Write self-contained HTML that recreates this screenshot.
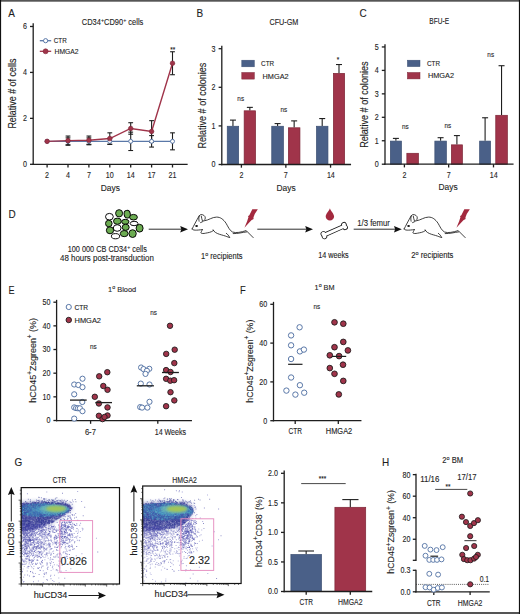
<!DOCTYPE html><html><head><meta charset="utf-8"><style>html,body{margin:0;padding:0;background:#fff;width:520px;height:614px;overflow:hidden}svg{display:block;font-family:"Liberation Sans", sans-serif} text{stroke:#1e1e1e;stroke-width:0.12px;paint-order:stroke}</style></head><body>
<svg width="520" height="614" viewBox="0 0 520 614">
<defs><filter id="b1" x="-50%" y="-50%" width="200%" height="200%"><feGaussianBlur stdDeviation="1.2"/></filter><filter id="b2" x="-50%" y="-50%" width="200%" height="200%"><feGaussianBlur stdDeviation="2.2"/></filter></defs>
<rect width="520" height="614" fill="#fff"/>
<text transform="translate(8.2 16.8) scale(0.86 1)" font-size="11.6" text-anchor="start" fill="#1e1e1e">A</text>
<text x="81.8" y="25.42" font-size="8.2" fill="#1e1e1e" textLength="61.5" lengthAdjust="spacingAndGlyphs">CD34<tspan dy="-2.95" font-size="5.9">+</tspan><tspan dy="2.95">CD90<tspan dy="-2.95" font-size="5.9">+</tspan><tspan dy="2.95"> cells</tspan></tspan></text>
<line x1="33.2" y1="23.8" x2="33.2" y2="164.3" stroke="#1e1e1e" stroke-width="1.3" stroke-linecap="square"/>
<line x1="30" y1="164.3" x2="33.2" y2="164.3" stroke="#1e1e1e" stroke-width="1.3"/>
<text transform="translate(27 167.16) scale(0.86 1)" font-size="8.3" text-anchor="end" fill="#1e1e1e">0</text>
<line x1="30" y1="118.36" x2="33.2" y2="118.36" stroke="#1e1e1e" stroke-width="1.3"/>
<text transform="translate(27 121.22) scale(0.86 1)" font-size="8.3" text-anchor="end" fill="#1e1e1e">2</text>
<line x1="30" y1="72.42" x2="33.2" y2="72.42" stroke="#1e1e1e" stroke-width="1.3"/>
<text transform="translate(27 75.28) scale(0.86 1)" font-size="8.3" text-anchor="end" fill="#1e1e1e">4</text>
<line x1="30" y1="26.48" x2="33.2" y2="26.48" stroke="#1e1e1e" stroke-width="1.3"/>
<text transform="translate(27 29.34) scale(0.86 1)" font-size="8.3" text-anchor="end" fill="#1e1e1e">6</text>
<line x1="33.2" y1="164.3" x2="187" y2="164.3" stroke="#1e1e1e" stroke-width="1.3" stroke-linecap="square"/>
<line x1="47.1" y1="164.3" x2="47.1" y2="167.5" stroke="#1e1e1e" stroke-width="1.3"/>
<line x1="68" y1="164.3" x2="68" y2="167.5" stroke="#1e1e1e" stroke-width="1.3"/>
<line x1="88.9" y1="164.3" x2="88.9" y2="167.5" stroke="#1e1e1e" stroke-width="1.3"/>
<line x1="109.8" y1="164.3" x2="109.8" y2="167.5" stroke="#1e1e1e" stroke-width="1.3"/>
<line x1="130.7" y1="164.3" x2="130.7" y2="167.5" stroke="#1e1e1e" stroke-width="1.3"/>
<line x1="151.6" y1="164.3" x2="151.6" y2="167.5" stroke="#1e1e1e" stroke-width="1.3"/>
<line x1="172.5" y1="164.3" x2="172.5" y2="167.5" stroke="#1e1e1e" stroke-width="1.3"/>
<text transform="translate(47.1 178.06) scale(0.86 1)" font-size="8.3" text-anchor="middle" fill="#1e1e1e">2</text>
<text transform="translate(68 178.06) scale(0.86 1)" font-size="8.3" text-anchor="middle" fill="#1e1e1e">4</text>
<text transform="translate(88.9 178.06) scale(0.86 1)" font-size="8.3" text-anchor="middle" fill="#1e1e1e">7</text>
<text transform="translate(109.8 178.06) scale(0.86 1)" font-size="8.3" text-anchor="middle" fill="#1e1e1e">10</text>
<text transform="translate(130.7 178.06) scale(0.86 1)" font-size="8.3" text-anchor="middle" fill="#1e1e1e">14</text>
<text transform="translate(151.6 178.06) scale(0.86 1)" font-size="8.3" text-anchor="middle" fill="#1e1e1e">17</text>
<text transform="translate(172.5 178.06) scale(0.86 1)" font-size="8.3" text-anchor="middle" fill="#1e1e1e">21</text>
<text x="110.3" y="191.01" font-size="9.6" text-anchor="middle" textLength="19.2" lengthAdjust="spacingAndGlyphs" fill="#1e1e1e">Days</text>
<text transform="translate(16.18 93.6) rotate(-90)" x="0" y="0" font-size="10.1" text-anchor="middle" textLength="70" lengthAdjust="spacingAndGlyphs" fill="#1e1e1e">Relative # of cells</text>
<line x1="68" y1="144.78" x2="68" y2="137.88" stroke="#1e1e1e" stroke-width="1.1"/>
<line x1="65.6" y1="137.88" x2="70.4" y2="137.88" stroke="#1e1e1e" stroke-width="1.1"/>
<line x1="65.6" y1="144.78" x2="70.4" y2="144.78" stroke="#1e1e1e" stroke-width="1.1"/>
<line x1="68" y1="145.23" x2="68" y2="136.05" stroke="#1e1e1e" stroke-width="1.1"/>
<line x1="65.6" y1="136.05" x2="70.4" y2="136.05" stroke="#1e1e1e" stroke-width="1.1"/>
<line x1="65.6" y1="145.23" x2="70.4" y2="145.23" stroke="#1e1e1e" stroke-width="1.1"/>
<line x1="88.9" y1="144.78" x2="88.9" y2="137.88" stroke="#1e1e1e" stroke-width="1.1"/>
<line x1="86.5" y1="137.88" x2="91.3" y2="137.88" stroke="#1e1e1e" stroke-width="1.1"/>
<line x1="86.5" y1="144.78" x2="91.3" y2="144.78" stroke="#1e1e1e" stroke-width="1.1"/>
<line x1="88.9" y1="144.32" x2="88.9" y2="136.05" stroke="#1e1e1e" stroke-width="1.1"/>
<line x1="86.5" y1="136.05" x2="91.3" y2="136.05" stroke="#1e1e1e" stroke-width="1.1"/>
<line x1="86.5" y1="144.32" x2="91.3" y2="144.32" stroke="#1e1e1e" stroke-width="1.1"/>
<line x1="109.8" y1="144.32" x2="109.8" y2="138.34" stroke="#1e1e1e" stroke-width="1.1"/>
<line x1="107.4" y1="138.34" x2="112.2" y2="138.34" stroke="#1e1e1e" stroke-width="1.1"/>
<line x1="107.4" y1="144.32" x2="112.2" y2="144.32" stroke="#1e1e1e" stroke-width="1.1"/>
<line x1="109.8" y1="144.32" x2="109.8" y2="132.83" stroke="#1e1e1e" stroke-width="1.1"/>
<line x1="107.4" y1="132.83" x2="112.2" y2="132.83" stroke="#1e1e1e" stroke-width="1.1"/>
<line x1="107.4" y1="144.32" x2="112.2" y2="144.32" stroke="#1e1e1e" stroke-width="1.1"/>
<line x1="130.7" y1="150.52" x2="130.7" y2="132.14" stroke="#1e1e1e" stroke-width="1.1"/>
<line x1="128.3" y1="132.14" x2="133.1" y2="132.14" stroke="#1e1e1e" stroke-width="1.1"/>
<line x1="128.3" y1="150.52" x2="133.1" y2="150.52" stroke="#1e1e1e" stroke-width="1.1"/>
<line x1="130.7" y1="134.21" x2="130.7" y2="122.72" stroke="#1e1e1e" stroke-width="1.1"/>
<line x1="128.3" y1="122.72" x2="133.1" y2="122.72" stroke="#1e1e1e" stroke-width="1.1"/>
<line x1="128.3" y1="134.21" x2="133.1" y2="134.21" stroke="#1e1e1e" stroke-width="1.1"/>
<line x1="151.6" y1="147.07" x2="151.6" y2="135.59" stroke="#1e1e1e" stroke-width="1.1"/>
<line x1="149.2" y1="135.59" x2="154" y2="135.59" stroke="#1e1e1e" stroke-width="1.1"/>
<line x1="149.2" y1="147.07" x2="154" y2="147.07" stroke="#1e1e1e" stroke-width="1.1"/>
<line x1="151.6" y1="142.25" x2="151.6" y2="120.66" stroke="#1e1e1e" stroke-width="1.1"/>
<line x1="149.2" y1="120.66" x2="154" y2="120.66" stroke="#1e1e1e" stroke-width="1.1"/>
<line x1="149.2" y1="142.25" x2="154" y2="142.25" stroke="#1e1e1e" stroke-width="1.1"/>
<line x1="172.5" y1="149.83" x2="172.5" y2="132.83" stroke="#1e1e1e" stroke-width="1.1"/>
<line x1="170.1" y1="132.83" x2="174.9" y2="132.83" stroke="#1e1e1e" stroke-width="1.1"/>
<line x1="170.1" y1="149.83" x2="174.9" y2="149.83" stroke="#1e1e1e" stroke-width="1.1"/>
<line x1="172.5" y1="74.72" x2="172.5" y2="51.75" stroke="#1e1e1e" stroke-width="1.1"/>
<line x1="170.1" y1="51.75" x2="174.9" y2="51.75" stroke="#1e1e1e" stroke-width="1.1"/>
<line x1="170.1" y1="74.72" x2="174.9" y2="74.72" stroke="#1e1e1e" stroke-width="1.1"/>
<polyline points="47.1,141.33 68,141.33 88.9,141.33 109.8,141.33 130.7,141.33 151.6,141.33 172.5,141.33" fill="none" stroke="#5a78a8" stroke-width="1.4"/>
<circle cx="47.1" cy="141.33" r="2" fill="#fff" stroke="#5a78a8" stroke-width="1"/>
<circle cx="68" cy="141.33" r="2" fill="#fff" stroke="#5a78a8" stroke-width="1"/>
<circle cx="88.9" cy="141.33" r="2" fill="#fff" stroke="#5a78a8" stroke-width="1"/>
<circle cx="109.8" cy="141.33" r="2" fill="#fff" stroke="#5a78a8" stroke-width="1"/>
<circle cx="130.7" cy="141.33" r="2" fill="#fff" stroke="#5a78a8" stroke-width="1"/>
<circle cx="151.6" cy="141.33" r="2" fill="#fff" stroke="#5a78a8" stroke-width="1"/>
<circle cx="172.5" cy="141.33" r="2" fill="#fff" stroke="#5a78a8" stroke-width="1"/>
<polyline points="47.1,141.33 68,140.64 88.9,140.18 109.8,138.57 130.7,128.47 151.6,131.45 172.5,63.23" fill="none" stroke="#a0344a" stroke-width="1.4"/>
<circle cx="47.1" cy="141.33" r="2.3" fill="#a0344a" stroke="#7d2536" stroke-width="0.6"/>
<circle cx="68" cy="140.64" r="2.3" fill="#a0344a" stroke="#7d2536" stroke-width="0.6"/>
<circle cx="88.9" cy="140.18" r="2.3" fill="#a0344a" stroke="#7d2536" stroke-width="0.6"/>
<circle cx="109.8" cy="138.57" r="2.3" fill="#a0344a" stroke="#7d2536" stroke-width="0.6"/>
<circle cx="130.7" cy="128.47" r="2.3" fill="#a0344a" stroke="#7d2536" stroke-width="0.6"/>
<circle cx="151.6" cy="131.45" r="2.3" fill="#a0344a" stroke="#7d2536" stroke-width="0.6"/>
<circle cx="172.5" cy="63.23" r="2.3" fill="#a0344a" stroke="#7d2536" stroke-width="0.6"/>
<text transform="translate(172.7 51.64) scale(0.86 1)" font-size="7.4" text-anchor="middle" fill="#1e1e1e">**</text>
<line x1="39.8" y1="40.7" x2="51.2" y2="40.7" stroke="#5a78a8" stroke-width="1.3"/>
<circle cx="45.6" cy="40.7" r="2.1" fill="#fff" stroke="#5a78a8" stroke-width="1"/>
<text x="53.8" y="43.49" font-size="7.5" text-anchor="start" textLength="13" lengthAdjust="spacingAndGlyphs" fill="#1e1e1e">CTR</text>
<line x1="39.8" y1="51.3" x2="51.2" y2="51.3" stroke="#a0344a" stroke-width="1.3"/>
<circle cx="45.6" cy="51.3" r="2.5" fill="#a0344a" stroke="#7d2536" stroke-width="0.6"/>
<text x="54.6" y="53.99" font-size="7.5" text-anchor="start" textLength="24" lengthAdjust="spacingAndGlyphs" fill="#1e1e1e">HMGA2</text>
<text transform="translate(196.6 17.2) scale(0.86 1)" font-size="11.6" text-anchor="start" fill="#1e1e1e">B</text>
<text x="283.9" y="25.16" font-size="8.3" text-anchor="middle" textLength="29" lengthAdjust="spacingAndGlyphs" fill="#1e1e1e">CFU-GM</text>
<line x1="221.8" y1="46.5" x2="221.8" y2="164.5" stroke="#1e1e1e" stroke-width="1.3" stroke-linecap="square"/>
<line x1="218.6" y1="164.5" x2="221.8" y2="164.5" stroke="#1e1e1e" stroke-width="1.3"/>
<text transform="translate(215.6 167.36) scale(0.86 1)" font-size="8.3" text-anchor="end" fill="#1e1e1e">0</text>
<line x1="218.6" y1="125.9" x2="221.8" y2="125.9" stroke="#1e1e1e" stroke-width="1.3"/>
<text transform="translate(215.6 128.76) scale(0.86 1)" font-size="8.3" text-anchor="end" fill="#1e1e1e">1</text>
<line x1="218.6" y1="87.3" x2="221.8" y2="87.3" stroke="#1e1e1e" stroke-width="1.3"/>
<text transform="translate(215.6 90.16) scale(0.86 1)" font-size="8.3" text-anchor="end" fill="#1e1e1e">2</text>
<line x1="218.6" y1="48.7" x2="221.8" y2="48.7" stroke="#1e1e1e" stroke-width="1.3"/>
<text transform="translate(215.6 51.56) scale(0.86 1)" font-size="8.3" text-anchor="end" fill="#1e1e1e">3</text>
<line x1="232.95" y1="125.9" x2="232.95" y2="120.11" stroke="#1e1e1e" stroke-width="1.1"/>
<line x1="229.95" y1="120.11" x2="235.95" y2="120.11" stroke="#1e1e1e" stroke-width="1.1"/>
<rect x="227.25" y="126.25" width="11.4" height="38.25" fill="#4a6088" stroke="#3b4f73" stroke-width="0.7"/>
<line x1="249.85" y1="110.46" x2="249.85" y2="107.37" stroke="#1e1e1e" stroke-width="1.1"/>
<line x1="246.85" y1="107.37" x2="252.85" y2="107.37" stroke="#1e1e1e" stroke-width="1.1"/>
<rect x="244.15" y="110.81" width="11.4" height="53.69" fill="#a0344a" stroke="#7d2536" stroke-width="0.7"/>
<line x1="277.6" y1="125.9" x2="277.6" y2="123.58" stroke="#1e1e1e" stroke-width="1.1"/>
<line x1="274.6" y1="123.58" x2="280.6" y2="123.58" stroke="#1e1e1e" stroke-width="1.1"/>
<rect x="271.75" y="126.25" width="11.7" height="38.25" fill="#4a6088" stroke="#3b4f73" stroke-width="0.7"/>
<line x1="294.15" y1="127.44" x2="294.15" y2="120.88" stroke="#1e1e1e" stroke-width="1.1"/>
<line x1="291.15" y1="120.88" x2="297.15" y2="120.88" stroke="#1e1e1e" stroke-width="1.1"/>
<rect x="288.35" y="127.79" width="11.6" height="36.71" fill="#a0344a" stroke="#7d2536" stroke-width="0.7"/>
<line x1="322.2" y1="125.9" x2="322.2" y2="118.57" stroke="#1e1e1e" stroke-width="1.1"/>
<line x1="319.2" y1="118.57" x2="325.2" y2="118.57" stroke="#1e1e1e" stroke-width="1.1"/>
<rect x="316.45" y="126.25" width="11.5" height="38.25" fill="#4a6088" stroke="#3b4f73" stroke-width="0.7"/>
<line x1="339" y1="73.02" x2="339" y2="64.53" stroke="#1e1e1e" stroke-width="1.1"/>
<line x1="336" y1="64.53" x2="342" y2="64.53" stroke="#1e1e1e" stroke-width="1.1"/>
<rect x="333.35" y="73.37" width="11.3" height="91.13" fill="#a0344a" stroke="#7d2536" stroke-width="0.7"/>
<line x1="221.8" y1="164.5" x2="350.4" y2="164.5" stroke="#1e1e1e" stroke-width="1.3" stroke-linecap="square"/>
<line x1="241.4" y1="164.5" x2="241.4" y2="167.7" stroke="#1e1e1e" stroke-width="1.3"/>
<line x1="285.85" y1="164.5" x2="285.85" y2="167.7" stroke="#1e1e1e" stroke-width="1.3"/>
<line x1="330.55" y1="164.5" x2="330.55" y2="167.7" stroke="#1e1e1e" stroke-width="1.3"/>
<text transform="translate(241.4 178.06) scale(0.86 1)" font-size="8.3" text-anchor="middle" fill="#1e1e1e">2</text>
<text transform="translate(285.85 178.06) scale(0.86 1)" font-size="8.3" text-anchor="middle" fill="#1e1e1e">7</text>
<text transform="translate(330.85 178.06) scale(0.86 1)" font-size="8.3" text-anchor="middle" fill="#1e1e1e">14</text>
<text x="286" y="191.01" font-size="9.6" text-anchor="middle" textLength="19.2" lengthAdjust="spacingAndGlyphs" fill="#1e1e1e">Days</text>
<text transform="translate(240.7 101.22) scale(0.86 1)" font-size="7.4" text-anchor="middle" fill="#1e1e1e">ns</text>
<text transform="translate(283.8 112.32) scale(0.86 1)" font-size="7.4" text-anchor="middle" fill="#1e1e1e">ns</text>
<text transform="translate(338.1 62.44) scale(0.86 1)" font-size="7.4" text-anchor="middle" fill="#1e1e1e">*</text>
<rect x="241.8" y="60.2" width="12.5" height="6.6" fill="#4a6088" stroke="#3b4f73" stroke-width="0.5"/>
<rect x="241.8" y="72.5" width="12.5" height="6.6" fill="#a0344a" stroke="#7d2536" stroke-width="0.5"/>
<text x="261.1" y="66.29" font-size="7.5" text-anchor="start" textLength="13" lengthAdjust="spacingAndGlyphs" fill="#1e1e1e">CTR</text>
<text x="262.6" y="78.59" font-size="7.5" text-anchor="start" textLength="26" lengthAdjust="spacingAndGlyphs" fill="#1e1e1e">HMGA2</text>
<text transform="translate(206.38 105.6) rotate(-90)" x="0" y="0" font-size="10.1" text-anchor="middle" textLength="85.8" lengthAdjust="spacingAndGlyphs" fill="#1e1e1e">Relative # of colonies</text>
<text transform="translate(359.5 16.8) scale(0.86 1)" font-size="11.6" text-anchor="start" fill="#1e1e1e">C</text>
<text x="439.2" y="24.46" font-size="8.3" text-anchor="middle" textLength="19.7" lengthAdjust="spacingAndGlyphs" fill="#1e1e1e">BFU-E</text>
<line x1="385" y1="45" x2="385" y2="164.2" stroke="#1e1e1e" stroke-width="1.3" stroke-linecap="square"/>
<line x1="381.8" y1="164.2" x2="385" y2="164.2" stroke="#1e1e1e" stroke-width="1.3"/>
<text transform="translate(378.8 167.06) scale(0.86 1)" font-size="8.3" text-anchor="end" fill="#1e1e1e">0</text>
<line x1="381.8" y1="140.75" x2="385" y2="140.75" stroke="#1e1e1e" stroke-width="1.3"/>
<text transform="translate(378.8 143.61) scale(0.86 1)" font-size="8.3" text-anchor="end" fill="#1e1e1e">1</text>
<line x1="381.8" y1="117.3" x2="385" y2="117.3" stroke="#1e1e1e" stroke-width="1.3"/>
<text transform="translate(378.8 120.16) scale(0.86 1)" font-size="8.3" text-anchor="end" fill="#1e1e1e">2</text>
<line x1="381.8" y1="93.85" x2="385" y2="93.85" stroke="#1e1e1e" stroke-width="1.3"/>
<text transform="translate(378.8 96.71) scale(0.86 1)" font-size="8.3" text-anchor="end" fill="#1e1e1e">3</text>
<line x1="381.8" y1="70.4" x2="385" y2="70.4" stroke="#1e1e1e" stroke-width="1.3"/>
<text transform="translate(378.8 73.26) scale(0.86 1)" font-size="8.3" text-anchor="end" fill="#1e1e1e">4</text>
<line x1="381.8" y1="46.95" x2="385" y2="46.95" stroke="#1e1e1e" stroke-width="1.3"/>
<text transform="translate(378.8 49.81) scale(0.86 1)" font-size="8.3" text-anchor="end" fill="#1e1e1e">5</text>
<line x1="395.9" y1="140.75" x2="395.9" y2="138.4" stroke="#1e1e1e" stroke-width="1.1"/>
<line x1="392.9" y1="138.4" x2="398.9" y2="138.4" stroke="#1e1e1e" stroke-width="1.1"/>
<rect x="390.35" y="141.1" width="11.1" height="23.1" fill="#4a6088" stroke="#3b4f73" stroke-width="0.7"/>
<rect x="406.85" y="153.29" width="11.6" height="10.91" fill="#a0344a" stroke="#7d2536" stroke-width="0.7"/>
<line x1="440.6" y1="140.75" x2="440.6" y2="137.7" stroke="#1e1e1e" stroke-width="1.1"/>
<line x1="437.6" y1="137.7" x2="443.6" y2="137.7" stroke="#1e1e1e" stroke-width="1.1"/>
<rect x="434.85" y="141.1" width="11.5" height="23.1" fill="#4a6088" stroke="#3b4f73" stroke-width="0.7"/>
<line x1="456.9" y1="144.5" x2="456.9" y2="135.59" stroke="#1e1e1e" stroke-width="1.1"/>
<line x1="453.9" y1="135.59" x2="459.9" y2="135.59" stroke="#1e1e1e" stroke-width="1.1"/>
<rect x="451.35" y="144.85" width="11.1" height="19.35" fill="#a0344a" stroke="#7d2536" stroke-width="0.7"/>
<line x1="485.1" y1="140.75" x2="485.1" y2="117.77" stroke="#1e1e1e" stroke-width="1.1"/>
<line x1="482.1" y1="117.77" x2="488.1" y2="117.77" stroke="#1e1e1e" stroke-width="1.1"/>
<rect x="479.65" y="141.1" width="10.9" height="23.1" fill="#4a6088" stroke="#3b4f73" stroke-width="0.7"/>
<line x1="501.55" y1="114.95" x2="501.55" y2="65.71" stroke="#1e1e1e" stroke-width="1.1"/>
<line x1="498.55" y1="65.71" x2="504.55" y2="65.71" stroke="#1e1e1e" stroke-width="1.1"/>
<rect x="495.75" y="115.3" width="11.6" height="48.9" fill="#a0344a" stroke="#7d2536" stroke-width="0.7"/>
<line x1="385" y1="164.2" x2="512.9" y2="164.2" stroke="#1e1e1e" stroke-width="1.3" stroke-linecap="square"/>
<line x1="404.4" y1="164.2" x2="404.4" y2="167.4" stroke="#1e1e1e" stroke-width="1.3"/>
<line x1="448.65" y1="164.2" x2="448.65" y2="167.4" stroke="#1e1e1e" stroke-width="1.3"/>
<line x1="493.5" y1="164.2" x2="493.5" y2="167.4" stroke="#1e1e1e" stroke-width="1.3"/>
<text transform="translate(404.4 178.06) scale(0.86 1)" font-size="8.3" text-anchor="middle" fill="#1e1e1e">2</text>
<text transform="translate(448.65 178.06) scale(0.86 1)" font-size="8.3" text-anchor="middle" fill="#1e1e1e">7</text>
<text transform="translate(493.8 178.06) scale(0.86 1)" font-size="8.3" text-anchor="middle" fill="#1e1e1e">14</text>
<text x="448" y="190.11" font-size="9.6" text-anchor="middle" textLength="19.2" lengthAdjust="spacingAndGlyphs" fill="#1e1e1e">Days</text>
<text transform="translate(405.3 128.82) scale(0.86 1)" font-size="7.4" text-anchor="middle" fill="#1e1e1e">ns</text>
<text transform="translate(447.9 127.62) scale(0.86 1)" font-size="7.4" text-anchor="middle" fill="#1e1e1e">ns</text>
<text transform="translate(490.7 57.22) scale(0.86 1)" font-size="7.4" text-anchor="middle" fill="#1e1e1e">ns</text>
<rect x="407.4" y="60.2" width="12.6" height="6.4" fill="#4a6088" stroke="#3b4f73" stroke-width="0.5"/>
<rect x="407.4" y="72.5" width="12.6" height="6.4" fill="#a0344a" stroke="#7d2536" stroke-width="0.5"/>
<text x="427" y="66.19" font-size="7.5" text-anchor="start" textLength="13" lengthAdjust="spacingAndGlyphs" fill="#1e1e1e">CTR</text>
<text x="428" y="78.49" font-size="7.5" text-anchor="start" textLength="26" lengthAdjust="spacingAndGlyphs" fill="#1e1e1e">HMGA2</text>
<text transform="translate(368.38 104.6) rotate(-90)" x="0" y="0" font-size="10.1" text-anchor="middle" textLength="86.5" lengthAdjust="spacingAndGlyphs" fill="#1e1e1e">Relative # of colonies</text>
<text transform="translate(8.6 218.2) scale(0.86 1)" font-size="11.6" text-anchor="start" fill="#1e1e1e">D</text>
<ellipse cx="109.4" cy="216.7" rx="3.9" ry="3.3" fill="#fff" stroke="#000" stroke-width="0.95"/>
<ellipse cx="119.1" cy="213.3" rx="3.5" ry="3.65" fill="#6cac52" stroke="#000" stroke-width="0.95"/>
<ellipse cx="127.2" cy="214.2" rx="3.1" ry="3.9" fill="#6cac52" stroke="#000" stroke-width="0.95" transform="rotate(-10 127.2 214.2)"/>
<ellipse cx="133.5" cy="217.2" rx="3.9" ry="2.8" fill="#6cac52" stroke="#000" stroke-width="0.95"/>
<ellipse cx="108.8" cy="223.5" rx="3.3" ry="3.3" fill="#6cac52" stroke="#000" stroke-width="0.95"/>
<ellipse cx="117.4" cy="221.2" rx="3.9" ry="3.1" fill="#6cac52" stroke="#000" stroke-width="0.95"/>
<ellipse cx="125.3" cy="221.8" rx="3.65" ry="2.5" fill="#6cac52" stroke="#000" stroke-width="0.95"/>
<ellipse cx="134.1" cy="223.5" rx="3.9" ry="2.2" fill="#fff" stroke="#000" stroke-width="0.95"/>
<ellipse cx="139.6" cy="228.2" rx="3.5" ry="3.9" fill="#6cac52" stroke="#000" stroke-width="0.95"/>
<ellipse cx="117.2" cy="228" rx="3.9" ry="3.3" fill="#fff" stroke="#000" stroke-width="0.95"/>
<ellipse cx="125.7" cy="227.3" rx="3.5" ry="3.1" fill="#6cac52" stroke="#000" stroke-width="0.95"/>
<ellipse cx="110" cy="230.3" rx="3.65" ry="3.5" fill="#6cac52" stroke="#000" stroke-width="0.95"/>
<ellipse cx="124.2" cy="233.6" rx="3.9" ry="3.1" fill="#6cac52" stroke="#000" stroke-width="0.95"/>
<ellipse cx="132.6" cy="233.6" rx="3.65" ry="3.9" fill="#6cac52" stroke="#000" stroke-width="0.95"/>
<ellipse cx="115.5" cy="236.2" rx="4.1" ry="2.6" fill="#fff" stroke="#000" stroke-width="0.95"/>
<line x1="148.7" y1="229.2" x2="181.5" y2="229.2" stroke="#222" stroke-width="0.95"/>
<path d="M188,229.2 L180.2,226 L181.3,229.2 L180.2,232.4 Z" fill="#111"/>
<line x1="257.3" y1="229.2" x2="306.5" y2="229.2" stroke="#222" stroke-width="0.95"/>
<path d="M313,229.2 L305.2,226 L306.3,229.2 L305.2,232.4 Z" fill="#111"/>
<line x1="353.7" y1="229.2" x2="395.3" y2="229.2" stroke="#222" stroke-width="0.95"/>
<path d="M401.8,229.2 L394,226 L395.1,229.2 L394,232.4 Z" fill="#111"/>
<g transform="translate(0 0)">
<path d="M192.1,229 C193.6,226 196.5,220.5 199.3,215.6 M199.1,221.2 C198.4,218 199,214.9 200.9,214.6 C203,214.3 205.3,215.9 205.3,217.9 C205.3,220 203.2,221.8 200.6,222.6 M201.3,216.2 C201.6,218 201.9,219.5 202.5,221 M204.6,220.8 C209,220 212,217.2 216.5,217.1 C220.5,217 223.5,219.5 226,223.2 C228,226.5 229.5,230.5 232.5,232 C236,233.3 241,232.2 246.2,230.6 L253.2,237.6 M233.2,233.6 C238,233.8 242,232.4 246.6,231.9 M192.1,229 C193,230.6 196,230.4 202.3,229.6 M202.3,229.6 C201.8,231 201.1,232.2 200.8,232.8 C201.8,233.8 203.5,233.6 205.5,233.2 C208,232.6 211,232.6 213.6,230.4 M213.1,229.9 C214,232 216.5,233.3 219.5,234.3 C222.5,235.2 225,235.8 226.8,236.6 L229.8,237.6 C228.7,235.6 228,234.6 226.3,233.3" fill="none" stroke="#111" stroke-width="0.8" stroke-linecap="round" stroke-linejoin="round"/>
<ellipse cx="196.6" cy="226.1" rx="1.35" ry="1.0" fill="#111"/>
<polygon points="252.33,209.19 257.84,209.19 254.76,214.03 253.44,217.56 253.6,219.0 251.37,220.2 244.41,227.69 247.05,221.52 248.5,216.9 247.9,216.3 249.34,215.22" fill="#a3293e"/>
</g>
<g transform="translate(212 0)">
<path d="M192.1,229 C193.6,226 196.5,220.5 199.3,215.6 M199.1,221.2 C198.4,218 199,214.9 200.9,214.6 C203,214.3 205.3,215.9 205.3,217.9 C205.3,220 203.2,221.8 200.6,222.6 M201.3,216.2 C201.6,218 201.9,219.5 202.5,221 M204.6,220.8 C209,220 212,217.2 216.5,217.1 C220.5,217 223.5,219.5 226,223.2 C228,226.5 229.5,230.5 232.5,232 C236,233.3 241,232.2 246.2,230.6 L253.2,237.6 M233.2,233.6 C238,233.8 242,232.4 246.6,231.9 M192.1,229 C193,230.6 196,230.4 202.3,229.6 M202.3,229.6 C201.8,231 201.1,232.2 200.8,232.8 C201.8,233.8 203.5,233.6 205.5,233.2 C208,232.6 211,232.6 213.6,230.4 M213.1,229.9 C214,232 216.5,233.3 219.5,234.3 C222.5,235.2 225,235.8 226.8,236.6 L229.8,237.6 C228.7,235.6 228,234.6 226.3,233.3" fill="none" stroke="#111" stroke-width="0.8" stroke-linecap="round" stroke-linejoin="round"/>
<ellipse cx="196.6" cy="226.1" rx="1.35" ry="1.0" fill="#111"/>
<polygon points="252.33,209.19 257.84,209.19 254.76,214.03 253.44,217.56 253.6,219.0 251.37,220.2 244.41,227.69 247.05,221.52 248.5,216.9 247.9,216.3 249.34,215.22" fill="#a3293e"/>
</g>
<path d="M329.9,208.2 C330.5,211 334.1,213.6 334.1,216.4 A4.2,4.2 0 0 1 325.7,216.4 C325.7,213.6 329.3,211 329.9,208.2 Z" fill="#a3293e"/>
<g transform="translate(334.2 230.6) rotate(-24)">
<g fill="#111" stroke="#111" stroke-width="1.5"><g><rect x="-10.5" y="-1.5" width="21" height="3"/><circle cx="-11.3" cy="-1.4" r="2.0"/><circle cx="-11.3" cy="1.4" r="2.0"/><circle cx="11.3" cy="-1.4" r="2.0"/><circle cx="11.3" cy="1.4" r="2.0"/></g></g>
<g fill="#fff" stroke="none"><g><rect x="-10.5" y="-1.5" width="21" height="3"/><circle cx="-11.3" cy="-1.4" r="2.0"/><circle cx="-11.3" cy="1.4" r="2.0"/><circle cx="11.3" cy="-1.4" r="2.0"/><circle cx="11.3" cy="1.4" r="2.0"/></g></g>
</g>
<text x="67.7" y="252.06" font-size="8.3" fill="#1e1e1e" textLength="79.2" lengthAdjust="spacingAndGlyphs">100 000 CB CD34<tspan dy="-2.99" font-size="5.98">+</tspan><tspan dy="2.99"> cells</tspan></text>
<text x="106.9" y="261.06" font-size="8.3" text-anchor="middle" textLength="93.8" lengthAdjust="spacingAndGlyphs" fill="#1e1e1e">48 hours post-transduction</text>
<text x="221.8" y="258.96" font-size="8.3" text-anchor="middle" textLength="41.5" lengthAdjust="spacingAndGlyphs" fill="#1e1e1e">1<tspan dy="-2.99" font-size="5.98">o</tspan><tspan dy="2.99"> recipients</tspan></text>
<text x="333.4" y="258.36" font-size="8.3" text-anchor="middle" textLength="30.5" lengthAdjust="spacingAndGlyphs" fill="#1e1e1e">14 weeks</text>
<text x="373.6" y="225.96" font-size="8.3" text-anchor="middle" textLength="32.7" lengthAdjust="spacingAndGlyphs" fill="#1e1e1e">1/3 femur</text>
<text x="432.4" y="258.46" font-size="8.3" text-anchor="middle" textLength="42.1" lengthAdjust="spacingAndGlyphs" fill="#1e1e1e">2<tspan dy="-2.99" font-size="5.98">o</tspan><tspan dy="2.99"> recipients</tspan></text>
<text transform="translate(8.5 294.2) scale(0.78 1)" font-size="11.6" text-anchor="start" fill="#1e1e1e">E</text>
<text x="122.1" y="291.62" font-size="7.6" text-anchor="middle" textLength="28" lengthAdjust="spacingAndGlyphs" fill="#1e1e1e">1<tspan dy="-2.74" font-size="5.47">o</tspan><tspan dy="2.74"> Blood</tspan></text>
<line x1="56.6" y1="300.5" x2="56.6" y2="420.6" stroke="#1e1e1e" stroke-width="1.3" stroke-linecap="square"/>
<line x1="53.4" y1="420.5" x2="56.6" y2="420.5" stroke="#1e1e1e" stroke-width="1.3"/>
<text transform="translate(50.4 423.36) scale(0.86 1)" font-size="8.3" text-anchor="end" fill="#1e1e1e">0</text>
<line x1="53.4" y1="396.84" x2="56.6" y2="396.84" stroke="#1e1e1e" stroke-width="1.3"/>
<text transform="translate(50.4 399.7) scale(0.86 1)" font-size="8.3" text-anchor="end" fill="#1e1e1e">10</text>
<line x1="53.4" y1="373.18" x2="56.6" y2="373.18" stroke="#1e1e1e" stroke-width="1.3"/>
<text transform="translate(50.4 376.04) scale(0.86 1)" font-size="8.3" text-anchor="end" fill="#1e1e1e">20</text>
<line x1="53.4" y1="349.52" x2="56.6" y2="349.52" stroke="#1e1e1e" stroke-width="1.3"/>
<text transform="translate(50.4 352.38) scale(0.86 1)" font-size="8.3" text-anchor="end" fill="#1e1e1e">30</text>
<line x1="53.4" y1="325.86" x2="56.6" y2="325.86" stroke="#1e1e1e" stroke-width="1.3"/>
<text transform="translate(50.4 328.72) scale(0.86 1)" font-size="8.3" text-anchor="end" fill="#1e1e1e">40</text>
<line x1="53.4" y1="302.2" x2="56.6" y2="302.2" stroke="#1e1e1e" stroke-width="1.3"/>
<text transform="translate(50.4 305.06) scale(0.86 1)" font-size="8.3" text-anchor="end" fill="#1e1e1e">50</text>
<line x1="56.6" y1="420.6" x2="191.3" y2="420.6" stroke="#1e1e1e" stroke-width="1.3" stroke-linecap="square"/>
<line x1="90.6" y1="420.6" x2="90.6" y2="423.8" stroke="#1e1e1e" stroke-width="1.3"/>
<line x1="157.8" y1="420.6" x2="157.8" y2="423.8" stroke="#1e1e1e" stroke-width="1.3"/>
<text x="90.4" y="434.56" font-size="8.3" text-anchor="middle" textLength="11" lengthAdjust="spacingAndGlyphs" fill="#1e1e1e">6-7</text>
<text x="170.4" y="434.56" font-size="8.3" text-anchor="middle" textLength="31.4" lengthAdjust="spacingAndGlyphs" fill="#1e1e1e">14 Weeks</text>
<text transform="translate(35.6 360.3) rotate(-90)" font-size="9.3" text-anchor="middle" fill="#1e1e1e" textLength="84.7" lengthAdjust="spacingAndGlyphs">hCD45<tspan dy="-3.35" font-size="6.7">+</tspan><tspan dy="3.35">Zsgreen<tspan dy="-3.35" font-size="6.7">+</tspan><tspan dy="3.35"> (%)</tspan></tspan></text>
<circle cx="82.5" cy="378.7" r="2.6" fill="#fff" stroke="#5a78a8" stroke-width="1"/>
<circle cx="74.2" cy="384.5" r="2.6" fill="#fff" stroke="#5a78a8" stroke-width="1"/>
<circle cx="78.3" cy="385" r="2.6" fill="#fff" stroke="#5a78a8" stroke-width="1"/>
<circle cx="82.5" cy="387.2" r="2.6" fill="#fff" stroke="#5a78a8" stroke-width="1"/>
<circle cx="74.2" cy="394.3" r="2.6" fill="#fff" stroke="#5a78a8" stroke-width="1"/>
<circle cx="82.3" cy="402" r="2.6" fill="#fff" stroke="#5a78a8" stroke-width="1"/>
<circle cx="74.2" cy="407.4" r="2.6" fill="#fff" stroke="#5a78a8" stroke-width="1"/>
<circle cx="76.1" cy="408.1" r="2.6" fill="#fff" stroke="#5a78a8" stroke-width="1"/>
<circle cx="78" cy="408.3" r="2.6" fill="#fff" stroke="#5a78a8" stroke-width="1"/>
<circle cx="79.9" cy="408.3" r="2.6" fill="#fff" stroke="#5a78a8" stroke-width="1"/>
<circle cx="82.5" cy="411.2" r="2.6" fill="#fff" stroke="#5a78a8" stroke-width="1"/>
<circle cx="74.2" cy="418.6" r="2.6" fill="#fff" stroke="#5a78a8" stroke-width="1"/>
<circle cx="141.1" cy="367.5" r="2.6" fill="#fff" stroke="#5a78a8" stroke-width="1"/>
<circle cx="143.5" cy="369.1" r="2.6" fill="#fff" stroke="#5a78a8" stroke-width="1"/>
<circle cx="149.3" cy="368.8" r="2.6" fill="#fff" stroke="#5a78a8" stroke-width="1"/>
<circle cx="146.9" cy="370.8" r="2.6" fill="#fff" stroke="#5a78a8" stroke-width="1"/>
<circle cx="145.5" cy="373.9" r="2.6" fill="#fff" stroke="#5a78a8" stroke-width="1"/>
<circle cx="140.8" cy="383.6" r="2.6" fill="#fff" stroke="#5a78a8" stroke-width="1"/>
<circle cx="149.5" cy="384.5" r="2.6" fill="#fff" stroke="#5a78a8" stroke-width="1"/>
<circle cx="149.5" cy="401.8" r="2.6" fill="#fff" stroke="#5a78a8" stroke-width="1"/>
<circle cx="140.2" cy="407.1" r="2.6" fill="#fff" stroke="#5a78a8" stroke-width="1"/>
<circle cx="142.1" cy="407.6" r="2.6" fill="#fff" stroke="#5a78a8" stroke-width="1"/>
<circle cx="147.4" cy="407.6" r="2.6" fill="#fff" stroke="#5a78a8" stroke-width="1"/>
<circle cx="107.3" cy="372.2" r="2.75" fill="#a0344a" stroke="#1a1a1a" stroke-width="0.85"/>
<circle cx="99.2" cy="376.3" r="2.75" fill="#a0344a" stroke="#1a1a1a" stroke-width="0.85"/>
<circle cx="103.3" cy="386" r="2.75" fill="#a0344a" stroke="#1a1a1a" stroke-width="0.85"/>
<circle cx="107.5" cy="389.8" r="2.75" fill="#a0344a" stroke="#1a1a1a" stroke-width="0.85"/>
<circle cx="94.8" cy="396.8" r="2.75" fill="#a0344a" stroke="#1a1a1a" stroke-width="0.85"/>
<circle cx="98.9" cy="403.5" r="2.75" fill="#a0344a" stroke="#1a1a1a" stroke-width="0.85"/>
<circle cx="107.5" cy="407.4" r="2.75" fill="#a0344a" stroke="#1a1a1a" stroke-width="0.85"/>
<circle cx="98.9" cy="415.8" r="2.75" fill="#a0344a" stroke="#1a1a1a" stroke-width="0.85"/>
<circle cx="107.5" cy="415.5" r="2.75" fill="#a0344a" stroke="#1a1a1a" stroke-width="0.85"/>
<circle cx="102.5" cy="419.1" r="2.75" fill="#a0344a" stroke="#1a1a1a" stroke-width="0.85"/>
<circle cx="104.5" cy="417" r="2.75" fill="#a0344a" stroke="#1a1a1a" stroke-width="0.85"/>
<circle cx="170" cy="325.8" r="2.75" fill="#a0344a" stroke="#1a1a1a" stroke-width="0.85"/>
<circle cx="174.7" cy="349.7" r="2.75" fill="#a0344a" stroke="#1a1a1a" stroke-width="0.85"/>
<circle cx="166.2" cy="353.9" r="2.75" fill="#a0344a" stroke="#1a1a1a" stroke-width="0.85"/>
<circle cx="174.3" cy="363.1" r="2.75" fill="#a0344a" stroke="#1a1a1a" stroke-width="0.85"/>
<circle cx="166.1" cy="370.1" r="2.75" fill="#a0344a" stroke="#1a1a1a" stroke-width="0.85"/>
<circle cx="170.5" cy="372" r="2.75" fill="#a0344a" stroke="#1a1a1a" stroke-width="0.85"/>
<circle cx="166.1" cy="378.8" r="2.75" fill="#a0344a" stroke="#1a1a1a" stroke-width="0.85"/>
<circle cx="170.3" cy="380.7" r="2.75" fill="#a0344a" stroke="#1a1a1a" stroke-width="0.85"/>
<circle cx="174.1" cy="380.2" r="2.75" fill="#a0344a" stroke="#1a1a1a" stroke-width="0.85"/>
<circle cx="170.5" cy="392.2" r="2.75" fill="#a0344a" stroke="#1a1a1a" stroke-width="0.85"/>
<circle cx="174.3" cy="400.4" r="2.75" fill="#a0344a" stroke="#1a1a1a" stroke-width="0.85"/>
<circle cx="166.1" cy="406.2" r="2.75" fill="#a0344a" stroke="#1a1a1a" stroke-width="0.85"/>
<line x1="70" y1="400.1" x2="86.7" y2="400.1" stroke="#1e1e1e" stroke-width="1.3"/>
<line x1="95.3" y1="402.6" x2="112" y2="402.6" stroke="#1e1e1e" stroke-width="1.3"/>
<line x1="136.8" y1="385.8" x2="153.9" y2="385.8" stroke="#1e1e1e" stroke-width="1.3"/>
<line x1="162" y1="372.5" x2="178.9" y2="372.5" stroke="#1e1e1e" stroke-width="1.3"/>
<text transform="translate(93.4 349.32) scale(0.86 1)" font-size="7.4" text-anchor="middle" fill="#1e1e1e">ns</text>
<text transform="translate(153.5 315.12) scale(0.86 1)" font-size="7.4" text-anchor="middle" fill="#1e1e1e">ns</text>
<circle cx="68.75" cy="307" r="2.6" fill="#fff" stroke="#5a78a8" stroke-width="1"/>
<text x="74.5" y="309.79" font-size="7.5" text-anchor="start" textLength="13.6" lengthAdjust="spacingAndGlyphs" fill="#1e1e1e">CTR</text>
<circle cx="68.75" cy="320" r="2.75" fill="#a0344a" stroke="#1a1a1a" stroke-width="0.85"/>
<text x="74.5" y="322.79" font-size="7.5" text-anchor="start" textLength="26.5" lengthAdjust="spacingAndGlyphs" fill="#1e1e1e">HMGA2</text>
<text transform="translate(240 293.6) scale(0.8 1)" font-size="11.6" text-anchor="start" fill="#1e1e1e">F</text>
<text x="324.6" y="290.02" font-size="7.6" text-anchor="middle" textLength="20" lengthAdjust="spacingAndGlyphs" fill="#1e1e1e">1<tspan dy="-2.74" font-size="5.47">o</tspan><tspan dy="2.74"> BM</tspan></text>
<line x1="273.5" y1="302.5" x2="273.5" y2="420.7" stroke="#1e1e1e" stroke-width="1.3" stroke-linecap="square"/>
<line x1="270.3" y1="420.7" x2="273.5" y2="420.7" stroke="#1e1e1e" stroke-width="1.3"/>
<text transform="translate(267.3 423.56) scale(0.86 1)" font-size="8.3" text-anchor="end" fill="#1e1e1e">0</text>
<line x1="270.3" y1="381.9" x2="273.5" y2="381.9" stroke="#1e1e1e" stroke-width="1.3"/>
<text transform="translate(267.3 384.76) scale(0.86 1)" font-size="8.3" text-anchor="end" fill="#1e1e1e">20</text>
<line x1="270.3" y1="343.1" x2="273.5" y2="343.1" stroke="#1e1e1e" stroke-width="1.3"/>
<text transform="translate(267.3 345.96) scale(0.86 1)" font-size="8.3" text-anchor="end" fill="#1e1e1e">40</text>
<line x1="270.3" y1="304.3" x2="273.5" y2="304.3" stroke="#1e1e1e" stroke-width="1.3"/>
<text transform="translate(267.3 307.16) scale(0.86 1)" font-size="8.3" text-anchor="end" fill="#1e1e1e">60</text>
<line x1="273.5" y1="420.7" x2="360.8" y2="420.7" stroke="#1e1e1e" stroke-width="1.3" stroke-linecap="square"/>
<line x1="295.2" y1="420.7" x2="295.2" y2="423.9" stroke="#1e1e1e" stroke-width="1.3"/>
<line x1="338.3" y1="420.7" x2="338.3" y2="423.9" stroke="#1e1e1e" stroke-width="1.3"/>
<text x="295.2" y="434.26" font-size="8.3" text-anchor="middle" textLength="13.5" lengthAdjust="spacingAndGlyphs" fill="#1e1e1e">CTR</text>
<text x="339" y="434.26" font-size="8.3" text-anchor="middle" textLength="26.5" lengthAdjust="spacingAndGlyphs" fill="#1e1e1e">HMGA2</text>
<text transform="translate(252.8 361.2) rotate(-90)" font-size="9.3" text-anchor="middle" fill="#1e1e1e" textLength="83.1" lengthAdjust="spacingAndGlyphs">hCD45<tspan dy="-3.35" font-size="6.7">+</tspan><tspan dy="3.35">Zsgreen<tspan dy="-3.35" font-size="6.7">+</tspan><tspan dy="3.35"> (%)</tspan></tspan></text>
<circle cx="299.6" cy="327.3" r="2.7" fill="#fff" stroke="#5a78a8" stroke-width="1"/>
<circle cx="291.1" cy="335.4" r="2.7" fill="#fff" stroke="#5a78a8" stroke-width="1"/>
<circle cx="291.1" cy="345.3" r="2.7" fill="#fff" stroke="#5a78a8" stroke-width="1"/>
<circle cx="299.9" cy="351.4" r="2.7" fill="#fff" stroke="#5a78a8" stroke-width="1"/>
<circle cx="303.9" cy="349.6" r="2.7" fill="#fff" stroke="#5a78a8" stroke-width="1"/>
<circle cx="291.1" cy="359" r="2.7" fill="#fff" stroke="#5a78a8" stroke-width="1"/>
<circle cx="291.1" cy="377.5" r="2.7" fill="#fff" stroke="#5a78a8" stroke-width="1"/>
<circle cx="299.9" cy="385.2" r="2.7" fill="#fff" stroke="#5a78a8" stroke-width="1"/>
<circle cx="286.4" cy="390.6" r="2.7" fill="#fff" stroke="#5a78a8" stroke-width="1"/>
<circle cx="295.4" cy="394.6" r="2.7" fill="#fff" stroke="#5a78a8" stroke-width="1"/>
<circle cx="304.2" cy="392.7" r="2.7" fill="#fff" stroke="#5a78a8" stroke-width="1"/>
<circle cx="334.5" cy="322.3" r="2.85" fill="#a0344a" stroke="#1a1a1a" stroke-width="0.85"/>
<circle cx="343.3" cy="323.7" r="2.85" fill="#a0344a" stroke="#1a1a1a" stroke-width="0.85"/>
<circle cx="343.3" cy="341.9" r="2.85" fill="#a0344a" stroke="#1a1a1a" stroke-width="0.85"/>
<circle cx="334.5" cy="347.2" r="2.85" fill="#a0344a" stroke="#1a1a1a" stroke-width="0.85"/>
<circle cx="347.9" cy="350.4" r="2.85" fill="#a0344a" stroke="#1a1a1a" stroke-width="0.85"/>
<circle cx="329.8" cy="355.3" r="2.85" fill="#a0344a" stroke="#1a1a1a" stroke-width="0.85"/>
<circle cx="339.1" cy="356.1" r="2.85" fill="#a0344a" stroke="#1a1a1a" stroke-width="0.85"/>
<circle cx="343" cy="364.7" r="2.85" fill="#a0344a" stroke="#1a1a1a" stroke-width="0.85"/>
<circle cx="329.8" cy="368.1" r="2.85" fill="#a0344a" stroke="#1a1a1a" stroke-width="0.85"/>
<circle cx="334.5" cy="373.8" r="2.85" fill="#a0344a" stroke="#1a1a1a" stroke-width="0.85"/>
<circle cx="343.3" cy="380.9" r="2.85" fill="#a0344a" stroke="#1a1a1a" stroke-width="0.85"/>
<circle cx="338.8" cy="394.4" r="2.85" fill="#a0344a" stroke="#1a1a1a" stroke-width="0.85"/>
<line x1="288.1" y1="364.3" x2="302.5" y2="364.3" stroke="#1e1e1e" stroke-width="1.2"/>
<line x1="331.9" y1="356.4" x2="346.2" y2="356.4" stroke="#1e1e1e" stroke-width="1.2"/>
<text transform="translate(316.8 309.32) scale(0.86 1)" font-size="7.4" text-anchor="middle" fill="#1e1e1e">ns</text>
<text transform="translate(14.6 466.1) scale(0.86 1)" font-size="11.6" text-anchor="start" fill="#1e1e1e">G</text>
<text x="59.5" y="482.66" font-size="8.3" text-anchor="middle" textLength="13.5" lengthAdjust="spacingAndGlyphs" fill="#1e1e1e">CTR</text>
<text x="184.6" y="482.66" font-size="8.3" text-anchor="middle" textLength="24.5" lengthAdjust="spacingAndGlyphs" fill="#1e1e1e">HMGA2</text>
<clipPath id="fc1"><rect x="21.2" y="487.6" width="98.3" height="96.4"/></clipPath>
<g clip-path="url(#fc1)">
<path d="M14,503 L40,501.8 L62,502.2 L69,504.5 L72,507.5 L69,511 L62,516 L52,522 L40,527 L28,530 L14,531 Z" fill="#2d3590" fill-opacity="0.55" filter="url(#b2)"/>
<path d="M57.29 542.62h1v1h-1zM69.89 507.5h1v1h-1zM71.49 545.97h1v1h-1zM58.66 582.15h1v1h-1zM46.27 491.42h1v1h-1zM77.15 491.03h1v1h-1zM82.02 529.41h1v1h-1zM59.73 544.01h1v1h-1z" fill="#6464bc" fill-opacity="0.55"/>
<path d="M57.24 570.37h1v1h-1zM26.93 493.35h1v1h-1zM77.21 519.64h1v1h-1zM54.74 543.23h1v1h-1zM81.13 501.09h1v1h-1zM31.09 529.55h1v1h-1zM45.72 573.18h1v1h-1zM72.06 499.43h1v1h-1zM36.26 504.49h1v1h-1z" fill="#4a4ab0" fill-opacity="0.55"/>
<path d="M36.4 538.12h1v1h-1zM45.67 498.52h1v1h-1zM52.15 580.06h1v1h-1zM36.69 537.83h1v1h-1zM27.79 509.62h1v1h-1z" fill="#7070c4" fill-opacity="0.55"/>
<path d="M97.25 551.47h1v1h-1zM72.71 548.57h1v1h-1zM56.36 569.19h1v1h-1zM62.01 492.8h1v1h-1zM84.17 506.7h1v1h-1zM22.04 571.25h1v1h-1zM36.61 583.61h1v1h-1zM38.63 514.28h1v1h-1zM70.53 501.96h1v1h-1z" fill="#30309a" fill-opacity="0.55"/>
<path d="M68.77 563.14h1v1h-1zM73.67 532.99h1v1h-1zM81.77 527.64h1v1h-1zM40.96 546.52h1v1h-1z" fill="#5a5ab8" fill-opacity="0.55"/>
<path d="M40.22 517.65h1v1h-1zM53.73 541.82h1v1h-1zM22.04 509.71h1v1h-1zM82.72 515.36h1v1h-1zM47.66 517.85h1v1h-1z" fill="#3a3aa0" fill-opacity="0.55"/>
<path d="M51.76 500.26h1v1h-1zM40.67 500.54h1v1h-1zM44.01 501.71h1v1h-1zM45.05 503.67h1v1h-1zM63.88 499.77h1v1h-1zM54.66 498.65h1v1h-1zM55.24 500.91h1v1h-1zM65.61 500.79h1v1h-1zM60.6 504.44h1v1h-1zM37.24 504.23h1v1h-1zM43.16 504.32h1v1h-1zM32.53 501.14h1v1h-1zM51.83 502.05h1v1h-1zM46.36 503.52h1v1h-1zM27.83 498.73h1v1h-1zM29.94 499.21h1v1h-1zM54.1 500.75h1v1h-1zM52.89 500.87h1v1h-1zM29.94 500.74h1v1h-1zM29.75 501.45h1v1h-1zM59.38 500.34h1v1h-1zM51.24 502.61h1v1h-1zM40.67 502.84h1v1h-1zM46.9 502.38h1v1h-1zM49.17 499.67h1v1h-1z" fill="#2c2f90" fill-opacity="0.5"/>
<path d="M57.19 503.63h1v1h-1zM57.61 502.97h1v1h-1zM65.42 501.18h1v1h-1zM58.24 499.72h1v1h-1zM33.05 503.39h1v1h-1zM35.09 502.03h1v1h-1zM58.26 503.44h1v1h-1zM56.63 500.29h1v1h-1zM43.15 498.12h1v1h-1zM38.68 500.84h1v1h-1zM36.87 503.13h1v1h-1zM45.11 501.71h1v1h-1zM48.64 499.57h1v1h-1zM25.12 501.01h1v1h-1zM47.27 504.18h1v1h-1zM54.07 504.89h1v1h-1zM35.92 501.32h1v1h-1zM43.08 503.02h1v1h-1zM33.88 501.52h1v1h-1zM64.81 501.87h1v1h-1zM36.86 500.01h1v1h-1zM38.5 499.81h1v1h-1zM62.78 502.03h1v1h-1zM40.93 501h1v1h-1zM68.24 503.73h1v1h-1z" fill="#3a3a9e" fill-opacity="0.5"/>
<path d="M57.68 505.66h1v1h-1zM25.13 503.36h1v1h-1zM47.97 500.82h1v1h-1zM53.48 502.04h1v1h-1zM50.3 504.27h1v1h-1zM51.3 498.9h1v1h-1zM60.62 504.92h1v1h-1zM39.08 501.51h1v1h-1zM43.98 500.47h1v1h-1zM50.56 500.71h1v1h-1zM46.69 502.73h1v1h-1zM54.44 501.62h1v1h-1zM71.79 503.68h1v1h-1zM56.35 497.36h1v1h-1zM45.11 502.11h1v1h-1zM59.76 500.23h1v1h-1zM61.67 502.4h1v1h-1zM66.93 499.96h1v1h-1zM34.22 504.77h1v1h-1zM42.32 501.37h1v1h-1zM44.24 498.76h1v1h-1zM51.47 502.07h1v1h-1zM66.59 503.45h1v1h-1zM42.34 501.04h1v1h-1zM52.78 501.88h1v1h-1zM33.87 501.95h1v1h-1zM52.24 500.56h1v1h-1zM45.74 502.18h1v1h-1zM61.46 499.6h1v1h-1zM57.91 502.21h1v1h-1z" fill="#26358e" fill-opacity="0.5"/>
<path d="M38.01 500.36h1v1h-1zM45.99 502.58h1v1h-1zM42.31 501h1v1h-1zM38.67 497.1h1v1h-1zM44.14 501.09h1v1h-1zM46.71 499.93h1v1h-1zM61.43 502.53h1v1h-1zM59.7 502.54h1v1h-1zM56.6 500.15h1v1h-1zM41.86 500h1v1h-1zM44.2 501.03h1v1h-1zM65.28 503.01h1v1h-1zM46.1 502.22h1v1h-1zM25.15 501.58h1v1h-1zM43.48 501.71h1v1h-1zM48.52 502.49h1v1h-1zM53.91 501.41h1v1h-1zM52.13 500.26h1v1h-1zM48.47 499.27h1v1h-1zM57.04 502.94h1v1h-1zM32.24 506.04h1v1h-1zM44.11 498.23h1v1h-1zM53.89 505.26h1v1h-1zM46.58 504.36h1v1h-1zM45.13 501.53h1v1h-1zM61.17 500.8h1v1h-1zM42.99 501.97h1v1h-1zM45.75 501.24h1v1h-1zM38.21 496.77h1v1h-1zM33.05 503.07h1v1h-1zM74.77 499h1v1h-1zM52.49 499.55h1v1h-1zM75.4 501.25h1v1h-1zM50.88 503.19h1v1h-1zM43.77 501.01h1v1h-1z" fill="#232a84" fill-opacity="0.5"/>
<path d="M59.14 502.87h1v1h-1zM49.36 504.3h1v1h-1zM60.08 500.56h1v1h-1zM55.15 497.65h1v1h-1zM72.68 501.34h1v1h-1zM47.93 501.77h1v1h-1zM40.91 497.22h1v1h-1zM37.24 502.97h1v1h-1zM45.11 503.92h1v1h-1zM55.57 504.37h1v1h-1zM36.01 499.59h1v1h-1zM52.12 502.8h1v1h-1zM62.74 501.18h1v1h-1zM41.14 503.08h1v1h-1zM50.96 502.71h1v1h-1zM58.28 503h1v1h-1zM62.51 500.21h1v1h-1zM56.56 500.6h1v1h-1zM60.83 502.83h1v1h-1zM43.22 499.05h1v1h-1zM69.56 501.15h1v1h-1zM52.84 499.81h1v1h-1z" fill="#33369a" fill-opacity="0.5"/>
<path d="M26.53 513.66h1v1h-1zM58.04 503.12h1v1h-1zM38.91 515.75h1v1h-1zM22.37 529.83h1v1h-1zM35.11 523.52h1v1h-1zM57.69 507.34h1v1h-1zM43.12 520.87h1v1h-1zM66.95 506.5h1v1h-1zM57.34 513.19h1v1h-1zM32.87 517.82h1v1h-1zM26.83 503.49h1v1h-1zM38.45 514.08h1v1h-1zM60.42 510.93h1v1h-1zM24.7 508.15h1v1h-1zM37.17 508.15h1v1h-1zM59.69 503.49h1v1h-1zM28.3 514.11h1v1h-1zM38.11 524.34h1v1h-1zM29.46 517.41h1v1h-1zM47.17 507.01h1v1h-1zM45.52 517.15h1v1h-1zM22.17 504.56h1v1h-1zM48.38 504.43h1v1h-1zM43.67 520.7h1v1h-1zM32.43 524.83h1v1h-1zM43.78 518.57h1v1h-1zM25.44 529.39h1v1h-1zM30.74 527.99h1v1h-1zM57.98 512.4h1v1h-1zM40.35 513.58h1v1h-1zM37.53 511.62h1v1h-1zM28.17 526.46h1v1h-1zM41.59 504.88h1v1h-1zM45.61 520.98h1v1h-1zM25.72 520.27h1v1h-1zM27.28 510.59h1v1h-1zM56.58 502.64h1v1h-1zM48.99 509.43h1v1h-1zM59.91 508.75h1v1h-1zM23.95 509.24h1v1h-1zM67.54 508.18h1v1h-1zM28.3 524.96h1v1h-1zM42.43 520.1h1v1h-1zM59.06 505.8h1v1h-1zM27.82 502.99h1v1h-1zM43.81 505.53h1v1h-1zM45.03 514.92h1v1h-1zM36.42 527.09h1v1h-1zM31.29 521.38h1v1h-1zM26.85 528.82h1v1h-1zM41.56 506.67h1v1h-1zM29.19 521.31h1v1h-1zM25.16 508.47h1v1h-1zM45.54 513.3h1v1h-1zM65.41 510.95h1v1h-1zM56.93 509.65h1v1h-1zM41.37 522.06h1v1h-1zM50.62 513.38h1v1h-1zM24.2 502.58h1v1h-1zM48.46 509.53h1v1h-1zM57.01 507.97h1v1h-1zM45.68 521.66h1v1h-1zM32.65 517.48h1v1h-1zM20.44 507.26h1v1h-1zM25.37 509.96h1v1h-1zM59.65 516.13h1v1h-1zM52.18 507.89h1v1h-1zM37.27 520.96h1v1h-1zM46.71 503.78h1v1h-1zM31.89 512.1h1v1h-1zM23.87 504.85h1v1h-1zM37.98 502.11h1v1h-1zM36.17 511.22h1v1h-1zM33.03 511.07h1v1h-1zM51.04 502.45h1v1h-1zM24 504.24h1v1h-1zM32.8 502.23h1v1h-1zM33.03 522.16h1v1h-1zM60.56 509.24h1v1h-1zM60.73 504.65h1v1h-1zM56.78 511.85h1v1h-1zM23.29 526.9h1v1h-1zM49.34 517.68h1v1h-1zM29.7 523.02h1v1h-1zM22.16 513.87h1v1h-1zM65.02 504.77h1v1h-1zM66.1 511.03h1v1h-1zM38.02 506.15h1v1h-1zM26.72 513.25h1v1h-1zM38.31 521.38h1v1h-1zM23.19 503.78h1v1h-1zM68.84 507.43h1v1h-1zM22.49 527.23h1v1h-1zM29.19 504.49h1v1h-1zM57.09 506.66h1v1h-1zM27.53 529.13h1v1h-1zM51.07 503.6h1v1h-1zM33.86 507.54h1v1h-1zM55.24 502.94h1v1h-1zM38.04 513.68h1v1h-1zM40.96 519.76h1v1h-1zM59.51 508.95h1v1h-1zM47.47 523.38h1v1h-1zM25.87 514.51h1v1h-1zM65.39 503.99h1v1h-1zM23.75 512.41h1v1h-1zM35.72 520.99h1v1h-1zM50.95 502.58h1v1h-1zM54.56 511.64h1v1h-1zM71.25 508.32h1v1h-1zM24.23 509.76h1v1h-1zM34.64 512.31h1v1h-1zM49.98 510.14h1v1h-1zM62.46 503.97h1v1h-1zM45.7 503.43h1v1h-1zM49.65 502.16h1v1h-1zM46.41 504.76h1v1h-1zM29.21 525.58h1v1h-1zM27.92 509.94h1v1h-1zM53.12 503.72h1v1h-1zM51.31 519.55h1v1h-1zM21.54 513h1v1h-1zM22.41 522.63h1v1h-1zM20.53 510.17h1v1h-1zM51.14 506.71h1v1h-1zM30.8 510.15h1v1h-1zM29.3 510.47h1v1h-1zM39.19 518.7h1v1h-1zM32.72 519.52h1v1h-1zM25.01 526.59h1v1h-1zM50.98 503.71h1v1h-1zM45.23 519.87h1v1h-1zM35.34 527.74h1v1h-1zM23.79 505.95h1v1h-1zM30.32 503.22h1v1h-1zM31.47 528.57h1v1h-1zM48.51 509.47h1v1h-1zM33.53 514.07h1v1h-1zM25.51 504.05h1v1h-1zM59.37 514.42h1v1h-1zM48.31 520.38h1v1h-1zM60.55 511.32h1v1h-1zM58.37 514.79h1v1h-1zM20.6 505.89h1v1h-1zM21.39 512.09h1v1h-1zM33.79 514.77h1v1h-1zM56.41 511.74h1v1h-1zM43.18 524.94h1v1h-1zM43.87 517.12h1v1h-1zM62.08 508.47h1v1h-1zM48.95 522.25h1v1h-1zM22.51 530.15h1v1h-1zM69.42 510.44h1v1h-1zM27.48 521.86h1v1h-1zM63.33 508.11h1v1h-1zM27.85 526.71h1v1h-1zM45.12 522.67h1v1h-1zM54.28 508.33h1v1h-1zM21.24 526.62h1v1h-1zM40.84 522.82h1v1h-1zM21.96 510.68h1v1h-1zM37.19 517.03h1v1h-1zM47.05 513.71h1v1h-1zM39.03 526.45h1v1h-1zM26.27 517.86h1v1h-1zM52.35 507.03h1v1h-1zM59.48 515.56h1v1h-1zM34.77 506.63h1v1h-1zM24.28 522.6h1v1h-1zM50.99 515.23h1v1h-1zM64.31 503.16h1v1h-1zM42.28 510.21h1v1h-1zM39.7 507.89h1v1h-1zM41.04 520.43h1v1h-1zM27.59 506.24h1v1h-1zM43.32 521.88h1v1h-1zM40.4 516.68h1v1h-1zM63.8 504.21h1v1h-1zM41.84 523.37h1v1h-1zM49.01 517.14h1v1h-1zM54.02 517.93h1v1h-1zM39.32 512.11h1v1h-1zM51.84 517.53h1v1h-1zM61.4 510.25h1v1h-1zM55.9 518.4h1v1h-1zM40.36 522.32h1v1h-1zM24.35 523.16h1v1h-1zM31.48 512.56h1v1h-1zM33.41 512.37h1v1h-1zM60.15 512.13h1v1h-1zM47.46 523.59h1v1h-1zM50.39 512.8h1v1h-1zM35.59 521.6h1v1h-1zM51.97 517.22h1v1h-1zM30.69 503.22h1v1h-1zM55.19 513.19h1v1h-1zM29.48 507.24h1v1h-1zM20.79 523.53h1v1h-1zM36.14 505.39h1v1h-1zM46.37 522.94h1v1h-1zM34.83 514.54h1v1h-1zM31.66 508.32h1v1h-1zM29.46 520.09h1v1h-1zM46.84 506.79h1v1h-1zM26.54 506.13h1v1h-1zM39.56 513.08h1v1h-1zM43.48 517.51h1v1h-1zM24.34 517.77h1v1h-1zM46.08 508.63h1v1h-1zM47.71 504.32h1v1h-1zM59.11 512.08h1v1h-1zM35.26 517.21h1v1h-1zM27.46 525.7h1v1h-1zM30.25 504.75h1v1h-1zM36.41 515.27h1v1h-1zM64.91 503.6h1v1h-1zM38.04 511.53h1v1h-1zM23.01 521.6h1v1h-1zM33.44 512.02h1v1h-1zM46.89 512.89h1v1h-1zM26.79 508.99h1v1h-1zM20.38 509.93h1v1h-1zM49.53 502.91h1v1h-1zM36.88 526.69h1v1h-1zM38.82 525.14h1v1h-1zM47.06 522.41h1v1h-1zM42.37 504.87h1v1h-1zM34.64 504.04h1v1h-1zM60.42 507.02h1v1h-1zM44.51 508.54h1v1h-1zM23.17 524.52h1v1h-1zM29.94 510.3h1v1h-1zM34.04 515.68h1v1h-1zM67 505.79h1v1h-1zM32.55 510.67h1v1h-1zM23.12 502.67h1v1h-1zM50.14 506.47h1v1h-1zM36.42 526.52h1v1h-1zM43.08 520.38h1v1h-1zM29.14 510.38h1v1h-1zM51.15 521.15h1v1h-1zM34.08 524.24h1v1h-1zM30.2 520.72h1v1h-1zM51.18 520.68h1v1h-1zM41.52 515.5h1v1h-1zM48.05 512.98h1v1h-1zM53.99 518.57h1v1h-1zM51.81 521.46h1v1h-1zM27.55 525.5h1v1h-1zM29.31 520.8h1v1h-1zM46.42 505.18h1v1h-1zM51.71 512h1v1h-1zM28.64 505.69h1v1h-1zM41.45 508.18h1v1h-1zM35.19 523.65h1v1h-1zM37.67 523.42h1v1h-1zM68.26 506.64h1v1h-1zM59.2 505.21h1v1h-1zM34.56 527.09h1v1h-1zM33.71 503.33h1v1h-1zM34.85 515.8h1v1h-1zM21.78 509.75h1v1h-1zM26.03 521.4h1v1h-1zM38.6 515.42h1v1h-1zM36.4 519.47h1v1h-1zM37.17 509.25h1v1h-1zM50.63 508.19h1v1h-1zM29.64 528.9h1v1h-1zM49.56 510.46h1v1h-1zM46.6 514.96h1v1h-1zM40.93 523.45h1v1h-1zM28.44 503.14h1v1h-1zM69.99 507.79h1v1h-1zM39.08 519.12h1v1h-1zM38.86 524.29h1v1h-1zM44.49 511.25h1v1h-1zM27.69 519.63h1v1h-1zM28.87 504.09h1v1h-1zM64.4 505.77h1v1h-1zM66.01 511.89h1v1h-1zM59.41 503.27h1v1h-1zM32.67 523.63h1v1h-1zM51.32 504.03h1v1h-1zM37.98 507.07h1v1h-1zM23.18 509.45h1v1h-1zM40.62 515.53h1v1h-1zM39.43 515.01h1v1h-1zM25.42 507.29h1v1h-1zM32.27 519.26h1v1h-1zM45.27 508.22h1v1h-1zM30.11 522.33h1v1h-1zM51.72 502.48h1v1h-1zM25.06 512.04h1v1h-1zM38.66 513.91h1v1h-1zM52.5 517.63h1v1h-1zM70.77 508.14h1v1h-1zM37.15 512.28h1v1h-1zM41.98 504.98h1v1h-1zM29.78 509.75h1v1h-1zM28.66 515.04h1v1h-1zM51.21 506.14h1v1h-1zM61.72 507.64h1v1h-1zM66.09 504.51h1v1h-1zM30.11 509.16h1v1h-1zM20.34 503.18h1v1h-1zM22.14 515.98h1v1h-1zM41.75 516.41h1v1h-1zM38.67 518.35h1v1h-1zM22.3 511.88h1v1h-1zM29.27 525.88h1v1h-1zM28.28 526.33h1v1h-1zM24.15 514.27h1v1h-1zM31.26 528.23h1v1h-1zM48.47 523.43h1v1h-1zM62.08 508.8h1v1h-1zM34.42 507.41h1v1h-1zM42.91 506.6h1v1h-1zM31.99 512.4h1v1h-1zM44.69 509.08h1v1h-1zM36.73 508.26h1v1h-1zM63.42 509.99h1v1h-1zM46.08 517.42h1v1h-1zM39.23 521.53h1v1h-1zM23.04 528.62h1v1h-1zM45.46 513.65h1v1h-1zM20.93 528.32h1v1h-1zM27.97 523.32h1v1h-1zM48.88 509.44h1v1h-1zM28.86 511.12h1v1h-1zM35.19 508.09h1v1h-1zM23.14 523.46h1v1h-1zM57.06 517.67h1v1h-1zM58.8 517.59h1v1h-1zM33.76 502.3h1v1h-1zM23.06 509.56h1v1h-1zM28.53 522.45h1v1h-1zM22.3 508h1v1h-1zM25.77 510.93h1v1h-1zM54.88 512h1v1h-1zM46.17 502.07h1v1h-1zM22.03 516.95h1v1h-1zM26.39 520.86h1v1h-1zM47.49 517.88h1v1h-1zM45.2 516.86h1v1h-1zM24.94 520.07h1v1h-1zM59.71 511.59h1v1h-1zM49.62 506.92h1v1h-1zM45.35 521.67h1v1h-1zM45.85 511.44h1v1h-1zM25.87 518.12h1v1h-1zM46.52 504.54h1v1h-1zM26.01 528.98h1v1h-1zM26.2 503.6h1v1h-1zM42.25 522.69h1v1h-1zM46.68 516.91h1v1h-1zM35.15 527.2h1v1h-1zM24.35 529.45h1v1h-1zM22.84 518.56h1v1h-1zM61.16 509.45h1v1h-1zM25.98 521.37h1v1h-1zM33.54 526.28h1v1h-1zM39.86 505.2h1v1h-1zM55.12 503.7h1v1h-1zM67.56 511.82h1v1h-1zM46.23 503.47h1v1h-1zM25 518.54h1v1h-1zM38.44 519.93h1v1h-1zM42.33 505.27h1v1h-1zM20.53 527.16h1v1h-1zM30.03 527.61h1v1h-1zM59.85 510.73h1v1h-1zM61.35 507.51h1v1h-1zM44.48 507.31h1v1h-1zM63.85 508.01h1v1h-1zM39.18 518.33h1v1h-1zM34.08 512.56h1v1h-1zM39.72 516.44h1v1h-1zM20.89 510.54h1v1h-1zM31.52 512.89h1v1h-1zM64.06 509.02h1v1h-1zM39.58 525.58h1v1h-1zM31.52 504.98h1v1h-1zM43.07 524.44h1v1h-1zM60.41 506.81h1v1h-1zM29.15 515h1v1h-1zM27.59 524.33h1v1h-1zM28.99 507.7h1v1h-1zM44.05 504.54h1v1h-1zM55.31 519.15h1v1h-1zM39.87 509.69h1v1h-1zM28.59 520.98h1v1h-1zM42.69 506.37h1v1h-1zM67.61 505.03h1v1h-1zM55.05 512.44h1v1h-1zM63.6 513.62h1v1h-1zM44.44 518.58h1v1h-1zM62.15 504.58h1v1h-1zM24.29 511.68h1v1h-1zM35.25 527.69h1v1h-1zM55.89 503.6h1v1h-1zM20.83 523.53h1v1h-1zM28.29 527.39h1v1h-1zM36.43 524.18h1v1h-1zM31.63 526.36h1v1h-1zM33.6 508.37h1v1h-1zM33.64 515.11h1v1h-1zM29.12 520.78h1v1h-1zM42.35 523.34h1v1h-1zM58.79 513.97h1v1h-1zM24.84 521.7h1v1h-1zM33.35 525.34h1v1h-1zM26.27 503.11h1v1h-1zM29 517.71h1v1h-1zM36.37 509.35h1v1h-1zM39.86 515.97h1v1h-1zM21.52 504.89h1v1h-1zM43.06 515.54h1v1h-1zM25.43 525.6h1v1h-1zM53.28 512.15h1v1h-1zM45.65 520.05h1v1h-1zM48.57 504.14h1v1h-1zM36.82 517.56h1v1h-1zM69.65 509.93h1v1h-1zM30.71 507.56h1v1h-1zM43.31 525.4h1v1h-1zM37.93 502.35h1v1h-1zM63.04 507.48h1v1h-1zM58.06 508.68h1v1h-1zM44.86 522.15h1v1h-1zM28.25 528.26h1v1h-1zM22.08 503.21h1v1h-1zM24.55 507.26h1v1h-1zM52.64 515.41h1v1h-1zM31.46 515.17h1v1h-1zM50.08 516.44h1v1h-1zM28.5 508.66h1v1h-1zM66.66 504.84h1v1h-1zM20.64 507.72h1v1h-1zM47.7 512.77h1v1h-1zM37.89 521.19h1v1h-1zM60.66 504.55h1v1h-1zM41.52 518.9h1v1h-1zM34.37 505.83h1v1h-1zM40.6 507.55h1v1h-1zM29.49 513.63h1v1h-1zM52.76 504.36h1v1h-1zM27.45 511.55h1v1h-1zM47.99 502.12h1v1h-1zM49.09 502.15h1v1h-1zM26.81 524.24h1v1h-1zM29.1 515.14h1v1h-1zM22.3 519.78h1v1h-1z" fill="#2c2f90" fill-opacity="0.5"/>
<path d="M44.92 513.18h1v1h-1zM51.25 522.28h1v1h-1zM48.6 514.34h1v1h-1zM32.12 517.29h1v1h-1zM47.98 520.28h1v1h-1zM39.69 521.3h1v1h-1zM48.86 520.48h1v1h-1zM50.6 512.7h1v1h-1zM34.54 511.68h1v1h-1zM58.59 508.02h1v1h-1zM56.85 512.55h1v1h-1zM46.64 506.96h1v1h-1zM22.34 523.58h1v1h-1zM28.25 506.54h1v1h-1zM53.68 511.17h1v1h-1zM24.41 503.62h1v1h-1zM49.66 517.22h1v1h-1zM51.93 502.16h1v1h-1zM24.43 513.55h1v1h-1zM51.74 504.9h1v1h-1zM59.04 505.78h1v1h-1zM29.44 527.58h1v1h-1zM31.84 521.4h1v1h-1zM37.6 510.02h1v1h-1zM60.7 508.28h1v1h-1zM21.18 517.5h1v1h-1zM27.39 510.74h1v1h-1zM66.11 510.79h1v1h-1zM22.31 524.48h1v1h-1zM69.76 509.8h1v1h-1zM55.36 505.74h1v1h-1zM40.77 523.72h1v1h-1zM59.89 508.69h1v1h-1zM42.77 514.49h1v1h-1zM59.63 503.59h1v1h-1zM46.01 508.86h1v1h-1zM67.59 506.98h1v1h-1zM68.26 508.03h1v1h-1zM41.13 510.81h1v1h-1zM64.04 507.77h1v1h-1zM36.3 504.23h1v1h-1zM29.1 522.98h1v1h-1zM60.37 505.3h1v1h-1zM44.19 523.49h1v1h-1zM66.92 509.74h1v1h-1zM42.74 518.91h1v1h-1zM50.01 513.8h1v1h-1zM40.91 514.93h1v1h-1zM23.25 519.95h1v1h-1zM60.69 510.38h1v1h-1zM65.37 510.86h1v1h-1zM23.43 527.1h1v1h-1zM43.43 525.06h1v1h-1zM23.93 503.77h1v1h-1zM30.4 527.11h1v1h-1zM46.82 505.99h1v1h-1zM29.89 508.44h1v1h-1zM22.1 524.84h1v1h-1zM47.57 511.19h1v1h-1zM69.83 508.21h1v1h-1zM61.13 503.84h1v1h-1zM22.59 520.33h1v1h-1zM49.75 511.86h1v1h-1zM21.04 523.37h1v1h-1zM39.3 515.44h1v1h-1zM56.8 510.94h1v1h-1zM64.31 505.5h1v1h-1zM40.34 517.46h1v1h-1zM20.81 507.11h1v1h-1zM25.43 521.32h1v1h-1zM34.9 510.86h1v1h-1zM38.63 525.75h1v1h-1zM51.6 508.39h1v1h-1zM38.31 510.01h1v1h-1zM52.98 508.95h1v1h-1zM44.04 518.86h1v1h-1zM35.45 505.97h1v1h-1zM60.23 505h1v1h-1zM28.98 512.54h1v1h-1zM59.92 513.03h1v1h-1zM26.37 519.01h1v1h-1zM47.63 501.96h1v1h-1zM35.91 514.87h1v1h-1zM22.99 509.8h1v1h-1zM35.9 521.49h1v1h-1zM42.63 521.94h1v1h-1zM22.57 522.35h1v1h-1zM50.68 512.05h1v1h-1zM38 517.31h1v1h-1zM68.72 506.24h1v1h-1zM42.18 504.1h1v1h-1zM69.57 508.11h1v1h-1zM40.38 508.64h1v1h-1zM28.18 508.16h1v1h-1zM33.61 524.88h1v1h-1zM54.7 508.72h1v1h-1zM51.02 504.86h1v1h-1zM40.67 519.41h1v1h-1zM40.97 507.37h1v1h-1zM30.34 503.13h1v1h-1zM38.18 517.57h1v1h-1zM28.87 529.52h1v1h-1zM32.18 518h1v1h-1zM34.13 518.13h1v1h-1zM51.73 521.82h1v1h-1zM40.81 504.43h1v1h-1zM60.47 506.95h1v1h-1zM41.31 520.61h1v1h-1zM20.34 530.48h1v1h-1zM39.3 513.7h1v1h-1zM51.07 516.16h1v1h-1zM35.13 514.47h1v1h-1zM54.95 515.13h1v1h-1zM28.22 518.45h1v1h-1zM26.06 508.96h1v1h-1zM40.01 512.48h1v1h-1zM50.08 504.4h1v1h-1zM50.28 517.87h1v1h-1zM53.32 516.53h1v1h-1zM52.03 521.33h1v1h-1zM46.67 513.23h1v1h-1zM49.58 508.25h1v1h-1zM57.35 514.46h1v1h-1zM33.7 512.45h1v1h-1zM32.97 528.74h1v1h-1zM52.47 510.24h1v1h-1zM40.7 517.27h1v1h-1zM42.53 517.37h1v1h-1zM54.34 511.21h1v1h-1zM30.53 510.45h1v1h-1zM57.18 515.08h1v1h-1zM44.99 511.61h1v1h-1zM28.05 516.38h1v1h-1zM36.48 520.72h1v1h-1zM42.62 503.52h1v1h-1zM50.35 514.89h1v1h-1zM65.98 508.85h1v1h-1zM69.7 506h1v1h-1zM60.48 507h1v1h-1zM38.41 511.08h1v1h-1zM28 522.93h1v1h-1zM51.68 512.64h1v1h-1zM30.65 524.41h1v1h-1zM41.17 502.11h1v1h-1zM38.36 509.96h1v1h-1zM22.74 506.15h1v1h-1zM66.85 507.01h1v1h-1zM38.31 506.39h1v1h-1zM49.85 511.15h1v1h-1zM27.4 508.91h1v1h-1zM51.6 512.73h1v1h-1zM50.52 517.4h1v1h-1zM60.75 510.72h1v1h-1zM46.14 508.87h1v1h-1zM33.24 526.49h1v1h-1zM69.75 508.04h1v1h-1zM50.34 515.7h1v1h-1zM24.33 523.88h1v1h-1zM59.01 514.56h1v1h-1zM25.59 512.85h1v1h-1zM32.5 504.35h1v1h-1zM37.92 517.75h1v1h-1zM33.47 516.15h1v1h-1zM23.11 508.74h1v1h-1zM23.43 514.04h1v1h-1zM29.66 527.98h1v1h-1zM20.52 520.31h1v1h-1zM33.61 504.85h1v1h-1zM68.21 505.42h1v1h-1zM20.37 511.54h1v1h-1zM25.49 528.46h1v1h-1zM53.18 521.22h1v1h-1zM58.15 512.86h1v1h-1zM40.81 507.79h1v1h-1zM42.12 503.95h1v1h-1zM21.73 510.87h1v1h-1zM39.42 515.34h1v1h-1zM21.62 526.48h1v1h-1zM31.01 504.3h1v1h-1zM54.94 511.56h1v1h-1zM31.77 507.31h1v1h-1zM28.19 506.36h1v1h-1zM25.69 514.8h1v1h-1zM21.96 516.65h1v1h-1zM37.9 504.51h1v1h-1zM47.77 511.26h1v1h-1zM49.03 510.09h1v1h-1zM31.88 524.07h1v1h-1zM27.33 524.18h1v1h-1zM54.81 514.3h1v1h-1zM49.24 519.98h1v1h-1zM53.7 513.23h1v1h-1zM34.97 522.85h1v1h-1zM25.61 516.15h1v1h-1zM25.52 523.7h1v1h-1zM26.7 512.14h1v1h-1zM31.4 526.01h1v1h-1zM56.47 509.2h1v1h-1zM35.34 502.17h1v1h-1zM52.44 503.13h1v1h-1zM44.42 519.2h1v1h-1zM32.21 526.02h1v1h-1zM27.49 525.25h1v1h-1zM45.98 509.26h1v1h-1zM25.34 514.45h1v1h-1zM27.64 519.82h1v1h-1zM42.12 517.36h1v1h-1zM41.7 506.82h1v1h-1zM57.59 511.68h1v1h-1zM53.53 504.86h1v1h-1zM40.07 521.53h1v1h-1zM32.34 528.44h1v1h-1zM23.99 507.95h1v1h-1zM52.65 509.15h1v1h-1zM28.96 524.25h1v1h-1zM54.67 507.84h1v1h-1zM58.76 510.49h1v1h-1zM23.77 521.27h1v1h-1zM47.1 509.48h1v1h-1zM43.41 524.65h1v1h-1zM47.98 513.26h1v1h-1zM20.95 504.81h1v1h-1zM42.66 524.47h1v1h-1zM51.35 514.38h1v1h-1zM24.54 519.65h1v1h-1zM41.94 508.56h1v1h-1zM34.38 506.86h1v1h-1zM26.84 512.49h1v1h-1zM49.91 513.37h1v1h-1zM39.21 525.54h1v1h-1zM22.65 507.3h1v1h-1zM44.46 514.85h1v1h-1zM26.29 507.41h1v1h-1zM39.92 509.16h1v1h-1zM32.27 523.6h1v1h-1zM33.58 525.15h1v1h-1zM20.98 514.54h1v1h-1zM46.52 519.65h1v1h-1zM63.21 509.64h1v1h-1zM48.21 522.13h1v1h-1zM63.47 511.4h1v1h-1zM57.12 514.99h1v1h-1zM38.53 518.53h1v1h-1zM47.16 502.54h1v1h-1zM31.06 515.7h1v1h-1zM38.84 504.46h1v1h-1zM52.89 509.37h1v1h-1zM41.49 503.55h1v1h-1zM54.54 512.57h1v1h-1zM42.35 502.61h1v1h-1zM48.4 515.15h1v1h-1zM21.6 528.69h1v1h-1zM45.52 519.06h1v1h-1zM69.46 506.99h1v1h-1zM30.78 516.14h1v1h-1zM23.26 515.49h1v1h-1zM36.2 525.97h1v1h-1zM68.49 505.11h1v1h-1zM64.43 503.76h1v1h-1zM56.08 512.32h1v1h-1zM46.71 515.68h1v1h-1zM26.58 510.12h1v1h-1zM28.65 524.19h1v1h-1zM45 512.41h1v1h-1zM29.26 521.53h1v1h-1zM45.08 502.19h1v1h-1zM35.18 526h1v1h-1zM24.33 517.77h1v1h-1zM21.74 527.66h1v1h-1zM48.91 513.82h1v1h-1zM52.99 504.73h1v1h-1zM25.78 509.49h1v1h-1zM34.29 522.83h1v1h-1zM59.4 505.61h1v1h-1zM43.1 524.29h1v1h-1zM37.78 518.91h1v1h-1zM20.69 506.24h1v1h-1zM20.99 520.54h1v1h-1zM56.12 508.73h1v1h-1zM24.48 521.29h1v1h-1zM35.76 512.5h1v1h-1zM35.3 504.03h1v1h-1zM38.56 513.01h1v1h-1zM55.21 507.28h1v1h-1zM50.74 516.46h1v1h-1zM22.67 522.16h1v1h-1zM25.53 521.01h1v1h-1zM63.45 512.63h1v1h-1zM61.05 507.5h1v1h-1zM55.7 509.72h1v1h-1zM52.63 502.82h1v1h-1zM62.1 512.17h1v1h-1zM23.49 509.36h1v1h-1zM39.18 505.68h1v1h-1zM43.52 505.07h1v1h-1zM22.29 514.02h1v1h-1zM36.68 509.67h1v1h-1zM54.87 511.23h1v1h-1zM40.97 521.75h1v1h-1zM62.99 507.1h1v1h-1zM49.84 508.42h1v1h-1zM37.21 518.09h1v1h-1zM55.75 513.2h1v1h-1zM36.72 502.06h1v1h-1zM56.3 517.94h1v1h-1zM39.11 522.42h1v1h-1zM45.38 520.54h1v1h-1zM25.46 519.64h1v1h-1zM30.77 516.15h1v1h-1zM41.8 523.09h1v1h-1zM35.31 517.53h1v1h-1zM23.96 522.03h1v1h-1zM35.56 524.42h1v1h-1zM31.62 502.24h1v1h-1zM27.54 525.32h1v1h-1zM48.27 504.05h1v1h-1zM32.97 512.03h1v1h-1zM39.5 512.62h1v1h-1zM29.68 507.72h1v1h-1zM67.09 504.35h1v1h-1zM50.97 519.25h1v1h-1zM29.46 528.28h1v1h-1zM57.85 514.66h1v1h-1zM38.19 515.56h1v1h-1zM20.99 513.43h1v1h-1zM62.16 513.47h1v1h-1zM65.28 503.86h1v1h-1zM47.21 517.17h1v1h-1zM38.18 519.64h1v1h-1zM42.69 519.19h1v1h-1zM20.39 516.5h1v1h-1zM48.86 513.05h1v1h-1zM35.16 516.23h1v1h-1zM46.86 514.16h1v1h-1zM49.96 521.46h1v1h-1zM40.35 509.62h1v1h-1zM21.73 520.37h1v1h-1zM26.76 524.3h1v1h-1zM54.95 507.7h1v1h-1zM25.17 526.9h1v1h-1zM58.47 510.98h1v1h-1zM65.42 509.47h1v1h-1zM35.8 527.48h1v1h-1zM26.3 524.36h1v1h-1zM31.67 524.31h1v1h-1zM46.59 517.57h1v1h-1zM28.76 512.17h1v1h-1zM66.63 509.75h1v1h-1zM26.68 529.9h1v1h-1zM24.59 507.78h1v1h-1zM32.99 523.94h1v1h-1zM54.06 506.16h1v1h-1zM61.84 502.28h1v1h-1zM39.16 517.97h1v1h-1zM57.66 514.72h1v1h-1zM45.8 508.01h1v1h-1zM67.96 507.82h1v1h-1zM34.92 526.79h1v1h-1zM41.21 506.19h1v1h-1zM37.29 520.72h1v1h-1zM45.2 502.61h1v1h-1zM26.3 504.78h1v1h-1zM24.01 511.93h1v1h-1zM38.54 523.8h1v1h-1zM41.21 505.78h1v1h-1zM39.23 511.82h1v1h-1zM48.26 509.3h1v1h-1zM39.3 504.07h1v1h-1zM57.57 505.3h1v1h-1zM60.73 506.25h1v1h-1zM36.01 524.45h1v1h-1zM25.98 520.25h1v1h-1zM36.32 519.91h1v1h-1zM31.41 527.32h1v1h-1zM61.05 511.73h1v1h-1zM27.57 503.38h1v1h-1zM53.41 504.99h1v1h-1zM37.6 505.3h1v1h-1zM26.15 516.33h1v1h-1zM39.8 521.76h1v1h-1zM42.78 520.3h1v1h-1zM69.01 508.79h1v1h-1zM40.19 515.89h1v1h-1zM34.96 512.19h1v1h-1zM23.59 528.63h1v1h-1zM57.6 514.24h1v1h-1zM28.72 506.44h1v1h-1zM21.12 508.95h1v1h-1zM61.14 515.28h1v1h-1zM23.88 503.25h1v1h-1zM57.65 507.66h1v1h-1zM40.43 514.31h1v1h-1zM44.17 524.1h1v1h-1zM32.44 505.44h1v1h-1zM32.33 503.41h1v1h-1zM34.13 520.41h1v1h-1zM27.3 528.81h1v1h-1zM26.33 512.97h1v1h-1zM66.05 507.91h1v1h-1zM45.74 509.17h1v1h-1zM55.55 508.61h1v1h-1zM38.36 525.32h1v1h-1zM24.73 529.15h1v1h-1zM47.98 521.02h1v1h-1zM64.14 513.2h1v1h-1zM25.35 516.49h1v1h-1zM67.63 511.12h1v1h-1zM24.49 526.69h1v1h-1zM59.49 503.19h1v1h-1zM58.99 513.83h1v1h-1zM36.96 521.71h1v1h-1zM64.98 508.63h1v1h-1zM48.75 509.51h1v1h-1zM24.72 523.13h1v1h-1zM30.43 527.26h1v1h-1zM34.94 511.35h1v1h-1zM27.25 506.09h1v1h-1zM44.15 508.62h1v1h-1zM28.81 525.41h1v1h-1zM30.37 517.26h1v1h-1zM60.02 503.44h1v1h-1zM41.48 520.07h1v1h-1zM48.75 522.92h1v1h-1zM56.32 510.09h1v1h-1zM37.7 511.75h1v1h-1zM37.6 518.48h1v1h-1zM24.71 528.86h1v1h-1zM24.74 504.05h1v1h-1zM48.92 510.3h1v1h-1zM35.88 508.01h1v1h-1zM22.55 521.76h1v1h-1zM42.84 517.46h1v1h-1zM39.13 519.23h1v1h-1zM27.56 504.13h1v1h-1zM35.87 519.07h1v1h-1zM27.28 504.42h1v1h-1zM40.47 507.73h1v1h-1zM55.06 507.77h1v1h-1zM44.48 515.23h1v1h-1zM44.76 520.97h1v1h-1zM36.51 510.26h1v1h-1zM28.48 520.44h1v1h-1zM21.8 526.5h1v1h-1zM58.43 510.07h1v1h-1zM33.84 504.69h1v1h-1zM64.1 514.24h1v1h-1zM28.6 511.02h1v1h-1zM62.88 504.26h1v1h-1zM49.54 520.71h1v1h-1zM21.89 526.26h1v1h-1zM22.34 514.69h1v1h-1zM33.33 512.02h1v1h-1zM51.79 507.13h1v1h-1zM39.65 512.2h1v1h-1zM67.57 506.66h1v1h-1zM33.55 518.74h1v1h-1zM32.98 528.72h1v1h-1zM52.06 521.21h1v1h-1zM33.22 510.9h1v1h-1zM45.63 509.1h1v1h-1zM26.19 517.04h1v1h-1zM22.55 521.42h1v1h-1zM26.92 528.85h1v1h-1z" fill="#26358e" fill-opacity="0.5"/>
<path d="M28.88 513.53h1v1h-1zM38.2 505.24h1v1h-1zM38.66 520h1v1h-1zM26.91 509.93h1v1h-1zM38.8 512.58h1v1h-1zM52.12 511.35h1v1h-1zM65.09 510.02h1v1h-1zM59.71 504.25h1v1h-1zM44.38 522.53h1v1h-1zM38.65 510.33h1v1h-1zM45.52 516.57h1v1h-1zM59.78 513.98h1v1h-1zM59.32 514.65h1v1h-1zM31.73 515.44h1v1h-1zM34.86 521.86h1v1h-1zM52.72 521.54h1v1h-1zM46.72 515.18h1v1h-1zM57.79 518.02h1v1h-1zM28.87 507.64h1v1h-1zM39.92 512.97h1v1h-1zM52.29 519.57h1v1h-1zM48.89 505.38h1v1h-1zM24.76 517.8h1v1h-1zM49.68 520.5h1v1h-1zM23.2 513.83h1v1h-1zM37.38 516.33h1v1h-1zM44.45 514.42h1v1h-1zM31.68 519.13h1v1h-1zM43.15 513.38h1v1h-1zM31.36 511.28h1v1h-1zM64.97 507.72h1v1h-1zM52.69 509.88h1v1h-1zM32.61 515.92h1v1h-1zM41.08 522.2h1v1h-1zM40.41 523.55h1v1h-1zM31.29 514.19h1v1h-1zM49.52 510.43h1v1h-1zM37.38 520.77h1v1h-1zM35.04 509.82h1v1h-1zM49.46 505.9h1v1h-1zM57.33 515.9h1v1h-1zM46.37 512.12h1v1h-1zM27.61 520.27h1v1h-1zM54.68 517.95h1v1h-1zM66.35 505.31h1v1h-1zM60.2 509.51h1v1h-1zM43.72 521.63h1v1h-1zM27.4 507.19h1v1h-1zM34.67 517.52h1v1h-1zM65.77 510.83h1v1h-1zM39.71 526.14h1v1h-1zM34.32 514.38h1v1h-1zM37.18 503.32h1v1h-1zM24.64 512.23h1v1h-1zM43.28 518.38h1v1h-1zM47.22 516.84h1v1h-1zM41.01 516.08h1v1h-1zM41.05 505.57h1v1h-1zM34.74 507.53h1v1h-1zM30.2 505.71h1v1h-1zM52.19 509.62h1v1h-1zM36.51 509.93h1v1h-1zM48.26 517.74h1v1h-1zM48.23 522.16h1v1h-1zM52.74 506.35h1v1h-1zM41.82 520.84h1v1h-1zM45.08 517.38h1v1h-1zM28.31 513.89h1v1h-1zM24.07 519.85h1v1h-1zM23.08 517.31h1v1h-1zM26.17 524.07h1v1h-1zM57.99 511.86h1v1h-1zM51.54 512.7h1v1h-1zM30.57 521.65h1v1h-1zM38.26 521.65h1v1h-1zM60.47 514.79h1v1h-1zM34.64 526.08h1v1h-1zM20.6 527.14h1v1h-1zM38.06 517.46h1v1h-1zM47.35 509.31h1v1h-1zM58.96 509.39h1v1h-1zM57.08 510.63h1v1h-1zM31.94 527.27h1v1h-1zM20.48 527.18h1v1h-1zM56.88 507.77h1v1h-1zM58.24 513.5h1v1h-1zM56.71 507.98h1v1h-1zM33.84 506.66h1v1h-1zM51.06 520.31h1v1h-1zM39.68 504.27h1v1h-1zM27.6 526.01h1v1h-1zM31.59 508.93h1v1h-1zM21.27 523.02h1v1h-1zM27.39 519.85h1v1h-1zM41.07 521.97h1v1h-1zM51.57 521.84h1v1h-1zM48 514.05h1v1h-1zM44.61 507.33h1v1h-1zM68.22 509.63h1v1h-1zM25.24 509.18h1v1h-1zM53.52 519.78h1v1h-1zM36.68 515.48h1v1h-1zM33.98 514.26h1v1h-1zM37.64 506.39h1v1h-1zM53.21 504.66h1v1h-1zM34.45 523.96h1v1h-1zM25.98 502.54h1v1h-1zM59.21 508.25h1v1h-1zM67.58 510.55h1v1h-1zM48.34 509.65h1v1h-1zM36.59 520.47h1v1h-1zM57.98 503.47h1v1h-1zM57.03 511.13h1v1h-1zM54.31 512.92h1v1h-1zM56.03 504.08h1v1h-1zM55.9 503.31h1v1h-1zM22.57 506.54h1v1h-1zM40.12 514.56h1v1h-1zM67.62 504.94h1v1h-1zM58.4 505.09h1v1h-1zM42.81 504.42h1v1h-1zM29.54 521.3h1v1h-1zM36.06 519.55h1v1h-1zM21.29 519.29h1v1h-1zM35.59 505.1h1v1h-1zM46.14 518.8h1v1h-1zM63.58 504.16h1v1h-1zM21.89 527.8h1v1h-1zM39.86 519.47h1v1h-1zM59.86 507.83h1v1h-1zM40.89 505.25h1v1h-1zM62.93 513.07h1v1h-1zM28.57 511.01h1v1h-1zM48.72 511.13h1v1h-1zM47.31 505.48h1v1h-1zM51.95 514.3h1v1h-1zM28.92 521.53h1v1h-1zM44.91 518.79h1v1h-1zM68.36 507.89h1v1h-1zM35.2 514.28h1v1h-1zM34.84 502.75h1v1h-1zM27.02 512.04h1v1h-1zM36.14 506.95h1v1h-1zM24.81 525.68h1v1h-1zM33.91 517.3h1v1h-1zM25.63 525.3h1v1h-1zM30.96 514.03h1v1h-1zM35.41 515.12h1v1h-1zM48.51 523.23h1v1h-1zM48.76 505.67h1v1h-1zM59.08 509.83h1v1h-1zM37.74 515.28h1v1h-1zM48.14 522.26h1v1h-1zM32.12 502.37h1v1h-1zM52.18 504.71h1v1h-1zM24.08 523.53h1v1h-1zM35.32 520.47h1v1h-1zM39.65 525.8h1v1h-1zM51.08 511.99h1v1h-1zM47.05 511.04h1v1h-1zM29.43 517.42h1v1h-1zM36.32 503.84h1v1h-1zM35.28 507.36h1v1h-1zM42.28 515.6h1v1h-1zM60.86 509.46h1v1h-1zM38.17 503.26h1v1h-1zM62.25 513.96h1v1h-1zM39.58 503.41h1v1h-1zM20.29 504.88h1v1h-1zM48.29 509.38h1v1h-1zM25.98 507.78h1v1h-1zM47.77 509.03h1v1h-1zM24.97 527.64h1v1h-1zM50.03 513.03h1v1h-1zM61.47 509.85h1v1h-1zM29.86 518.96h1v1h-1zM29.26 527.52h1v1h-1zM28.57 523.5h1v1h-1zM63.61 505h1v1h-1zM59.57 509.05h1v1h-1zM53.36 509.35h1v1h-1zM42.55 513.46h1v1h-1zM36.93 526.49h1v1h-1zM35.23 507.64h1v1h-1zM23.99 528.14h1v1h-1zM24.34 516.53h1v1h-1zM44.26 523.67h1v1h-1zM24.57 510.18h1v1h-1zM30.36 521.92h1v1h-1zM36.59 525.95h1v1h-1zM39.7 521.62h1v1h-1zM42.39 508.6h1v1h-1zM36.95 523.84h1v1h-1zM54.65 506.18h1v1h-1zM43.4 522h1v1h-1zM32.38 528.19h1v1h-1zM67.8 505.98h1v1h-1zM69.52 510.07h1v1h-1zM56.28 518.29h1v1h-1zM29.54 504.03h1v1h-1zM30.76 504.21h1v1h-1zM68.04 505.9h1v1h-1zM49.06 517.63h1v1h-1zM42.41 514.61h1v1h-1zM31.38 511.12h1v1h-1zM42.55 512.73h1v1h-1zM58.93 515.03h1v1h-1zM33.62 521.59h1v1h-1zM34.7 510.32h1v1h-1zM38.78 510.33h1v1h-1zM28.6 516.33h1v1h-1zM23.44 508.25h1v1h-1zM32.72 506.14h1v1h-1zM34.93 517.41h1v1h-1zM25.56 518.9h1v1h-1zM47.95 502.05h1v1h-1zM38.33 518.61h1v1h-1zM29.57 516.99h1v1h-1zM20.35 522.25h1v1h-1zM27.9 524.79h1v1h-1zM26.2 504.96h1v1h-1zM22.97 528.69h1v1h-1zM33.53 514.32h1v1h-1zM32.65 519.67h1v1h-1zM53.71 510.54h1v1h-1zM42.32 517.17h1v1h-1zM58.81 510.37h1v1h-1zM33.29 514.6h1v1h-1zM35.62 508.91h1v1h-1zM38.94 506.4h1v1h-1zM28.97 520.96h1v1h-1zM27.77 512.47h1v1h-1zM25.97 516.7h1v1h-1zM62.12 515.12h1v1h-1zM45.12 502.69h1v1h-1zM57.86 508.35h1v1h-1zM39.61 504.26h1v1h-1zM50.49 505.46h1v1h-1zM57.46 514.07h1v1h-1zM42.71 520.63h1v1h-1zM48.28 513.88h1v1h-1zM27.34 525.64h1v1h-1zM33.99 515.56h1v1h-1zM37.67 514.36h1v1h-1zM21.35 512.67h1v1h-1zM37.25 511.63h1v1h-1zM49.83 516.62h1v1h-1zM37.96 501.95h1v1h-1zM33.91 514.1h1v1h-1zM36.46 522.68h1v1h-1zM36.67 514.3h1v1h-1zM25.99 523.79h1v1h-1zM39.45 510.3h1v1h-1zM41.27 520.48h1v1h-1zM42.25 503.94h1v1h-1zM39.46 526.3h1v1h-1zM62.94 507.74h1v1h-1zM22.36 505.44h1v1h-1zM26.35 529.33h1v1h-1zM64.05 507.64h1v1h-1zM27.64 524.49h1v1h-1zM66.51 509.6h1v1h-1zM32.11 502.3h1v1h-1zM49.56 512.01h1v1h-1zM41.48 509.97h1v1h-1zM24.66 519.45h1v1h-1zM64.95 503.71h1v1h-1zM58.24 510.22h1v1h-1zM31.64 528.7h1v1h-1zM45.32 520.74h1v1h-1zM38.69 524.16h1v1h-1zM29.18 512.84h1v1h-1zM57.99 506.17h1v1h-1zM47.02 503.62h1v1h-1zM50.19 506.65h1v1h-1zM33.83 519.66h1v1h-1zM38.58 509.58h1v1h-1zM40.24 521.85h1v1h-1zM41.47 523.67h1v1h-1zM23.33 506.03h1v1h-1zM28.25 509.6h1v1h-1zM31.25 513.33h1v1h-1zM33.43 506.17h1v1h-1zM45.16 517.04h1v1h-1zM23.47 506.08h1v1h-1zM43.34 503.56h1v1h-1zM24.47 516.43h1v1h-1zM25.26 507.57h1v1h-1zM22.86 513.89h1v1h-1zM65.71 504.91h1v1h-1zM20.21 527.65h1v1h-1zM46.51 516.29h1v1h-1zM29.73 509.94h1v1h-1zM29.61 509.3h1v1h-1zM27.39 523.2h1v1h-1zM55.01 502.38h1v1h-1zM39.36 520.59h1v1h-1zM51.64 520.63h1v1h-1zM34.88 502.17h1v1h-1zM39.82 507.91h1v1h-1zM56.72 506.03h1v1h-1zM24.69 521.04h1v1h-1zM33.15 524.77h1v1h-1zM23.34 523.4h1v1h-1zM37.19 511.78h1v1h-1zM54.85 518.45h1v1h-1zM60.92 507.59h1v1h-1zM29.25 510.73h1v1h-1zM28.16 505.64h1v1h-1zM20.91 512.89h1v1h-1zM51.75 515.68h1v1h-1zM43.13 520.31h1v1h-1zM25.72 526.13h1v1h-1zM21.62 503.1h1v1h-1zM56.94 502.53h1v1h-1zM34.54 511.4h1v1h-1zM43.08 517.85h1v1h-1zM40.18 519.16h1v1h-1zM56.01 506.16h1v1h-1zM38.26 517.18h1v1h-1zM67.94 510.62h1v1h-1zM51.67 520.38h1v1h-1zM21.19 511.78h1v1h-1zM26.61 517.99h1v1h-1zM42.93 502.66h1v1h-1zM25.87 507.57h1v1h-1zM60.6 503.48h1v1h-1zM55.46 519.27h1v1h-1zM62.89 506.39h1v1h-1zM56.13 515.83h1v1h-1zM68.77 504.43h1v1h-1zM27.87 521.22h1v1h-1zM32 528.42h1v1h-1zM41.06 511.98h1v1h-1zM26.03 512.08h1v1h-1zM28.96 512.53h1v1h-1zM37.34 524.48h1v1h-1zM41.06 518.75h1v1h-1zM61.42 512.86h1v1h-1zM32.83 507.35h1v1h-1zM32.04 519.55h1v1h-1zM39.67 504.45h1v1h-1zM26.93 512.84h1v1h-1zM50.73 520.31h1v1h-1zM47.37 506.12h1v1h-1zM48.84 515.34h1v1h-1zM37.8 510.11h1v1h-1zM21.76 506.53h1v1h-1zM51.49 516.24h1v1h-1zM28.6 522.82h1v1h-1zM38.93 507.06h1v1h-1zM68.81 507.72h1v1h-1zM42.36 512.05h1v1h-1zM38.03 510.33h1v1h-1zM32.77 502.89h1v1h-1zM51.13 510.25h1v1h-1zM61.82 503.06h1v1h-1zM25.25 505.67h1v1h-1zM58.75 515.63h1v1h-1zM24.32 513.58h1v1h-1zM23.58 527.64h1v1h-1zM58.05 508.46h1v1h-1zM40.42 507.09h1v1h-1zM30.82 512.3h1v1h-1zM35.28 515.59h1v1h-1zM48.63 505.49h1v1h-1zM48.34 522.5h1v1h-1zM20.38 521.02h1v1h-1zM38.4 520.35h1v1h-1zM50.37 510h1v1h-1zM63.17 506.56h1v1h-1zM52.33 502.88h1v1h-1zM31.37 509.71h1v1h-1zM40.34 523.15h1v1h-1zM52.53 516.05h1v1h-1zM27.08 519.91h1v1h-1zM39.79 513.1h1v1h-1zM54.31 505.58h1v1h-1zM27.15 522.51h1v1h-1zM38.37 527.22h1v1h-1zM48.5 519.48h1v1h-1zM61.22 511.18h1v1h-1zM40.43 515.31h1v1h-1zM29.49 507.14h1v1h-1zM58 511.64h1v1h-1zM21.5 506.42h1v1h-1zM21.01 512.94h1v1h-1zM20.62 510.28h1v1h-1zM29.45 507.79h1v1h-1zM55 502.96h1v1h-1zM58.61 505.15h1v1h-1zM57.94 508.95h1v1h-1zM23.51 526.78h1v1h-1zM60.18 511.9h1v1h-1zM21.02 529.78h1v1h-1zM28.92 515.38h1v1h-1zM49.14 522.38h1v1h-1zM36.41 514.31h1v1h-1zM47.95 520.54h1v1h-1zM65.03 512.12h1v1h-1zM22.53 514.78h1v1h-1zM56.88 513.69h1v1h-1zM29.28 526.61h1v1h-1zM38.51 504.77h1v1h-1zM40.4 514.41h1v1h-1zM54.21 511.59h1v1h-1zM24.26 504.28h1v1h-1zM22.25 514.23h1v1h-1zM42.47 518.33h1v1h-1zM25.38 529.76h1v1h-1zM67.66 510.55h1v1h-1zM35.07 510.11h1v1h-1zM20.51 508.87h1v1h-1zM59.17 505.96h1v1h-1zM64.02 511.46h1v1h-1zM40.02 518.03h1v1h-1zM47.04 521.79h1v1h-1zM35.01 514.37h1v1h-1zM35.46 527.55h1v1h-1zM38.66 515.83h1v1h-1zM29.71 510.13h1v1h-1zM25.69 516.46h1v1h-1zM38.1 514.13h1v1h-1zM62.92 508.01h1v1h-1zM25.99 510.4h1v1h-1zM22.11 520.86h1v1h-1zM24.97 514.54h1v1h-1zM43.13 519.9h1v1h-1zM34.53 520.53h1v1h-1zM33.13 525.87h1v1h-1zM37.04 511.59h1v1h-1zM31.8 515.57h1v1h-1zM41.95 515.32h1v1h-1zM32.38 511.63h1v1h-1zM53.72 516.8h1v1h-1zM57.6 514.21h1v1h-1zM28.71 509.06h1v1h-1zM66.62 508.83h1v1h-1zM26.28 520.09h1v1h-1zM28.54 503.82h1v1h-1zM23.97 508.34h1v1h-1zM47.65 516.74h1v1h-1zM62.11 514.65h1v1h-1zM47.82 517.08h1v1h-1zM35.34 502.45h1v1h-1zM41.62 503.94h1v1h-1zM68.02 510.77h1v1h-1zM37.81 504.85h1v1h-1zM46.9 513.82h1v1h-1zM31.53 528.05h1v1h-1zM63.19 508.15h1v1h-1zM23.02 517.55h1v1h-1zM33.46 524.66h1v1h-1zM44.17 503.39h1v1h-1zM51.12 517h1v1h-1z" fill="#232a84" fill-opacity="0.5"/>
<path d="M29.99 511.75h1v1h-1zM38.4 517.18h1v1h-1zM49.01 505.16h1v1h-1zM34.83 509.73h1v1h-1zM35.4 520.89h1v1h-1zM40.8 511.27h1v1h-1zM31.99 528.39h1v1h-1zM32.7 514.68h1v1h-1zM26.83 530.06h1v1h-1zM28.24 508.24h1v1h-1zM53 516.21h1v1h-1zM60.68 503.92h1v1h-1zM48.8 515.58h1v1h-1zM60.48 513.04h1v1h-1zM29.05 527.18h1v1h-1zM21.6 523.46h1v1h-1zM54.23 504.22h1v1h-1zM32.33 513.64h1v1h-1zM22.82 520.13h1v1h-1zM45.8 512.09h1v1h-1zM22.29 513.08h1v1h-1zM41.25 513.81h1v1h-1zM37.72 514.47h1v1h-1zM32.6 503.4h1v1h-1zM35.39 517.75h1v1h-1zM39.56 514.94h1v1h-1zM37.04 512.21h1v1h-1zM50.85 522.18h1v1h-1zM59.85 512.68h1v1h-1zM40.84 504.03h1v1h-1zM45.16 514.16h1v1h-1zM43.97 516.56h1v1h-1zM57.17 517.33h1v1h-1zM59.22 506.62h1v1h-1zM39.26 521.32h1v1h-1zM48.62 522.67h1v1h-1zM32.85 519.56h1v1h-1zM24.34 520.48h1v1h-1zM58.39 516.35h1v1h-1zM42.82 521.04h1v1h-1zM21.45 523.86h1v1h-1zM44.48 504.47h1v1h-1zM56.77 518.37h1v1h-1zM41.85 513.49h1v1h-1zM44.1 523.46h1v1h-1zM32.86 524.3h1v1h-1zM52.81 510.63h1v1h-1zM32.11 514.18h1v1h-1zM54.25 516.9h1v1h-1zM41.44 502.42h1v1h-1zM58.39 504.11h1v1h-1zM30.57 523.67h1v1h-1zM32.85 506.99h1v1h-1zM63.65 507.78h1v1h-1zM38.39 522.44h1v1h-1zM30.46 513.24h1v1h-1zM37.67 505.95h1v1h-1zM36.58 522.07h1v1h-1zM25.66 517.9h1v1h-1zM42.09 513.91h1v1h-1zM36.96 503.48h1v1h-1zM56.65 513.46h1v1h-1zM54.91 509.11h1v1h-1zM43.09 512.76h1v1h-1zM24.48 505.54h1v1h-1zM29 511.85h1v1h-1zM54.81 508.66h1v1h-1zM36.48 523.5h1v1h-1zM59.02 504.55h1v1h-1zM21.52 504.38h1v1h-1zM63.34 504.85h1v1h-1zM22.98 530.13h1v1h-1zM37.49 516.21h1v1h-1zM65.95 507.75h1v1h-1zM36.88 510.54h1v1h-1zM62.47 503.6h1v1h-1zM32.28 516.33h1v1h-1zM54.77 513.4h1v1h-1zM43.67 515.87h1v1h-1zM57.06 506.66h1v1h-1zM51.78 512.81h1v1h-1zM53.66 515.02h1v1h-1zM62.85 512.26h1v1h-1zM55.56 514.44h1v1h-1zM42.23 508.55h1v1h-1zM26.67 507.62h1v1h-1zM52.73 510.17h1v1h-1zM45 521.07h1v1h-1zM38.77 524.57h1v1h-1zM34.05 508.11h1v1h-1zM44.23 504.05h1v1h-1zM48.26 521.82h1v1h-1zM53.93 516.98h1v1h-1zM29.21 518.9h1v1h-1zM24.72 521.6h1v1h-1zM21.14 511.18h1v1h-1zM21.12 517.19h1v1h-1zM61.33 514.72h1v1h-1zM33.52 526.56h1v1h-1zM35.42 515.61h1v1h-1zM37.25 516.33h1v1h-1zM28.77 528.16h1v1h-1zM66.87 510.28h1v1h-1zM54.9 503.27h1v1h-1zM28.49 507.62h1v1h-1zM34.61 517.19h1v1h-1zM41.61 513.95h1v1h-1zM33.47 502.44h1v1h-1zM31.18 522.94h1v1h-1zM26.34 510.51h1v1h-1zM62.57 513.22h1v1h-1zM28.59 522.39h1v1h-1zM47.54 516.8h1v1h-1zM29.33 516.08h1v1h-1zM59.71 510.02h1v1h-1zM24.19 507.12h1v1h-1zM23.42 504.61h1v1h-1zM25.02 517.71h1v1h-1zM60.38 514.77h1v1h-1zM43.24 515.48h1v1h-1zM43.07 508.42h1v1h-1zM33.14 506.13h1v1h-1zM43.01 516.39h1v1h-1zM37.77 512.84h1v1h-1zM35 519.48h1v1h-1zM29.23 512.48h1v1h-1zM51.2 515.5h1v1h-1zM38.46 526.46h1v1h-1zM41.61 504.75h1v1h-1zM23.37 503.67h1v1h-1zM38.64 503.99h1v1h-1zM22.12 517.75h1v1h-1zM64.17 509.07h1v1h-1zM21.46 522.32h1v1h-1zM24.22 520.96h1v1h-1zM52.82 506.41h1v1h-1zM46.74 509.96h1v1h-1zM52.68 513.86h1v1h-1zM45.78 519.21h1v1h-1zM30.51 526.53h1v1h-1zM22.94 517.15h1v1h-1zM59.55 503.52h1v1h-1zM34.9 514.76h1v1h-1zM53.09 515.28h1v1h-1zM69.01 506.61h1v1h-1zM21.29 517.94h1v1h-1zM41.41 523.61h1v1h-1zM56.38 516.05h1v1h-1zM21.96 530.07h1v1h-1zM40.66 502.23h1v1h-1zM48.91 506.76h1v1h-1zM34.7 503.14h1v1h-1zM70.68 507.51h1v1h-1zM31.45 511.27h1v1h-1zM33.66 526.76h1v1h-1zM23.15 518.36h1v1h-1zM40.33 514.28h1v1h-1zM69.03 505.5h1v1h-1zM40.03 509.65h1v1h-1zM24.23 513.9h1v1h-1zM63.16 506.47h1v1h-1zM23.86 523h1v1h-1zM21.33 504.24h1v1h-1zM21.94 505.7h1v1h-1zM28.83 528.25h1v1h-1zM67.57 509.73h1v1h-1zM49.95 518.01h1v1h-1zM26.61 511.87h1v1h-1zM47.42 509h1v1h-1zM44.66 523.06h1v1h-1zM20.81 505.77h1v1h-1zM31.12 527.81h1v1h-1zM31.01 518.58h1v1h-1zM47.94 521.79h1v1h-1zM31.15 515.35h1v1h-1zM26.49 523.21h1v1h-1zM24.74 529.66h1v1h-1zM20.93 511.06h1v1h-1zM49.03 520.32h1v1h-1zM57.17 513.24h1v1h-1zM64.45 505.13h1v1h-1zM38.63 507.3h1v1h-1zM53.6 511.76h1v1h-1zM37.26 518.67h1v1h-1zM33.01 515.3h1v1h-1zM50.08 514.8h1v1h-1zM53.89 511.05h1v1h-1zM44.2 522.67h1v1h-1zM38.66 524.68h1v1h-1zM55.42 516.16h1v1h-1zM28.67 510.5h1v1h-1zM27.58 516.64h1v1h-1zM38.2 520.37h1v1h-1zM51.44 513.8h1v1h-1zM28.39 519.68h1v1h-1zM43.37 503.75h1v1h-1zM40.22 524.2h1v1h-1zM48.9 520.99h1v1h-1zM41.11 507.8h1v1h-1zM28.04 503.06h1v1h-1zM25.07 513.16h1v1h-1zM34.21 508.89h1v1h-1zM23.26 514.55h1v1h-1zM30.6 524.62h1v1h-1zM33.19 516.81h1v1h-1zM54 506.74h1v1h-1zM43.91 502.92h1v1h-1zM41.46 504.98h1v1h-1zM46.83 504.28h1v1h-1zM57.25 507.76h1v1h-1zM43.34 512.79h1v1h-1zM58.14 517.3h1v1h-1zM40.98 506.75h1v1h-1zM26.74 519.17h1v1h-1zM54.76 503.33h1v1h-1zM25.14 519.27h1v1h-1zM26.33 510.85h1v1h-1zM69.62 506.07h1v1h-1zM41.86 501.94h1v1h-1zM52.33 517.86h1v1h-1zM36.65 511.4h1v1h-1zM49.73 519.71h1v1h-1zM30.58 521.64h1v1h-1zM33.89 516.16h1v1h-1zM31.11 517.49h1v1h-1zM67.31 505.5h1v1h-1zM54.55 507.3h1v1h-1zM39.38 504.29h1v1h-1zM41.98 520.52h1v1h-1zM61.19 515.57h1v1h-1zM33.61 507.58h1v1h-1zM27.17 503.22h1v1h-1zM50.09 516.46h1v1h-1zM45.61 506.86h1v1h-1zM42.86 514.81h1v1h-1zM51.31 522.21h1v1h-1zM53.21 508.98h1v1h-1zM20.79 516.61h1v1h-1zM62.98 511.07h1v1h-1zM21.01 522.27h1v1h-1zM20.23 519.83h1v1h-1zM54.06 513.54h1v1h-1zM25.59 527.16h1v1h-1zM63.88 507.85h1v1h-1zM23.62 507.02h1v1h-1zM25.84 517.52h1v1h-1zM21.33 523.3h1v1h-1zM40.93 511.23h1v1h-1zM35.48 523.69h1v1h-1zM38.44 522.06h1v1h-1zM65.09 503.7h1v1h-1zM26.99 505.6h1v1h-1zM49.27 517.47h1v1h-1zM53.49 508.65h1v1h-1zM29.05 512.39h1v1h-1zM34.29 505.26h1v1h-1zM24.08 521.11h1v1h-1zM31.55 517.77h1v1h-1zM25.97 530.07h1v1h-1zM58.07 513.87h1v1h-1zM29.61 529.25h1v1h-1zM29.15 510.42h1v1h-1zM27.26 518.48h1v1h-1zM31.29 520.92h1v1h-1zM44.2 514.28h1v1h-1zM64.42 511.62h1v1h-1zM32.39 509.73h1v1h-1zM43.75 505.32h1v1h-1zM28.86 518.44h1v1h-1zM27.11 503.86h1v1h-1zM37.68 513.65h1v1h-1zM47.61 517.3h1v1h-1zM33.51 527.67h1v1h-1zM32.18 506.7h1v1h-1zM34.77 508.97h1v1h-1zM58.61 511.81h1v1h-1zM30.36 528.02h1v1h-1zM23.64 516.24h1v1h-1zM44.23 508.04h1v1h-1zM44.47 521.18h1v1h-1zM54.13 505.21h1v1h-1zM43.94 518.16h1v1h-1zM57.7 507.36h1v1h-1zM37.46 505.18h1v1h-1zM31.41 508.55h1v1h-1zM63.45 513.03h1v1h-1zM64.56 507.53h1v1h-1zM46.6 521.77h1v1h-1zM47.33 507.31h1v1h-1zM70.01 507.94h1v1h-1zM57.49 505.63h1v1h-1zM58.91 515.47h1v1h-1zM24.08 515.56h1v1h-1zM64.44 504.04h1v1h-1zM29.93 508.54h1v1h-1zM29.48 504.02h1v1h-1zM28.31 520.65h1v1h-1zM32.18 512.73h1v1h-1zM53.77 520.74h1v1h-1zM65.54 508.21h1v1h-1zM42.73 512.55h1v1h-1zM46.42 515.07h1v1h-1zM51.86 521.52h1v1h-1zM43.53 510.81h1v1h-1zM35.42 505.07h1v1h-1zM39.8 510.41h1v1h-1zM34.13 506.87h1v1h-1zM68.63 505.45h1v1h-1zM27.8 505.14h1v1h-1zM27.09 528.85h1v1h-1zM31.74 510.82h1v1h-1zM34.85 507.04h1v1h-1zM34.35 512.48h1v1h-1zM41.86 518.86h1v1h-1zM46.5 521.34h1v1h-1zM33.59 525.12h1v1h-1zM21 504.26h1v1h-1zM21.04 529.68h1v1h-1zM52.61 521.37h1v1h-1zM38.1 519.58h1v1h-1zM29.72 523.18h1v1h-1zM27.65 502.76h1v1h-1zM31.88 504.92h1v1h-1zM23.71 512.98h1v1h-1zM27.93 507.27h1v1h-1zM21.54 529.48h1v1h-1zM51.57 506.49h1v1h-1zM47.51 516.59h1v1h-1zM23.04 518.8h1v1h-1zM57.57 516.42h1v1h-1zM57.22 511.66h1v1h-1zM54.12 511.96h1v1h-1zM50.94 521.23h1v1h-1zM56.83 502.76h1v1h-1zM59.75 514.87h1v1h-1zM24.92 513.71h1v1h-1zM56.45 515.23h1v1h-1zM35.41 518.7h1v1h-1zM62.8 510.34h1v1h-1zM59.51 511.09h1v1h-1zM45.45 521.01h1v1h-1zM48.95 506.29h1v1h-1zM27.22 503.34h1v1h-1zM47.83 515.46h1v1h-1zM57.53 507.25h1v1h-1zM62.67 502.57h1v1h-1zM45.66 521.75h1v1h-1zM40.77 516.28h1v1h-1zM20.2 521.56h1v1h-1zM52.78 505.32h1v1h-1zM34.66 519.05h1v1h-1zM42.66 514.5h1v1h-1zM31.57 502.6h1v1h-1zM36.15 509.24h1v1h-1zM43.59 510.36h1v1h-1zM62.77 505.62h1v1h-1zM43.16 513.84h1v1h-1zM24.49 513.38h1v1h-1zM69.49 509.89h1v1h-1zM25.12 516.81h1v1h-1zM66.64 512.33h1v1h-1zM29.46 522.52h1v1h-1zM57.28 507h1v1h-1zM36.35 510.8h1v1h-1zM48.92 510.93h1v1h-1zM29.86 516.57h1v1h-1zM49.08 502.03h1v1h-1zM53.46 511.75h1v1h-1zM22.16 513.34h1v1h-1zM48.64 512.99h1v1h-1zM41.51 520.58h1v1h-1zM35.38 510.1h1v1h-1zM47 506.52h1v1h-1zM54.87 518.12h1v1h-1zM21.74 515.87h1v1h-1zM28.02 507.62h1v1h-1zM69.3 504.88h1v1h-1zM37.65 519.5h1v1h-1zM38.58 524.84h1v1h-1zM22.56 507.31h1v1h-1zM21.88 521.42h1v1h-1zM35.34 514.96h1v1h-1zM48.68 507.82h1v1h-1zM22.53 520.81h1v1h-1zM58.72 506.07h1v1h-1zM51.78 520.33h1v1h-1zM50.68 504.48h1v1h-1zM36.71 510.9h1v1h-1zM32.5 522.77h1v1h-1zM31.22 514.4h1v1h-1zM67.74 508.12h1v1h-1zM28.18 518.09h1v1h-1zM59.16 503.32h1v1h-1zM25.21 507.86h1v1h-1zM65.22 509.53h1v1h-1zM26.17 511.11h1v1h-1zM22.32 511.34h1v1h-1zM32.82 515.2h1v1h-1zM67.8 508.36h1v1h-1zM26.47 506.68h1v1h-1zM44.68 508.37h1v1h-1zM47.37 519.52h1v1h-1zM59.86 516.05h1v1h-1zM21.32 526.94h1v1h-1zM50.4 510.27h1v1h-1zM29.6 509.66h1v1h-1zM68.75 504.65h1v1h-1zM34.89 503.3h1v1h-1zM34.98 508.4h1v1h-1zM53.38 519.9h1v1h-1zM33.08 507.04h1v1h-1zM23.74 524.54h1v1h-1zM25.84 503.24h1v1h-1zM31.41 516.38h1v1h-1zM48.17 504.28h1v1h-1zM41.18 524.57h1v1h-1zM31.93 511.39h1v1h-1zM55.85 502.96h1v1h-1zM21.89 514.14h1v1h-1zM51 512.2h1v1h-1zM24.35 521.69h1v1h-1zM28.38 503.25h1v1h-1zM53.4 509.39h1v1h-1zM55.07 516.86h1v1h-1zM29.27 524.14h1v1h-1zM48.21 510.16h1v1h-1zM44.22 508.07h1v1h-1zM56.58 503h1v1h-1zM52.22 506.1h1v1h-1zM32.63 513.38h1v1h-1zM33.8 503.31h1v1h-1zM55.59 511.18h1v1h-1zM24.98 507.47h1v1h-1zM43.53 516.5h1v1h-1zM60.65 506.63h1v1h-1zM61.34 504.99h1v1h-1zM29.96 516.39h1v1h-1zM40.6 526.27h1v1h-1zM22.91 514.17h1v1h-1zM46.29 514.08h1v1h-1zM32.32 506.64h1v1h-1zM45.84 510.21h1v1h-1zM43.93 509.84h1v1h-1zM43.36 506.66h1v1h-1zM35.72 511.18h1v1h-1zM52.3 512.98h1v1h-1zM35.54 525h1v1h-1zM53.98 511.28h1v1h-1zM37.17 508.05h1v1h-1zM20.57 524.79h1v1h-1zM28.13 527.76h1v1h-1zM20.8 516.68h1v1h-1zM21.77 516.48h1v1h-1zM31.88 508.95h1v1h-1zM33.3 511.54h1v1h-1zM45.82 505.98h1v1h-1zM37.89 517.79h1v1h-1zM23.7 505.99h1v1h-1z" fill="#3a3a9e" fill-opacity="0.5"/>
<path d="M52 518.17h1v1h-1zM57.77 513.19h1v1h-1zM57.41 503.26h1v1h-1zM34.69 506.32h1v1h-1zM27.83 505.12h1v1h-1zM54.54 507.35h1v1h-1zM42.12 521.81h1v1h-1zM30.41 505.97h1v1h-1zM60.58 510.7h1v1h-1zM28.4 512.36h1v1h-1zM29.87 504.88h1v1h-1zM33.61 515.2h1v1h-1zM41.34 523.14h1v1h-1zM26.99 507.2h1v1h-1zM61.68 504.21h1v1h-1zM55.28 515.68h1v1h-1zM46.64 522.93h1v1h-1zM39.16 524.32h1v1h-1zM61.62 513.07h1v1h-1zM29.12 507.31h1v1h-1zM25.88 511.52h1v1h-1zM23.18 524.18h1v1h-1zM47.44 522.16h1v1h-1zM46.52 518.16h1v1h-1zM23.78 523.58h1v1h-1zM29.29 518.39h1v1h-1zM20.65 529.22h1v1h-1zM25.34 526.27h1v1h-1zM51.71 510.74h1v1h-1zM38.08 506.75h1v1h-1zM21 521.98h1v1h-1zM24.5 508.68h1v1h-1zM57.83 508.98h1v1h-1zM59.32 508.09h1v1h-1zM38.31 503.18h1v1h-1zM55.48 509.64h1v1h-1zM22.54 507.78h1v1h-1zM33.03 516.32h1v1h-1zM60.64 515.77h1v1h-1zM32.77 512.7h1v1h-1zM51.25 513.02h1v1h-1zM43.41 510.81h1v1h-1zM42.91 520.67h1v1h-1zM28.67 520.34h1v1h-1zM55.51 511.34h1v1h-1zM21.26 512.81h1v1h-1zM29.55 509.72h1v1h-1zM20.87 503.04h1v1h-1zM24.15 504.93h1v1h-1zM22.81 527.63h1v1h-1zM28.64 507.31h1v1h-1zM45.26 521.51h1v1h-1zM34.82 523.8h1v1h-1zM65.41 503.66h1v1h-1zM27.18 513.14h1v1h-1zM43.36 509.88h1v1h-1zM50.36 514.93h1v1h-1zM30.19 528.23h1v1h-1zM34.15 506.34h1v1h-1zM44.64 514.99h1v1h-1zM48.42 519.16h1v1h-1zM22.81 515.49h1v1h-1zM55.27 509.12h1v1h-1zM24.35 511.55h1v1h-1zM69.41 508.21h1v1h-1zM71.3 507.84h1v1h-1zM35.94 525.64h1v1h-1zM25.61 503.89h1v1h-1zM20.82 505.4h1v1h-1zM26.78 520.48h1v1h-1zM35.74 519.12h1v1h-1zM40.28 507.91h1v1h-1zM34.98 515.37h1v1h-1zM23.04 512.63h1v1h-1zM20.48 528.63h1v1h-1zM33.36 505.21h1v1h-1zM44.56 523.21h1v1h-1zM48.69 512.57h1v1h-1zM37.01 508.38h1v1h-1zM63.15 502.82h1v1h-1zM46.95 517.9h1v1h-1zM42.4 514.84h1v1h-1zM53.98 512.43h1v1h-1zM34.76 506.84h1v1h-1zM21.63 515.96h1v1h-1zM27.54 515.02h1v1h-1zM53.41 504.31h1v1h-1zM66.12 504.4h1v1h-1zM28.85 508.21h1v1h-1zM62.34 513.7h1v1h-1zM55.93 517.02h1v1h-1zM24.19 506.18h1v1h-1zM40.18 508.25h1v1h-1zM29.09 517.06h1v1h-1zM47.26 502.45h1v1h-1zM27.47 510.6h1v1h-1zM46.31 505.83h1v1h-1zM67.98 505.94h1v1h-1zM35.31 523.02h1v1h-1zM53.27 507.23h1v1h-1zM41.17 518.19h1v1h-1zM23.14 529.47h1v1h-1zM63.84 506.22h1v1h-1zM54 514.83h1v1h-1zM32.02 507.23h1v1h-1zM54.28 516.86h1v1h-1zM58.9 511.53h1v1h-1zM49.68 507.16h1v1h-1zM28.93 524.91h1v1h-1zM50.18 513.81h1v1h-1zM58.68 517.54h1v1h-1zM21.92 524.6h1v1h-1zM36.05 509.79h1v1h-1zM63.85 507.97h1v1h-1zM48.91 511.13h1v1h-1zM53.27 506.8h1v1h-1zM49.07 511.97h1v1h-1zM64.59 508.41h1v1h-1zM28.16 525.65h1v1h-1zM46.3 515.31h1v1h-1zM43.86 510.85h1v1h-1zM49.03 508.89h1v1h-1zM36.21 525.85h1v1h-1zM50.42 512.99h1v1h-1zM48.11 505.36h1v1h-1zM23.31 525.16h1v1h-1zM24.77 513.29h1v1h-1zM20.68 521.88h1v1h-1zM56.38 518.51h1v1h-1zM40.65 525.87h1v1h-1zM34.2 504.52h1v1h-1zM66.77 506.38h1v1h-1zM49.2 521.72h1v1h-1zM22.59 520.77h1v1h-1zM46.85 506.32h1v1h-1zM42.79 520.62h1v1h-1zM59.35 505.4h1v1h-1zM34.45 512.08h1v1h-1zM70.23 506.87h1v1h-1zM27.1 527.43h1v1h-1zM43.94 514.6h1v1h-1zM51.45 515.61h1v1h-1zM60.04 516.57h1v1h-1zM32.37 512.57h1v1h-1zM31.57 515h1v1h-1zM42.99 524.43h1v1h-1zM42.61 511.84h1v1h-1zM49.17 512.01h1v1h-1zM29.27 504.79h1v1h-1zM49.59 512.14h1v1h-1zM35.22 503.62h1v1h-1zM37.01 502.13h1v1h-1zM54.06 504.64h1v1h-1zM31.49 527.95h1v1h-1zM29.06 508.17h1v1h-1zM67.44 509.19h1v1h-1zM21.31 516.85h1v1h-1zM38.36 512.55h1v1h-1zM45.38 503.3h1v1h-1zM31.13 503.04h1v1h-1zM28.16 513.28h1v1h-1zM46.09 504.42h1v1h-1zM60.74 508.11h1v1h-1zM30.79 514.39h1v1h-1zM46.1 506.46h1v1h-1zM45.61 502.46h1v1h-1zM30.79 523.98h1v1h-1zM28.92 520.69h1v1h-1zM22.23 523.84h1v1h-1zM27.05 502.61h1v1h-1zM30.99 518.6h1v1h-1zM68.06 510.54h1v1h-1zM45.83 524.23h1v1h-1zM34.97 526.53h1v1h-1zM46.85 508.28h1v1h-1zM63.61 512.59h1v1h-1zM38.47 519.36h1v1h-1zM45.69 511.58h1v1h-1zM53.05 508.81h1v1h-1zM49.59 503.4h1v1h-1zM45.47 507.52h1v1h-1zM24.71 518.19h1v1h-1zM37.5 524.35h1v1h-1zM21.92 518.08h1v1h-1zM26.97 524.27h1v1h-1zM47.97 503.82h1v1h-1zM65.37 511.11h1v1h-1zM40.02 514.84h1v1h-1zM35.12 502.11h1v1h-1zM22.98 529.35h1v1h-1zM57.83 508.37h1v1h-1zM53.39 503.16h1v1h-1zM47.68 506.16h1v1h-1zM49.29 521.03h1v1h-1zM23.15 521.09h1v1h-1zM48.39 503.82h1v1h-1zM46.86 513.48h1v1h-1zM50.68 506.11h1v1h-1zM29.76 510.85h1v1h-1zM43.36 517.08h1v1h-1zM55.26 515.1h1v1h-1zM60.18 513.2h1v1h-1zM51.65 515.4h1v1h-1zM24.48 523.75h1v1h-1zM40.79 514.82h1v1h-1zM29.75 527.98h1v1h-1zM47.96 521.48h1v1h-1zM25.18 514.49h1v1h-1zM28.05 512.91h1v1h-1zM31.29 503.47h1v1h-1zM57.13 504.29h1v1h-1zM40.03 506.85h1v1h-1zM46.55 516.58h1v1h-1zM42.15 509.22h1v1h-1zM36.23 512.34h1v1h-1zM60.5 512.12h1v1h-1zM25.03 516.43h1v1h-1zM23.37 520.13h1v1h-1zM42.22 516.51h1v1h-1zM21.16 516.8h1v1h-1zM36.22 508.17h1v1h-1zM21.71 507.28h1v1h-1zM64.68 507.94h1v1h-1zM33.47 510.58h1v1h-1zM57.51 504.11h1v1h-1zM65.23 505.59h1v1h-1zM47.52 521.89h1v1h-1zM22.95 504.33h1v1h-1zM25.27 513.72h1v1h-1zM60.05 511.01h1v1h-1zM30.18 503.35h1v1h-1zM51.56 513.15h1v1h-1zM54.06 515.47h1v1h-1zM48.45 511.95h1v1h-1zM25.94 504.71h1v1h-1zM67.4 506.1h1v1h-1zM45.16 512.71h1v1h-1zM66.78 505.13h1v1h-1zM44.18 521.64h1v1h-1zM24.99 526.65h1v1h-1zM23.53 506.32h1v1h-1zM46.32 515.75h1v1h-1zM27.91 523.47h1v1h-1zM25.21 505.83h1v1h-1zM25.97 512.6h1v1h-1zM49.42 516.72h1v1h-1zM66.88 504.01h1v1h-1zM42.79 518.06h1v1h-1zM44.99 513.51h1v1h-1zM22.56 515.05h1v1h-1zM43.15 507.78h1v1h-1zM28.59 520.32h1v1h-1zM29.66 503.13h1v1h-1zM36.56 508.22h1v1h-1zM48 515.01h1v1h-1zM26.05 523.41h1v1h-1zM25.5 508.74h1v1h-1zM50.91 509.82h1v1h-1zM58.61 516.66h1v1h-1zM39.25 505.31h1v1h-1zM41.99 525.99h1v1h-1zM53.93 509.49h1v1h-1zM26.44 525.33h1v1h-1zM37.28 517.86h1v1h-1zM60.25 516.91h1v1h-1zM32.77 518.75h1v1h-1zM47.35 518.72h1v1h-1zM34.85 526.03h1v1h-1zM35.83 503.13h1v1h-1zM37.5 511.42h1v1h-1zM23.71 523.39h1v1h-1zM51.67 505.28h1v1h-1zM56.78 502.43h1v1h-1zM21.72 510.95h1v1h-1zM28.7 507.3h1v1h-1zM55.99 516.61h1v1h-1zM27.5 514.92h1v1h-1zM35.34 508.04h1v1h-1zM39.27 502.4h1v1h-1zM47.26 511.54h1v1h-1zM36.98 525h1v1h-1zM43.05 502.74h1v1h-1zM31.25 527.87h1v1h-1zM20.45 507.8h1v1h-1zM39.41 510.54h1v1h-1zM32.33 521.99h1v1h-1zM59.68 510.51h1v1h-1zM58.24 502.31h1v1h-1zM69.64 505.17h1v1h-1zM40.81 516.41h1v1h-1zM27.89 521.26h1v1h-1zM23.56 520.44h1v1h-1zM29.48 528.47h1v1h-1zM35.18 526.26h1v1h-1zM30.29 517.69h1v1h-1zM59.49 503.07h1v1h-1zM32.45 509.74h1v1h-1zM29.75 508.47h1v1h-1zM68.4 508.68h1v1h-1zM70.7 507.55h1v1h-1zM24.29 520.42h1v1h-1zM26.59 513.11h1v1h-1zM23.04 515.54h1v1h-1zM25.54 510.88h1v1h-1zM34.86 515.95h1v1h-1zM27.46 515.65h1v1h-1zM34.14 513.49h1v1h-1zM58.77 506.77h1v1h-1zM64.05 513.6h1v1h-1zM44.21 514.67h1v1h-1zM66.66 507.46h1v1h-1zM25.79 525.62h1v1h-1zM31.3 518.83h1v1h-1zM42.54 520.01h1v1h-1zM50.26 513.14h1v1h-1zM20.49 516.33h1v1h-1zM41.1 513.1h1v1h-1zM37.24 517.57h1v1h-1zM45.89 515.36h1v1h-1zM27.71 527.29h1v1h-1zM38.88 521.83h1v1h-1zM26.26 510.1h1v1h-1zM27.44 520.32h1v1h-1zM33.3 509.32h1v1h-1zM45.46 517.49h1v1h-1zM50.61 511.11h1v1h-1zM23.13 518.25h1v1h-1zM58.88 505.42h1v1h-1zM37.84 509.67h1v1h-1zM50.92 511.6h1v1h-1zM62.6 508.99h1v1h-1zM32.74 505.55h1v1h-1zM30.9 507.29h1v1h-1zM43.14 522.91h1v1h-1zM32.13 522.29h1v1h-1zM58.99 511.09h1v1h-1zM49.71 512.36h1v1h-1zM33.53 506.38h1v1h-1zM40.1 506.61h1v1h-1zM43.32 523.67h1v1h-1zM35.02 512.49h1v1h-1zM30.26 506.99h1v1h-1zM32.02 511.07h1v1h-1zM23.83 523.88h1v1h-1zM47.06 507.14h1v1h-1zM54.49 506.11h1v1h-1zM38.69 514h1v1h-1zM35.66 522.1h1v1h-1zM44.66 509.08h1v1h-1zM27.01 517.27h1v1h-1zM47.71 519.83h1v1h-1zM24.23 519.02h1v1h-1zM45.8 513.7h1v1h-1zM20.2 527.07h1v1h-1zM60.7 507.37h1v1h-1zM55.67 512.01h1v1h-1zM57.9 509.02h1v1h-1zM22.11 503.31h1v1h-1zM51.93 506.66h1v1h-1zM49.43 517.19h1v1h-1zM26.98 528.47h1v1h-1zM41.09 521.79h1v1h-1zM44.91 509.83h1v1h-1zM55.21 509.4h1v1h-1zM40.72 520.74h1v1h-1zM37.7 508.08h1v1h-1zM57.57 513.34h1v1h-1zM24.03 515.18h1v1h-1zM28.13 517.98h1v1h-1zM49.25 506.1h1v1h-1zM38.96 520.48h1v1h-1zM49 519.69h1v1h-1zM31.98 527.68h1v1h-1zM46.89 518.53h1v1h-1zM27.17 516.4h1v1h-1zM45.31 503.1h1v1h-1zM44.11 523.36h1v1h-1zM30.11 505.79h1v1h-1zM34.67 504.29h1v1h-1zM61.17 504.79h1v1h-1zM60.55 509.1h1v1h-1zM28.6 517.1h1v1h-1zM32.22 525.55h1v1h-1zM23.6 515.38h1v1h-1zM25.05 528.24h1v1h-1zM29.73 518.35h1v1h-1zM51.33 502.64h1v1h-1zM22.94 502.71h1v1h-1zM22.72 523.21h1v1h-1zM28.38 523.4h1v1h-1zM23.61 506.87h1v1h-1zM44.34 518.98h1v1h-1zM42.96 515.08h1v1h-1zM64.65 507.22h1v1h-1zM31.9 520.96h1v1h-1zM23.65 507.23h1v1h-1zM37.9 503.02h1v1h-1zM46.95 522.22h1v1h-1zM53.25 513.23h1v1h-1zM28.26 517.7h1v1h-1zM31.74 523.93h1v1h-1zM27.83 512.7h1v1h-1zM49.14 502.92h1v1h-1zM38.66 507.93h1v1h-1zM56.42 503.89h1v1h-1zM20.86 521.49h1v1h-1zM51.68 504.17h1v1h-1zM22.08 505.86h1v1h-1zM62.63 515.44h1v1h-1zM42.53 524.8h1v1h-1zM71.07 508.49h1v1h-1zM30.5 523.33h1v1h-1zM41.49 505.57h1v1h-1zM42.38 515.23h1v1h-1zM33.28 516.79h1v1h-1zM66.68 507.92h1v1h-1zM61.39 505.78h1v1h-1zM43.22 517.09h1v1h-1zM58.62 510.96h1v1h-1zM32 509h1v1h-1zM33.63 507.6h1v1h-1zM27.04 526.2h1v1h-1zM27.71 504.94h1v1h-1zM20.86 521.71h1v1h-1zM44.08 524.26h1v1h-1zM30.75 515.96h1v1h-1zM35.97 522.81h1v1h-1zM25.93 502.82h1v1h-1zM26.62 504.58h1v1h-1zM27.4 520.82h1v1h-1zM27.19 507.71h1v1h-1zM39.71 516.8h1v1h-1zM31.12 510.82h1v1h-1zM41.09 506.23h1v1h-1zM29.53 517.2h1v1h-1zM38.43 523.41h1v1h-1zM20.27 516.79h1v1h-1zM53.52 512.27h1v1h-1zM52.78 521h1v1h-1z" fill="#33369a" fill-opacity="0.5"/>
<path d="M40.94 508.61h1v1h-1zM52.95 508.87h1v1h-1zM45.61 508.62h1v1h-1zM28.91 514.26h1v1h-1zM34.31 503.83h1v1h-1zM47.53 508.73h1v1h-1zM68.58 508.96h1v1h-1zM56.78 510.16h1v1h-1zM31.21 510.9h1v1h-1zM61.76 505.91h1v1h-1zM32.88 512.68h1v1h-1zM29.29 509.86h1v1h-1zM38.7 512.13h1v1h-1zM62.44 513.11h1v1h-1zM53.24 506.34h1v1h-1zM65.32 508.92h1v1h-1zM53.18 515.26h1v1h-1zM46.66 507.7h1v1h-1zM46.41 514.52h1v1h-1zM59.04 513.01h1v1h-1zM59.04 512.19h1v1h-1zM22.11 507.53h1v1h-1zM37.73 512.83h1v1h-1zM29.74 504.38h1v1h-1zM54.58 512.85h1v1h-1zM33.46 511.09h1v1h-1zM34.79 511.26h1v1h-1zM37.65 513.55h1v1h-1zM38.27 508.95h1v1h-1zM35.69 512.37h1v1h-1zM38.2 513.52h1v1h-1zM43.22 511.74h1v1h-1zM32.47 510.58h1v1h-1zM22 507.87h1v1h-1zM37.12 508.05h1v1h-1zM51.68 512.45h1v1h-1zM66.21 509.58h1v1h-1zM32.16 503.67h1v1h-1zM23.8 506.58h1v1h-1zM37.64 513.47h1v1h-1zM47.34 511.62h1v1h-1zM46.45 508.85h1v1h-1zM59.06 506.61h1v1h-1zM49.36 504.66h1v1h-1zM47.02 508.89h1v1h-1zM54.03 508h1v1h-1zM32.31 511.38h1v1h-1zM65.6 511.42h1v1h-1zM58.98 508.86h1v1h-1zM32.86 508.38h1v1h-1zM28.51 503.99h1v1h-1zM36.95 513.06h1v1h-1zM42.55 515.53h1v1h-1zM52.01 513.48h1v1h-1zM44.65 508.4h1v1h-1zM26.35 504.41h1v1h-1zM63.49 508.48h1v1h-1zM43.94 505.52h1v1h-1zM47 508.59h1v1h-1zM55.62 508.05h1v1h-1zM45.49 505.54h1v1h-1zM39.33 515.18h1v1h-1zM67.23 511.24h1v1h-1zM37.2 514.27h1v1h-1zM48.26 511.52h1v1h-1zM20.49 513.32h1v1h-1zM42.52 503.91h1v1h-1zM30.12 504.54h1v1h-1zM43.98 513.86h1v1h-1zM29.51 507.36h1v1h-1zM45.01 503.47h1v1h-1zM34.88 509.4h1v1h-1zM32.67 503.5h1v1h-1zM46.08 505.76h1v1h-1zM28.68 513.88h1v1h-1zM31.27 508.65h1v1h-1zM44.32 510.81h1v1h-1zM38.64 506.53h1v1h-1zM52 514.25h1v1h-1zM46.85 508.93h1v1h-1zM25.2 509.89h1v1h-1zM20.75 507.41h1v1h-1zM29.19 507.39h1v1h-1zM28.07 508.86h1v1h-1zM42.2 506.49h1v1h-1zM40.49 514.54h1v1h-1zM50.81 510.22h1v1h-1zM44.48 511.63h1v1h-1zM59.54 508.6h1v1h-1zM51.65 510.5h1v1h-1zM64.15 507.14h1v1h-1zM22.99 505.86h1v1h-1zM39.69 508.22h1v1h-1zM35.32 504.8h1v1h-1zM31.28 506.82h1v1h-1zM44.91 507.06h1v1h-1zM57.42 504.86h1v1h-1zM37.13 510.19h1v1h-1zM45.24 512.55h1v1h-1zM65.16 507.95h1v1h-1zM53.5 513.78h1v1h-1zM27.71 512.61h1v1h-1zM45.08 507.59h1v1h-1zM30.96 512.93h1v1h-1zM46.68 511.16h1v1h-1zM37.03 512.61h1v1h-1zM33.31 504.98h1v1h-1zM25.18 510.82h1v1h-1zM32.72 508.13h1v1h-1zM25.4 505.14h1v1h-1zM54.51 513.59h1v1h-1zM65.58 507.84h1v1h-1zM61.24 511.13h1v1h-1zM41 504.54h1v1h-1zM47.48 509.52h1v1h-1zM44.01 505.41h1v1h-1zM54.01 514.02h1v1h-1zM37.27 506.32h1v1h-1zM43.62 515.52h1v1h-1zM27.62 504.89h1v1h-1zM37.35 508.77h1v1h-1zM49.8 510.54h1v1h-1zM28.23 504.8h1v1h-1zM61.13 507.73h1v1h-1zM40.18 505.72h1v1h-1zM54.03 515.16h1v1h-1zM49.03 503.48h1v1h-1zM62.18 511.42h1v1h-1zM48.05 512.52h1v1h-1zM59.02 506.67h1v1h-1zM39.5 505.42h1v1h-1zM66.41 507.59h1v1h-1zM45.72 513.72h1v1h-1zM26.5 508.88h1v1h-1zM25.48 504.46h1v1h-1zM34.99 514.94h1v1h-1zM40.36 503.81h1v1h-1z" fill="#3a64b0" fill-opacity="0.6"/>
<path d="M44.74 504.34h1v1h-1zM24.27 509.25h1v1h-1zM29.2 512.75h1v1h-1zM44.27 512.89h1v1h-1zM41.22 512.45h1v1h-1zM25.31 510.88h1v1h-1zM21.69 508.76h1v1h-1zM37.24 510.38h1v1h-1zM64.82 511.37h1v1h-1zM43.53 503.31h1v1h-1zM46.41 510.82h1v1h-1zM44.86 511.33h1v1h-1zM31.32 514.44h1v1h-1zM50.33 511h1v1h-1zM60.85 506.91h1v1h-1zM36.25 511.44h1v1h-1zM51.77 507.85h1v1h-1zM22.69 507.86h1v1h-1zM61.05 511.66h1v1h-1zM32.16 508.91h1v1h-1zM25.32 509.1h1v1h-1zM20.42 510.27h1v1h-1zM47.5 507.06h1v1h-1zM57.13 511.85h1v1h-1zM43.35 506.81h1v1h-1zM46.43 515.1h1v1h-1zM47.85 507.85h1v1h-1zM57.16 505.8h1v1h-1zM58.49 508.53h1v1h-1zM41.38 515.57h1v1h-1zM44.11 511.87h1v1h-1zM22.02 512.36h1v1h-1zM60.5 513.75h1v1h-1zM42.83 515.35h1v1h-1zM30.02 507.23h1v1h-1zM41.53 512.74h1v1h-1zM47.4 511.82h1v1h-1zM51.11 510.56h1v1h-1zM34.55 511.84h1v1h-1zM27.89 504.79h1v1h-1zM22.26 509.49h1v1h-1zM36.4 505.38h1v1h-1zM66.48 507.4h1v1h-1zM55.59 508.48h1v1h-1zM57.14 505.59h1v1h-1zM40.72 508.08h1v1h-1zM29.13 511.77h1v1h-1zM22.33 508.89h1v1h-1zM21.32 511.4h1v1h-1zM61.29 512.84h1v1h-1zM37.36 515.61h1v1h-1zM24.88 513.41h1v1h-1zM21.38 508.77h1v1h-1zM64.69 508.91h1v1h-1zM42.38 508.65h1v1h-1zM33.68 508.74h1v1h-1zM31.99 507h1v1h-1zM40.7 508.38h1v1h-1zM42.02 509.33h1v1h-1zM63.26 508.14h1v1h-1zM52.16 503.77h1v1h-1zM41.83 506.71h1v1h-1zM65.39 507.15h1v1h-1zM42.89 512.95h1v1h-1zM32.09 505.78h1v1h-1zM37.16 509.72h1v1h-1zM27.3 505.5h1v1h-1zM23.38 511.45h1v1h-1zM33.67 515.54h1v1h-1zM29.23 504.2h1v1h-1zM37.76 503.36h1v1h-1zM56.33 512.45h1v1h-1zM36.8 503.56h1v1h-1zM68.59 509.41h1v1h-1zM35.6 509.89h1v1h-1zM36.31 506.76h1v1h-1zM36.52 504.71h1v1h-1zM55.48 509.06h1v1h-1zM46.71 511.06h1v1h-1zM53.61 508.96h1v1h-1zM43.09 505.99h1v1h-1zM27.59 512.97h1v1h-1zM31.61 512.65h1v1h-1zM31.13 511.11h1v1h-1zM22.19 511.91h1v1h-1zM28.57 507.77h1v1h-1zM39.86 503.25h1v1h-1zM38.18 515.46h1v1h-1zM53.89 503.74h1v1h-1zM35.9 505.66h1v1h-1zM35.41 509.3h1v1h-1zM61.47 509.26h1v1h-1zM30.27 512.72h1v1h-1zM45.02 504.47h1v1h-1zM50.75 514.61h1v1h-1zM39.06 510.13h1v1h-1zM60.72 513.6h1v1h-1zM32.31 504h1v1h-1zM56.92 508.64h1v1h-1zM33.79 510.67h1v1h-1zM26.29 513.25h1v1h-1zM49.29 506.58h1v1h-1zM32.95 511h1v1h-1zM23.15 514.05h1v1h-1zM57.29 510.95h1v1h-1zM37.49 506.43h1v1h-1zM42.24 511.5h1v1h-1zM36.17 515.73h1v1h-1zM56.21 505.06h1v1h-1zM57.49 513.07h1v1h-1zM46.64 505.08h1v1h-1zM44.12 512.35h1v1h-1zM37.42 511.85h1v1h-1zM48.47 506.51h1v1h-1zM31.64 513.99h1v1h-1zM54.63 514.86h1v1h-1zM49.53 515.47h1v1h-1zM36.26 509.39h1v1h-1zM47.4 514.1h1v1h-1zM45.12 508.47h1v1h-1zM23.4 505.84h1v1h-1z" fill="#5ab6c6" fill-opacity="0.6"/>
<path d="M67.38 508.98h1v1h-1zM24.46 514.4h1v1h-1zM52.96 514.83h1v1h-1zM36.68 514.16h1v1h-1zM51.8 514.58h1v1h-1zM44.11 510.85h1v1h-1zM66.74 508.51h1v1h-1zM30.35 503.99h1v1h-1zM60.04 513.31h1v1h-1zM54 504.05h1v1h-1zM25.17 512.46h1v1h-1zM20.34 509.17h1v1h-1zM51.82 512.76h1v1h-1zM43.52 506.63h1v1h-1zM24.18 509.83h1v1h-1zM55.51 512.12h1v1h-1zM61.7 507.19h1v1h-1zM48.66 512.92h1v1h-1zM62.62 511.44h1v1h-1zM52.16 507.55h1v1h-1zM39.29 513.55h1v1h-1zM43.08 508.35h1v1h-1zM55 507.38h1v1h-1zM61.76 508.67h1v1h-1zM33.56 507h1v1h-1zM23.4 506.45h1v1h-1zM40.03 515.36h1v1h-1zM67.74 509.94h1v1h-1zM30.75 512.55h1v1h-1zM32.45 506.59h1v1h-1zM40.65 511.49h1v1h-1zM39.89 504.05h1v1h-1zM48.39 510.94h1v1h-1zM27.38 507.23h1v1h-1zM44.79 514.94h1v1h-1zM63.36 508.21h1v1h-1zM42.89 505.1h1v1h-1zM34.75 503.43h1v1h-1zM49.76 507.97h1v1h-1zM64.82 507.11h1v1h-1zM39.42 510.52h1v1h-1zM32.16 505.13h1v1h-1zM48.79 507.8h1v1h-1zM50.86 509.95h1v1h-1zM41.58 505.01h1v1h-1zM66.8 510.44h1v1h-1zM54.06 511.08h1v1h-1zM33.73 504.81h1v1h-1zM42 504.65h1v1h-1zM26.94 506.99h1v1h-1zM36.48 512.75h1v1h-1zM33.44 504.43h1v1h-1zM38.93 507.56h1v1h-1zM60.57 508.62h1v1h-1zM48.92 513.32h1v1h-1zM36.22 503.41h1v1h-1zM58.53 505.59h1v1h-1zM34.65 514.2h1v1h-1zM46.58 507.68h1v1h-1zM57.46 509.46h1v1h-1zM49.84 504.57h1v1h-1zM34.84 507.2h1v1h-1zM44.41 505.39h1v1h-1zM30.96 504.8h1v1h-1zM66.19 507.9h1v1h-1zM46.3 507.27h1v1h-1zM25.8 506.95h1v1h-1zM37.26 505.82h1v1h-1zM37.61 503.45h1v1h-1zM30.5 514.23h1v1h-1zM32.38 509.89h1v1h-1zM24.42 505.62h1v1h-1zM53.78 514.14h1v1h-1zM32.39 505.37h1v1h-1zM38.98 509.9h1v1h-1zM37.24 510.39h1v1h-1zM31.33 507.49h1v1h-1zM41.82 515.54h1v1h-1zM21.48 509.2h1v1h-1zM22.51 510.15h1v1h-1zM61.93 510.73h1v1h-1zM36.9 514.93h1v1h-1zM38.98 507.02h1v1h-1zM21.71 507.36h1v1h-1zM35.19 513.11h1v1h-1zM58.48 514.61h1v1h-1zM38.09 505.04h1v1h-1zM50.05 513.41h1v1h-1zM50.38 510.75h1v1h-1zM22.15 509.37h1v1h-1zM67.38 508.53h1v1h-1zM44.52 506.39h1v1h-1zM30.92 514.75h1v1h-1zM47.58 510.88h1v1h-1zM47.47 515.17h1v1h-1zM55.89 505.47h1v1h-1zM26.08 507.41h1v1h-1zM48.76 510.25h1v1h-1zM29.12 508.81h1v1h-1zM39.84 505.11h1v1h-1zM39.26 510.16h1v1h-1zM33.91 505.82h1v1h-1zM59.32 513.48h1v1h-1zM62.65 510.77h1v1h-1zM26.09 509.48h1v1h-1zM41.07 514.89h1v1h-1zM50.66 503.62h1v1h-1zM62.21 507.74h1v1h-1zM36.09 504.23h1v1h-1zM47.02 507.1h1v1h-1zM35.01 512.25h1v1h-1zM25.64 512.18h1v1h-1zM36.24 503.87h1v1h-1zM44.42 511.85h1v1h-1zM42.24 511.67h1v1h-1zM30.82 506.45h1v1h-1zM49.46 514.73h1v1h-1zM53.5 514.34h1v1h-1zM33.86 513.03h1v1h-1zM36.87 508.07h1v1h-1zM36.56 511.83h1v1h-1zM50.36 508.64h1v1h-1z" fill="#3a3fa0" fill-opacity="0.6"/>
<path d="M36.72 512.93h1v1h-1zM47.61 511.98h1v1h-1zM30.8 513.39h1v1h-1zM37.83 515.74h1v1h-1zM55.81 505.99h1v1h-1zM60.72 509.15h1v1h-1zM23.65 513.79h1v1h-1zM64.19 510.93h1v1h-1zM51.57 514.87h1v1h-1zM20.52 506.25h1v1h-1zM43.82 503.3h1v1h-1zM48.43 510.27h1v1h-1zM56.92 511.68h1v1h-1zM57.4 509.26h1v1h-1zM30.81 512.34h1v1h-1zM45.4 512.9h1v1h-1zM67.49 508.37h1v1h-1zM48.17 509.32h1v1h-1zM67.21 508.49h1v1h-1zM26.36 512.98h1v1h-1zM22.34 507.32h1v1h-1zM25.69 504.37h1v1h-1zM33.92 513.34h1v1h-1zM66.65 511.37h1v1h-1zM51.23 508.97h1v1h-1zM62.7 508.63h1v1h-1zM42.95 508.67h1v1h-1zM37.15 508.51h1v1h-1zM37.8 514.04h1v1h-1zM41.08 504.12h1v1h-1zM47.85 511.16h1v1h-1zM51.16 513.82h1v1h-1zM22.37 513.89h1v1h-1zM26.32 507.32h1v1h-1zM55.09 514.17h1v1h-1zM49.91 511.15h1v1h-1zM40.3 513.34h1v1h-1zM44.82 515.56h1v1h-1zM31.26 515.41h1v1h-1zM27.05 513.05h1v1h-1zM43.95 511.53h1v1h-1zM21.43 510.98h1v1h-1zM26.79 513.76h1v1h-1zM46.75 512.49h1v1h-1zM61.39 510.58h1v1h-1zM56.01 513.38h1v1h-1zM35.4 514.52h1v1h-1zM38.08 506.19h1v1h-1zM35.15 515.49h1v1h-1zM41.69 506.15h1v1h-1zM34.45 507.83h1v1h-1zM48.58 505.61h1v1h-1zM52.73 504.86h1v1h-1zM41.24 512.7h1v1h-1zM29.34 505.75h1v1h-1zM50.99 506.69h1v1h-1zM27.97 508.18h1v1h-1zM64.31 505.96h1v1h-1zM51.96 511.45h1v1h-1zM33.55 513.08h1v1h-1zM36.8 510.11h1v1h-1zM66.09 506.69h1v1h-1zM49.32 513.67h1v1h-1zM20.68 507.88h1v1h-1zM42.63 512.6h1v1h-1zM42.88 512.86h1v1h-1zM51.34 513.49h1v1h-1zM41.62 507.77h1v1h-1zM53.86 504.26h1v1h-1zM61.18 513.32h1v1h-1zM35.88 507.52h1v1h-1zM49.03 512.14h1v1h-1zM52.18 507.92h1v1h-1zM66.75 509.45h1v1h-1zM42.83 512.7h1v1h-1zM36.68 505.01h1v1h-1zM54.63 514.57h1v1h-1zM57.11 511.41h1v1h-1zM27.36 508.53h1v1h-1zM36.42 512.74h1v1h-1zM59.4 511.01h1v1h-1zM67.23 508.7h1v1h-1zM29.94 512.48h1v1h-1zM28.24 513.43h1v1h-1zM33.45 514.56h1v1h-1zM60.88 508.87h1v1h-1zM54.94 510.8h1v1h-1zM27.37 507.64h1v1h-1zM38.64 513.06h1v1h-1zM53.93 512.74h1v1h-1zM37.96 504.04h1v1h-1zM33.59 510.85h1v1h-1zM48.44 513.65h1v1h-1zM21.73 511.54h1v1h-1zM44.8 508.05h1v1h-1zM64.53 510.34h1v1h-1zM68.12 507.93h1v1h-1zM45.02 511.43h1v1h-1zM35.44 510.01h1v1h-1zM33.45 513.57h1v1h-1zM53.21 508.39h1v1h-1zM59.39 509.56h1v1h-1zM26.66 506.88h1v1h-1zM30.24 508.16h1v1h-1zM53.97 511.41h1v1h-1zM42.67 503.47h1v1h-1zM55.17 510.38h1v1h-1zM55.78 511.11h1v1h-1zM39.25 508.4h1v1h-1zM20.78 511.79h1v1h-1zM40.47 505.84h1v1h-1zM28.03 505.1h1v1h-1zM51.98 511.87h1v1h-1zM49.86 507.62h1v1h-1zM20.56 506.35h1v1h-1zM32.62 515.26h1v1h-1zM55.86 511.47h1v1h-1zM32.09 509.56h1v1h-1zM63.63 511.41h1v1h-1zM38.06 512.64h1v1h-1zM55.13 510.1h1v1h-1z" fill="#4aa8cc" fill-opacity="0.6"/>
<path d="M23.18 505.18h1v1h-1zM55.26 509.2h1v1h-1zM32.28 513.64h1v1h-1zM59.35 513.05h1v1h-1zM57.79 507.72h1v1h-1zM43.85 515.35h1v1h-1zM23.6 505.54h1v1h-1zM62.08 513.4h1v1h-1zM24.98 512.49h1v1h-1zM47.38 511.78h1v1h-1zM36.73 505.72h1v1h-1zM58.32 511.86h1v1h-1zM32.69 511.48h1v1h-1zM65.69 508.12h1v1h-1zM23.34 511.67h1v1h-1zM36.9 513.53h1v1h-1zM46.14 515.2h1v1h-1zM56.09 507.47h1v1h-1zM40.28 515.75h1v1h-1zM27.61 504.7h1v1h-1zM26.18 506.72h1v1h-1zM34.79 504.71h1v1h-1zM20.46 511.69h1v1h-1zM33.87 510.44h1v1h-1zM40.71 515.85h1v1h-1zM28.7 505.94h1v1h-1zM50.35 514.73h1v1h-1zM36.96 515.21h1v1h-1zM33 503.88h1v1h-1zM53.47 504.16h1v1h-1zM34.11 515.09h1v1h-1zM22.22 509.47h1v1h-1zM54.59 514.47h1v1h-1zM34.89 509.56h1v1h-1zM57.42 507.09h1v1h-1zM62.48 513.21h1v1h-1zM27.41 505.39h1v1h-1zM53.22 508.51h1v1h-1zM51.12 509.48h1v1h-1zM65.23 507.03h1v1h-1zM63.79 509.33h1v1h-1zM52.41 505.12h1v1h-1zM47.13 509.39h1v1h-1zM37.43 506.69h1v1h-1zM52.64 514.97h1v1h-1zM32.42 507.95h1v1h-1zM44.4 510.19h1v1h-1zM44.99 513.35h1v1h-1zM25.97 513.39h1v1h-1zM48.59 511.9h1v1h-1zM36.4 508.74h1v1h-1zM54.45 508.45h1v1h-1zM39.46 510.86h1v1h-1zM35.45 504.61h1v1h-1zM62.34 513.44h1v1h-1zM55.03 512.59h1v1h-1zM31.43 513.96h1v1h-1zM61.53 507.54h1v1h-1zM65.72 511.13h1v1h-1zM25.89 512.12h1v1h-1zM21.13 512.88h1v1h-1zM34.6 508.36h1v1h-1zM44.05 508.32h1v1h-1zM30.82 509.3h1v1h-1zM20.82 508.03h1v1h-1zM57.75 512.33h1v1h-1zM52.05 511.06h1v1h-1zM22.46 513.86h1v1h-1zM63 505.42h1v1h-1zM30.67 508.19h1v1h-1zM36.28 507.4h1v1h-1zM42.04 515.35h1v1h-1zM36.61 512.18h1v1h-1zM51.01 506.99h1v1h-1zM20.65 506.46h1v1h-1zM47.22 509.1h1v1h-1zM61.56 508.73h1v1h-1zM45.74 513.81h1v1h-1zM46.25 515.43h1v1h-1zM48.02 510.43h1v1h-1zM26.72 506.38h1v1h-1zM21.06 510.87h1v1h-1zM44.42 514.56h1v1h-1zM66.75 509.53h1v1h-1zM40.7 513.55h1v1h-1zM61.27 512.56h1v1h-1zM47.31 511.48h1v1h-1zM51.07 508.97h1v1h-1zM49.78 513.15h1v1h-1zM39.18 508.19h1v1h-1zM33.3 512.19h1v1h-1zM55.66 514.68h1v1h-1zM35.56 504.62h1v1h-1zM40.75 505.82h1v1h-1zM43.27 512.43h1v1h-1zM23.88 511.09h1v1h-1zM50.12 504.81h1v1h-1zM55.85 505.86h1v1h-1zM47.92 513.45h1v1h-1zM42.34 507.79h1v1h-1zM58.74 508.11h1v1h-1zM43.78 511.04h1v1h-1zM42.32 515.54h1v1h-1zM46.3 505.85h1v1h-1zM29.85 511.88h1v1h-1z" fill="#2f4fa0" fill-opacity="0.6"/>
<path d="M58.69 509.18h1v1h-1zM42.02 504.33h1v1h-1zM65.29 508.7h1v1h-1zM29.61 507.83h1v1h-1zM54.87 507.3h1v1h-1zM33.31 514.67h1v1h-1zM47.73 508.23h1v1h-1zM60.24 510.48h1v1h-1zM45.36 509.48h1v1h-1zM40.24 513.04h1v1h-1zM54.09 513.05h1v1h-1zM27.14 512.38h1v1h-1zM55.45 507.29h1v1h-1zM63.7 509.47h1v1h-1zM44.19 511.14h1v1h-1zM37.05 510.13h1v1h-1zM44.75 506.83h1v1h-1zM65.57 509.59h1v1h-1zM33.61 511.61h1v1h-1zM50.28 510.42h1v1h-1zM39.38 511.77h1v1h-1zM54.45 507.95h1v1h-1zM64.41 510.9h1v1h-1zM59.39 507.63h1v1h-1zM58.24 512.95h1v1h-1zM35.36 513.63h1v1h-1zM50.16 507.42h1v1h-1zM51.1 506.56h1v1h-1zM48.22 507.55h1v1h-1zM56.61 504.93h1v1h-1zM67.74 510.92h1v1h-1zM46.44 509.36h1v1h-1zM25.54 507h1v1h-1zM46.59 507h1v1h-1zM29.72 505.97h1v1h-1zM36.53 506.78h1v1h-1zM34.61 514.62h1v1h-1zM42.35 505.47h1v1h-1zM61.22 512.24h1v1h-1zM58.44 507.71h1v1h-1zM53.83 505.63h1v1h-1zM40.89 504.54h1v1h-1zM40.38 509.7h1v1h-1zM20.95 506.59h1v1h-1zM21.6 509.98h1v1h-1zM43.67 515.09h1v1h-1zM45.49 504.14h1v1h-1zM58.84 514.46h1v1h-1zM51.98 507.13h1v1h-1zM54.96 512.54h1v1h-1zM28.88 509.17h1v1h-1zM27.77 509.85h1v1h-1zM45.02 513.31h1v1h-1zM54.6 509.26h1v1h-1zM25.79 513.08h1v1h-1zM33.99 506.92h1v1h-1zM43.9 503.6h1v1h-1zM37.67 509.29h1v1h-1zM20.32 513.05h1v1h-1zM49.63 505.22h1v1h-1zM21.23 506.62h1v1h-1zM26.1 504.92h1v1h-1zM50.85 507.56h1v1h-1zM60.74 511.6h1v1h-1zM24.11 506.49h1v1h-1zM53.63 513.16h1v1h-1zM58.58 511.05h1v1h-1zM30.27 513.35h1v1h-1zM24.62 510.41h1v1h-1zM28.21 514.42h1v1h-1zM29.43 514.13h1v1h-1zM52.45 512.79h1v1h-1zM44.14 507.9h1v1h-1zM61.32 506.09h1v1h-1zM23.63 505.41h1v1h-1zM57.96 511.6h1v1h-1zM49.85 505.31h1v1h-1zM36.89 511.83h1v1h-1zM64.62 508.35h1v1h-1zM46.89 510.92h1v1h-1zM35.49 513.57h1v1h-1zM25.38 507.7h1v1h-1zM48.74 515.22h1v1h-1zM59 508.81h1v1h-1zM39.75 512.06h1v1h-1zM62.98 512.37h1v1h-1zM37.96 513.49h1v1h-1zM36.35 511.64h1v1h-1zM57.19 505.63h1v1h-1zM46.51 505.03h1v1h-1zM67.61 507.75h1v1h-1zM64.75 507.88h1v1h-1zM21.24 505.91h1v1h-1zM26.57 513h1v1h-1zM65.36 511.4h1v1h-1zM50.42 510.01h1v1h-1zM27.98 514.92h1v1h-1zM42.55 505.15h1v1h-1zM25.09 508.99h1v1h-1zM44.11 504.49h1v1h-1zM47.89 513.97h1v1h-1zM36.3 513.46h1v1h-1zM34.73 503.97h1v1h-1zM40.39 508.93h1v1h-1zM29.62 503.78h1v1h-1zM45.88 507.74h1v1h-1zM55.7 509.26h1v1h-1zM38.43 504.38h1v1h-1zM56.53 514.57h1v1h-1zM26.19 505.06h1v1h-1zM45.66 503.35h1v1h-1zM63.86 513.22h1v1h-1zM35.17 512.88h1v1h-1zM47.68 503.82h1v1h-1zM42.03 513.92h1v1h-1zM28.24 511.54h1v1h-1zM49.86 504.58h1v1h-1zM45.09 511.79h1v1h-1zM36.65 504.35h1v1h-1zM59.98 513.06h1v1h-1zM33.95 509.03h1v1h-1zM25.13 514.57h1v1h-1zM30.03 514.79h1v1h-1zM51.04 508h1v1h-1zM56.98 504.91h1v1h-1zM36.42 507.62h1v1h-1zM52.19 509.96h1v1h-1zM66.75 510.41h1v1h-1zM43.43 511.18h1v1h-1zM55.84 512.03h1v1h-1zM30.28 512.42h1v1h-1zM47.73 514.71h1v1h-1zM24.71 508.97h1v1h-1zM58.89 512.95h1v1h-1zM44.57 510.33h1v1h-1zM59.23 504.6h1v1h-1zM66.08 509.97h1v1h-1zM43.79 512.91h1v1h-1zM44.72 510.78h1v1h-1zM41.72 512.95h1v1h-1zM45.35 510.68h1v1h-1zM48.21 505.02h1v1h-1zM31.23 510.58h1v1h-1zM46.15 514.51h1v1h-1zM22.64 507.93h1v1h-1zM53.95 510.53h1v1h-1zM45.6 512.9h1v1h-1zM27.94 506.24h1v1h-1zM46.37 504.4h1v1h-1zM36.55 511.71h1v1h-1z" fill="#3f8fc4" fill-opacity="0.6"/>
<path d="M50.86 513.97h1v1h-1zM65.59 506.83h1v1h-1zM49.35 514.68h1v1h-1zM61.2 510.12h1v1h-1zM20.3 505.8h1v1h-1zM24.12 506.65h1v1h-1zM25.56 511.25h1v1h-1zM39.81 506.46h1v1h-1zM27.14 512.46h1v1h-1zM39.42 507.38h1v1h-1zM45.14 503.36h1v1h-1zM30.43 510.66h1v1h-1zM60.69 513.3h1v1h-1zM29.32 510.84h1v1h-1zM53.82 506.45h1v1h-1zM31.93 503.9h1v1h-1zM21.88 510.98h1v1h-1zM56.5 506.63h1v1h-1zM43.27 513.51h1v1h-1zM20.71 512.64h1v1h-1zM54.79 508.92h1v1h-1zM39.95 515.37h1v1h-1zM59.94 508.43h1v1h-1zM55.09 513.33h1v1h-1zM56.43 510.91h1v1h-1zM32.89 510.7h1v1h-1zM56.76 504.79h1v1h-1zM64.15 508.2h1v1h-1zM59.43 506.5h1v1h-1zM51.29 515.29h1v1h-1zM62.02 513.35h1v1h-1zM64.88 508.78h1v1h-1zM58.69 509.99h1v1h-1zM39.12 512.49h1v1h-1zM42.31 515.5h1v1h-1zM50.02 513.77h1v1h-1zM40.4 511.23h1v1h-1zM33.84 507.65h1v1h-1zM32.46 510.33h1v1h-1zM49.53 512.29h1v1h-1zM51.21 510.48h1v1h-1zM39.91 508.64h1v1h-1zM65.76 507.64h1v1h-1zM36.57 509.13h1v1h-1zM24.96 506.91h1v1h-1zM38.6 506.18h1v1h-1zM60.81 513.35h1v1h-1zM65.16 512.3h1v1h-1zM37.45 507.23h1v1h-1zM55.81 512.39h1v1h-1zM29.37 514.57h1v1h-1zM35.33 508.25h1v1h-1zM63.41 512.94h1v1h-1zM55.22 510.59h1v1h-1zM50.23 515.44h1v1h-1zM64.18 509.37h1v1h-1zM32.07 503.62h1v1h-1zM35.5 506.67h1v1h-1zM29.9 515.11h1v1h-1zM22.3 508.99h1v1h-1zM34.57 507.79h1v1h-1zM30.19 513.47h1v1h-1zM63.58 507.27h1v1h-1zM25.98 506.95h1v1h-1zM37.17 510.93h1v1h-1zM48.44 511.61h1v1h-1zM26.66 512.26h1v1h-1zM61.89 509.83h1v1h-1zM38.67 503.64h1v1h-1zM43.38 514.3h1v1h-1zM21.07 508.57h1v1h-1zM43.8 515.98h1v1h-1zM39.28 506.06h1v1h-1zM61.21 505.71h1v1h-1zM28.05 513.71h1v1h-1zM46.01 515.55h1v1h-1zM29.51 510.5h1v1h-1zM30.6 507.19h1v1h-1zM43.15 507.4h1v1h-1zM41.29 507.72h1v1h-1zM49.69 506.87h1v1h-1zM44.75 512.38h1v1h-1zM32.88 509.04h1v1h-1zM66.58 510.99h1v1h-1zM29.62 507.57h1v1h-1zM54.3 514.58h1v1h-1zM24.93 508.74h1v1h-1zM48.24 505.82h1v1h-1zM52.93 513.76h1v1h-1zM29.1 511.9h1v1h-1zM42.69 503.96h1v1h-1zM26.25 512.4h1v1h-1zM47.48 511.73h1v1h-1zM33.39 512.68h1v1h-1zM28.83 509.85h1v1h-1zM44.27 504.09h1v1h-1zM25.35 513.79h1v1h-1zM33.13 507.89h1v1h-1zM26.38 508.92h1v1h-1zM63.69 511.93h1v1h-1zM45.09 505.01h1v1h-1zM61.76 509.76h1v1h-1zM36.7 511.82h1v1h-1zM54.83 510.51h1v1h-1zM41.3 505.51h1v1h-1zM32.08 514.67h1v1h-1zM37.99 514.72h1v1h-1zM50.41 504.84h1v1h-1zM26.03 510.13h1v1h-1zM42.77 511.26h1v1h-1zM22.45 506.6h1v1h-1zM32.1 508.7h1v1h-1zM62.09 505.99h1v1h-1zM32.8 507.53h1v1h-1zM28.52 504.98h1v1h-1zM36.54 504.55h1v1h-1zM39.94 504.92h1v1h-1zM45.86 512.1h1v1h-1zM36.64 510.39h1v1h-1zM48.64 512.66h1v1h-1zM58.8 505.58h1v1h-1zM48.04 510.46h1v1h-1zM23.15 512.52h1v1h-1zM66.65 511h1v1h-1zM54.3 508.71h1v1h-1z" fill="#3a70b8" fill-opacity="0.6"/>
<path d="M53.94 513.53h1v1h-1zM43.8 505.52h1v1h-1zM23.35 513.01h1v1h-1zM25.38 512.74h1v1h-1zM41.96 512.26h1v1h-1zM46.29 511.4h1v1h-1zM40.75 510.39h1v1h-1zM61.36 505.61h1v1h-1zM55.96 510.78h1v1h-1zM59.95 510.66h1v1h-1zM43.59 515.26h1v1h-1zM59.48 509.42h1v1h-1zM48.97 503.74h1v1h-1zM30.24 508.89h1v1h-1zM67.27 509.23h1v1h-1zM31.74 507.7h1v1h-1zM20.47 512.46h1v1h-1zM25.11 514.31h1v1h-1zM40.17 505.33h1v1h-1zM26.9 513.77h1v1h-1zM33.66 505.6h1v1h-1zM45.66 514.01h1v1h-1zM23.19 508.4h1v1h-1zM53.25 509.75h1v1h-1zM33.83 504.06h1v1h-1zM40.12 512.31h1v1h-1zM22.84 506.92h1v1h-1zM48.44 515.32h1v1h-1zM52.05 513.64h1v1h-1zM62.38 505.65h1v1h-1zM21.01 509.48h1v1h-1zM53.91 503.89h1v1h-1zM64.83 507.01h1v1h-1zM53.2 508.84h1v1h-1zM26.4 514.16h1v1h-1zM65.78 508.52h1v1h-1zM36.45 507.48h1v1h-1zM58.28 512.9h1v1h-1zM43.48 507.49h1v1h-1zM60.16 504.93h1v1h-1zM43.03 506.41h1v1h-1zM59.5 505.42h1v1h-1zM48.89 513.27h1v1h-1zM59.48 508.27h1v1h-1zM35.64 515.29h1v1h-1zM34.85 506.65h1v1h-1zM47.63 508.14h1v1h-1zM44.88 515.12h1v1h-1zM48.66 509.06h1v1h-1zM66.45 510.29h1v1h-1zM41.85 511.47h1v1h-1zM50.44 513.85h1v1h-1zM58.64 513.52h1v1h-1zM30.04 510.3h1v1h-1zM27.98 507.36h1v1h-1zM59.58 506.97h1v1h-1zM32.93 503.8h1v1h-1zM48.74 503.91h1v1h-1zM43.15 504.01h1v1h-1zM54.52 506.77h1v1h-1zM55.63 509.44h1v1h-1zM27.47 508.91h1v1h-1zM21.42 509.97h1v1h-1zM53.68 507.53h1v1h-1zM59.71 506.03h1v1h-1zM36.29 515.69h1v1h-1zM48.22 515.24h1v1h-1zM20.38 508.33h1v1h-1zM59.77 513.03h1v1h-1zM66.28 512.31h1v1h-1zM24.51 506.26h1v1h-1zM66.06 508.32h1v1h-1zM64.79 506.42h1v1h-1zM44.23 511.73h1v1h-1zM59.54 507.92h1v1h-1zM60.61 505.42h1v1h-1zM35.59 512.44h1v1h-1zM49.44 512.66h1v1h-1zM51.49 505.35h1v1h-1zM41.49 511.59h1v1h-1zM46.57 514.89h1v1h-1zM32.75 509.5h1v1h-1zM20.7 512.24h1v1h-1zM59.37 511.82h1v1h-1zM22.74 510.86h1v1h-1zM26.91 509.74h1v1h-1zM56.41 507.6h1v1h-1zM54.15 509.62h1v1h-1zM59.27 508.22h1v1h-1zM32.88 505.95h1v1h-1zM53.34 503.7h1v1h-1zM52.28 509.82h1v1h-1zM24.19 504.69h1v1h-1zM68.6 510.61h1v1h-1zM65.9 506.84h1v1h-1zM28.46 511.73h1v1h-1zM64.34 509.69h1v1h-1zM61.4 509.96h1v1h-1zM30.16 507.45h1v1h-1zM30.18 504.92h1v1h-1zM28.76 508.8h1v1h-1zM67.87 510.53h1v1h-1zM50.89 505.54h1v1h-1zM33.46 511.98h1v1h-1z" fill="#4070b8" fill-opacity="0.6"/>
<path d="M50.56 514.13h1v1h-1zM38.79 514.42h1v1h-1zM45.81 507.03h1v1h-1zM50.41 508.49h1v1h-1zM59.5 507.29h1v1h-1zM53.55 503.64h1v1h-1zM68.09 508.51h1v1h-1zM67.22 508.75h1v1h-1zM56.3 514.47h1v1h-1zM33.44 509.92h1v1h-1zM29.12 511.75h1v1h-1zM47.23 510.65h1v1h-1zM51.59 508.47h1v1h-1zM44.25 509.58h1v1h-1zM58.43 508.06h1v1h-1zM20.66 507.26h1v1h-1zM25.09 507.19h1v1h-1zM32.4 507.76h1v1h-1zM37.61 511h1v1h-1zM54.6 515.04h1v1h-1zM48.38 506.03h1v1h-1zM60.73 509.96h1v1h-1zM61.97 506.28h1v1h-1zM45.64 513.29h1v1h-1zM32.5 509.81h1v1h-1zM62.08 510.03h1v1h-1zM31.59 504.59h1v1h-1zM27.44 513.67h1v1h-1zM26.18 510.24h1v1h-1zM61.61 508.19h1v1h-1zM56.27 512.97h1v1h-1zM64.57 511.1h1v1h-1zM61.6 507.79h1v1h-1zM65.12 508.76h1v1h-1zM36.59 515.02h1v1h-1zM57.41 514.81h1v1h-1zM50.29 508.85h1v1h-1zM31.45 513.87h1v1h-1zM57.19 513.97h1v1h-1zM55.44 508.9h1v1h-1zM31.66 508.2h1v1h-1zM54.24 514.09h1v1h-1zM63.52 507.66h1v1h-1zM27.98 513.74h1v1h-1zM37.61 504.36h1v1h-1zM20.36 507.49h1v1h-1zM56.06 513.33h1v1h-1zM56.17 509.54h1v1h-1zM27.27 513.01h1v1h-1zM63.99 506.29h1v1h-1zM58.65 508.62h1v1h-1zM41.9 509.25h1v1h-1zM27.93 507.49h1v1h-1zM57.18 508.14h1v1h-1zM40.3 510.63h1v1h-1zM68.53 508.49h1v1h-1zM23.19 511.11h1v1h-1zM42.3 512.53h1v1h-1zM30.93 506.42h1v1h-1zM21.46 512.05h1v1h-1zM61 510.91h1v1h-1zM45.26 514.72h1v1h-1zM59.59 511.51h1v1h-1zM44.19 509.29h1v1h-1zM63.54 511.57h1v1h-1zM29.43 511.52h1v1h-1zM48.67 505.95h1v1h-1zM35.66 507.27h1v1h-1zM47.24 515.29h1v1h-1zM53.08 507.91h1v1h-1zM62.29 511.96h1v1h-1zM45.76 515.57h1v1h-1zM28.55 512.76h1v1h-1zM27.23 513.34h1v1h-1zM32.65 503.46h1v1h-1zM45.74 514.42h1v1h-1zM23.15 507.99h1v1h-1zM37.3 508.72h1v1h-1zM27.28 508.51h1v1h-1zM22.72 512.96h1v1h-1zM66.1 510.3h1v1h-1zM47.01 507.44h1v1h-1zM61.15 513.4h1v1h-1zM35.56 509.66h1v1h-1zM46.76 505.31h1v1h-1zM31.53 512.44h1v1h-1zM39.87 512.03h1v1h-1zM48.67 514.96h1v1h-1zM55.61 507.82h1v1h-1zM63.25 505.63h1v1h-1zM52.04 505.96h1v1h-1zM48.09 512.64h1v1h-1zM29.44 506.59h1v1h-1zM21.09 506.03h1v1h-1zM48.53 509.83h1v1h-1zM54.95 506.29h1v1h-1zM34.12 506.33h1v1h-1zM42.57 513.43h1v1h-1zM38.26 506.51h1v1h-1zM33.62 508.25h1v1h-1zM35.14 512.39h1v1h-1zM58.34 512.89h1v1h-1zM36.76 505.56h1v1h-1zM44 515.96h1v1h-1zM29.78 511.85h1v1h-1zM34.88 508.82h1v1h-1zM45.98 507.36h1v1h-1zM45.41 513.07h1v1h-1zM37.93 508.13h1v1h-1zM32.61 515.38h1v1h-1zM28.37 504.27h1v1h-1zM34.38 504.82h1v1h-1zM40.98 505.71h1v1h-1zM50.57 507.59h1v1h-1zM40.53 511.03h1v1h-1zM35.53 510.54h1v1h-1zM26.99 514.43h1v1h-1zM46.65 504.8h1v1h-1zM45.65 509.31h1v1h-1zM60.99 510h1v1h-1zM32.03 511.3h1v1h-1zM51.84 510.71h1v1h-1zM63.14 510.61h1v1h-1zM28.39 508.95h1v1h-1zM48.14 514h1v1h-1zM31.26 511.24h1v1h-1zM34.61 504.63h1v1h-1zM29.57 505.08h1v1h-1zM50.52 505.56h1v1h-1zM32.26 512.72h1v1h-1zM49.46 512.84h1v1h-1zM39.28 503.7h1v1h-1zM38.32 510.27h1v1h-1zM33.55 508.45h1v1h-1z" fill="#66bcc0" fill-opacity="0.6"/>
<path d="M42.63 510.17h1v1h-1zM41.06 515.23h1v1h-1zM30.58 511.16h1v1h-1zM44.74 510.77h1v1h-1zM49.34 508.17h1v1h-1zM31.67 511.16h1v1h-1zM57.48 507.14h1v1h-1zM28.17 514.75h1v1h-1zM43.14 507.38h1v1h-1zM42.35 505.11h1v1h-1zM46.04 510.89h1v1h-1zM47.28 512.31h1v1h-1zM53.03 510.2h1v1h-1zM43.13 504.63h1v1h-1zM24.57 509.65h1v1h-1zM51.51 510.4h1v1h-1zM40.55 512.67h1v1h-1zM40.12 503.07h1v1h-1zM37.62 514.18h1v1h-1zM56.17 511.2h1v1h-1zM44.38 514.73h1v1h-1zM59.75 510.46h1v1h-1zM51.91 505.97h1v1h-1zM27.72 507.05h1v1h-1zM25.28 507.51h1v1h-1zM42.13 512.74h1v1h-1zM34.15 507.49h1v1h-1zM22.21 513.36h1v1h-1zM30.3 515.33h1v1h-1zM20.35 509.68h1v1h-1zM28.32 513.37h1v1h-1zM22.09 509.61h1v1h-1zM37.52 513.15h1v1h-1zM30 504.01h1v1h-1zM39.85 506.84h1v1h-1zM46.63 506.14h1v1h-1zM46.68 505.77h1v1h-1zM57.69 510.55h1v1h-1zM48.93 503.46h1v1h-1zM29.09 507.42h1v1h-1zM29.72 513.87h1v1h-1zM57.2 513.27h1v1h-1zM49.73 504.09h1v1h-1zM30.03 512.69h1v1h-1zM24.93 512.7h1v1h-1zM39.03 513.46h1v1h-1zM57.97 505.29h1v1h-1zM60.15 505.39h1v1h-1zM25.63 504.67h1v1h-1zM41.59 514.72h1v1h-1zM37.15 509.48h1v1h-1zM43.62 507.97h1v1h-1zM51.59 515.17h1v1h-1zM38.35 503.47h1v1h-1zM44.26 504.65h1v1h-1zM35.06 503.43h1v1h-1zM26.79 508.32h1v1h-1zM21.29 505.42h1v1h-1zM35.03 513.04h1v1h-1zM43.64 507.94h1v1h-1zM29.32 504.88h1v1h-1zM50.8 515.19h1v1h-1zM35.92 509.07h1v1h-1zM45.77 515.5h1v1h-1zM54.97 514.06h1v1h-1zM51.77 508.23h1v1h-1zM38.88 510.07h1v1h-1zM65.07 512.48h1v1h-1zM58.35 513.94h1v1h-1zM38.41 506.61h1v1h-1zM49.55 510.72h1v1h-1zM34.93 505.41h1v1h-1zM22.45 506.29h1v1h-1zM42.9 506.35h1v1h-1zM24.2 507.4h1v1h-1zM60.78 512.18h1v1h-1zM58.57 513.15h1v1h-1zM59.3 505.83h1v1h-1zM28.77 511.72h1v1h-1zM23.42 509.08h1v1h-1zM58.89 509.96h1v1h-1zM45.64 515.71h1v1h-1zM62.28 512.93h1v1h-1zM24.1 505.35h1v1h-1zM34.1 512.42h1v1h-1zM54.42 514.88h1v1h-1zM30.55 513.55h1v1h-1zM23.2 505.17h1v1h-1zM34.38 508.3h1v1h-1zM53.56 508.63h1v1h-1zM45.64 504.49h1v1h-1zM45.38 511.5h1v1h-1zM55.04 513.64h1v1h-1zM37.52 504.45h1v1h-1zM50.54 505.49h1v1h-1zM44.04 509.03h1v1h-1zM28.22 513.37h1v1h-1zM46.44 507.97h1v1h-1zM29.67 513.55h1v1h-1zM35.85 510.47h1v1h-1zM27.41 504.03h1v1h-1zM64.92 509.14h1v1h-1zM54.64 511.59h1v1h-1zM43.47 512.18h1v1h-1zM57.63 508.06h1v1h-1zM21.82 507.65h1v1h-1zM61.49 512.92h1v1h-1zM36.05 504.35h1v1h-1zM20.73 513.29h1v1h-1zM31.69 506.99h1v1h-1zM32.9 503.97h1v1h-1zM48.53 515.56h1v1h-1zM30.14 505.43h1v1h-1zM30.07 509.8h1v1h-1zM25.96 507.86h1v1h-1zM49.9 508.58h1v1h-1zM32.41 513.34h1v1h-1zM27.8 508.61h1v1h-1zM39.39 511.25h1v1h-1zM28.44 512h1v1h-1zM20.21 511.92h1v1h-1zM52.85 507.15h1v1h-1zM28.17 508.89h1v1h-1zM56.26 505.74h1v1h-1zM66.86 510.88h1v1h-1z" fill="#3458a8" fill-opacity="0.6"/>
<path d="M62.58 509.57h1v1h-1zM54.23 504.57h1v1h-1zM50.83 505.24h1v1h-1zM43.63 510.23h1v1h-1zM42.06 505.72h1v1h-1zM56.88 511.33h1v1h-1zM63.05 508.01h1v1h-1zM38.81 508.29h1v1h-1zM61.44 510.86h1v1h-1zM53.15 508.15h1v1h-1zM52.04 512.84h1v1h-1zM36.51 509.87h1v1h-1zM43.86 509.35h1v1h-1zM62.89 509.49h1v1h-1zM44.67 510.11h1v1h-1zM66.44 510.54h1v1h-1zM50.43 506.84h1v1h-1zM53.95 506.27h1v1h-1zM60.14 507.41h1v1h-1zM42.29 509.96h1v1h-1zM46.95 512.43h1v1h-1zM37.4 509.95h1v1h-1zM54.15 508.88h1v1h-1zM44.58 512.71h1v1h-1zM50.52 511.03h1v1h-1zM44.04 507.15h1v1h-1zM57.7 510.1h1v1h-1zM47.79 504.7h1v1h-1zM43.8 506.11h1v1h-1zM58.03 510.61h1v1h-1zM66.11 507.09h1v1h-1zM58.48 512.94h1v1h-1zM43.16 508.85h1v1h-1zM52.18 505.4h1v1h-1zM53.56 507.23h1v1h-1zM43.22 511.74h1v1h-1zM46.52 512.64h1v1h-1zM61.31 507.29h1v1h-1zM41.13 506.76h1v1h-1zM58.25 512.81h1v1h-1zM51.26 510.72h1v1h-1zM43.07 507.28h1v1h-1zM48.1 504.87h1v1h-1zM46.85 512.81h1v1h-1zM40.02 510.99h1v1h-1zM53.81 504.69h1v1h-1zM66.48 508.3h1v1h-1zM42.46 506.62h1v1h-1zM59.93 509.97h1v1h-1zM37.26 510.28h1v1h-1zM61.76 511.2h1v1h-1zM46.28 506.64h1v1h-1zM37.66 509.03h1v1h-1zM47.17 509.06h1v1h-1zM47.14 512.1h1v1h-1zM62.12 506.2h1v1h-1zM46.45 507.42h1v1h-1zM49.7 505.54h1v1h-1zM44.48 507.02h1v1h-1zM40.25 511.82h1v1h-1zM47.08 506.46h1v1h-1zM61.47 508.39h1v1h-1zM52.98 506.03h1v1h-1zM46.77 509.15h1v1h-1zM54.04 512h1v1h-1zM62.97 512.18h1v1h-1zM36.22 508.59h1v1h-1zM44.42 506.5h1v1h-1zM57.37 508.9h1v1h-1zM56.75 512.02h1v1h-1zM43.37 511.43h1v1h-1zM59.56 508.92h1v1h-1zM55.49 511.98h1v1h-1zM45.21 507.04h1v1h-1zM63.01 511.91h1v1h-1zM44.54 508.65h1v1h-1zM49.21 512h1v1h-1zM41.03 508.05h1v1h-1zM45.07 505.06h1v1h-1zM54.35 509.08h1v1h-1zM48.84 510.61h1v1h-1zM52.44 510.05h1v1h-1zM56.15 507.9h1v1h-1zM49.86 512.93h1v1h-1zM41.28 508.64h1v1h-1zM59.91 509.68h1v1h-1zM52.08 504.91h1v1h-1zM52.77 507.87h1v1h-1zM51.96 510.61h1v1h-1zM42.41 506.29h1v1h-1zM39.73 506.97h1v1h-1zM39.36 509.87h1v1h-1zM55.14 510.73h1v1h-1zM66.82 508.91h1v1h-1zM60.96 509.45h1v1h-1zM60.93 509.76h1v1h-1zM61.43 510.44h1v1h-1zM50.84 504.76h1v1h-1zM40.74 506.95h1v1h-1zM48.18 508.27h1v1h-1z" fill="#4aa8cc" fill-opacity="0.6"/>
<path d="M43.29 506.81h1v1h-1zM38.22 511.15h1v1h-1zM53.01 510.95h1v1h-1zM63.2 510.37h1v1h-1zM49 510.59h1v1h-1zM40.22 509.24h1v1h-1zM44.02 512.4h1v1h-1zM54.42 510.34h1v1h-1zM52.73 512.94h1v1h-1zM40.25 508.15h1v1h-1zM46.17 509.47h1v1h-1zM53.5 510.38h1v1h-1zM62.25 507.41h1v1h-1zM54.82 513.13h1v1h-1zM43.3 507.39h1v1h-1zM54.7 505.03h1v1h-1zM37.56 507.14h1v1h-1zM59.19 508.24h1v1h-1zM59.05 511.02h1v1h-1zM52.55 507.67h1v1h-1zM49.91 507h1v1h-1zM67 509.38h1v1h-1zM58.49 505.14h1v1h-1zM60.98 507.4h1v1h-1zM51.57 504.94h1v1h-1zM51.93 511.07h1v1h-1zM48.85 507.94h1v1h-1zM57.03 510.95h1v1h-1zM55.55 507.47h1v1h-1zM65.86 507.42h1v1h-1zM53.32 513.46h1v1h-1zM43.12 510.81h1v1h-1zM58.9 506.73h1v1h-1zM60.25 507.64h1v1h-1zM56.3 506.14h1v1h-1zM43.98 511.86h1v1h-1zM42.07 506.96h1v1h-1zM62.91 506.88h1v1h-1zM49.37 506.58h1v1h-1zM58.04 510.69h1v1h-1zM42.45 507.7h1v1h-1zM63.01 511.63h1v1h-1zM61.91 511.2h1v1h-1zM56.21 504.88h1v1h-1zM62.32 506.76h1v1h-1zM64.42 508.63h1v1h-1zM57.1 506.33h1v1h-1zM66.02 510.01h1v1h-1zM61.1 506.81h1v1h-1zM58.79 510.97h1v1h-1zM60.74 507.77h1v1h-1zM40.54 509.78h1v1h-1zM47.14 511.37h1v1h-1zM38.15 509.45h1v1h-1zM53.73 512.11h1v1h-1zM54.29 508.96h1v1h-1zM37.79 509.62h1v1h-1zM37.27 510.16h1v1h-1zM61.42 510.12h1v1h-1zM36.53 509.55h1v1h-1zM56.12 511.65h1v1h-1zM53.46 509.39h1v1h-1zM47.62 509.46h1v1h-1zM57.85 505.6h1v1h-1zM58.17 506.47h1v1h-1zM51.18 507.29h1v1h-1zM42.62 509.19h1v1h-1zM63.41 506h1v1h-1zM55.04 510.97h1v1h-1zM43.13 511.67h1v1h-1zM59.31 511.56h1v1h-1zM58.17 509.64h1v1h-1zM60.23 507.58h1v1h-1zM57.96 505.88h1v1h-1zM56.79 505.81h1v1h-1zM58.84 510.71h1v1h-1zM50.46 506.03h1v1h-1zM44.86 508.88h1v1h-1zM50.54 510.75h1v1h-1zM52.18 513.16h1v1h-1zM44.84 508.82h1v1h-1zM60.72 509.36h1v1h-1zM49.58 512.62h1v1h-1zM62.57 508.83h1v1h-1zM50.46 508.92h1v1h-1zM56.36 508.65h1v1h-1zM61.41 506.93h1v1h-1zM65.43 507.47h1v1h-1zM38.84 510.58h1v1h-1zM56.62 508.79h1v1h-1zM43.7 505.98h1v1h-1zM55.17 507.18h1v1h-1zM49.69 512.42h1v1h-1zM40.53 510.02h1v1h-1zM49.75 510.86h1v1h-1zM52.92 509.81h1v1h-1zM55.99 506.75h1v1h-1zM41.11 507.81h1v1h-1zM45.44 510.01h1v1h-1zM44.36 512.82h1v1h-1zM42.99 509.99h1v1h-1zM44.34 509.72h1v1h-1zM39.29 509.03h1v1h-1zM57.43 510.49h1v1h-1zM60.08 511.28h1v1h-1zM55.09 505.21h1v1h-1z" fill="#66bcc0" fill-opacity="0.6"/>
<path d="M49.76 506.83h1v1h-1zM49.55 505.89h1v1h-1zM64.52 506.23h1v1h-1zM57.01 509.75h1v1h-1zM48.32 508.69h1v1h-1zM62.32 508.02h1v1h-1zM60.88 512.69h1v1h-1zM38.68 507.45h1v1h-1zM56.34 505.68h1v1h-1zM61.84 511.55h1v1h-1zM46.32 505.54h1v1h-1zM58.97 508.31h1v1h-1zM46.02 507.36h1v1h-1zM57.02 509.85h1v1h-1zM50.11 511.65h1v1h-1zM51.64 511.67h1v1h-1zM47.66 510.88h1v1h-1zM58.3 511.82h1v1h-1zM55.13 508.31h1v1h-1zM63.01 510.73h1v1h-1zM52.78 508.44h1v1h-1zM44.46 510.09h1v1h-1zM48.71 505.97h1v1h-1zM57.46 509.01h1v1h-1zM58.32 512.2h1v1h-1zM42.18 507.74h1v1h-1zM49.83 512.7h1v1h-1zM54.15 505.94h1v1h-1zM54.96 508.2h1v1h-1zM55.51 511.8h1v1h-1zM55.62 511.83h1v1h-1zM38.71 507.4h1v1h-1zM40.05 511.59h1v1h-1zM47.35 505.84h1v1h-1zM55.07 507.73h1v1h-1zM38.36 509.06h1v1h-1zM60.01 508.82h1v1h-1zM56.04 509.25h1v1h-1zM37.2 510.66h1v1h-1zM58.17 510.44h1v1h-1zM57.14 507.31h1v1h-1zM56.99 507.63h1v1h-1zM45.22 506.18h1v1h-1zM64.05 509.82h1v1h-1zM56.1 511.54h1v1h-1zM41.22 506.61h1v1h-1zM50.68 505.16h1v1h-1zM41.55 508.63h1v1h-1zM61.64 510.4h1v1h-1zM58.3 511.1h1v1h-1zM42.19 507.57h1v1h-1zM50.8 508.62h1v1h-1zM40.58 509.34h1v1h-1zM53.94 509.61h1v1h-1zM53.23 513.17h1v1h-1zM59.68 508.15h1v1h-1zM37.71 509.13h1v1h-1zM41.19 507.82h1v1h-1zM46.83 511.16h1v1h-1zM52.06 513.31h1v1h-1zM50.18 505.37h1v1h-1zM42.91 509.95h1v1h-1zM46.56 508.65h1v1h-1zM63.14 509.92h1v1h-1zM53.51 513.18h1v1h-1zM37.51 509.22h1v1h-1zM65.75 508.16h1v1h-1zM50.93 504.99h1v1h-1zM52.41 510.44h1v1h-1zM38.89 509.37h1v1h-1zM50.7 507.4h1v1h-1zM64.11 507.49h1v1h-1zM39.09 511.42h1v1h-1zM49.87 508.19h1v1h-1zM54.68 509.95h1v1h-1zM44.14 510.08h1v1h-1zM48.68 506.62h1v1h-1zM44.79 506.28h1v1h-1zM44.03 507.8h1v1h-1zM39.17 506.63h1v1h-1zM41.39 509.9h1v1h-1zM51.73 508.95h1v1h-1zM52.08 507.04h1v1h-1zM49.79 511.19h1v1h-1zM45.95 511.54h1v1h-1zM60.69 509.12h1v1h-1zM56.76 509.8h1v1h-1z" fill="#3a70b8" fill-opacity="0.6"/>
<path d="M55.91 509.84h1v1h-1zM54.22 507.63h1v1h-1zM42.33 509.08h1v1h-1zM51.17 505.55h1v1h-1zM54.67 513.18h1v1h-1zM52.16 509.8h1v1h-1zM64.04 510.44h1v1h-1zM62.26 506.27h1v1h-1zM51.98 509.05h1v1h-1zM51.07 506.44h1v1h-1zM50.95 509.78h1v1h-1zM57.74 510.93h1v1h-1zM59.68 511.5h1v1h-1zM64.74 507.61h1v1h-1zM54.6 510.3h1v1h-1zM53.76 512.32h1v1h-1zM51.28 509.87h1v1h-1zM42.28 508.08h1v1h-1zM47.79 505.17h1v1h-1zM49.34 509.89h1v1h-1zM50.07 508.25h1v1h-1zM62.06 507.78h1v1h-1zM48.98 505.97h1v1h-1zM61.75 512.35h1v1h-1zM60.02 506.96h1v1h-1zM62.59 509.51h1v1h-1zM57.83 508.19h1v1h-1zM49.27 505.2h1v1h-1zM43.14 510.58h1v1h-1zM38.41 508.9h1v1h-1zM46.08 505.39h1v1h-1zM59.69 511.97h1v1h-1zM52.63 506.67h1v1h-1zM47.52 510.52h1v1h-1zM60.21 505.64h1v1h-1zM57.66 511.91h1v1h-1zM41.34 510.98h1v1h-1zM37.52 508.32h1v1h-1zM42.71 508.77h1v1h-1zM41.79 506.64h1v1h-1zM40.8 510.68h1v1h-1zM47.45 505.34h1v1h-1zM66.46 509.6h1v1h-1zM46.58 510.05h1v1h-1zM37.77 508.47h1v1h-1zM51.27 511.79h1v1h-1zM55.28 507.72h1v1h-1zM60.57 510.23h1v1h-1zM54.9 507.91h1v1h-1zM37.22 507.63h1v1h-1zM52.01 510.18h1v1h-1zM49.6 508.88h1v1h-1zM60.76 506.93h1v1h-1zM44.87 508.65h1v1h-1zM43.45 506.41h1v1h-1zM43.1 511.77h1v1h-1zM63.25 507.38h1v1h-1zM55.6 512.98h1v1h-1zM53.31 512.61h1v1h-1zM58.43 505.66h1v1h-1zM46.83 507.15h1v1h-1zM65.68 506.71h1v1h-1zM38.08 506.88h1v1h-1zM57.92 512.36h1v1h-1zM63.47 511.66h1v1h-1zM58.16 508.85h1v1h-1zM50.58 510.78h1v1h-1zM51.74 507.32h1v1h-1zM47.6 508.52h1v1h-1zM59.14 506.58h1v1h-1zM49.25 507.7h1v1h-1zM67.19 508.77h1v1h-1zM46.37 511.41h1v1h-1zM39.78 507.38h1v1h-1zM49.91 512.49h1v1h-1zM51.79 506.82h1v1h-1zM64.25 508.96h1v1h-1zM54.71 513.07h1v1h-1zM56.56 509.76h1v1h-1zM61.03 506.57h1v1h-1zM43.64 512.2h1v1h-1zM57.58 505.14h1v1h-1zM50.51 513.23h1v1h-1zM47.22 510.62h1v1h-1zM52.1 511.69h1v1h-1zM53.22 510.23h1v1h-1zM55.19 510.57h1v1h-1zM41.3 510.18h1v1h-1zM53.22 513.26h1v1h-1zM62.43 512.36h1v1h-1zM45.57 506.57h1v1h-1zM63.46 507.24h1v1h-1zM48.97 511.66h1v1h-1zM64.64 510.47h1v1h-1zM55.53 508.77h1v1h-1zM50.23 508.41h1v1h-1z" fill="#3f8fc4" fill-opacity="0.6"/>
<path d="M62.61 509.83h1v1h-1zM52.74 513.33h1v1h-1zM55.69 505.44h1v1h-1zM48.22 510.69h1v1h-1zM51.87 508.42h1v1h-1zM44.63 508.55h1v1h-1zM46.73 512.16h1v1h-1zM57.55 506.54h1v1h-1zM58.08 507.9h1v1h-1zM48.3 509.79h1v1h-1zM49.67 506.94h1v1h-1zM47.53 507.58h1v1h-1zM50.35 508.05h1v1h-1zM61.99 510.7h1v1h-1zM51.88 509.05h1v1h-1zM53.24 511.11h1v1h-1zM44.16 509.92h1v1h-1zM46.73 508.37h1v1h-1zM61.9 509.09h1v1h-1zM62.58 507.54h1v1h-1zM64.63 509.02h1v1h-1zM52.32 508.11h1v1h-1zM44.6 506.5h1v1h-1zM42.99 508.12h1v1h-1zM64.21 509.07h1v1h-1zM38.63 510.76h1v1h-1zM43.51 505.88h1v1h-1zM64.65 508.22h1v1h-1zM57.39 506.66h1v1h-1zM48.4 509.06h1v1h-1zM51.44 504.96h1v1h-1zM47.26 507.51h1v1h-1zM51.64 506.8h1v1h-1zM64.29 506.55h1v1h-1zM43.29 508.34h1v1h-1zM47.89 506.15h1v1h-1zM58.2 510.26h1v1h-1zM43.13 511.48h1v1h-1zM53.96 508.05h1v1h-1zM62.59 507.38h1v1h-1zM57.17 511.43h1v1h-1zM61.16 505.51h1v1h-1zM59.14 508.57h1v1h-1zM47.93 505.5h1v1h-1zM65.86 509.91h1v1h-1zM63.75 507.22h1v1h-1zM42.58 507.55h1v1h-1zM42.88 508.19h1v1h-1zM49.05 512.88h1v1h-1zM46 510.32h1v1h-1zM43.1 512.44h1v1h-1zM55.08 508.64h1v1h-1zM54.79 511.72h1v1h-1zM59.52 512.05h1v1h-1zM49.85 507.68h1v1h-1zM55.84 508.63h1v1h-1zM43.91 512.13h1v1h-1zM54.27 510.67h1v1h-1zM41.14 510.5h1v1h-1zM47.9 513.07h1v1h-1zM51.63 509.6h1v1h-1zM55.65 512.48h1v1h-1zM60.17 509.95h1v1h-1zM41.2 512.3h1v1h-1zM59.95 507.92h1v1h-1zM44.42 512.5h1v1h-1zM45.98 512.08h1v1h-1zM45.43 505.61h1v1h-1zM44.28 510.9h1v1h-1zM50.32 505.37h1v1h-1zM59.12 509.7h1v1h-1zM41.68 511.07h1v1h-1zM50.88 513.15h1v1h-1zM47.88 506.43h1v1h-1zM57.24 510.19h1v1h-1zM50.7 506.88h1v1h-1zM36.16 509.14h1v1h-1zM60.19 505.2h1v1h-1zM59.85 510.81h1v1h-1zM45.12 507.73h1v1h-1zM44.65 507.89h1v1h-1zM55.39 504.8h1v1h-1zM52.61 505.66h1v1h-1zM42.5 512.51h1v1h-1zM52.17 510.93h1v1h-1zM45.91 509.19h1v1h-1zM58.31 513.04h1v1h-1zM51.84 507.81h1v1h-1zM41.54 508.57h1v1h-1zM55.93 509.08h1v1h-1zM58.41 511.49h1v1h-1zM50.96 511.67h1v1h-1zM46.59 504.77h1v1h-1zM55.6 511.53h1v1h-1zM47.34 506.28h1v1h-1zM45.82 509.69h1v1h-1zM64.42 510.22h1v1h-1zM37.41 507.93h1v1h-1zM49.37 509.82h1v1h-1zM52.73 510.11h1v1h-1zM61.75 506.87h1v1h-1zM61.1 512.67h1v1h-1zM51.89 510.33h1v1h-1zM43.24 506.11h1v1h-1zM39.27 508.26h1v1h-1zM52.94 507.16h1v1h-1zM58.35 509.8h1v1h-1zM65.42 508.83h1v1h-1zM39.68 509.32h1v1h-1zM53.59 510.11h1v1h-1zM66.46 507.46h1v1h-1z" fill="#5ab6c6" fill-opacity="0.6"/>
<path d="M58.84 553.54h1v1h-1zM23.52 555.09h1v1h-1zM35.38 538.23h1v1h-1zM23.87 555.79h1v1h-1zM44.81 534.94h1v1h-1zM54.21 538.57h1v1h-1zM53.08 550.6h1v1h-1zM38.52 533.97h1v1h-1zM46.85 538.02h1v1h-1zM31.9 531.22h1v1h-1zM23.68 536.58h1v1h-1zM34.81 546.1h1v1h-1zM38.1 525.51h1v1h-1zM37.96 524.52h1v1h-1zM39.99 569.98h1v1h-1zM50.46 548.24h1v1h-1zM24.83 553.06h1v1h-1zM34.84 534.25h1v1h-1zM37.15 543.03h1v1h-1zM23.78 566.05h1v1h-1zM42.82 532.62h1v1h-1zM56.77 536.59h1v1h-1zM45.73 527.25h1v1h-1zM29.73 540.2h1v1h-1zM30.15 551.58h1v1h-1zM59.02 541.95h1v1h-1zM35.64 528.37h1v1h-1zM57.33 553.26h1v1h-1zM20.79 567.3h1v1h-1zM26.91 533.34h1v1h-1zM60.77 526.29h1v1h-1zM33.46 531.14h1v1h-1zM45.33 528.45h1v1h-1zM38.03 524.15h1v1h-1zM22.62 568.43h1v1h-1zM55.38 538.76h1v1h-1zM30.88 537.62h1v1h-1zM62.89 540.09h1v1h-1zM69.34 530.09h1v1h-1zM48.99 530.85h1v1h-1zM39.43 556.35h1v1h-1zM35.06 555.97h1v1h-1zM23.77 560.49h1v1h-1zM63.53 529.24h1v1h-1zM64.31 547.14h1v1h-1zM25.1 546.35h1v1h-1zM31.86 540.03h1v1h-1zM22.03 541.73h1v1h-1zM63.21 535.75h1v1h-1zM47.68 533.72h1v1h-1zM25.6 542.25h1v1h-1zM42.77 536.05h1v1h-1zM42.6 547.34h1v1h-1zM59.05 531.44h1v1h-1zM50.32 528.48h1v1h-1zM40.55 532.09h1v1h-1zM29.1 537.31h1v1h-1zM25.66 548.07h1v1h-1zM26.31 546.57h1v1h-1zM39.9 534h1v1h-1zM21.13 528.25h1v1h-1zM30.83 526.28h1v1h-1zM21.78 548.52h1v1h-1zM32.12 531.26h1v1h-1zM33.63 559.11h1v1h-1zM28.79 534.3h1v1h-1zM56.14 528.51h1v1h-1zM46.14 530h1v1h-1zM30.13 530.63h1v1h-1zM65.33 524.84h1v1h-1zM21.45 558.08h1v1h-1zM35.03 562.65h1v1h-1zM24.12 561.02h1v1h-1zM57.63 556.33h1v1h-1zM32.29 533.74h1v1h-1zM21.67 547.88h1v1h-1zM21.4 533.33h1v1h-1zM48.52 542.84h1v1h-1zM64.98 547.23h1v1h-1zM23.67 542.65h1v1h-1zM28.98 525.65h1v1h-1zM37.83 542.76h1v1h-1zM79.91 531h1v1h-1zM26.35 542.73h1v1h-1zM31.16 525.24h1v1h-1zM27.01 525.6h1v1h-1zM32.9 540.09h1v1h-1zM31.67 532.86h1v1h-1zM25.48 531.45h1v1h-1zM39.05 538.29h1v1h-1zM23.02 560.65h1v1h-1zM64.3 541.31h1v1h-1zM48.19 529.7h1v1h-1zM49.77 558.85h1v1h-1zM33.43 539.77h1v1h-1zM26.73 528.91h1v1h-1zM25.69 541.86h1v1h-1zM47.5 534.73h1v1h-1zM35.06 541.78h1v1h-1zM28.88 559.81h1v1h-1zM37.34 551.3h1v1h-1zM35.7 539.5h1v1h-1zM30.6 538.76h1v1h-1zM28.26 538.04h1v1h-1zM47.08 547.42h1v1h-1zM29.92 538.53h1v1h-1zM29.11 527.43h1v1h-1zM42.74 539.59h1v1h-1zM51.23 525.92h1v1h-1zM42.45 551.34h1v1h-1zM25.94 563.13h1v1h-1zM27.73 565.64h1v1h-1zM33.88 556.64h1v1h-1zM21.08 540.71h1v1h-1zM39.84 526.43h1v1h-1zM51.91 542.12h1v1h-1zM24.83 563.49h1v1h-1zM26.66 533.55h1v1h-1zM25.78 526.53h1v1h-1zM49.6 559.51h1v1h-1zM26.56 555.75h1v1h-1zM20.92 552.37h1v1h-1zM27.8 567.51h1v1h-1zM32.73 548.26h1v1h-1zM23.7 529.62h1v1h-1zM23.19 545.04h1v1h-1zM23.68 531.86h1v1h-1zM40.95 550.56h1v1h-1zM61.82 536.17h1v1h-1zM37.91 529.01h1v1h-1zM31.14 559.54h1v1h-1zM23.51 537.67h1v1h-1zM31.01 534.14h1v1h-1zM33.19 525.81h1v1h-1zM40.14 540.15h1v1h-1zM36.83 545.36h1v1h-1zM47.43 527.6h1v1h-1zM26.67 567.22h1v1h-1zM45.76 534.21h1v1h-1zM20.67 554.69h1v1h-1zM27.11 555.18h1v1h-1zM57.31 546.31h1v1h-1zM43.32 529.88h1v1h-1zM50.61 570.04h1v1h-1zM29.88 529.29h1v1h-1zM27.32 533.21h1v1h-1zM26.84 525.77h1v1h-1zM31.68 538.15h1v1h-1zM39.68 544.05h1v1h-1zM44.98 554.57h1v1h-1zM58.28 560.41h1v1h-1zM26.25 554.27h1v1h-1zM24.91 550.28h1v1h-1zM26.42 538.65h1v1h-1zM47.67 535.36h1v1h-1zM43.3 549.18h1v1h-1zM20.73 567.75h1v1h-1zM63.42 525.22h1v1h-1zM23.01 539.49h1v1h-1zM55.43 555.57h1v1h-1zM36.25 547.86h1v1h-1zM57.93 545.44h1v1h-1zM34.36 547.31h1v1h-1zM50.47 552.39h1v1h-1zM40.18 557.8h1v1h-1zM53.85 540.61h1v1h-1zM24.18 552.22h1v1h-1zM21.39 537.79h1v1h-1zM25.11 560.23h1v1h-1zM31.55 567.24h1v1h-1zM38.28 541.23h1v1h-1zM23.92 529.11h1v1h-1zM23.48 525.1h1v1h-1zM52.14 527.01h1v1h-1zM23.95 548.75h1v1h-1zM33.99 529.71h1v1h-1zM35.18 532.32h1v1h-1zM42.07 555.87h1v1h-1zM51 536.14h1v1h-1zM21.17 538.09h1v1h-1zM25.1 544.31h1v1h-1zM29.49 541.02h1v1h-1zM50.76 582.88h1v1h-1zM42.77 551.44h1v1h-1zM41.68 529.66h1v1h-1zM21.81 532.43h1v1h-1zM25.28 533.4h1v1h-1zM48.65 550.76h1v1h-1zM33.46 535.5h1v1h-1zM25.24 530.28h1v1h-1zM32.42 560.69h1v1h-1zM30.86 527.69h1v1h-1zM20.71 555.49h1v1h-1zM50.98 534.84h1v1h-1zM51.32 524.26h1v1h-1zM31.97 549.68h1v1h-1zM21.56 530.09h1v1h-1zM45.91 527.37h1v1h-1zM38.79 539.85h1v1h-1zM62.39 528.69h1v1h-1zM60.87 559.26h1v1h-1zM20.96 532.22h1v1h-1zM34.78 524.57h1v1h-1zM46.88 564.33h1v1h-1zM44.95 540.4h1v1h-1zM36.44 546.25h1v1h-1zM38.11 550.75h1v1h-1zM32.12 533.1h1v1h-1zM41.89 536.74h1v1h-1zM32.76 560.45h1v1h-1zM38.93 532.86h1v1h-1zM44.66 534.16h1v1h-1zM53.74 529.26h1v1h-1zM21.27 536.6h1v1h-1zM29.77 538.16h1v1h-1zM34.92 572.97h1v1h-1zM23.06 546.96h1v1h-1zM45.07 556.51h1v1h-1zM37.25 542.43h1v1h-1zM48.66 525.49h1v1h-1zM30.08 564.54h1v1h-1zM31.98 555.71h1v1h-1zM24.49 524.56h1v1h-1zM58.27 577.49h1v1h-1z" fill="#7070c4" fill-opacity="0.5"/>
<path d="M43.06 528.98h1v1h-1zM61.88 533.57h1v1h-1zM54.58 546.78h1v1h-1zM59.62 557.74h1v1h-1zM64.3 529.49h1v1h-1zM48.09 533.66h1v1h-1zM20.7 529.95h1v1h-1zM23.75 546.35h1v1h-1zM43.49 540.78h1v1h-1zM26.79 570.54h1v1h-1zM26.94 533.75h1v1h-1zM24.7 552.61h1v1h-1zM44.34 525.36h1v1h-1zM20.34 542.89h1v1h-1zM39.07 528.33h1v1h-1zM45.56 526.67h1v1h-1zM57.82 572.21h1v1h-1zM23.1 561.01h1v1h-1zM60.31 531.57h1v1h-1zM31.94 550.57h1v1h-1zM33.81 546.68h1v1h-1zM52.46 531.72h1v1h-1zM34.02 532.64h1v1h-1zM32.76 548.78h1v1h-1zM37.09 533.64h1v1h-1zM24.61 532.83h1v1h-1zM37.18 539.28h1v1h-1zM27.5 550.28h1v1h-1zM64.04 536.23h1v1h-1zM34.56 535.63h1v1h-1zM24.28 548.75h1v1h-1zM58.02 565.13h1v1h-1zM34.49 549.57h1v1h-1zM46.5 537.64h1v1h-1zM46.33 549.45h1v1h-1zM38.48 528.99h1v1h-1zM31.48 550.79h1v1h-1zM58.42 527.62h1v1h-1zM61.12 525.36h1v1h-1zM26.52 543.81h1v1h-1zM29.26 539.56h1v1h-1zM21.36 552.47h1v1h-1zM22.45 544.61h1v1h-1zM44.16 528.89h1v1h-1zM41.88 533.8h1v1h-1zM51.91 567.03h1v1h-1zM50.12 536.57h1v1h-1zM37.06 525.76h1v1h-1zM44.86 530.52h1v1h-1zM41.16 537.27h1v1h-1zM26.39 525.6h1v1h-1zM68.31 545.37h1v1h-1zM43.49 557.06h1v1h-1zM57.77 557.01h1v1h-1zM40.52 547.87h1v1h-1zM21.61 538.38h1v1h-1zM29.37 549.79h1v1h-1zM23.44 535.36h1v1h-1zM29.75 538.82h1v1h-1zM45.44 549.03h1v1h-1zM35.07 554.5h1v1h-1zM27.94 550.98h1v1h-1zM42.71 534.3h1v1h-1zM49.24 531.84h1v1h-1zM31.99 533.64h1v1h-1zM26.18 534.94h1v1h-1zM29.18 547.81h1v1h-1zM37.02 531.95h1v1h-1zM25.61 538.98h1v1h-1zM27.08 547.68h1v1h-1zM58.82 563.15h1v1h-1zM32.03 561.02h1v1h-1zM24.38 546.08h1v1h-1zM33.02 540.91h1v1h-1zM23.68 540.66h1v1h-1zM31.69 544.16h1v1h-1zM30.73 542.89h1v1h-1zM29.73 548.6h1v1h-1zM37.24 527.27h1v1h-1zM95.94 537.79h1v1h-1zM20.82 538.9h1v1h-1zM35.43 524.72h1v1h-1zM21.35 529.57h1v1h-1zM41.05 542.59h1v1h-1zM30.06 528.77h1v1h-1zM32.18 538.97h1v1h-1zM22.65 544.83h1v1h-1zM33.24 557.82h1v1h-1zM38.99 541.76h1v1h-1zM24.8 537.45h1v1h-1zM33.79 549.5h1v1h-1zM38.49 544.09h1v1h-1zM32.82 551.79h1v1h-1zM29.25 533.54h1v1h-1zM46.67 534.34h1v1h-1zM50.96 548.26h1v1h-1zM29.87 549.56h1v1h-1zM23.04 525.96h1v1h-1zM24.66 551.3h1v1h-1zM32.61 553.19h1v1h-1zM40.73 546.13h1v1h-1zM48.64 542.38h1v1h-1zM38.6 554.24h1v1h-1zM57.95 535.21h1v1h-1zM47.24 567h1v1h-1zM39.39 524h1v1h-1zM30.04 543.34h1v1h-1zM38.42 556.09h1v1h-1zM26.93 539.73h1v1h-1zM36.37 553.59h1v1h-1zM34.4 550.37h1v1h-1zM31.06 534.49h1v1h-1zM41.74 553.19h1v1h-1zM44.61 535.89h1v1h-1zM41.2 538.88h1v1h-1zM53.19 537.45h1v1h-1zM49.64 531.87h1v1h-1zM37.63 525h1v1h-1zM21.06 545.24h1v1h-1zM33.2 533.12h1v1h-1zM43.8 534.01h1v1h-1zM71.66 534.86h1v1h-1zM36.81 541.02h1v1h-1zM55.81 542.22h1v1h-1zM26.48 561.43h1v1h-1zM42.65 525.02h1v1h-1zM23.74 536.51h1v1h-1zM38.22 543.67h1v1h-1zM28.32 546.29h1v1h-1zM31.63 539.69h1v1h-1zM29.22 526.89h1v1h-1zM28.55 563.46h1v1h-1zM42.46 555.86h1v1h-1zM22.58 547.77h1v1h-1zM28.44 539.98h1v1h-1zM25.08 539.77h1v1h-1zM23.13 576.85h1v1h-1zM58.23 532.95h1v1h-1zM51.41 528.18h1v1h-1zM35.46 545.9h1v1h-1zM49.41 549.31h1v1h-1zM23.22 531.2h1v1h-1zM41.27 544.85h1v1h-1zM53.48 581.11h1v1h-1zM23.84 537.54h1v1h-1zM35.5 547.35h1v1h-1zM20.24 528.26h1v1h-1zM41.35 541.56h1v1h-1zM25.01 541.14h1v1h-1zM34.72 532.18h1v1h-1zM49.23 540.03h1v1h-1zM24.69 536.25h1v1h-1zM28.95 538.4h1v1h-1zM40.37 542.86h1v1h-1zM39.51 533.04h1v1h-1zM40.96 557.03h1v1h-1zM63.35 537.22h1v1h-1zM35.21 563.53h1v1h-1zM32.52 527.03h1v1h-1zM25.26 541.64h1v1h-1zM32.59 545.44h1v1h-1zM26.91 555.42h1v1h-1zM20.57 525.72h1v1h-1zM24.68 541.29h1v1h-1zM23.73 545.63h1v1h-1zM24.99 534.99h1v1h-1zM39.21 562.4h1v1h-1zM78.84 540.35h1v1h-1zM70.44 536.94h1v1h-1zM42.77 570.17h1v1h-1zM53.39 532.05h1v1h-1zM24.16 544.84h1v1h-1zM65.58 569.91h1v1h-1zM40.34 524.76h1v1h-1zM44.47 525.75h1v1h-1zM60.7 534.57h1v1h-1zM58.64 526.19h1v1h-1zM25.17 553.18h1v1h-1zM32.6 549.08h1v1h-1zM42.27 528.93h1v1h-1zM63.35 543.09h1v1h-1zM39.92 539.28h1v1h-1zM21.49 545.7h1v1h-1zM52.35 532.03h1v1h-1zM52.59 542.98h1v1h-1zM38.33 528.98h1v1h-1zM24.92 547.97h1v1h-1zM60.07 528.59h1v1h-1zM49.58 547.3h1v1h-1zM60.5 531.83h1v1h-1zM43.91 531.97h1v1h-1zM26.56 550.42h1v1h-1zM38.73 551.32h1v1h-1zM37.93 529.41h1v1h-1zM30.63 532.11h1v1h-1zM35.07 539.25h1v1h-1zM56.16 549.95h1v1h-1zM27.7 543.2h1v1h-1zM33.1 540.46h1v1h-1zM32.44 554.96h1v1h-1zM30.82 535.41h1v1h-1zM55.19 531.81h1v1h-1zM21.57 552.97h1v1h-1zM60.89 535.73h1v1h-1zM50.52 538.68h1v1h-1zM63.13 551.16h1v1h-1zM25.82 548.94h1v1h-1zM26.4 538.3h1v1h-1zM25.33 525.65h1v1h-1zM27.89 533.19h1v1h-1zM59.64 528.38h1v1h-1zM26.88 524.46h1v1h-1zM25 552.46h1v1h-1zM21.67 555.91h1v1h-1zM70.36 568.18h1v1h-1zM21.92 530.26h1v1h-1zM44.64 536.71h1v1h-1zM55.26 541.71h1v1h-1zM67.04 537.09h1v1h-1zM44.06 536.26h1v1h-1zM66.19 549.87h1v1h-1zM27.06 528.41h1v1h-1zM47.72 532.67h1v1h-1zM42.17 527.51h1v1h-1zM71.29 546.1h1v1h-1zM36.48 524.24h1v1h-1zM31.85 536.58h1v1h-1zM30.93 534.58h1v1h-1zM41.69 534.09h1v1h-1zM33.73 545.98h1v1h-1zM50.1 539.64h1v1h-1zM37.11 533.93h1v1h-1zM44.37 559.15h1v1h-1zM52.59 568.57h1v1h-1zM32.47 560.19h1v1h-1zM27.88 536.28h1v1h-1zM49.06 527.75h1v1h-1zM31.77 555.01h1v1h-1zM44.52 537.81h1v1h-1zM52.34 544.26h1v1h-1zM53.71 556.69h1v1h-1zM25.77 544.83h1v1h-1z" fill="#6464bc" fill-opacity="0.5"/>
<path d="M48.16 534.35h1v1h-1zM24.04 524.38h1v1h-1zM28.59 559.38h1v1h-1zM37.44 557.05h1v1h-1zM41.24 561.14h1v1h-1zM41.44 525.13h1v1h-1zM77.73 529.51h1v1h-1zM31.27 528.34h1v1h-1zM39.09 551.9h1v1h-1zM40.11 535.01h1v1h-1zM60.88 554.54h1v1h-1zM22.65 534.56h1v1h-1zM37.27 526.31h1v1h-1zM57.25 533.18h1v1h-1zM31.07 525.47h1v1h-1zM38.65 553.28h1v1h-1zM30.18 531.51h1v1h-1zM46.78 567.95h1v1h-1zM31.57 559.25h1v1h-1zM24.22 542.52h1v1h-1zM32.41 534.32h1v1h-1zM29.24 527.16h1v1h-1zM57.55 529.83h1v1h-1zM28.7 546.36h1v1h-1zM25.6 531.7h1v1h-1zM60.57 526.08h1v1h-1zM36.55 546.36h1v1h-1zM33.99 543.81h1v1h-1zM33.88 533.09h1v1h-1zM21.09 536.84h1v1h-1zM46.44 543.65h1v1h-1zM38.49 539.25h1v1h-1zM42.22 552.42h1v1h-1zM37.08 540.83h1v1h-1zM25.15 538.53h1v1h-1zM44.25 538.18h1v1h-1zM34.47 554.87h1v1h-1zM55.66 536.75h1v1h-1zM23.52 531.73h1v1h-1zM30.9 566.01h1v1h-1zM26.32 558.43h1v1h-1zM52.24 551.32h1v1h-1zM40.45 546.06h1v1h-1zM38.49 542.15h1v1h-1zM35.27 532.81h1v1h-1zM24.91 524.75h1v1h-1zM46.15 535.76h1v1h-1zM36.69 525.5h1v1h-1zM38.38 538.88h1v1h-1zM49.96 543.29h1v1h-1zM54.35 526.59h1v1h-1zM20.22 524.33h1v1h-1zM33.35 527.71h1v1h-1zM32.85 531.2h1v1h-1zM50.14 524.68h1v1h-1zM33.21 575.69h1v1h-1zM50.32 536.82h1v1h-1zM21.43 524.56h1v1h-1zM56.85 546.65h1v1h-1zM26.64 529.07h1v1h-1zM29.85 540.3h1v1h-1zM26.68 533.56h1v1h-1zM26.63 536.11h1v1h-1zM21.27 537.62h1v1h-1zM59.58 560.76h1v1h-1zM21.02 546.19h1v1h-1zM31.37 544.34h1v1h-1zM26.73 546.95h1v1h-1zM41.32 541.1h1v1h-1zM49.88 530.82h1v1h-1zM75.76 555.24h1v1h-1zM22.53 551.86h1v1h-1zM28.5 545.4h1v1h-1zM25.38 537.51h1v1h-1zM22.67 533.37h1v1h-1zM24.83 526.38h1v1h-1zM40.39 528.53h1v1h-1zM26.59 532.3h1v1h-1zM57.29 550.06h1v1h-1zM39.2 539.19h1v1h-1zM43.28 534.12h1v1h-1zM21.33 570.58h1v1h-1zM42.77 526.85h1v1h-1zM51.78 526.18h1v1h-1zM22.26 532.28h1v1h-1zM58.55 524.77h1v1h-1zM54.1 528.11h1v1h-1zM30.87 550.4h1v1h-1zM25.68 542.54h1v1h-1zM70.13 536.32h1v1h-1zM46.13 547.87h1v1h-1zM26.65 526.66h1v1h-1zM26.61 556.02h1v1h-1zM56.58 564.54h1v1h-1zM64.71 526.37h1v1h-1zM42.56 542.86h1v1h-1zM59.35 545.1h1v1h-1zM52.9 562.11h1v1h-1zM20.65 545.94h1v1h-1zM78.77 539.72h1v1h-1zM37.89 580.44h1v1h-1zM33.72 551.13h1v1h-1zM20.5 544.11h1v1h-1zM54.04 574.7h1v1h-1zM25.33 529.99h1v1h-1zM25.06 539.07h1v1h-1zM23.37 539.46h1v1h-1zM32.33 534.31h1v1h-1zM35.14 534.92h1v1h-1zM25.76 533.95h1v1h-1zM42.22 535.47h1v1h-1zM28.12 528.82h1v1h-1zM60.23 540.84h1v1h-1zM23.14 537.06h1v1h-1zM23.46 549.94h1v1h-1zM36.18 526.07h1v1h-1zM22.45 533.28h1v1h-1zM43.83 532.7h1v1h-1zM21.2 548.06h1v1h-1zM26.7 547.42h1v1h-1zM24.18 539.47h1v1h-1zM28.29 526.41h1v1h-1zM42.38 527.75h1v1h-1zM41.46 532.54h1v1h-1zM50.08 528.15h1v1h-1zM28.01 542.97h1v1h-1zM30.67 541.99h1v1h-1zM33.83 541.59h1v1h-1zM28.94 529.95h1v1h-1zM33.44 565.65h1v1h-1zM24.86 551.18h1v1h-1zM59.24 567.29h1v1h-1zM28.83 538.51h1v1h-1zM50.18 554.87h1v1h-1zM24.19 534.54h1v1h-1zM43.36 543.91h1v1h-1zM30.9 544.48h1v1h-1zM34.57 528.76h1v1h-1zM31.18 539.74h1v1h-1zM66.58 542.79h1v1h-1zM43.51 549.42h1v1h-1zM37.8 567.98h1v1h-1zM62.09 544.39h1v1h-1zM72.57 539.38h1v1h-1zM35.46 525.57h1v1h-1zM56.63 555.29h1v1h-1zM41.18 530.5h1v1h-1zM20.69 547.72h1v1h-1zM32.16 530.3h1v1h-1zM38.6 528.88h1v1h-1zM37.27 537.55h1v1h-1zM25.5 525.22h1v1h-1zM53.6 524.81h1v1h-1zM47.59 566.54h1v1h-1zM68.03 527.3h1v1h-1zM59.36 554.18h1v1h-1zM43.21 537.53h1v1h-1zM36.28 536.82h1v1h-1zM22.15 530.45h1v1h-1zM30.22 527.74h1v1h-1zM44.29 572.45h1v1h-1zM32.75 553.4h1v1h-1zM45.78 524.84h1v1h-1zM53.53 528.4h1v1h-1zM29.25 529.92h1v1h-1zM33.54 530.57h1v1h-1zM21.98 579.54h1v1h-1zM61.71 564.91h1v1h-1zM22.24 530.48h1v1h-1zM26.51 548.65h1v1h-1zM49.15 545.72h1v1h-1zM49.23 531.22h1v1h-1zM30.71 533.75h1v1h-1zM48.44 534.34h1v1h-1zM31.51 546.85h1v1h-1zM47.68 557.66h1v1h-1zM38.87 547.71h1v1h-1zM23.13 527.3h1v1h-1zM32.75 524.9h1v1h-1zM50.38 574.85h1v1h-1zM41.2 546.53h1v1h-1zM31.52 539.25h1v1h-1zM56.24 547.09h1v1h-1zM32.71 537.12h1v1h-1zM53.87 564.34h1v1h-1zM22.65 524.17h1v1h-1zM47.15 544.41h1v1h-1zM30.87 560.98h1v1h-1zM39.97 530.33h1v1h-1zM20.9 548.39h1v1h-1zM33.76 530.91h1v1h-1zM33.37 546.91h1v1h-1zM30.41 533.17h1v1h-1zM59.58 526.38h1v1h-1zM24.69 530.81h1v1h-1zM62.9 542.87h1v1h-1zM23.99 532.94h1v1h-1zM20.63 558.81h1v1h-1zM75.71 560.68h1v1h-1zM28.52 535.37h1v1h-1zM56.18 535.44h1v1h-1zM42.89 527.62h1v1h-1zM40.45 553.49h1v1h-1zM72.96 528.64h1v1h-1zM50.37 548.7h1v1h-1zM29.21 539.81h1v1h-1zM56.02 537.49h1v1h-1zM25.41 541.36h1v1h-1zM42.7 581.92h1v1h-1zM38.88 533.54h1v1h-1zM41.92 560.06h1v1h-1zM27.99 541.15h1v1h-1zM59.84 535.99h1v1h-1zM42.84 545.38h1v1h-1zM28.41 531.74h1v1h-1zM74.04 548.3h1v1h-1zM36.63 538.66h1v1h-1zM66.77 539.29h1v1h-1zM36.06 538.83h1v1h-1zM23.21 547.29h1v1h-1zM25.84 525.66h1v1h-1zM32.92 559.89h1v1h-1z" fill="#5a5ab8" fill-opacity="0.5"/>
<path d="M24.85 544.76h1v1h-1zM56.56 554.05h1v1h-1zM36.73 556.39h1v1h-1zM53.93 538.65h1v1h-1zM29.02 575.57h1v1h-1zM74.27 540.96h1v1h-1zM26.74 524.84h1v1h-1zM30.83 544.34h1v1h-1zM35.27 548.01h1v1h-1zM40.81 527.38h1v1h-1zM33.84 576.03h1v1h-1zM29.19 539.88h1v1h-1zM27.28 532.03h1v1h-1zM22.71 540.19h1v1h-1zM35.56 564.12h1v1h-1zM27.51 540.99h1v1h-1zM45.82 552.78h1v1h-1zM39.4 569.66h1v1h-1zM29.71 535.13h1v1h-1zM33.12 568.2h1v1h-1zM21.24 544.28h1v1h-1zM52.17 565.68h1v1h-1zM41.93 562.19h1v1h-1zM45.62 531.8h1v1h-1zM43.28 576.17h1v1h-1zM26.72 539.52h1v1h-1zM40.22 524.13h1v1h-1zM30.04 527.32h1v1h-1zM36.03 546.8h1v1h-1zM22.23 537.48h1v1h-1zM32.88 548.45h1v1h-1zM28.95 550.82h1v1h-1zM33.45 540.17h1v1h-1zM33.97 544.42h1v1h-1zM33.71 539.65h1v1h-1zM35.35 536.63h1v1h-1zM49.37 535.1h1v1h-1zM38.57 533.25h1v1h-1zM20.39 547.66h1v1h-1zM35.23 552.06h1v1h-1zM59.26 552.44h1v1h-1zM30.9 553.63h1v1h-1zM49.19 544.08h1v1h-1zM56.05 537.89h1v1h-1zM21.78 545.05h1v1h-1zM34.88 530h1v1h-1zM29.32 539.24h1v1h-1zM42.21 529.58h1v1h-1zM28.83 557.42h1v1h-1zM26.76 533.48h1v1h-1zM31.36 525.87h1v1h-1zM20.83 527.74h1v1h-1zM60.68 543.74h1v1h-1zM52.61 526.01h1v1h-1zM40.36 524.85h1v1h-1zM26.34 530.03h1v1h-1zM37.11 527.67h1v1h-1zM30.12 540.36h1v1h-1zM20.52 547.97h1v1h-1zM46.63 563.03h1v1h-1zM21.64 563.21h1v1h-1zM37.92 530.86h1v1h-1zM53.05 526.48h1v1h-1zM44.31 533.84h1v1h-1zM33.09 525.63h1v1h-1zM31.28 535.2h1v1h-1zM44.17 544.13h1v1h-1zM39.37 534.99h1v1h-1zM27.69 528.87h1v1h-1zM24.63 531.77h1v1h-1zM35.63 542.52h1v1h-1zM40.5 542.62h1v1h-1zM63.84 556.55h1v1h-1zM31.4 548.29h1v1h-1zM20.34 529.94h1v1h-1zM36.73 554.73h1v1h-1zM40.39 544.65h1v1h-1zM52.47 530.92h1v1h-1zM24.91 527.53h1v1h-1zM29.09 547.25h1v1h-1zM35.41 529.13h1v1h-1zM28.86 533.16h1v1h-1zM31.19 535.08h1v1h-1zM26.24 557.65h1v1h-1zM51.17 540.23h1v1h-1zM25.42 542.71h1v1h-1zM20.24 548.9h1v1h-1zM32.63 535.69h1v1h-1zM58.09 524.39h1v1h-1zM44.9 540.74h1v1h-1zM37.68 545.7h1v1h-1zM22.94 530.92h1v1h-1zM25.68 553.85h1v1h-1zM42.14 537.57h1v1h-1zM25.26 531.57h1v1h-1zM43.72 542.23h1v1h-1zM42.59 565.6h1v1h-1zM31.79 541.9h1v1h-1zM25.79 553.42h1v1h-1zM28.6 532.1h1v1h-1zM46.68 555.34h1v1h-1zM39.29 535.69h1v1h-1zM44.51 525.49h1v1h-1zM36.11 548.36h1v1h-1zM40.33 541.95h1v1h-1zM62.31 541.89h1v1h-1zM60.53 547.27h1v1h-1zM45.82 572.06h1v1h-1zM44.07 550.47h1v1h-1zM45.59 548.36h1v1h-1zM28.26 538.95h1v1h-1zM25.68 534.55h1v1h-1zM22.46 533.05h1v1h-1zM27.94 533.08h1v1h-1zM40.88 535.83h1v1h-1zM36.8 545.95h1v1h-1zM48.45 546.49h1v1h-1zM34.54 537.94h1v1h-1zM30.53 530.32h1v1h-1zM30.26 527.36h1v1h-1zM38.05 547.94h1v1h-1zM50.19 563.09h1v1h-1zM28.29 527.92h1v1h-1zM48.6 533.31h1v1h-1zM35.91 526.17h1v1h-1zM38.75 546.92h1v1h-1zM22.15 530.43h1v1h-1zM31.03 540.12h1v1h-1zM27.58 541.72h1v1h-1zM37.74 547.56h1v1h-1zM38.97 525.53h1v1h-1zM25.9 528.15h1v1h-1zM40.19 557.09h1v1h-1zM65.49 553.15h1v1h-1zM29.86 544.33h1v1h-1zM62.08 537.91h1v1h-1zM24.74 558.55h1v1h-1zM24.14 530.15h1v1h-1zM47.48 540.31h1v1h-1zM39.84 526.32h1v1h-1zM22.81 533.65h1v1h-1zM61.75 524.13h1v1h-1zM29.79 539.06h1v1h-1zM29.46 536.42h1v1h-1zM57.11 537.13h1v1h-1zM26.18 539.61h1v1h-1zM30.41 530.54h1v1h-1zM62.22 532.59h1v1h-1zM27.2 551.64h1v1h-1zM24.19 524.31h1v1h-1zM21.4 527.96h1v1h-1zM41.11 531.73h1v1h-1zM27.51 535.79h1v1h-1zM53.11 553.02h1v1h-1zM59.72 553.19h1v1h-1zM37.96 540.77h1v1h-1zM26.39 552.5h1v1h-1zM29.42 552.93h1v1h-1zM48.52 525.17h1v1h-1zM62.33 539.74h1v1h-1zM38.4 545.09h1v1h-1zM43.86 542.65h1v1h-1zM45.35 549.28h1v1h-1zM25.86 525.87h1v1h-1zM37.04 526.35h1v1h-1zM41.8 530.9h1v1h-1zM28.59 560.52h1v1h-1zM26.41 542.49h1v1h-1zM48.95 544.82h1v1h-1zM33.15 539.27h1v1h-1zM21.44 541.07h1v1h-1zM52.47 559.08h1v1h-1zM22.17 525.49h1v1h-1zM26.61 545.44h1v1h-1zM27.49 524.73h1v1h-1zM23.1 534.05h1v1h-1zM22 547.3h1v1h-1zM36.46 528.84h1v1h-1zM37.77 567.66h1v1h-1zM33.37 527.76h1v1h-1zM32.66 546.64h1v1h-1zM40.64 543.25h1v1h-1zM31.77 536.4h1v1h-1zM62.05 541.69h1v1h-1zM36.9 524.85h1v1h-1zM34.22 538.12h1v1h-1zM31.18 562.53h1v1h-1zM23.46 537.39h1v1h-1zM27.04 525.59h1v1h-1zM21.38 527.24h1v1h-1zM26.08 547.42h1v1h-1zM36.34 559.71h1v1h-1zM65.59 525.54h1v1h-1zM24.24 552.97h1v1h-1zM24.6 546.86h1v1h-1zM50.84 553.4h1v1h-1zM26.22 532.94h1v1h-1zM36.9 526.9h1v1h-1zM36.14 539.14h1v1h-1zM54.47 537.39h1v1h-1zM43.5 573.31h1v1h-1zM28 539.63h1v1h-1zM42.33 546.2h1v1h-1zM27.77 539.93h1v1h-1zM24.22 530.22h1v1h-1zM64.26 525.89h1v1h-1zM46.99 534.29h1v1h-1zM20.99 547.95h1v1h-1zM41.1 553.91h1v1h-1zM37.1 567.53h1v1h-1zM30.2 551.98h1v1h-1zM26.24 534.96h1v1h-1zM66.35 555.87h1v1h-1zM23.29 543.78h1v1h-1zM20.29 534.87h1v1h-1zM33.26 526.59h1v1h-1zM23.02 534.2h1v1h-1zM25.87 528.25h1v1h-1zM64.23 577.65h1v1h-1zM67.14 525.64h1v1h-1zM33.12 547.84h1v1h-1zM46.66 536.87h1v1h-1zM32.45 542.31h1v1h-1zM25.05 535.91h1v1h-1zM46.24 553.22h1v1h-1zM30.08 559.99h1v1h-1zM40.12 541.32h1v1h-1zM40.49 551.14h1v1h-1zM33.55 533.69h1v1h-1zM31.07 528.27h1v1h-1zM30.24 527.31h1v1h-1zM69.71 549.59h1v1h-1zM37.36 545.1h1v1h-1zM23.6 524.96h1v1h-1zM24.31 532.04h1v1h-1z" fill="#3a3aa0" fill-opacity="0.5"/>
<path d="M24.14 549.37h1v1h-1zM44.66 524.33h1v1h-1zM36.26 549.37h1v1h-1zM29.02 551.83h1v1h-1zM26.39 547.2h1v1h-1zM56.13 548.93h1v1h-1zM47.47 552.75h1v1h-1zM26.23 537.11h1v1h-1zM40.75 530.07h1v1h-1zM22.35 529.23h1v1h-1zM38.98 526.64h1v1h-1zM46.18 554h1v1h-1zM26.92 543.19h1v1h-1zM39.75 552.08h1v1h-1zM49.55 528.95h1v1h-1zM41.11 530.62h1v1h-1zM25.65 555.99h1v1h-1zM31.58 531.27h1v1h-1zM32.83 524.96h1v1h-1zM23.67 537.19h1v1h-1zM31.58 551.13h1v1h-1zM32.84 534.85h1v1h-1zM27.6 545.83h1v1h-1zM54.39 537.29h1v1h-1zM67.09 557.97h1v1h-1zM33.03 581.33h1v1h-1zM40.94 561.3h1v1h-1zM29.67 541.73h1v1h-1zM45.04 530.9h1v1h-1zM24.32 528.72h1v1h-1zM42.51 530.16h1v1h-1zM69.88 527.32h1v1h-1zM23.82 533.58h1v1h-1zM26.7 525.04h1v1h-1zM31.19 532.98h1v1h-1zM29.16 540.66h1v1h-1zM28.85 531.43h1v1h-1zM27.1 535.05h1v1h-1zM46.24 536.82h1v1h-1zM43.52 524.16h1v1h-1zM37.54 536.9h1v1h-1zM51.49 525.96h1v1h-1zM31.54 531.02h1v1h-1zM29.8 541.12h1v1h-1zM26.32 526.01h1v1h-1zM28.74 531.98h1v1h-1zM44.93 532.18h1v1h-1zM32.75 576.19h1v1h-1zM49.6 544.85h1v1h-1zM58.41 536.69h1v1h-1zM35.42 528.25h1v1h-1zM45.33 542.63h1v1h-1zM58.32 542.62h1v1h-1zM31.84 564.01h1v1h-1zM23.71 534.56h1v1h-1zM29.87 535.6h1v1h-1zM35.69 563.41h1v1h-1zM34.66 534.93h1v1h-1zM34.17 546.16h1v1h-1zM29.45 536.72h1v1h-1zM37.83 536.82h1v1h-1zM41.52 543.46h1v1h-1zM24.71 528.69h1v1h-1zM27.43 525.81h1v1h-1zM45.22 526.91h1v1h-1zM38.57 556.09h1v1h-1zM24.09 548.6h1v1h-1zM44.25 530.05h1v1h-1zM54.76 535.56h1v1h-1zM40.95 567.29h1v1h-1zM53.09 526.04h1v1h-1zM54.65 542.65h1v1h-1zM28.14 544.48h1v1h-1zM20.66 529.82h1v1h-1zM30.31 533.88h1v1h-1zM29.58 531.33h1v1h-1zM25.03 543.85h1v1h-1zM33.83 526.7h1v1h-1zM38.62 573.96h1v1h-1zM22.42 535.86h1v1h-1zM28.86 536.96h1v1h-1zM29.09 525.61h1v1h-1zM27.1 574.43h1v1h-1zM28.63 553.81h1v1h-1zM24.45 539.05h1v1h-1zM44.22 547.83h1v1h-1zM29.62 538.97h1v1h-1zM62.57 524.2h1v1h-1zM27.81 555.15h1v1h-1zM36.33 555.31h1v1h-1zM32.09 529.08h1v1h-1zM22.28 550.43h1v1h-1zM22.03 553.35h1v1h-1zM30.83 549.47h1v1h-1zM23.72 526.94h1v1h-1zM45.76 540.16h1v1h-1zM35.52 546.6h1v1h-1zM28.25 536.82h1v1h-1zM25.83 547.89h1v1h-1zM27.46 557.83h1v1h-1zM47.96 528.4h1v1h-1zM24.51 543.73h1v1h-1zM31.69 559.83h1v1h-1zM31.2 533.32h1v1h-1zM25.52 541.02h1v1h-1zM22.84 581.61h1v1h-1zM32.17 547.59h1v1h-1zM27.63 539.11h1v1h-1zM23.69 554.09h1v1h-1zM48.25 543.47h1v1h-1zM29.71 524.77h1v1h-1zM43.33 528.91h1v1h-1zM54.04 531.95h1v1h-1zM25.21 543.65h1v1h-1zM49.17 533.06h1v1h-1zM66.53 556.23h1v1h-1zM34.49 543.72h1v1h-1zM22.88 532.64h1v1h-1zM27.51 527.06h1v1h-1zM33.19 541.68h1v1h-1zM34.05 528.4h1v1h-1zM39.77 548.87h1v1h-1zM25.48 526.04h1v1h-1zM47.92 540.13h1v1h-1zM30.14 539.52h1v1h-1zM29.1 556.25h1v1h-1zM44.66 524.86h1v1h-1zM24.06 530.39h1v1h-1zM24.23 544.34h1v1h-1zM58.42 565.82h1v1h-1zM59.23 528.99h1v1h-1zM62.65 552.24h1v1h-1zM49.93 545.88h1v1h-1zM24.04 533.49h1v1h-1zM24.91 528.59h1v1h-1zM64.44 536.67h1v1h-1zM46.52 528.59h1v1h-1zM36.59 541.91h1v1h-1zM24.46 534.74h1v1h-1zM48.38 526.6h1v1h-1zM55.74 569.51h1v1h-1zM56.03 543.7h1v1h-1zM35.96 533.35h1v1h-1zM50.44 527.09h1v1h-1zM56.69 547.03h1v1h-1zM61.92 536.14h1v1h-1zM43.23 543.65h1v1h-1zM71.5 526.28h1v1h-1zM50.48 578.36h1v1h-1zM20.66 535.25h1v1h-1zM63.85 527.9h1v1h-1zM47.99 527.99h1v1h-1zM27.74 552.94h1v1h-1zM39.73 551.23h1v1h-1zM43.49 526.23h1v1h-1zM54.34 536.43h1v1h-1zM23.59 562.32h1v1h-1zM49.5 562.26h1v1h-1zM29.33 534.94h1v1h-1zM69.1 539.76h1v1h-1zM50.03 557.23h1v1h-1zM63.1 541.54h1v1h-1zM29.19 537.65h1v1h-1zM24.53 544.37h1v1h-1zM41.93 542.05h1v1h-1zM48.84 552.42h1v1h-1zM21.12 529.1h1v1h-1zM39.53 527.19h1v1h-1zM30.12 571.11h1v1h-1zM33.68 550.92h1v1h-1zM21.49 560.11h1v1h-1zM27.69 536.94h1v1h-1zM20.56 534.72h1v1h-1zM20.99 535.67h1v1h-1zM33.01 528.86h1v1h-1zM46.3 579.07h1v1h-1zM32.38 537.17h1v1h-1zM39.42 531.16h1v1h-1zM30.92 525.5h1v1h-1zM23.58 526.39h1v1h-1zM60.88 545.98h1v1h-1zM65.56 563.81h1v1h-1zM39.3 551.94h1v1h-1zM56.4 540.7h1v1h-1zM25.19 532.75h1v1h-1zM55.17 556.61h1v1h-1zM25.61 549.66h1v1h-1zM34.52 527.4h1v1h-1zM29.73 540.09h1v1h-1zM22.78 540.57h1v1h-1zM49.05 530.96h1v1h-1zM26.67 553.22h1v1h-1zM41.48 565.81h1v1h-1zM28.89 560.06h1v1h-1zM54.34 546.45h1v1h-1zM61.13 530.88h1v1h-1zM40.99 526.78h1v1h-1zM32.4 529.89h1v1h-1zM36.68 542.01h1v1h-1zM24.95 546.12h1v1h-1zM43.39 547.92h1v1h-1zM21.5 529.46h1v1h-1zM41.9 526.93h1v1h-1zM20.7 549.56h1v1h-1zM32.03 571.74h1v1h-1zM22.64 563.99h1v1h-1zM56.02 544.26h1v1h-1zM37.32 559.94h1v1h-1zM25.99 525.61h1v1h-1zM31.08 553.25h1v1h-1zM35.37 524.73h1v1h-1zM30.8 562.03h1v1h-1zM20.92 538.07h1v1h-1zM36.73 547.17h1v1h-1zM27.53 541.33h1v1h-1zM25.08 528.98h1v1h-1zM22.85 539.14h1v1h-1zM32.23 539.14h1v1h-1zM27.21 530.53h1v1h-1zM21.05 560.37h1v1h-1zM25.56 561.19h1v1h-1zM53.29 556.16h1v1h-1zM32.16 531.87h1v1h-1zM29.29 525.12h1v1h-1zM36.15 531.68h1v1h-1z" fill="#30309a" fill-opacity="0.5"/>
<path d="M41.01 527.59h1v1h-1zM37.38 542.71h1v1h-1zM24.49 536.3h1v1h-1zM60.48 527.3h1v1h-1zM26.14 545.46h1v1h-1zM34.12 544.26h1v1h-1zM46.23 564.61h1v1h-1zM29.3 559.03h1v1h-1zM38.14 543.25h1v1h-1zM60.09 529.71h1v1h-1zM27.2 538.92h1v1h-1zM37.76 534.13h1v1h-1zM36.76 555.32h1v1h-1zM41.41 533.44h1v1h-1zM54.13 536.97h1v1h-1zM38.28 525.62h1v1h-1zM29.97 571.25h1v1h-1zM22.87 531.89h1v1h-1zM69.78 545.76h1v1h-1zM37.58 531.03h1v1h-1zM25.31 530.45h1v1h-1zM21.3 524.53h1v1h-1zM29.91 539.83h1v1h-1zM32.56 562.9h1v1h-1zM43.96 547.6h1v1h-1zM49.96 575.8h1v1h-1zM24.45 529.65h1v1h-1zM23.54 548.76h1v1h-1zM50.44 554.32h1v1h-1zM69.11 534.34h1v1h-1zM21.16 553.02h1v1h-1zM25.97 541.43h1v1h-1zM20.85 526.25h1v1h-1zM36.09 543.33h1v1h-1zM39.41 525.46h1v1h-1zM30.46 549.8h1v1h-1zM41.45 562.24h1v1h-1zM24.81 541.41h1v1h-1zM44.53 532.73h1v1h-1zM25.27 552.45h1v1h-1zM39.39 530.05h1v1h-1zM26.99 530.89h1v1h-1zM62.36 528.27h1v1h-1zM48.68 535.55h1v1h-1zM33.13 531.18h1v1h-1zM24.31 563.88h1v1h-1zM41.1 529.89h1v1h-1zM27.22 539.93h1v1h-1zM38.74 546.71h1v1h-1zM48.06 533.32h1v1h-1zM69.13 546.93h1v1h-1zM64.66 544.17h1v1h-1zM30.39 543.57h1v1h-1zM34.44 527.17h1v1h-1zM72.05 546.71h1v1h-1zM48.29 545.32h1v1h-1zM23.5 524.9h1v1h-1zM41.27 528.69h1v1h-1zM27.27 535.13h1v1h-1zM29.69 555.05h1v1h-1zM33.65 531.77h1v1h-1zM23.33 539.14h1v1h-1zM40.18 530.6h1v1h-1zM25.42 538.51h1v1h-1zM82.58 528.44h1v1h-1zM51.46 547.91h1v1h-1zM56.86 540.13h1v1h-1zM33.53 529.05h1v1h-1zM23.47 559.78h1v1h-1zM25.19 557.84h1v1h-1zM51.65 530.44h1v1h-1zM29.31 543.47h1v1h-1zM26.32 533.45h1v1h-1zM21.94 536.44h1v1h-1zM30.1 526.17h1v1h-1zM44.16 526.33h1v1h-1zM33.67 539.08h1v1h-1zM36.89 559.36h1v1h-1zM41.2 546.7h1v1h-1zM23.87 551.52h1v1h-1zM28.8 551.39h1v1h-1zM26.74 542.69h1v1h-1zM36.47 551.45h1v1h-1zM60.18 534.39h1v1h-1zM27.31 536.85h1v1h-1zM22.42 540.28h1v1h-1zM41.88 559.63h1v1h-1zM27.32 531.1h1v1h-1zM32.8 527.76h1v1h-1zM37.25 528.05h1v1h-1zM24.81 549.68h1v1h-1zM28.81 562.24h1v1h-1zM24.8 532.81h1v1h-1zM23.73 538.85h1v1h-1zM39.48 531.49h1v1h-1zM40.56 527.55h1v1h-1zM42.5 531.08h1v1h-1zM22.51 531.63h1v1h-1zM33.26 553.45h1v1h-1zM27.13 556.01h1v1h-1zM23.99 538.63h1v1h-1zM27.71 545.39h1v1h-1zM28.95 524.03h1v1h-1zM32.72 572.75h1v1h-1zM26.42 553.32h1v1h-1zM48.61 543.54h1v1h-1zM50.96 561.19h1v1h-1zM33.35 543.17h1v1h-1zM29.02 539.77h1v1h-1zM43.98 573.94h1v1h-1zM44.33 554.03h1v1h-1zM59.79 531.3h1v1h-1zM40.95 535.14h1v1h-1zM39.31 524.13h1v1h-1zM28.3 529.21h1v1h-1zM69.2 557.11h1v1h-1zM21.23 550.9h1v1h-1zM40.3 564.12h1v1h-1zM27.37 538.52h1v1h-1zM64.07 525.45h1v1h-1zM51.74 530.3h1v1h-1zM31.42 533.17h1v1h-1zM42.14 526.36h1v1h-1zM23.93 538.85h1v1h-1zM32.91 537.8h1v1h-1zM27.87 524.94h1v1h-1zM24.88 540.2h1v1h-1zM37.02 562.64h1v1h-1zM33.29 545.58h1v1h-1zM33.9 556.67h1v1h-1zM30.46 529.89h1v1h-1zM29.87 534.59h1v1h-1zM42.88 546.68h1v1h-1zM21.82 530.32h1v1h-1zM48.46 527.93h1v1h-1zM60.52 570.79h1v1h-1zM33.99 531.16h1v1h-1zM21.57 548.62h1v1h-1zM23.45 581.09h1v1h-1zM38.06 545.82h1v1h-1zM25.9 534.52h1v1h-1zM25.54 536.87h1v1h-1zM55.27 541.67h1v1h-1zM60.62 556.76h1v1h-1zM23.69 533.78h1v1h-1zM36.56 532.29h1v1h-1zM23.04 551.38h1v1h-1zM40.73 552.43h1v1h-1zM34.02 551.01h1v1h-1zM27.43 544.56h1v1h-1zM50.94 526.51h1v1h-1zM45.69 545.29h1v1h-1zM25.91 539.48h1v1h-1zM64.38 542.34h1v1h-1zM48 538.77h1v1h-1zM51.57 558.86h1v1h-1zM29.87 545.12h1v1h-1zM66.56 551.03h1v1h-1zM38.85 567.03h1v1h-1zM20.73 535.95h1v1h-1zM50.86 540.73h1v1h-1zM40.86 554.63h1v1h-1zM24.6 543.64h1v1h-1zM36.05 528.48h1v1h-1zM38.5 552.63h1v1h-1zM46.93 579.73h1v1h-1zM22.09 559.05h1v1h-1zM41.64 535.85h1v1h-1zM29.73 530.37h1v1h-1zM47.17 569.1h1v1h-1zM55.6 529.84h1v1h-1zM28.32 559.1h1v1h-1zM49.86 534.57h1v1h-1zM46.24 532.5h1v1h-1zM53.7 529.12h1v1h-1zM43.91 539.44h1v1h-1zM30.41 530.84h1v1h-1zM25.59 532.19h1v1h-1zM30.39 534.56h1v1h-1zM39.96 563.26h1v1h-1zM60.54 540.97h1v1h-1zM40.15 532.77h1v1h-1zM40.29 546.7h1v1h-1zM25.94 526.88h1v1h-1zM46.54 562.17h1v1h-1zM45.67 528.94h1v1h-1zM21.9 545.48h1v1h-1zM25.92 546.22h1v1h-1zM28.52 566.04h1v1h-1zM81.42 553.24h1v1h-1zM35.02 549.8h1v1h-1zM65.33 539.85h1v1h-1zM47.72 530.43h1v1h-1zM38.35 550.99h1v1h-1zM29.63 529.34h1v1h-1zM59.79 529.25h1v1h-1zM48.17 543.84h1v1h-1zM34.85 533.99h1v1h-1zM35.37 539.13h1v1h-1zM61.95 536.04h1v1h-1zM40.26 545.46h1v1h-1zM21.75 564.3h1v1h-1zM20.59 549.76h1v1h-1zM50.16 535.71h1v1h-1zM25.47 528.53h1v1h-1zM32.64 541.88h1v1h-1zM26.3 558.78h1v1h-1zM32.54 542.78h1v1h-1zM27.87 555.45h1v1h-1zM68.86 545.04h1v1h-1zM21.6 527.65h1v1h-1zM40.11 547.18h1v1h-1zM68.18 546h1v1h-1zM51.16 525.38h1v1h-1zM33.56 541.24h1v1h-1zM32.5 530.54h1v1h-1zM42.42 532.57h1v1h-1zM28.06 528.23h1v1h-1zM22.38 560.56h1v1h-1zM64.26 531.25h1v1h-1zM27.51 566h1v1h-1zM22.3 527.91h1v1h-1zM27.28 545h1v1h-1zM39.31 547.93h1v1h-1zM44.53 534.81h1v1h-1zM24.26 574.57h1v1h-1zM23.07 554.04h1v1h-1zM50.01 564.81h1v1h-1zM22.38 532.08h1v1h-1zM46.41 552.24h1v1h-1zM38.48 555.47h1v1h-1zM29.49 544.2h1v1h-1zM33.58 531.32h1v1h-1zM26.21 545.45h1v1h-1zM32.91 554.99h1v1h-1zM68.59 549.86h1v1h-1z" fill="#4a4ab0" fill-opacity="0.5"/>
<path d="M63.42 533.52h1v1h-1zM77.16 535.45h1v1h-1zM68.54 511.78h1v1h-1zM70.61 524.28h1v1h-1zM70.6 522.1h1v1h-1zM69.11 522.41h1v1h-1zM65.65 527.86h1v1h-1zM72.15 537.06h1v1h-1zM65.03 528.65h1v1h-1zM60.49 527.69h1v1h-1zM61.07 540.35h1v1h-1zM68.57 541.64h1v1h-1zM69.39 541.81h1v1h-1zM69.51 515.51h1v1h-1zM63.74 510.35h1v1h-1zM70.94 519.02h1v1h-1zM73.82 524.24h1v1h-1zM65.32 552.94h1v1h-1zM68.48 523.98h1v1h-1zM61.06 532.21h1v1h-1zM67.08 536.54h1v1h-1zM61.69 527.52h1v1h-1zM56.04 538h1v1h-1zM63.97 521.18h1v1h-1zM69.32 533.19h1v1h-1zM70.34 524.04h1v1h-1zM61.41 537.64h1v1h-1z" fill="#7070c4" fill-opacity="0.6"/>
<path d="M65.57 537.96h1v1h-1zM68.93 520.06h1v1h-1zM63.97 522.31h1v1h-1zM56.22 530.59h1v1h-1zM67.78 526.06h1v1h-1zM74.09 542.3h1v1h-1zM66.68 553.7h1v1h-1zM55.17 534.76h1v1h-1zM61.48 527.57h1v1h-1zM75.83 516.64h1v1h-1zM66.57 532.14h1v1h-1zM67.62 512.14h1v1h-1zM67.54 538.09h1v1h-1zM71.6 507.17h1v1h-1zM63.92 515.42h1v1h-1zM64.1 519.34h1v1h-1zM70.97 530.64h1v1h-1zM67.24 518.41h1v1h-1zM70.07 530.54h1v1h-1zM63.19 508.86h1v1h-1zM69.55 517.09h1v1h-1zM62.71 518.35h1v1h-1zM66.63 522.7h1v1h-1zM76.19 546.09h1v1h-1zM60.31 519.69h1v1h-1zM65.63 530.12h1v1h-1zM64.93 556.68h1v1h-1zM64.13 537.16h1v1h-1zM63.7 531.26h1v1h-1zM74.9 525.01h1v1h-1zM66.36 542.79h1v1h-1zM69.87 534.84h1v1h-1zM75.56 536.35h1v1h-1zM64.54 542.14h1v1h-1zM64.65 551.49h1v1h-1zM61.18 533h1v1h-1zM67.42 515.38h1v1h-1zM65.56 528.91h1v1h-1zM70.72 520.9h1v1h-1zM69.92 512.28h1v1h-1zM59.32 536.8h1v1h-1zM55.54 542.18h1v1h-1zM72.15 514.73h1v1h-1zM61.16 536.51h1v1h-1zM71.68 513.95h1v1h-1zM65.01 531.88h1v1h-1zM73.88 514.42h1v1h-1zM69.18 535.16h1v1h-1zM63.84 518.82h1v1h-1zM61.61 530.7h1v1h-1zM63.84 519.05h1v1h-1zM59.12 531.05h1v1h-1zM68.29 538.76h1v1h-1zM76.49 527.99h1v1h-1zM62.14 534.56h1v1h-1zM60.45 519.2h1v1h-1zM68.2 527.33h1v1h-1zM60.89 536.98h1v1h-1zM63.31 540.54h1v1h-1zM68.87 553.91h1v1h-1z" fill="#30309a" fill-opacity="0.6"/>
<path d="M67.58 526.59h1v1h-1zM52.65 516.04h1v1h-1zM77.75 531.62h1v1h-1zM71.29 544.24h1v1h-1zM62.72 529.57h1v1h-1zM61.56 533.47h1v1h-1zM76.16 537.51h1v1h-1zM70.45 519.54h1v1h-1zM71.03 540.16h1v1h-1zM63.16 525.42h1v1h-1zM69.12 533.23h1v1h-1zM59.49 510.73h1v1h-1zM59.77 508.19h1v1h-1zM58.98 538.22h1v1h-1zM69.51 550.16h1v1h-1zM68.87 507.87h1v1h-1zM77.09 532.95h1v1h-1zM71.78 539.46h1v1h-1zM65.58 528.72h1v1h-1zM63.76 541.92h1v1h-1zM65.56 533h1v1h-1zM57.99 534.46h1v1h-1zM75.16 513.09h1v1h-1zM66.49 527.29h1v1h-1zM66.03 530.31h1v1h-1zM76.29 524.7h1v1h-1zM76.85 539.79h1v1h-1zM71.14 527.53h1v1h-1zM61 528.16h1v1h-1zM60.82 529.83h1v1h-1zM69.4 540.97h1v1h-1zM59.15 536.84h1v1h-1zM61.63 521.8h1v1h-1zM71.74 527.67h1v1h-1zM61.82 540.5h1v1h-1zM60.35 518.84h1v1h-1zM71.68 545.13h1v1h-1zM65.56 527.49h1v1h-1zM59.81 535.72h1v1h-1zM64.81 525.99h1v1h-1zM59.74 521.51h1v1h-1zM71.77 524.52h1v1h-1z" fill="#6464bc" fill-opacity="0.6"/>
<path d="M64.63 524.73h1v1h-1zM67.69 546.13h1v1h-1zM63.41 533.98h1v1h-1zM80.1 522.74h1v1h-1zM71.13 525.8h1v1h-1zM64.05 532.38h1v1h-1zM66.37 536.65h1v1h-1zM59.9 542.67h1v1h-1zM72.25 549.08h1v1h-1zM69.93 529.21h1v1h-1zM62.55 527.17h1v1h-1zM66.6 532.06h1v1h-1zM66.61 528.84h1v1h-1zM64.78 536.02h1v1h-1zM64.7 526.79h1v1h-1zM62.9 514.23h1v1h-1zM64.6 525.61h1v1h-1zM60.35 533.68h1v1h-1zM59.32 553.24h1v1h-1zM69.06 528.9h1v1h-1zM67.61 525.08h1v1h-1zM73.58 523.83h1v1h-1zM56.11 542.45h1v1h-1zM60.11 529.49h1v1h-1zM56.69 522.01h1v1h-1zM67.22 533.61h1v1h-1zM74.29 536.97h1v1h-1zM62.48 521.2h1v1h-1zM60.6 531.11h1v1h-1zM65.01 514.08h1v1h-1zM62.53 525.04h1v1h-1zM65.09 516.28h1v1h-1zM60.19 519.3h1v1h-1zM61.94 544.01h1v1h-1zM67.82 534.42h1v1h-1zM64.77 541.7h1v1h-1zM61.87 531.74h1v1h-1zM66.06 531.36h1v1h-1zM65.61 548.43h1v1h-1zM69.51 521.65h1v1h-1zM64.74 523.44h1v1h-1zM75.66 530.64h1v1h-1zM69.06 526.06h1v1h-1zM65.56 521.66h1v1h-1zM61.07 524.28h1v1h-1zM64.12 530.95h1v1h-1zM62.85 515.25h1v1h-1zM68.13 529.61h1v1h-1zM64.61 531.42h1v1h-1zM61.61 542.44h1v1h-1zM69.06 539.29h1v1h-1zM65.94 510.67h1v1h-1z" fill="#5a5ab8" fill-opacity="0.6"/>
<path d="M59.68 538.33h1v1h-1zM63.66 524.07h1v1h-1zM67.46 543.32h1v1h-1zM71.83 534.34h1v1h-1zM59.76 533.37h1v1h-1zM73.93 524.23h1v1h-1zM68.61 520.82h1v1h-1zM61.72 522.11h1v1h-1zM63.85 531.24h1v1h-1zM59.9 513.11h1v1h-1zM67.38 526.25h1v1h-1zM66.91 527.47h1v1h-1zM68.64 533.89h1v1h-1zM60.9 523.35h1v1h-1zM64.68 534.25h1v1h-1zM56.04 530.72h1v1h-1zM67.38 517.86h1v1h-1zM69.98 523.79h1v1h-1zM69.23 519.96h1v1h-1zM65.91 536.74h1v1h-1zM67.93 515.85h1v1h-1zM72.88 527.14h1v1h-1zM62.75 538.56h1v1h-1zM63.77 536.22h1v1h-1zM64.83 535.95h1v1h-1zM52.71 529.39h1v1h-1zM69.74 522.11h1v1h-1zM68.52 535.01h1v1h-1zM61.12 525.81h1v1h-1z" fill="#3a3aa0" fill-opacity="0.6"/>
<path d="M67.16 526.93h1v1h-1zM76.22 523.2h1v1h-1zM67.68 521.64h1v1h-1zM72.34 535.6h1v1h-1zM67.35 535.06h1v1h-1zM63.47 542h1v1h-1zM79.21 524.82h1v1h-1zM55.21 529.4h1v1h-1zM64.81 523.25h1v1h-1zM65.12 525.21h1v1h-1zM68.83 521.73h1v1h-1zM59.82 529.71h1v1h-1zM58.69 516.16h1v1h-1zM65.3 539.6h1v1h-1zM67.37 521.52h1v1h-1zM65.98 521.83h1v1h-1zM54.66 526.38h1v1h-1zM57.51 529.41h1v1h-1zM60.78 538.94h1v1h-1zM69.83 517.84h1v1h-1zM61.08 528.39h1v1h-1zM65.75 521.67h1v1h-1zM68.55 526.5h1v1h-1zM52.3 528.21h1v1h-1zM79.44 536.98h1v1h-1zM64.41 519.86h1v1h-1zM65.25 546.07h1v1h-1zM58.92 543.9h1v1h-1zM63.8 521.7h1v1h-1zM64.45 524.42h1v1h-1zM70.03 530.51h1v1h-1zM62.48 526.79h1v1h-1zM66.35 539.82h1v1h-1zM66.4 509.99h1v1h-1zM69.48 515.6h1v1h-1zM61.27 523.29h1v1h-1zM66.67 519.37h1v1h-1zM64.8 529.57h1v1h-1zM70.47 517.69h1v1h-1zM59.46 532.9h1v1h-1zM72.15 522.85h1v1h-1zM70.71 534h1v1h-1zM71.41 532.91h1v1h-1zM56.12 536.21h1v1h-1zM73.98 517.42h1v1h-1zM64.32 532.38h1v1h-1zM61.17 524.9h1v1h-1zM71.21 527.74h1v1h-1zM69.61 538.69h1v1h-1zM72.33 526.13h1v1h-1z" fill="#4a4ab0" fill-opacity="0.6"/>
<ellipse cx="44" cy="509.5" rx="20" ry="4.8" fill="#4a90c0" fill-opacity="0.35" filter="url(#b2)"/>
<ellipse cx="53.5" cy="508.8" rx="14" ry="3.8" fill="#78c0b0" fill-opacity="0.7" filter="url(#b1)"/>
<ellipse cx="56" cy="508.7" rx="10" ry="3" fill="#a8c850" fill-opacity="0.85" filter="url(#b1)"/>
</g>
<rect x="21.2" y="487.6" width="98.3" height="96.4" fill="none" stroke="#111" stroke-width="1.2"/>
<line x1="18.6" y1="584" x2="21.2" y2="584" stroke="#1e1e1e" stroke-width="0.7"/>
<line x1="21.2" y1="584" x2="21.2" y2="586.6" stroke="#1e1e1e" stroke-width="0.7"/>
<line x1="19.8" y1="577.69" x2="21.2" y2="577.69" stroke="#1e1e1e" stroke-width="0.7"/>
<line x1="27.63" y1="584" x2="27.63" y2="585.4" stroke="#1e1e1e" stroke-width="0.7"/>
<line x1="19.8" y1="574" x2="21.2" y2="574" stroke="#1e1e1e" stroke-width="0.7"/>
<line x1="31.4" y1="584" x2="31.4" y2="585.4" stroke="#1e1e1e" stroke-width="0.7"/>
<line x1="19.8" y1="571.38" x2="21.2" y2="571.38" stroke="#1e1e1e" stroke-width="0.7"/>
<line x1="34.07" y1="584" x2="34.07" y2="585.4" stroke="#1e1e1e" stroke-width="0.7"/>
<line x1="19.8" y1="569.35" x2="21.2" y2="569.35" stroke="#1e1e1e" stroke-width="0.7"/>
<line x1="36.14" y1="584" x2="36.14" y2="585.4" stroke="#1e1e1e" stroke-width="0.7"/>
<line x1="19.8" y1="567.69" x2="21.2" y2="567.69" stroke="#1e1e1e" stroke-width="0.7"/>
<line x1="37.83" y1="584" x2="37.83" y2="585.4" stroke="#1e1e1e" stroke-width="0.7"/>
<line x1="19.8" y1="566.29" x2="21.2" y2="566.29" stroke="#1e1e1e" stroke-width="0.7"/>
<line x1="39.26" y1="584" x2="39.26" y2="585.4" stroke="#1e1e1e" stroke-width="0.7"/>
<line x1="19.8" y1="565.07" x2="21.2" y2="565.07" stroke="#1e1e1e" stroke-width="0.7"/>
<line x1="40.5" y1="584" x2="40.5" y2="585.4" stroke="#1e1e1e" stroke-width="0.7"/>
<line x1="19.8" y1="564" x2="21.2" y2="564" stroke="#1e1e1e" stroke-width="0.7"/>
<line x1="41.59" y1="584" x2="41.59" y2="585.4" stroke="#1e1e1e" stroke-width="0.7"/>
<line x1="18.6" y1="563.04" x2="21.2" y2="563.04" stroke="#1e1e1e" stroke-width="0.7"/>
<line x1="42.57" y1="584" x2="42.57" y2="586.6" stroke="#1e1e1e" stroke-width="0.7"/>
<line x1="19.8" y1="556.73" x2="21.2" y2="556.73" stroke="#1e1e1e" stroke-width="0.7"/>
<line x1="49" y1="584" x2="49" y2="585.4" stroke="#1e1e1e" stroke-width="0.7"/>
<line x1="19.8" y1="553.04" x2="21.2" y2="553.04" stroke="#1e1e1e" stroke-width="0.7"/>
<line x1="52.77" y1="584" x2="52.77" y2="585.4" stroke="#1e1e1e" stroke-width="0.7"/>
<line x1="19.8" y1="550.43" x2="21.2" y2="550.43" stroke="#1e1e1e" stroke-width="0.7"/>
<line x1="55.44" y1="584" x2="55.44" y2="585.4" stroke="#1e1e1e" stroke-width="0.7"/>
<line x1="19.8" y1="548.4" x2="21.2" y2="548.4" stroke="#1e1e1e" stroke-width="0.7"/>
<line x1="57.51" y1="584" x2="57.51" y2="585.4" stroke="#1e1e1e" stroke-width="0.7"/>
<line x1="19.8" y1="546.74" x2="21.2" y2="546.74" stroke="#1e1e1e" stroke-width="0.7"/>
<line x1="59.2" y1="584" x2="59.2" y2="585.4" stroke="#1e1e1e" stroke-width="0.7"/>
<line x1="19.8" y1="545.33" x2="21.2" y2="545.33" stroke="#1e1e1e" stroke-width="0.7"/>
<line x1="60.63" y1="584" x2="60.63" y2="585.4" stroke="#1e1e1e" stroke-width="0.7"/>
<line x1="19.8" y1="544.12" x2="21.2" y2="544.12" stroke="#1e1e1e" stroke-width="0.7"/>
<line x1="61.87" y1="584" x2="61.87" y2="585.4" stroke="#1e1e1e" stroke-width="0.7"/>
<line x1="19.8" y1="543.05" x2="21.2" y2="543.05" stroke="#1e1e1e" stroke-width="0.7"/>
<line x1="62.96" y1="584" x2="62.96" y2="585.4" stroke="#1e1e1e" stroke-width="0.7"/>
<line x1="18.6" y1="542.09" x2="21.2" y2="542.09" stroke="#1e1e1e" stroke-width="0.7"/>
<line x1="63.94" y1="584" x2="63.94" y2="586.6" stroke="#1e1e1e" stroke-width="0.7"/>
<line x1="19.8" y1="535.78" x2="21.2" y2="535.78" stroke="#1e1e1e" stroke-width="0.7"/>
<line x1="70.37" y1="584" x2="70.37" y2="585.4" stroke="#1e1e1e" stroke-width="0.7"/>
<line x1="19.8" y1="532.09" x2="21.2" y2="532.09" stroke="#1e1e1e" stroke-width="0.7"/>
<line x1="74.14" y1="584" x2="74.14" y2="585.4" stroke="#1e1e1e" stroke-width="0.7"/>
<line x1="19.8" y1="529.47" x2="21.2" y2="529.47" stroke="#1e1e1e" stroke-width="0.7"/>
<line x1="76.8" y1="584" x2="76.8" y2="585.4" stroke="#1e1e1e" stroke-width="0.7"/>
<line x1="19.8" y1="527.44" x2="21.2" y2="527.44" stroke="#1e1e1e" stroke-width="0.7"/>
<line x1="78.88" y1="584" x2="78.88" y2="585.4" stroke="#1e1e1e" stroke-width="0.7"/>
<line x1="19.8" y1="525.78" x2="21.2" y2="525.78" stroke="#1e1e1e" stroke-width="0.7"/>
<line x1="80.57" y1="584" x2="80.57" y2="585.4" stroke="#1e1e1e" stroke-width="0.7"/>
<line x1="19.8" y1="524.38" x2="21.2" y2="524.38" stroke="#1e1e1e" stroke-width="0.7"/>
<line x1="82" y1="584" x2="82" y2="585.4" stroke="#1e1e1e" stroke-width="0.7"/>
<line x1="19.8" y1="523.16" x2="21.2" y2="523.16" stroke="#1e1e1e" stroke-width="0.7"/>
<line x1="83.24" y1="584" x2="83.24" y2="585.4" stroke="#1e1e1e" stroke-width="0.7"/>
<line x1="19.8" y1="522.09" x2="21.2" y2="522.09" stroke="#1e1e1e" stroke-width="0.7"/>
<line x1="84.33" y1="584" x2="84.33" y2="585.4" stroke="#1e1e1e" stroke-width="0.7"/>
<line x1="18.6" y1="521.13" x2="21.2" y2="521.13" stroke="#1e1e1e" stroke-width="0.7"/>
<line x1="85.31" y1="584" x2="85.31" y2="586.6" stroke="#1e1e1e" stroke-width="0.7"/>
<line x1="19.8" y1="514.82" x2="21.2" y2="514.82" stroke="#1e1e1e" stroke-width="0.7"/>
<line x1="91.74" y1="584" x2="91.74" y2="585.4" stroke="#1e1e1e" stroke-width="0.7"/>
<line x1="19.8" y1="511.13" x2="21.2" y2="511.13" stroke="#1e1e1e" stroke-width="0.7"/>
<line x1="95.5" y1="584" x2="95.5" y2="585.4" stroke="#1e1e1e" stroke-width="0.7"/>
<line x1="19.8" y1="508.51" x2="21.2" y2="508.51" stroke="#1e1e1e" stroke-width="0.7"/>
<line x1="98.17" y1="584" x2="98.17" y2="585.4" stroke="#1e1e1e" stroke-width="0.7"/>
<line x1="19.8" y1="506.48" x2="21.2" y2="506.48" stroke="#1e1e1e" stroke-width="0.7"/>
<line x1="100.25" y1="584" x2="100.25" y2="585.4" stroke="#1e1e1e" stroke-width="0.7"/>
<line x1="19.8" y1="504.82" x2="21.2" y2="504.82" stroke="#1e1e1e" stroke-width="0.7"/>
<line x1="101.94" y1="584" x2="101.94" y2="585.4" stroke="#1e1e1e" stroke-width="0.7"/>
<line x1="19.8" y1="503.42" x2="21.2" y2="503.42" stroke="#1e1e1e" stroke-width="0.7"/>
<line x1="103.37" y1="584" x2="103.37" y2="585.4" stroke="#1e1e1e" stroke-width="0.7"/>
<line x1="19.8" y1="502.2" x2="21.2" y2="502.2" stroke="#1e1e1e" stroke-width="0.7"/>
<line x1="104.61" y1="584" x2="104.61" y2="585.4" stroke="#1e1e1e" stroke-width="0.7"/>
<line x1="19.8" y1="501.13" x2="21.2" y2="501.13" stroke="#1e1e1e" stroke-width="0.7"/>
<line x1="105.7" y1="584" x2="105.7" y2="585.4" stroke="#1e1e1e" stroke-width="0.7"/>
<line x1="18.6" y1="500.17" x2="21.2" y2="500.17" stroke="#1e1e1e" stroke-width="0.7"/>
<line x1="106.68" y1="584" x2="106.68" y2="586.6" stroke="#1e1e1e" stroke-width="0.7"/>
<line x1="19.8" y1="493.87" x2="21.2" y2="493.87" stroke="#1e1e1e" stroke-width="0.7"/>
<line x1="113.11" y1="584" x2="113.11" y2="585.4" stroke="#1e1e1e" stroke-width="0.7"/>
<line x1="19.8" y1="490.18" x2="21.2" y2="490.18" stroke="#1e1e1e" stroke-width="0.7"/>
<line x1="116.87" y1="584" x2="116.87" y2="585.4" stroke="#1e1e1e" stroke-width="0.7"/>
<clipPath id="fc2"><rect x="142.7" y="486" width="98.4" height="97.5"/></clipPath>
<g clip-path="url(#fc2)">
<path d="M135,503.5 L165,502.5 L184,502.8 L190,505 L193,508 L192,513 L188,519 L182,525 L172,528 L155,530 L135,531 Z" fill="#2d3590" fill-opacity="0.55" filter="url(#b2)"/>
<path d="M216.06 578.12h1v1h-1zM178.95 490.35h1v1h-1zM220.52 535.33h1v1h-1zM203.89 507.53h1v1h-1zM158.45 498.86h1v1h-1zM165.17 544.05h1v1h-1zM163.42 498.18h1v1h-1zM218.09 508.52h1v1h-1zM150.9 503.67h1v1h-1z" fill="#3a3aa0" fill-opacity="0.55"/>
<path d="M144.35 517.14h1v1h-1zM217.96 539.17h1v1h-1zM202.17 520.88h1v1h-1zM179.81 506.68h1v1h-1zM178.13 520.56h1v1h-1zM201.91 539.85h1v1h-1z" fill="#6464bc" fill-opacity="0.55"/>
<path d="M184.88 500.38h1v1h-1zM193.75 505.29h1v1h-1zM213.67 531.2h1v1h-1zM198.86 566.71h1v1h-1zM189.82 577.82h1v1h-1zM175.88 490.22h1v1h-1z" fill="#4a4ab0" fill-opacity="0.55"/>
<path d="M164.12 489.34h1v1h-1zM189.54 550.5h1v1h-1zM160.07 557.85h1v1h-1zM203.02 523.02h1v1h-1zM165.22 580.59h1v1h-1zM185.15 551.97h1v1h-1zM176.67 541.96h1v1h-1z" fill="#30309a" fill-opacity="0.55"/>
<path d="M183.5 557.75h1v1h-1zM172.2 515.41h1v1h-1zM181.76 491.51h1v1h-1zM185.95 565.22h1v1h-1z" fill="#5a5ab8" fill-opacity="0.55"/>
<path d="M149.77 533.04h1v1h-1zM181.16 563.19h1v1h-1zM168.93 501.53h1v1h-1zM178.5 491.21h1v1h-1zM197.29 580.5h1v1h-1zM186.95 549.7h1v1h-1zM207.29 573.04h1v1h-1zM207.03 494.61h1v1h-1z" fill="#7070c4" fill-opacity="0.55"/>
<path d="M152.61 503.66h1v1h-1zM151.8 502.34h1v1h-1zM168.61 500.89h1v1h-1zM170.92 498.27h1v1h-1zM174.75 504.21h1v1h-1zM172.73 501.33h1v1h-1zM186.74 501.78h1v1h-1zM165.14 503h1v1h-1zM184.57 501.55h1v1h-1zM171.68 502.23h1v1h-1zM194.08 499.78h1v1h-1zM173.32 504.63h1v1h-1zM175.71 501.83h1v1h-1zM160.46 501.89h1v1h-1zM168.28 506.1h1v1h-1zM177.39 499.17h1v1h-1zM160.35 503.89h1v1h-1zM161.76 504.38h1v1h-1zM160.42 500.75h1v1h-1zM172.42 503.04h1v1h-1zM175.02 500.8h1v1h-1zM163.15 502.27h1v1h-1zM172.91 500.43h1v1h-1zM171.39 501.18h1v1h-1zM159.02 500.11h1v1h-1zM169.08 502.88h1v1h-1zM152.39 500.02h1v1h-1zM188.04 501.54h1v1h-1zM182.14 499.55h1v1h-1zM169.77 500.53h1v1h-1z" fill="#3a3a9e" fill-opacity="0.5"/>
<path d="M166.99 501.63h1v1h-1zM183.17 503.6h1v1h-1zM180.96 496.89h1v1h-1zM182.02 501.47h1v1h-1zM162.13 501.08h1v1h-1zM151.88 503.79h1v1h-1zM190.99 502.87h1v1h-1zM155.65 503.65h1v1h-1zM179.13 501.38h1v1h-1zM157.19 500.55h1v1h-1zM169.11 497.9h1v1h-1zM148.89 506h1v1h-1zM168.98 500.12h1v1h-1zM189.46 501.53h1v1h-1zM153.79 503.27h1v1h-1zM182.53 499.48h1v1h-1zM167.08 501.24h1v1h-1zM177.07 502.23h1v1h-1zM173.93 504.04h1v1h-1zM183.1 505.23h1v1h-1zM169.03 499.99h1v1h-1zM193.46 502.53h1v1h-1zM168.01 501.2h1v1h-1zM164.72 502.51h1v1h-1zM160.16 500.92h1v1h-1zM166.81 498.72h1v1h-1zM150.12 499.51h1v1h-1zM176.76 501.89h1v1h-1zM169.51 499.08h1v1h-1zM166.6 502.66h1v1h-1zM171.38 502.21h1v1h-1z" fill="#33369a" fill-opacity="0.5"/>
<path d="M188.92 501.36h1v1h-1zM171.44 504.3h1v1h-1zM176.09 503.74h1v1h-1zM170.63 502.64h1v1h-1zM168.37 502.24h1v1h-1zM180.62 501.59h1v1h-1zM194.15 503h1v1h-1zM164.2 501.99h1v1h-1zM179.66 501.91h1v1h-1zM170.51 507.12h1v1h-1zM175.08 501.04h1v1h-1zM146.77 501.26h1v1h-1zM171.66 501.55h1v1h-1zM175.5 503.33h1v1h-1zM179.75 502.56h1v1h-1zM163.01 502.18h1v1h-1zM160.76 503.02h1v1h-1zM199.54 499.52h1v1h-1zM170.17 498.71h1v1h-1zM168.86 503.46h1v1h-1zM184.04 502.11h1v1h-1zM180.16 504.03h1v1h-1zM163.24 505.08h1v1h-1zM173.47 499.79h1v1h-1zM164.18 502.93h1v1h-1zM172.29 501.53h1v1h-1zM162.25 504.03h1v1h-1zM167.16 498.56h1v1h-1zM189.95 500.19h1v1h-1z" fill="#26358e" fill-opacity="0.5"/>
<path d="M170.31 506.43h1v1h-1zM160.39 504.34h1v1h-1zM169.94 500.18h1v1h-1zM162.4 505.68h1v1h-1zM173.29 502.02h1v1h-1zM151.35 500.69h1v1h-1zM150.01 505.34h1v1h-1zM183.16 501.76h1v1h-1zM160.86 503.11h1v1h-1zM168.72 501.02h1v1h-1zM164.11 501.76h1v1h-1zM161.36 506.43h1v1h-1zM174.34 502.35h1v1h-1zM164.34 497.56h1v1h-1zM154.97 503.21h1v1h-1zM175.65 501.16h1v1h-1zM170.66 500.12h1v1h-1zM165.69 501.25h1v1h-1zM182.21 504.79h1v1h-1zM179.54 503.26h1v1h-1zM180.48 502.74h1v1h-1zM170.75 500.04h1v1h-1zM164.16 500.49h1v1h-1zM181.33 505.29h1v1h-1zM151.11 502.36h1v1h-1zM173.38 499.39h1v1h-1zM182.88 500.56h1v1h-1zM153.4 501.34h1v1h-1z" fill="#232a84" fill-opacity="0.5"/>
<path d="M181.67 502.04h1v1h-1zM169.09 502.77h1v1h-1zM197.96 498.67h1v1h-1zM185.86 506.31h1v1h-1zM176.46 501.91h1v1h-1zM180.96 502.31h1v1h-1zM190.18 501.85h1v1h-1zM162.35 500.1h1v1h-1zM153.04 502.71h1v1h-1zM163.78 500.28h1v1h-1zM155.07 499.58h1v1h-1zM158.4 500.63h1v1h-1zM180.5 504.26h1v1h-1zM166.48 501.2h1v1h-1zM150.45 502.21h1v1h-1zM177.14 498.98h1v1h-1zM160.21 500.05h1v1h-1zM182.92 503.39h1v1h-1zM170.63 501.18h1v1h-1zM173.18 499.1h1v1h-1zM186.07 501.17h1v1h-1zM160.31 500.41h1v1h-1zM147.71 503.7h1v1h-1zM166.76 500.7h1v1h-1zM175.75 502.37h1v1h-1zM179.57 503.28h1v1h-1zM209.14 498.64h1v1h-1zM187.03 502.6h1v1h-1zM172.75 499.78h1v1h-1z" fill="#2c2f90" fill-opacity="0.5"/>
<path d="M173.12 507.96h1v1h-1zM146.16 528.49h1v1h-1zM153.91 516.3h1v1h-1zM186.42 508.89h1v1h-1zM179.78 506.29h1v1h-1zM176.59 525.3h1v1h-1zM164.33 520.31h1v1h-1zM148.96 528.3h1v1h-1zM187.35 508.77h1v1h-1zM159.6 505.64h1v1h-1zM150.46 513.56h1v1h-1zM145.2 523.29h1v1h-1zM187.85 506.69h1v1h-1zM175.01 505.12h1v1h-1zM181.73 522.55h1v1h-1zM148.59 510.5h1v1h-1zM173.65 512.79h1v1h-1zM155.51 526.07h1v1h-1zM150.46 521.88h1v1h-1zM152.14 521.84h1v1h-1zM154.71 519.17h1v1h-1zM150.13 516.51h1v1h-1zM174.37 526.02h1v1h-1zM157.69 528.16h1v1h-1zM160.18 503.79h1v1h-1zM161.71 504.08h1v1h-1zM153.4 527.92h1v1h-1zM169.57 518.2h1v1h-1zM144.28 515.66h1v1h-1zM169.21 521.85h1v1h-1zM166.28 507.94h1v1h-1zM160.26 508.31h1v1h-1zM153.17 527.01h1v1h-1zM155.92 520.83h1v1h-1zM144.91 509.43h1v1h-1zM152.65 504.99h1v1h-1zM170.57 511.76h1v1h-1zM147.75 515.75h1v1h-1zM180.01 505.58h1v1h-1zM163.63 515.99h1v1h-1zM153.98 519.19h1v1h-1zM146.77 509.45h1v1h-1zM168.75 516.05h1v1h-1zM149.54 518.43h1v1h-1zM179.79 521.33h1v1h-1zM145.15 523.15h1v1h-1zM175.96 516.66h1v1h-1zM153.63 504.35h1v1h-1zM181.68 504.75h1v1h-1zM154.06 519.33h1v1h-1zM159.84 505.22h1v1h-1zM156.54 516.16h1v1h-1zM143.96 505.53h1v1h-1zM178 510.9h1v1h-1zM167.44 523.69h1v1h-1zM177.85 517.13h1v1h-1zM176.13 514.36h1v1h-1zM186.48 505.27h1v1h-1zM142.44 514.36h1v1h-1zM148.9 522.19h1v1h-1zM161.83 524.46h1v1h-1zM188.3 507.15h1v1h-1zM152.18 528.9h1v1h-1zM152.81 512.28h1v1h-1zM143.02 507.75h1v1h-1zM143.98 516.9h1v1h-1zM160.65 520.77h1v1h-1zM167.12 517.76h1v1h-1zM184.13 514.8h1v1h-1zM163.03 514.1h1v1h-1zM177.23 511.77h1v1h-1zM147.43 515.45h1v1h-1zM149.06 523.1h1v1h-1zM147.96 516.19h1v1h-1zM185.49 512.36h1v1h-1zM190.35 514.65h1v1h-1zM168.13 514.73h1v1h-1zM170.01 505.7h1v1h-1zM170.83 507.75h1v1h-1zM141.98 526.48h1v1h-1zM188.84 512.89h1v1h-1zM159.8 521.97h1v1h-1zM181.25 515.42h1v1h-1zM184.39 511.72h1v1h-1zM150.15 514.97h1v1h-1zM171.03 504.98h1v1h-1zM155.54 519.02h1v1h-1zM144.61 512.02h1v1h-1zM142.81 522.07h1v1h-1zM177.22 516.65h1v1h-1zM156.02 509.64h1v1h-1zM171.57 520.92h1v1h-1zM160.57 523.3h1v1h-1zM153.88 519.45h1v1h-1zM181.82 510.83h1v1h-1zM185.68 518.6h1v1h-1zM165 519.42h1v1h-1zM170.28 526h1v1h-1zM149.53 526.04h1v1h-1zM151.32 518.73h1v1h-1zM163.23 505.24h1v1h-1zM151.91 503.4h1v1h-1zM171.66 511.73h1v1h-1zM160.29 522.6h1v1h-1zM171.34 522.46h1v1h-1zM176.54 521.78h1v1h-1zM185.58 511.22h1v1h-1zM150.45 513.4h1v1h-1zM180.19 513.78h1v1h-1zM183.82 518.76h1v1h-1zM187.48 515.7h1v1h-1zM179.94 523.51h1v1h-1zM168.79 522.38h1v1h-1zM163.85 504.68h1v1h-1zM142.97 505.5h1v1h-1zM190.14 508.94h1v1h-1zM144.3 514.79h1v1h-1zM157.32 529.57h1v1h-1zM146.29 529.91h1v1h-1zM165.31 504.56h1v1h-1zM173.93 520.85h1v1h-1zM156.53 511.44h1v1h-1zM184.89 514.77h1v1h-1zM159.79 503.65h1v1h-1zM174.67 518.24h1v1h-1zM152.01 510.86h1v1h-1zM147.6 517.04h1v1h-1zM167.08 509.32h1v1h-1zM181.44 516.65h1v1h-1zM157.04 521.05h1v1h-1zM154.4 514.82h1v1h-1zM156.59 522.91h1v1h-1zM186.62 518.03h1v1h-1zM186.92 509h1v1h-1zM166.71 520.25h1v1h-1zM169.45 505.4h1v1h-1zM173.64 526.84h1v1h-1zM161.85 518.3h1v1h-1zM154.83 529.49h1v1h-1zM183.27 511.52h1v1h-1zM143.51 518.36h1v1h-1zM152.84 515h1v1h-1zM162.9 520h1v1h-1zM173.79 513.04h1v1h-1zM150.21 523.44h1v1h-1zM153.47 524.22h1v1h-1zM145.69 523.02h1v1h-1zM142.46 521.45h1v1h-1zM156.35 507.33h1v1h-1zM184.18 521.7h1v1h-1zM146.08 514.2h1v1h-1zM165.32 528.12h1v1h-1zM162.7 517.8h1v1h-1zM161.93 511.22h1v1h-1zM146.66 513.77h1v1h-1zM177.71 519.65h1v1h-1zM141.72 529.07h1v1h-1zM148.29 511.54h1v1h-1zM169.16 503.83h1v1h-1zM171.57 526.97h1v1h-1zM161.52 516.46h1v1h-1zM161.2 512.87h1v1h-1zM164.32 512.04h1v1h-1zM146.05 526.11h1v1h-1zM174.79 524.76h1v1h-1zM145.29 514.95h1v1h-1zM144.65 513.67h1v1h-1zM161.47 506.26h1v1h-1zM151.18 518.63h1v1h-1zM163.38 508.43h1v1h-1zM177.03 526.34h1v1h-1zM174.9 506.39h1v1h-1zM171.18 507.3h1v1h-1zM147.36 513.82h1v1h-1zM169.03 524.14h1v1h-1zM182.75 513.57h1v1h-1zM166.06 507.7h1v1h-1zM171.23 509.12h1v1h-1zM187.19 510.25h1v1h-1zM166.09 516.29h1v1h-1zM179.1 506.84h1v1h-1zM159.34 521.76h1v1h-1zM176.96 522.83h1v1h-1zM172.76 509.05h1v1h-1zM153.6 514.19h1v1h-1zM175.35 503.74h1v1h-1zM174.49 517.24h1v1h-1zM162.03 506.46h1v1h-1zM180.09 505.58h1v1h-1zM162.29 518.49h1v1h-1zM142.99 519.93h1v1h-1zM153.65 529.91h1v1h-1zM150.33 523.92h1v1h-1zM151.29 509.46h1v1h-1zM156.97 523.56h1v1h-1zM150.22 513.57h1v1h-1zM186.85 512.65h1v1h-1zM166.4 526.11h1v1h-1zM160.87 503.41h1v1h-1zM155.9 503.7h1v1h-1zM163.4 520.29h1v1h-1zM170.99 513.62h1v1h-1zM145.37 508.27h1v1h-1zM151.09 512.02h1v1h-1zM174.89 514.19h1v1h-1zM148.51 508.5h1v1h-1zM142.27 521.54h1v1h-1zM143.81 526.83h1v1h-1zM155.03 504.91h1v1h-1zM182.82 508.78h1v1h-1zM167.71 514.95h1v1h-1zM165.85 522.86h1v1h-1zM146.73 512.69h1v1h-1zM145.76 504.94h1v1h-1zM173.27 510.99h1v1h-1zM146.26 523.95h1v1h-1zM159.12 523.03h1v1h-1zM156.84 524.93h1v1h-1zM180.93 508.17h1v1h-1zM177.75 524.53h1v1h-1zM156.57 525.69h1v1h-1zM173.34 512.47h1v1h-1zM181.6 513.65h1v1h-1zM163.61 513.86h1v1h-1zM172.18 503.02h1v1h-1zM165.73 519.23h1v1h-1zM158.09 512.78h1v1h-1zM166.2 510.51h1v1h-1zM170.18 513.42h1v1h-1zM174.35 506.35h1v1h-1zM177.63 505.51h1v1h-1zM177.49 515.59h1v1h-1zM143.55 512.61h1v1h-1zM148.84 519.94h1v1h-1zM170.8 527.03h1v1h-1zM154.68 513.39h1v1h-1zM181.91 519.29h1v1h-1zM182.77 516.86h1v1h-1zM150.61 527.36h1v1h-1zM147.47 512.25h1v1h-1zM163.55 502.62h1v1h-1zM164.52 525.69h1v1h-1zM169.99 510.14h1v1h-1zM146.89 519.29h1v1h-1zM183.15 505.99h1v1h-1zM165.17 506.85h1v1h-1zM169.22 513.43h1v1h-1zM179.52 516.01h1v1h-1zM189.51 509.62h1v1h-1zM178.36 507.17h1v1h-1zM159.8 508.16h1v1h-1zM155.66 522.78h1v1h-1zM146.38 507.62h1v1h-1zM172.17 524.43h1v1h-1zM171.81 509.35h1v1h-1zM187.98 507.94h1v1h-1zM144 526.01h1v1h-1zM154.92 503.72h1v1h-1zM165.46 526.53h1v1h-1zM144.27 504.32h1v1h-1zM170.19 503.92h1v1h-1zM170.6 505.19h1v1h-1zM143.52 511.26h1v1h-1zM183.48 514.77h1v1h-1zM184.3 517.91h1v1h-1zM142.86 528.85h1v1h-1zM168.7 526.82h1v1h-1zM177.18 518.27h1v1h-1zM144.47 510.45h1v1h-1zM174.31 512.55h1v1h-1zM172.18 509h1v1h-1zM154.46 523.43h1v1h-1zM169.66 525.11h1v1h-1zM172.19 520.45h1v1h-1zM157.47 508.17h1v1h-1zM159.15 527.07h1v1h-1zM144.04 516.61h1v1h-1zM145.33 526.39h1v1h-1zM144.37 507.5h1v1h-1zM162.5 512.45h1v1h-1zM152.92 508.39h1v1h-1zM167.71 517.93h1v1h-1zM165.82 508.41h1v1h-1zM148.1 522.3h1v1h-1zM187.03 514.73h1v1h-1zM178.99 524.53h1v1h-1zM159.27 524.01h1v1h-1zM169.76 524.62h1v1h-1zM142.93 519.25h1v1h-1zM178.22 506.07h1v1h-1zM184.62 518.26h1v1h-1zM152.56 514.88h1v1h-1zM176.27 504.74h1v1h-1zM173.91 523.84h1v1h-1zM151.23 504.91h1v1h-1zM161.77 525.56h1v1h-1zM181.16 505.81h1v1h-1zM151.52 510.52h1v1h-1zM166.22 506.26h1v1h-1zM176.57 523.48h1v1h-1zM144.18 514.69h1v1h-1zM152.42 518.86h1v1h-1zM182.04 521.14h1v1h-1zM149.42 527.74h1v1h-1zM144.57 506.88h1v1h-1zM177.87 512.82h1v1h-1zM163.37 507.74h1v1h-1zM174.98 524.27h1v1h-1zM161.98 516.75h1v1h-1zM169.55 518.7h1v1h-1zM142.74 528.87h1v1h-1zM183.31 506.86h1v1h-1zM145.89 516.13h1v1h-1zM162.75 517.38h1v1h-1zM178.42 520.84h1v1h-1zM167.06 507.45h1v1h-1zM156.62 506.26h1v1h-1zM169.79 506.38h1v1h-1zM170.54 507.67h1v1h-1zM186.09 517.82h1v1h-1zM178.85 518.01h1v1h-1zM180.97 507.95h1v1h-1zM179.92 519.9h1v1h-1zM148.18 514.04h1v1h-1zM148.39 519.27h1v1h-1zM161.49 507.5h1v1h-1zM147.02 518.05h1v1h-1zM183.15 520.71h1v1h-1zM154.79 510.52h1v1h-1zM144.49 507.18h1v1h-1zM168.17 504.95h1v1h-1zM156.01 520.49h1v1h-1zM188.21 515.01h1v1h-1zM149.82 504.83h1v1h-1zM168.11 528.19h1v1h-1zM144.15 517.02h1v1h-1zM165.03 527.85h1v1h-1zM148.82 522.93h1v1h-1zM171.78 526.49h1v1h-1zM185 521.62h1v1h-1zM170.22 523.43h1v1h-1zM185.64 511.43h1v1h-1zM144.46 517.53h1v1h-1zM173.96 510.21h1v1h-1zM191.71 510.07h1v1h-1zM157.98 510.11h1v1h-1zM184.67 515.3h1v1h-1zM145.7 520.32h1v1h-1zM153.05 503.35h1v1h-1zM162.28 509.96h1v1h-1zM154.93 524.75h1v1h-1zM159.83 513.62h1v1h-1zM179.95 522.83h1v1h-1zM162.97 518.47h1v1h-1zM189.99 508.16h1v1h-1zM155.85 507.28h1v1h-1zM184.29 517.63h1v1h-1zM156.33 505.46h1v1h-1zM151.62 510.58h1v1h-1zM176.34 507.16h1v1h-1zM143.92 524.6h1v1h-1zM155.92 527.79h1v1h-1zM167.49 518.24h1v1h-1zM143.06 504.69h1v1h-1zM181.24 517.52h1v1h-1zM163.52 519.61h1v1h-1zM168.25 509.02h1v1h-1zM167.46 504.2h1v1h-1zM165.76 523.43h1v1h-1zM170.26 504.61h1v1h-1zM150.13 525.21h1v1h-1zM181.43 521.25h1v1h-1zM178.08 504.15h1v1h-1zM149.02 526.91h1v1h-1zM157.73 503.61h1v1h-1zM154.12 525.42h1v1h-1zM164.15 508.18h1v1h-1zM190.91 507.07h1v1h-1zM157.38 518.7h1v1h-1zM168.83 524.26h1v1h-1zM183.68 512.72h1v1h-1zM184.93 509.63h1v1h-1zM165.95 503.04h1v1h-1zM150.88 520.43h1v1h-1zM143.14 522.52h1v1h-1zM146.29 514.26h1v1h-1zM152.35 508.23h1v1h-1zM172.13 524.01h1v1h-1zM156.81 511.36h1v1h-1zM152.8 506.52h1v1h-1zM185.65 515.35h1v1h-1zM150.53 507.21h1v1h-1zM147.7 513.74h1v1h-1zM166.27 519.83h1v1h-1zM177.3 514.26h1v1h-1zM143.94 506.1h1v1h-1zM149.58 513.4h1v1h-1zM160.73 523.01h1v1h-1zM179.3 511.98h1v1h-1zM183.18 516.3h1v1h-1zM184.02 503.38h1v1h-1zM163.41 513.53h1v1h-1zM153.3 526.7h1v1h-1zM152.01 513.75h1v1h-1zM154.08 513.57h1v1h-1zM185.9 503.8h1v1h-1zM178.36 504.5h1v1h-1zM143.37 512.94h1v1h-1zM146.02 528.98h1v1h-1zM173.05 527.33h1v1h-1zM175.5 520.06h1v1h-1zM186.3 516.06h1v1h-1zM182.48 519.33h1v1h-1zM169.85 517.67h1v1h-1zM186.11 519.11h1v1h-1zM144.81 508.89h1v1h-1zM160.19 509.47h1v1h-1zM149.32 508.92h1v1h-1zM154.07 519.22h1v1h-1zM161.02 515.92h1v1h-1zM148.26 521.14h1v1h-1zM169.42 508.55h1v1h-1zM166.91 512.3h1v1h-1zM190.49 512.4h1v1h-1zM149.65 529.66h1v1h-1zM161.96 519.83h1v1h-1zM151.12 517.63h1v1h-1zM192.34 510.05h1v1h-1zM147.98 520.1h1v1h-1zM159.16 507.82h1v1h-1zM172.62 511.7h1v1h-1zM155.35 503.72h1v1h-1zM150.97 508.8h1v1h-1zM175.75 513.06h1v1h-1zM191.87 509.68h1v1h-1zM181.07 505.2h1v1h-1zM150.95 526.6h1v1h-1zM147.7 511.16h1v1h-1zM165.25 505.59h1v1h-1zM149.19 515.31h1v1h-1zM169.41 506.88h1v1h-1zM149.37 524.22h1v1h-1zM166.1 509.51h1v1h-1zM163.06 511.56h1v1h-1zM168.59 502.75h1v1h-1zM149.46 506.66h1v1h-1zM186.55 518.54h1v1h-1zM160.59 517.63h1v1h-1zM182.84 519.93h1v1h-1zM186.53 510.79h1v1h-1zM176.89 525.43h1v1h-1zM175.25 503.45h1v1h-1zM152.94 508.21h1v1h-1zM157.67 507.06h1v1h-1zM155.68 507.16h1v1h-1zM147.27 515.49h1v1h-1zM142.04 529.81h1v1h-1zM142.76 521.22h1v1h-1zM164.43 513.32h1v1h-1zM175.43 508.81h1v1h-1zM145.33 505.91h1v1h-1zM169.09 511.21h1v1h-1zM153.54 520.1h1v1h-1zM151.71 505.63h1v1h-1zM164.33 524.22h1v1h-1zM185.83 517.57h1v1h-1zM174.74 507.53h1v1h-1zM159.43 528.85h1v1h-1zM146.07 520h1v1h-1zM148.03 503.47h1v1h-1zM150.41 520.91h1v1h-1zM150.6 508.17h1v1h-1zM145.45 503.27h1v1h-1zM192.29 510.02h1v1h-1zM144.67 517.39h1v1h-1zM172.1 524.4h1v1h-1zM147.58 511.73h1v1h-1zM175.82 520.86h1v1h-1zM158.11 504.34h1v1h-1zM161.27 506.57h1v1h-1zM172.06 504.89h1v1h-1zM188.64 510.83h1v1h-1zM187.78 513.7h1v1h-1zM163.73 519.05h1v1h-1zM153.61 528.54h1v1h-1zM162.07 521.36h1v1h-1zM170.07 518.13h1v1h-1zM170.22 522.92h1v1h-1zM146.87 524.89h1v1h-1zM171.46 526.49h1v1h-1zM177.79 520.29h1v1h-1z" fill="#232a84" fill-opacity="0.5"/>
<path d="M151.27 525.26h1v1h-1zM149.84 517.39h1v1h-1zM159.43 508.22h1v1h-1zM145.44 526.2h1v1h-1zM187.1 507.04h1v1h-1zM165.45 527.2h1v1h-1zM146.85 506.91h1v1h-1zM166.11 509.15h1v1h-1zM186.98 512.17h1v1h-1zM174.47 511.89h1v1h-1zM180.43 513.14h1v1h-1zM157.18 505.64h1v1h-1zM153.51 522.2h1v1h-1zM156.2 506.17h1v1h-1zM150.52 508.03h1v1h-1zM145.68 527.33h1v1h-1zM149.84 512.5h1v1h-1zM190.31 513.47h1v1h-1zM141.74 523.82h1v1h-1zM163.42 523.5h1v1h-1zM174.22 517.7h1v1h-1zM161.47 508.23h1v1h-1zM166.06 515.6h1v1h-1zM149.73 525.33h1v1h-1zM158.59 527.42h1v1h-1zM164.23 509.11h1v1h-1zM177.05 515.68h1v1h-1zM175.12 507.24h1v1h-1zM166.78 507.67h1v1h-1zM176.52 506.39h1v1h-1zM144.05 520.2h1v1h-1zM155.69 505.62h1v1h-1zM179.48 519.2h1v1h-1zM179.41 506.72h1v1h-1zM181.68 513.45h1v1h-1zM149.75 503.4h1v1h-1zM171.22 511.98h1v1h-1zM158.55 528.55h1v1h-1zM178.8 516.89h1v1h-1zM185.13 505.32h1v1h-1zM147.67 506.21h1v1h-1zM161.94 517.9h1v1h-1zM155.14 513.5h1v1h-1zM160.5 520.6h1v1h-1zM192.37 508.16h1v1h-1zM167.45 504.19h1v1h-1zM149.55 509.74h1v1h-1zM159.96 519.81h1v1h-1zM184.77 511.36h1v1h-1zM187.85 511.26h1v1h-1zM154.63 522.3h1v1h-1zM190.37 505.81h1v1h-1zM146.93 513.99h1v1h-1zM142.65 522.99h1v1h-1zM161.42 502.99h1v1h-1zM164.23 515.35h1v1h-1zM157.08 526.25h1v1h-1zM159.58 527.83h1v1h-1zM160.96 513.9h1v1h-1zM170.32 509.4h1v1h-1zM159.1 518.86h1v1h-1zM162.4 519.89h1v1h-1zM171.86 507.74h1v1h-1zM180.86 518.42h1v1h-1zM149.03 510.98h1v1h-1zM179.82 508.99h1v1h-1zM162.05 513.75h1v1h-1zM151.41 518.82h1v1h-1zM182.11 517.74h1v1h-1zM166.82 521.67h1v1h-1zM168.45 503.6h1v1h-1zM175.04 522.12h1v1h-1zM166.97 507.89h1v1h-1zM154.5 520.13h1v1h-1zM143.72 516.91h1v1h-1zM164.9 502.95h1v1h-1zM172.69 521.73h1v1h-1zM175.99 504.56h1v1h-1zM145.51 518.15h1v1h-1zM161.92 508.08h1v1h-1zM162.11 507.67h1v1h-1zM156.33 522.5h1v1h-1zM156.65 528.31h1v1h-1zM157.36 526.37h1v1h-1zM145.8 503.94h1v1h-1zM159.13 504.83h1v1h-1zM154.74 528.36h1v1h-1zM173.98 525.11h1v1h-1zM160.03 523.85h1v1h-1zM146.06 507.83h1v1h-1zM176.16 514.43h1v1h-1zM157.69 507.5h1v1h-1zM173.82 503.59h1v1h-1zM149.97 503.41h1v1h-1zM152.11 522.55h1v1h-1zM177.47 523.02h1v1h-1zM175.98 511.24h1v1h-1zM172.26 517.9h1v1h-1zM155.1 506.66h1v1h-1zM178.42 520.17h1v1h-1zM153.42 515.95h1v1h-1zM162.05 518.61h1v1h-1zM149.04 517.91h1v1h-1zM142.43 503.99h1v1h-1zM164.29 503.01h1v1h-1zM174.25 514.31h1v1h-1zM191.4 509.33h1v1h-1zM180.65 517.21h1v1h-1zM189.02 510.26h1v1h-1zM142.32 515.14h1v1h-1zM162.46 522.93h1v1h-1zM186.95 517.02h1v1h-1zM175.03 503.42h1v1h-1zM177.63 519.15h1v1h-1zM170.84 503.98h1v1h-1zM184.31 520.34h1v1h-1zM162.49 508.26h1v1h-1zM156.8 528.51h1v1h-1zM143.2 504.45h1v1h-1zM143.59 517.98h1v1h-1zM144.39 526.11h1v1h-1zM168.18 508.68h1v1h-1zM153.28 506.72h1v1h-1zM163.49 514.09h1v1h-1zM154.04 509.55h1v1h-1zM151.38 503.35h1v1h-1zM187.17 505.28h1v1h-1zM152.45 522.82h1v1h-1zM158.48 520.38h1v1h-1zM173.65 504.21h1v1h-1zM158.9 528.39h1v1h-1zM176.66 509.5h1v1h-1zM172.6 524.06h1v1h-1zM185.57 512.17h1v1h-1zM166.08 526.66h1v1h-1zM149.4 510.72h1v1h-1zM142.1 504.77h1v1h-1zM167.79 525.36h1v1h-1zM190.31 508.97h1v1h-1zM154.57 522.98h1v1h-1zM166.34 516.12h1v1h-1zM172.47 520.33h1v1h-1zM180.26 519.93h1v1h-1zM166.67 518.98h1v1h-1zM171.09 520.42h1v1h-1zM142.4 527.58h1v1h-1zM189.91 506.65h1v1h-1zM164.96 516.28h1v1h-1zM159.01 528.59h1v1h-1zM155 504.22h1v1h-1zM154.4 522.47h1v1h-1zM182.03 504.75h1v1h-1zM143.32 514.07h1v1h-1zM167.1 517.66h1v1h-1zM145.16 527.09h1v1h-1zM144.73 511.49h1v1h-1zM147.37 515.66h1v1h-1zM182.81 513.88h1v1h-1zM185.65 510.04h1v1h-1zM185.97 504.67h1v1h-1zM161.37 510.42h1v1h-1zM172.92 506.37h1v1h-1zM163.31 526.98h1v1h-1zM179.94 508.86h1v1h-1zM169.59 525.91h1v1h-1zM148.35 509.67h1v1h-1zM150.76 503.43h1v1h-1zM147.57 514.4h1v1h-1zM162.13 507.28h1v1h-1zM169.28 506.96h1v1h-1zM146.58 512.39h1v1h-1zM153.66 522.06h1v1h-1zM151.03 510.45h1v1h-1zM146.78 516.35h1v1h-1zM154.87 528.93h1v1h-1zM159.12 525.85h1v1h-1zM158.25 507.15h1v1h-1zM142.24 518.98h1v1h-1zM176.6 509.9h1v1h-1zM148.41 511.21h1v1h-1zM168.84 518.7h1v1h-1zM155.91 521.43h1v1h-1zM147.79 509.61h1v1h-1zM191.89 510.53h1v1h-1zM161.91 505.07h1v1h-1zM153.38 513.38h1v1h-1zM166.36 518.91h1v1h-1zM157.82 513.57h1v1h-1zM156.75 528.86h1v1h-1zM172.44 513.79h1v1h-1zM144.81 526.65h1v1h-1zM144.17 522.55h1v1h-1zM173.88 511.13h1v1h-1zM159.66 512.69h1v1h-1zM153.61 524.29h1v1h-1zM154.99 506.08h1v1h-1zM174.49 513.02h1v1h-1zM162.73 506.5h1v1h-1zM146.53 504.75h1v1h-1zM149.91 517.88h1v1h-1zM172.66 503.9h1v1h-1zM189.28 506.71h1v1h-1zM151.58 526.61h1v1h-1zM171.36 504.53h1v1h-1zM152.82 504.65h1v1h-1zM170.04 506.58h1v1h-1zM185.83 521.01h1v1h-1zM184.49 519.58h1v1h-1zM162.64 503.52h1v1h-1zM149.03 520.08h1v1h-1zM155.45 525.69h1v1h-1zM142.98 528.32h1v1h-1zM179.4 516.06h1v1h-1zM177.78 504.36h1v1h-1zM162.3 528.41h1v1h-1zM145.88 517.08h1v1h-1zM152.19 520.41h1v1h-1zM174.06 519.03h1v1h-1zM170.67 504.17h1v1h-1zM167.41 512.91h1v1h-1zM168.82 514.04h1v1h-1zM145.62 524.67h1v1h-1zM161.8 528.94h1v1h-1zM180.55 504.39h1v1h-1zM153.85 522.52h1v1h-1zM155.08 505.75h1v1h-1zM188.73 508.19h1v1h-1zM184.55 515.35h1v1h-1zM150.52 528.72h1v1h-1zM172.12 512.27h1v1h-1zM169.84 502.69h1v1h-1zM149.66 521.79h1v1h-1zM147.7 520.23h1v1h-1zM181.99 504.78h1v1h-1zM153.72 503.53h1v1h-1zM142.25 530.46h1v1h-1zM188.6 515.34h1v1h-1zM154.22 504.49h1v1h-1zM179.35 521.42h1v1h-1zM171.49 504.34h1v1h-1zM152.39 524.46h1v1h-1zM148.94 506.23h1v1h-1zM146.86 528.43h1v1h-1zM176.29 518.67h1v1h-1zM148.86 508.43h1v1h-1zM180.57 524.42h1v1h-1zM180.46 513.85h1v1h-1zM175.29 520.02h1v1h-1zM142.53 513.18h1v1h-1zM143.13 509.22h1v1h-1zM162.18 506.17h1v1h-1zM160.44 509.08h1v1h-1zM173.08 508.74h1v1h-1zM163.54 508.54h1v1h-1zM148.74 504.56h1v1h-1zM142.03 510.98h1v1h-1zM160.34 504.12h1v1h-1zM155.12 502.99h1v1h-1zM151.43 525.47h1v1h-1zM169.3 526.63h1v1h-1zM146.07 524.37h1v1h-1zM159.56 511.35h1v1h-1zM163.39 503.49h1v1h-1zM153.5 525.94h1v1h-1zM182.53 519.49h1v1h-1zM174.95 518.65h1v1h-1zM182.82 508.2h1v1h-1zM173.9 523.62h1v1h-1zM166.42 521h1v1h-1zM187.8 514.11h1v1h-1zM152.78 511.43h1v1h-1zM190.26 508.74h1v1h-1zM167.08 506.5h1v1h-1zM146.45 519.41h1v1h-1zM173.54 518.08h1v1h-1zM143.18 505.28h1v1h-1zM160.47 503.07h1v1h-1zM163.47 503.23h1v1h-1zM167.48 521.38h1v1h-1zM167.78 518.58h1v1h-1zM181.73 505.17h1v1h-1zM166.67 514.43h1v1h-1zM150.06 509.58h1v1h-1zM151.28 514h1v1h-1zM179.83 506h1v1h-1zM150.85 522.5h1v1h-1zM147.75 518.6h1v1h-1zM185.82 505.95h1v1h-1zM143.14 520.45h1v1h-1zM143.8 520.68h1v1h-1zM150.79 509.8h1v1h-1zM174.96 513.88h1v1h-1zM158.25 525.57h1v1h-1zM176.09 525.68h1v1h-1zM188.26 518.47h1v1h-1zM160.04 512.02h1v1h-1zM178.03 509.28h1v1h-1zM161.82 526.14h1v1h-1zM143.31 510.89h1v1h-1zM168.81 527.3h1v1h-1zM189.1 507.32h1v1h-1zM153.8 511.32h1v1h-1zM172.73 524.79h1v1h-1zM144.08 519.33h1v1h-1zM175.59 508.93h1v1h-1zM181.05 525.17h1v1h-1zM162.08 527.8h1v1h-1zM165.98 513.33h1v1h-1zM162.27 517.86h1v1h-1zM153.15 521.29h1v1h-1zM178.01 506.56h1v1h-1zM181.11 515.54h1v1h-1zM183.63 504.72h1v1h-1zM143.02 517.31h1v1h-1zM176.08 522.5h1v1h-1zM146.13 513.1h1v1h-1zM188 507.63h1v1h-1zM143.39 520.99h1v1h-1zM158.12 528.38h1v1h-1zM188.14 514.45h1v1h-1zM178.14 516.7h1v1h-1zM157.25 505.75h1v1h-1zM176.02 510.07h1v1h-1zM175.75 506.68h1v1h-1zM152.99 506.53h1v1h-1zM176.29 517.7h1v1h-1zM148.67 528.12h1v1h-1zM188.02 509.08h1v1h-1zM159.14 507.64h1v1h-1zM169.05 527.74h1v1h-1zM178.56 524.15h1v1h-1zM155.11 522.11h1v1h-1zM146.86 513.89h1v1h-1zM159.54 525.78h1v1h-1zM172.06 526.7h1v1h-1zM153.86 528.02h1v1h-1zM176.33 511.33h1v1h-1zM183.9 504.55h1v1h-1zM176.79 519.91h1v1h-1zM174.65 506.57h1v1h-1zM181.22 523.94h1v1h-1zM151.37 519.63h1v1h-1zM143.16 509.07h1v1h-1zM174.39 504.64h1v1h-1zM172.19 518.69h1v1h-1zM141.88 523.22h1v1h-1zM181.39 511.36h1v1h-1zM154.97 515.11h1v1h-1zM141.75 519.25h1v1h-1zM163.67 517.24h1v1h-1zM166.57 520.17h1v1h-1zM157.21 510.75h1v1h-1zM166.22 507.26h1v1h-1zM145.92 515.97h1v1h-1zM151.09 511.26h1v1h-1zM173.38 510.95h1v1h-1zM157.82 510.67h1v1h-1zM171.18 526.48h1v1h-1zM151.17 509.21h1v1h-1zM160.26 526.43h1v1h-1zM151.1 508.07h1v1h-1zM186.25 510.21h1v1h-1zM153.43 503.07h1v1h-1zM176.97 512.42h1v1h-1zM156.56 516.61h1v1h-1zM158.87 508.35h1v1h-1zM167.78 516.14h1v1h-1zM152.72 521.23h1v1h-1zM184.13 509.52h1v1h-1zM157.84 508.8h1v1h-1zM158.59 515.02h1v1h-1zM144.65 515.48h1v1h-1zM156.86 505.81h1v1h-1zM159.84 521.99h1v1h-1zM162.97 516h1v1h-1zM183.92 507.08h1v1h-1zM175.32 522.85h1v1h-1zM180.12 504.38h1v1h-1zM188.99 517.46h1v1h-1zM142.53 521.32h1v1h-1zM168.64 509.14h1v1h-1zM160.8 517.6h1v1h-1zM141.72 515.99h1v1h-1zM166.27 504.38h1v1h-1zM159.93 517h1v1h-1zM158.23 529.17h1v1h-1zM144.13 511.08h1v1h-1zM155.26 507.27h1v1h-1zM155.16 526.31h1v1h-1zM156.68 524.48h1v1h-1zM173.87 525.28h1v1h-1zM182.65 513.37h1v1h-1zM169.96 513.69h1v1h-1zM147 512.91h1v1h-1zM143.27 521.62h1v1h-1zM147.24 519.88h1v1h-1zM156.69 506.93h1v1h-1zM175.14 519.96h1v1h-1zM176.11 521.77h1v1h-1zM185.45 512.71h1v1h-1zM155.64 514.14h1v1h-1zM148.2 518.69h1v1h-1zM178.53 508.36h1v1h-1zM163.13 508.82h1v1h-1zM149.08 506.1h1v1h-1zM148.69 520.01h1v1h-1zM155.16 518.52h1v1h-1zM157.17 503.29h1v1h-1zM173.74 509.2h1v1h-1zM184.6 519.91h1v1h-1zM149.39 508.31h1v1h-1zM176.07 507.98h1v1h-1zM142.51 520.87h1v1h-1zM153.25 527.48h1v1h-1zM143.1 504.3h1v1h-1zM148.63 505.9h1v1h-1zM191.13 512.92h1v1h-1zM147.47 505.4h1v1h-1zM161.79 522.75h1v1h-1zM148.99 521.79h1v1h-1zM183.31 514.99h1v1h-1zM153.94 519.01h1v1h-1zM181.76 521.95h1v1h-1zM174.24 513.68h1v1h-1zM174.14 509.28h1v1h-1zM175.25 523.07h1v1h-1zM178.59 523.46h1v1h-1zM155.17 521.97h1v1h-1zM156.48 513.17h1v1h-1zM167.37 506.82h1v1h-1zM175.11 509.38h1v1h-1zM186.14 512.59h1v1h-1zM160.82 524.62h1v1h-1zM149.69 517.32h1v1h-1zM185.48 508.43h1v1h-1zM168.04 516.65h1v1h-1zM148.38 506.02h1v1h-1zM189.41 512.7h1v1h-1zM156.93 503.33h1v1h-1zM170.86 503.15h1v1h-1zM167.47 503.84h1v1h-1zM166.82 507.73h1v1h-1zM143.09 519.86h1v1h-1zM154.34 528.06h1v1h-1zM183.54 508.93h1v1h-1zM160.43 511.73h1v1h-1zM153.2 524.24h1v1h-1zM172.09 506.84h1v1h-1zM170.88 519.01h1v1h-1zM160.03 521.94h1v1h-1zM148.07 518.08h1v1h-1zM152.87 503.69h1v1h-1zM168.22 512.51h1v1h-1zM173.46 519.37h1v1h-1zM184.66 518.13h1v1h-1zM154.51 508.54h1v1h-1zM171.99 516.29h1v1h-1zM181.15 520.64h1v1h-1zM151.35 515.92h1v1h-1zM162.74 517.78h1v1h-1zM166.99 521.13h1v1h-1z" fill="#2c2f90" fill-opacity="0.5"/>
<path d="M169.06 524.12h1v1h-1zM185.39 505.94h1v1h-1zM167.12 507.37h1v1h-1zM163.26 505h1v1h-1zM183.93 522.48h1v1h-1zM171.93 521.41h1v1h-1zM180.25 506.97h1v1h-1zM161.13 505.37h1v1h-1zM189.63 506.78h1v1h-1zM154.85 525.01h1v1h-1zM183.49 502.83h1v1h-1zM167.87 520.61h1v1h-1zM162.23 502.68h1v1h-1zM169.08 528.03h1v1h-1zM179.67 511.95h1v1h-1zM154.07 526.76h1v1h-1zM179.13 511.92h1v1h-1zM165.81 512.21h1v1h-1zM150.11 505.67h1v1h-1zM178.59 515.4h1v1h-1zM153.58 517.24h1v1h-1zM178.63 507.6h1v1h-1zM163 506.79h1v1h-1zM182.23 505.23h1v1h-1zM144.48 511.58h1v1h-1zM155.93 507.11h1v1h-1zM172.71 520.2h1v1h-1zM153.54 511.93h1v1h-1zM163.76 513.75h1v1h-1zM176.54 519.79h1v1h-1zM172.46 520.87h1v1h-1zM180.28 511.91h1v1h-1zM156.32 507.29h1v1h-1zM166.72 522.36h1v1h-1zM148.61 530.01h1v1h-1zM162.47 520.39h1v1h-1zM153.69 516.48h1v1h-1zM173.04 520.46h1v1h-1zM182.51 511.71h1v1h-1zM167.65 511.09h1v1h-1zM143.18 510.12h1v1h-1zM145.82 524.32h1v1h-1zM185.34 516.86h1v1h-1zM179.78 512.26h1v1h-1zM180.69 517.48h1v1h-1zM180.42 510.2h1v1h-1zM160.6 526.33h1v1h-1zM166.05 513.03h1v1h-1zM144.25 506.53h1v1h-1zM161.15 528.75h1v1h-1zM191.74 511.15h1v1h-1zM159.63 514.86h1v1h-1zM147 514.17h1v1h-1zM186.47 512.82h1v1h-1zM165.35 514.34h1v1h-1zM145.37 509.88h1v1h-1zM144.02 508.56h1v1h-1zM150.67 506.05h1v1h-1zM159.91 504.42h1v1h-1zM168.92 521.76h1v1h-1zM156.66 529.65h1v1h-1zM176.76 511.85h1v1h-1zM155.87 519.13h1v1h-1zM174.84 511.45h1v1h-1zM170.8 511.92h1v1h-1zM141.75 522.4h1v1h-1zM155.52 506.6h1v1h-1zM176.01 520.95h1v1h-1zM144.14 524.35h1v1h-1zM143.64 527.22h1v1h-1zM151.33 523.21h1v1h-1zM166.6 508.14h1v1h-1zM156.55 508.88h1v1h-1zM178.6 520.17h1v1h-1zM161.55 513.36h1v1h-1zM164.2 503.9h1v1h-1zM173.32 521.41h1v1h-1zM144.94 525.94h1v1h-1zM176.1 511.09h1v1h-1zM182.8 505.83h1v1h-1zM150.97 522.64h1v1h-1zM160.6 527.89h1v1h-1zM161.82 505.3h1v1h-1zM141.82 530.03h1v1h-1zM146.83 503.82h1v1h-1zM177.44 507.11h1v1h-1zM161.17 503.62h1v1h-1zM179.01 521.17h1v1h-1zM188.1 510.98h1v1h-1zM163.67 516.75h1v1h-1zM158.71 523.8h1v1h-1zM163.2 503.42h1v1h-1zM182.63 512.62h1v1h-1zM177.41 508.58h1v1h-1zM178.87 508.33h1v1h-1zM153.98 526.91h1v1h-1zM182.05 509.69h1v1h-1zM182.6 523.55h1v1h-1zM151.8 526.95h1v1h-1zM159.6 509.49h1v1h-1zM176.37 509.62h1v1h-1zM167.26 504.92h1v1h-1zM163.91 512.86h1v1h-1zM146.58 505.53h1v1h-1zM155.45 518.83h1v1h-1zM166.82 523.81h1v1h-1zM165.85 508.13h1v1h-1zM173.35 517.17h1v1h-1zM186.46 510.27h1v1h-1zM142.92 519h1v1h-1zM144.06 507.19h1v1h-1zM170.51 506.23h1v1h-1zM187.09 508.07h1v1h-1zM150.97 507.03h1v1h-1zM168.63 522.44h1v1h-1zM183.52 512.11h1v1h-1zM181.12 514.44h1v1h-1zM186.23 506.28h1v1h-1zM142.64 515.39h1v1h-1zM160.24 518.32h1v1h-1zM180.41 503.92h1v1h-1zM174.91 516.72h1v1h-1zM159.68 523.58h1v1h-1zM180.31 502.93h1v1h-1zM184.45 522.14h1v1h-1zM165.84 514.36h1v1h-1zM153.01 529.42h1v1h-1zM158.8 527.78h1v1h-1zM156.25 526.88h1v1h-1zM152.93 504.69h1v1h-1zM161.47 528.76h1v1h-1zM171.1 509.97h1v1h-1zM175.92 522.49h1v1h-1zM153.89 521.14h1v1h-1zM151.84 504.21h1v1h-1zM170.48 510.16h1v1h-1zM146 518.24h1v1h-1zM156.83 507.73h1v1h-1zM141.73 521.22h1v1h-1zM149.83 529.02h1v1h-1zM167.11 527.76h1v1h-1zM173.31 505.24h1v1h-1zM151.98 507.48h1v1h-1zM167.74 517.03h1v1h-1zM170.09 512.57h1v1h-1zM179.73 513.62h1v1h-1zM153.74 526.59h1v1h-1zM157.6 513.86h1v1h-1zM189.15 509.92h1v1h-1zM187.15 514.29h1v1h-1zM165.47 521.6h1v1h-1zM175.83 516.82h1v1h-1zM171.82 517.07h1v1h-1zM167.47 512.28h1v1h-1zM178.17 524.33h1v1h-1zM142.29 526.81h1v1h-1zM174.59 513.66h1v1h-1zM170.56 516.98h1v1h-1zM157.48 516.22h1v1h-1zM171.55 506.3h1v1h-1zM146.22 507.5h1v1h-1zM192.07 508.83h1v1h-1zM151.52 510.29h1v1h-1zM165.6 507.46h1v1h-1zM169.21 518.04h1v1h-1zM151.49 509.79h1v1h-1zM160.48 504.66h1v1h-1zM167.58 523.79h1v1h-1zM144.31 528.5h1v1h-1zM154.48 523.86h1v1h-1zM155.93 509.81h1v1h-1zM148.03 523.61h1v1h-1zM179.52 505.06h1v1h-1zM183.49 518.19h1v1h-1zM174.33 527.29h1v1h-1zM144.92 506.47h1v1h-1zM174.82 513.5h1v1h-1zM145 510.94h1v1h-1zM148.48 523.83h1v1h-1zM171.21 519.03h1v1h-1zM159.25 527.84h1v1h-1zM169.51 504.9h1v1h-1zM187.58 506.68h1v1h-1zM158.06 529.56h1v1h-1zM159.45 523.83h1v1h-1zM172.5 516.02h1v1h-1zM173.13 525.28h1v1h-1zM174.53 507.8h1v1h-1zM153.17 505.21h1v1h-1zM154.76 521.36h1v1h-1zM168.48 511.96h1v1h-1zM153.78 516.01h1v1h-1zM150.28 517.52h1v1h-1zM146.01 509.87h1v1h-1zM154.06 504.6h1v1h-1zM149.89 505.02h1v1h-1zM171.39 524.74h1v1h-1zM146.68 529.11h1v1h-1zM147.54 509.88h1v1h-1zM160.25 511.33h1v1h-1zM155.99 517.52h1v1h-1zM163.27 505.61h1v1h-1zM165.92 517.36h1v1h-1zM171.98 520.76h1v1h-1zM155.63 504.15h1v1h-1zM146.4 507.83h1v1h-1zM186.16 519.41h1v1h-1zM162.98 512.62h1v1h-1zM146.88 510.65h1v1h-1zM168.02 525.22h1v1h-1zM175.29 519.69h1v1h-1zM158.55 508.94h1v1h-1zM159.33 514.62h1v1h-1zM141.74 522.91h1v1h-1zM165.75 519.01h1v1h-1zM169.5 510.54h1v1h-1zM144.09 505.33h1v1h-1zM161.77 516.75h1v1h-1zM185.49 515.82h1v1h-1zM150.34 505.39h1v1h-1zM155.15 521.76h1v1h-1zM183.95 516.35h1v1h-1zM166.23 516.49h1v1h-1zM153.22 521.48h1v1h-1zM177.32 507.15h1v1h-1zM182.26 518.16h1v1h-1zM142.33 519.31h1v1h-1zM178.06 511.93h1v1h-1zM160.59 520.26h1v1h-1zM154.49 522.46h1v1h-1zM157.22 513.23h1v1h-1zM148.6 509.34h1v1h-1zM161.28 524.01h1v1h-1zM158.05 514.15h1v1h-1zM160.93 510.95h1v1h-1zM182.35 519.25h1v1h-1zM144.15 525.87h1v1h-1zM182.43 514.02h1v1h-1zM186.77 514.32h1v1h-1zM147.51 523.94h1v1h-1zM187.42 516.37h1v1h-1zM143.02 509.87h1v1h-1zM158.71 502.85h1v1h-1zM146.34 522.52h1v1h-1zM146.59 517.59h1v1h-1zM152.53 527.39h1v1h-1zM174.7 508.46h1v1h-1zM183.66 509.09h1v1h-1zM165.43 505.95h1v1h-1zM187.85 512.71h1v1h-1zM170.09 524.44h1v1h-1zM166.25 509.41h1v1h-1zM165.6 519.76h1v1h-1zM166.82 507.62h1v1h-1zM190.82 507.83h1v1h-1zM176.12 511.7h1v1h-1zM181.85 511.51h1v1h-1zM177.68 517.18h1v1h-1zM161.23 515.25h1v1h-1zM151.39 512.88h1v1h-1zM172.69 520.69h1v1h-1zM155.34 512.44h1v1h-1zM147.11 524.6h1v1h-1zM146.41 522.89h1v1h-1zM146.08 522.47h1v1h-1zM154.13 521.37h1v1h-1zM161.9 515.12h1v1h-1zM180.65 506.58h1v1h-1zM176.31 505.64h1v1h-1zM179.94 505.85h1v1h-1zM173.23 520.79h1v1h-1zM147.09 513.58h1v1h-1zM156.43 505.52h1v1h-1zM155.86 505.23h1v1h-1zM145.58 511.42h1v1h-1zM147.88 504.59h1v1h-1zM175.91 515.91h1v1h-1zM174.54 510.96h1v1h-1zM143.62 516.26h1v1h-1zM148.35 528.33h1v1h-1zM189.24 514h1v1h-1zM146.97 523.96h1v1h-1zM174.04 514.25h1v1h-1zM144.15 526.37h1v1h-1zM163.37 504.21h1v1h-1zM150.23 522.98h1v1h-1zM150.94 527.03h1v1h-1zM171.78 507.33h1v1h-1zM179.84 521.35h1v1h-1zM180.73 511.3h1v1h-1zM164.44 518.54h1v1h-1zM152.88 517.42h1v1h-1zM166.58 523.59h1v1h-1zM186.82 507.91h1v1h-1zM146.52 527h1v1h-1zM156.33 513.8h1v1h-1zM153.63 517.88h1v1h-1zM169.04 504.94h1v1h-1zM159.17 519.68h1v1h-1zM153.75 507.55h1v1h-1zM160.54 506.67h1v1h-1zM172.72 506.73h1v1h-1zM170.04 517.38h1v1h-1zM157.07 526.6h1v1h-1zM165.7 505.1h1v1h-1zM167.18 513.74h1v1h-1zM159.63 528.98h1v1h-1zM152.09 529.83h1v1h-1zM161.17 508.06h1v1h-1zM167.59 515.03h1v1h-1zM167.78 515.01h1v1h-1zM152.35 528.58h1v1h-1zM144.11 530.46h1v1h-1zM176.91 507.43h1v1h-1zM146.55 511.74h1v1h-1zM186.74 517.27h1v1h-1zM150.27 527.25h1v1h-1zM143.6 517.31h1v1h-1zM168.2 522.86h1v1h-1zM169.49 519.92h1v1h-1zM153.02 504.68h1v1h-1zM163.14 521.26h1v1h-1zM182.77 518.48h1v1h-1zM170.86 504.67h1v1h-1zM158.88 512.83h1v1h-1zM184.5 503.06h1v1h-1zM141.7 520.42h1v1h-1zM160.85 519.12h1v1h-1zM166.45 511.53h1v1h-1zM181.04 514.99h1v1h-1zM156.41 519.22h1v1h-1zM144.45 508.84h1v1h-1zM183.39 519.77h1v1h-1zM189.18 510.95h1v1h-1zM154.07 507.21h1v1h-1zM176.5 516.96h1v1h-1zM162.25 512.74h1v1h-1zM161.92 527.4h1v1h-1zM146.51 510.3h1v1h-1zM186.5 519.56h1v1h-1zM185.99 515.31h1v1h-1zM189.83 515.85h1v1h-1zM151.38 528.97h1v1h-1zM141.83 518.37h1v1h-1zM180.16 518.86h1v1h-1zM177.84 516.86h1v1h-1zM170.67 519.71h1v1h-1zM166.82 524.9h1v1h-1zM167.27 517.06h1v1h-1zM142.8 520.55h1v1h-1zM171.46 502.82h1v1h-1zM184.04 522.76h1v1h-1zM152.23 517.51h1v1h-1zM143.12 510.63h1v1h-1zM158.59 508.35h1v1h-1zM154.15 516.34h1v1h-1zM180.83 508.08h1v1h-1zM154.01 507.08h1v1h-1zM152.01 526.81h1v1h-1zM171.73 508.36h1v1h-1zM147.07 513.92h1v1h-1zM155.04 517.42h1v1h-1zM158.22 526.12h1v1h-1zM164.22 521.34h1v1h-1zM182.22 506.44h1v1h-1zM148.55 529.27h1v1h-1zM184.32 515.71h1v1h-1zM167.35 510.26h1v1h-1zM177 520.35h1v1h-1zM148.09 518.01h1v1h-1zM145.9 503.41h1v1h-1zM153.98 526.7h1v1h-1zM173.85 518.41h1v1h-1zM177.42 513.71h1v1h-1zM159.17 519.43h1v1h-1zM160.57 521.17h1v1h-1zM186.19 512.38h1v1h-1zM184.09 509.27h1v1h-1zM154.62 509.82h1v1h-1zM189.51 505.47h1v1h-1zM172.08 524.29h1v1h-1zM161.39 512.37h1v1h-1zM150.58 516.89h1v1h-1zM157.75 519.71h1v1h-1zM168.66 506.59h1v1h-1zM160.97 515.42h1v1h-1zM177.58 502.92h1v1h-1zM142.67 503.86h1v1h-1zM165.34 516.17h1v1h-1zM186.8 514.12h1v1h-1zM160.91 508.65h1v1h-1zM157.04 509.24h1v1h-1zM153.8 505.94h1v1h-1zM148.08 503.42h1v1h-1zM152.61 521.53h1v1h-1zM173 513.63h1v1h-1zM183.25 508.76h1v1h-1zM188.69 510.45h1v1h-1zM155.2 515.72h1v1h-1zM158.55 515.75h1v1h-1zM167.14 502.67h1v1h-1zM145.79 506.84h1v1h-1zM161.89 511.64h1v1h-1zM151.02 508.75h1v1h-1zM143.45 507.07h1v1h-1zM148.62 516.87h1v1h-1zM171.42 509.02h1v1h-1zM148.33 513.32h1v1h-1zM148.59 506.17h1v1h-1zM148.34 507.96h1v1h-1zM147.75 523.53h1v1h-1zM188.05 513.04h1v1h-1zM142.16 512.96h1v1h-1zM185.43 504.14h1v1h-1zM153.2 522.6h1v1h-1zM171.18 517.5h1v1h-1zM171.19 525.15h1v1h-1zM177.12 523.6h1v1h-1zM183.37 507.28h1v1h-1zM149.14 518.25h1v1h-1zM179.16 509.99h1v1h-1zM163.23 508.92h1v1h-1zM149.86 511.04h1v1h-1zM174.31 520.11h1v1h-1zM170.95 508.7h1v1h-1zM184.09 519.98h1v1h-1zM183.2 515.25h1v1h-1zM179.93 506.94h1v1h-1zM154.7 520.51h1v1h-1zM156.26 527.98h1v1h-1zM160.78 518.4h1v1h-1zM173.33 504.6h1v1h-1zM151.92 529.35h1v1h-1zM183.91 515.34h1v1h-1zM156.91 521.79h1v1h-1zM157.8 526.19h1v1h-1zM162.51 508.43h1v1h-1zM182.32 523.21h1v1h-1zM176.86 521.28h1v1h-1zM164.59 509.94h1v1h-1zM157.6 508.96h1v1h-1zM163.4 513.23h1v1h-1zM166.73 521.18h1v1h-1zM159.16 527.96h1v1h-1zM145.62 529.89h1v1h-1zM152.09 521.78h1v1h-1zM180.51 523.6h1v1h-1zM184.24 515.39h1v1h-1zM164.11 528.56h1v1h-1zM174 509.22h1v1h-1zM149.3 528.16h1v1h-1zM163.4 516.97h1v1h-1zM161.37 527.56h1v1h-1zM146.22 525.23h1v1h-1zM173.84 504.41h1v1h-1zM191.44 513.66h1v1h-1zM142.12 520.84h1v1h-1zM156.69 505.53h1v1h-1zM183.64 517.83h1v1h-1zM158.47 512.14h1v1h-1zM141.81 529.98h1v1h-1zM183.66 509.48h1v1h-1zM151.88 509.51h1v1h-1zM152.98 529.96h1v1h-1zM181.28 524.05h1v1h-1zM187.08 508.43h1v1h-1zM164.13 503.26h1v1h-1zM170.78 510.12h1v1h-1zM162.81 526.43h1v1h-1zM156.24 518.88h1v1h-1zM166.3 526.18h1v1h-1zM165.62 526.99h1v1h-1zM173.62 507.92h1v1h-1zM182.27 502.8h1v1h-1z" fill="#33369a" fill-opacity="0.5"/>
<path d="M174.69 517.16h1v1h-1zM184.28 522.3h1v1h-1zM152.01 523.99h1v1h-1zM171.61 513.21h1v1h-1zM161.02 521.43h1v1h-1zM191.42 507.02h1v1h-1zM168.71 518.35h1v1h-1zM178.65 505.53h1v1h-1zM180.48 519.48h1v1h-1zM152.86 527.21h1v1h-1zM178.6 520.71h1v1h-1zM175.17 506.78h1v1h-1zM163.8 525.65h1v1h-1zM141.96 526.39h1v1h-1zM164.08 513.95h1v1h-1zM152.23 503.76h1v1h-1zM184.49 513.91h1v1h-1zM185.57 506.4h1v1h-1zM185.2 506.36h1v1h-1zM156.44 520.35h1v1h-1zM158.93 524.14h1v1h-1zM187.39 516.77h1v1h-1zM141.76 511.99h1v1h-1zM170.5 510.02h1v1h-1zM154.7 523.44h1v1h-1zM166 520.85h1v1h-1zM175.93 507.17h1v1h-1zM182.57 506.67h1v1h-1zM144.13 523.42h1v1h-1zM185.18 517.16h1v1h-1zM181.31 506.73h1v1h-1zM182.78 522.82h1v1h-1zM169.98 524.68h1v1h-1zM168.39 518.4h1v1h-1zM147.68 516.39h1v1h-1zM142.44 512.13h1v1h-1zM161.1 514.33h1v1h-1zM164.14 502.59h1v1h-1zM176.74 524.02h1v1h-1zM159.81 517.52h1v1h-1zM169.38 512.75h1v1h-1zM161.83 515.26h1v1h-1zM158.24 528.5h1v1h-1zM161.39 514.61h1v1h-1zM180.2 516.13h1v1h-1zM156.58 516.63h1v1h-1zM170.55 512.74h1v1h-1zM164.86 511.35h1v1h-1zM170.49 502.88h1v1h-1zM147.08 519.09h1v1h-1zM178.41 525.02h1v1h-1zM169.94 512.74h1v1h-1zM141.97 517.26h1v1h-1zM184.59 512.1h1v1h-1zM169.61 514.19h1v1h-1zM145.7 505.54h1v1h-1zM170.28 528.16h1v1h-1zM155.63 504.13h1v1h-1zM170.29 517.08h1v1h-1zM174.61 505.59h1v1h-1zM154.91 524.13h1v1h-1zM158.6 520.99h1v1h-1zM191.63 507.33h1v1h-1zM180.06 511.78h1v1h-1zM157.98 523.6h1v1h-1zM149.79 518.43h1v1h-1zM144.95 511.95h1v1h-1zM161.23 503.98h1v1h-1zM175.79 521.26h1v1h-1zM151.76 507.31h1v1h-1zM158.34 516.82h1v1h-1zM171.84 524.9h1v1h-1zM161.53 525.36h1v1h-1zM163.72 517.65h1v1h-1zM158.44 516.28h1v1h-1zM173.93 521.3h1v1h-1zM146.92 518.54h1v1h-1zM143.12 521.42h1v1h-1zM182.02 516.72h1v1h-1zM155.47 525.15h1v1h-1zM186.06 513.8h1v1h-1zM186.95 507.6h1v1h-1zM173.93 523.02h1v1h-1zM162.77 514.4h1v1h-1zM160.53 508.78h1v1h-1zM189.21 509.48h1v1h-1zM171.78 514.42h1v1h-1zM179.13 514.95h1v1h-1zM170.39 512.1h1v1h-1zM152.14 528.49h1v1h-1zM180.15 519.09h1v1h-1zM163.21 520.82h1v1h-1zM164.62 517.37h1v1h-1zM145.37 513.13h1v1h-1zM186.42 511.39h1v1h-1zM185.12 514.04h1v1h-1zM149.51 503.92h1v1h-1zM183.22 516.08h1v1h-1zM147.02 523.7h1v1h-1zM146.09 523.4h1v1h-1zM169.34 524.72h1v1h-1zM168.45 511.14h1v1h-1zM185.86 510.8h1v1h-1zM155.8 517.18h1v1h-1zM174.15 524.1h1v1h-1zM174.05 523.18h1v1h-1zM154.25 511.6h1v1h-1zM173.44 507.84h1v1h-1zM144.16 509.16h1v1h-1zM160.26 529.21h1v1h-1zM167.28 517.32h1v1h-1zM157.09 525.15h1v1h-1zM143.19 505.53h1v1h-1zM171.1 504.1h1v1h-1zM183.62 517.66h1v1h-1zM168.67 521.93h1v1h-1zM143.41 512.21h1v1h-1zM174.7 505h1v1h-1zM187.93 517.66h1v1h-1zM149.52 509.92h1v1h-1zM191.93 511.2h1v1h-1zM171.74 515.41h1v1h-1zM180.77 516.58h1v1h-1zM187.39 515.95h1v1h-1zM146.13 519.33h1v1h-1zM149.14 509.06h1v1h-1zM161.2 516.69h1v1h-1zM177.9 521.05h1v1h-1zM189.3 513.01h1v1h-1zM165.54 508.71h1v1h-1zM190.58 506.98h1v1h-1zM164.61 508.5h1v1h-1zM180.9 524.07h1v1h-1zM166.37 515.03h1v1h-1zM187.1 515.84h1v1h-1zM154.61 527.78h1v1h-1zM153.83 505.14h1v1h-1zM173.36 520.36h1v1h-1zM156.63 517.93h1v1h-1zM141.81 520.37h1v1h-1zM157.03 520.43h1v1h-1zM151.67 512.98h1v1h-1zM159.59 503.85h1v1h-1zM169.11 522.7h1v1h-1zM183.21 505.17h1v1h-1zM175.82 503.7h1v1h-1zM176.22 506.95h1v1h-1zM177.98 522.84h1v1h-1zM163.44 514.32h1v1h-1zM162.39 516.21h1v1h-1zM148.62 515.61h1v1h-1zM149.94 527.74h1v1h-1zM178.43 509.37h1v1h-1zM179.73 520.26h1v1h-1zM150.97 523.45h1v1h-1zM191.49 507.96h1v1h-1zM149.98 527.68h1v1h-1zM166.67 517.32h1v1h-1zM144.69 523.24h1v1h-1zM187.45 515.19h1v1h-1zM161.27 505.33h1v1h-1zM155.35 505.76h1v1h-1zM166.92 505.31h1v1h-1zM163.02 504.73h1v1h-1zM175.62 518.07h1v1h-1zM149.76 510.77h1v1h-1zM142.59 513.96h1v1h-1zM160.34 507.06h1v1h-1zM181.9 515.58h1v1h-1zM168.22 519.03h1v1h-1zM154.09 523.17h1v1h-1zM187.21 505.6h1v1h-1zM172.68 511.62h1v1h-1zM147.45 524.25h1v1h-1zM176.73 506.26h1v1h-1zM147.77 512.22h1v1h-1zM143.5 507.11h1v1h-1zM164.46 510.63h1v1h-1zM167.56 507.32h1v1h-1zM156.14 529.54h1v1h-1zM171.93 505.31h1v1h-1zM149.03 508.81h1v1h-1zM180.24 503.85h1v1h-1zM160.7 514.96h1v1h-1zM157.91 512.7h1v1h-1zM149.03 520.24h1v1h-1zM168.31 513.27h1v1h-1zM148.66 516.22h1v1h-1zM174.39 514.66h1v1h-1zM163.79 516.9h1v1h-1zM166.31 520.65h1v1h-1zM157.14 521.13h1v1h-1zM183 521.65h1v1h-1zM175.63 509.14h1v1h-1zM160.38 518.42h1v1h-1zM174.4 517.33h1v1h-1zM175.24 504.17h1v1h-1zM184.65 507.14h1v1h-1zM171.76 512.69h1v1h-1zM145.65 509.04h1v1h-1zM176.4 512.96h1v1h-1zM183.22 519.08h1v1h-1zM171.57 520.72h1v1h-1zM143.38 505.79h1v1h-1zM159.17 512.26h1v1h-1zM176.98 505.57h1v1h-1zM182.1 521.22h1v1h-1zM165.3 519.54h1v1h-1zM142.14 517.88h1v1h-1zM183.09 508.01h1v1h-1zM146.82 507.1h1v1h-1zM157.88 508.19h1v1h-1zM184.65 520.38h1v1h-1zM143.75 519.92h1v1h-1zM160.89 509.83h1v1h-1zM161.85 510.43h1v1h-1zM156.41 529.51h1v1h-1zM144.46 517.13h1v1h-1zM163.96 525.08h1v1h-1zM162.3 504.12h1v1h-1zM186.33 510.09h1v1h-1zM161.84 521.69h1v1h-1zM163.7 505.64h1v1h-1zM169.54 507.7h1v1h-1zM185.03 508.48h1v1h-1zM154.28 517.03h1v1h-1zM169.08 506.22h1v1h-1zM164.94 516.08h1v1h-1zM145.49 506.86h1v1h-1zM189.36 510.67h1v1h-1zM167.26 515.59h1v1h-1zM177.17 508.19h1v1h-1zM182.21 523.99h1v1h-1zM180.15 520.7h1v1h-1zM174.22 521.75h1v1h-1zM157.65 520.17h1v1h-1zM153.11 528.04h1v1h-1zM160.06 516.8h1v1h-1zM160.19 509.44h1v1h-1zM173.78 504.19h1v1h-1zM154 508.8h1v1h-1zM157.76 516.88h1v1h-1zM186.13 513.45h1v1h-1zM173.25 523.44h1v1h-1zM158.21 505.05h1v1h-1zM160.62 505.53h1v1h-1zM166.79 522.27h1v1h-1zM173.92 527.41h1v1h-1zM183.39 504.76h1v1h-1zM143.53 514.2h1v1h-1zM150.18 503.07h1v1h-1zM172.14 521.07h1v1h-1zM142.71 516.75h1v1h-1zM176.42 518.74h1v1h-1zM156.18 507.32h1v1h-1zM156.2 521.22h1v1h-1zM180.05 520.62h1v1h-1zM152.77 509.24h1v1h-1zM144.5 523.56h1v1h-1zM183.62 519.18h1v1h-1zM142.89 526.79h1v1h-1zM187.64 511.39h1v1h-1zM149.44 529.58h1v1h-1zM161.42 512.5h1v1h-1zM164.23 528.69h1v1h-1zM184.75 507.53h1v1h-1zM182.54 516.73h1v1h-1zM181.35 503.19h1v1h-1zM181.34 513.14h1v1h-1zM150.45 520.15h1v1h-1zM151.93 527.2h1v1h-1zM178.96 505.9h1v1h-1zM158.72 521.86h1v1h-1zM155.42 518.55h1v1h-1zM178.32 521.5h1v1h-1zM160.07 507.72h1v1h-1zM153.18 520.78h1v1h-1zM180.07 519.81h1v1h-1zM143.31 510.07h1v1h-1zM155.6 504.78h1v1h-1zM150.51 505.66h1v1h-1zM169 507.28h1v1h-1zM143.21 530.19h1v1h-1zM188.63 511.37h1v1h-1zM182.02 520.57h1v1h-1zM187.35 506.79h1v1h-1zM143.78 526.02h1v1h-1zM163.3 527.02h1v1h-1zM166.97 510.95h1v1h-1zM166.06 524.94h1v1h-1zM170.8 514.4h1v1h-1zM174.24 526.8h1v1h-1zM146.06 503.59h1v1h-1zM163.68 520.8h1v1h-1zM158.58 506.17h1v1h-1zM162.7 527.87h1v1h-1zM181.18 511.01h1v1h-1zM144.99 525.05h1v1h-1zM164.46 515.95h1v1h-1zM184.92 510.31h1v1h-1zM146.07 521.58h1v1h-1zM144.37 518.4h1v1h-1zM151.05 520.11h1v1h-1zM145.8 505.61h1v1h-1zM147.76 529.77h1v1h-1zM179.81 511.17h1v1h-1zM162.11 517.34h1v1h-1zM167.07 506.72h1v1h-1zM164.96 519.96h1v1h-1zM177.71 504.48h1v1h-1zM141.81 519.8h1v1h-1zM161.75 510.8h1v1h-1zM153.67 509.37h1v1h-1zM144.45 519.77h1v1h-1zM171.3 508.35h1v1h-1zM185.67 510.48h1v1h-1zM173.36 521.4h1v1h-1zM173.88 506.09h1v1h-1zM161.3 526.46h1v1h-1zM172.28 509.71h1v1h-1zM152.69 509.27h1v1h-1zM165.03 509.91h1v1h-1zM145.87 519.52h1v1h-1zM159.16 515.22h1v1h-1zM142.86 505.17h1v1h-1zM164.11 513.79h1v1h-1zM159.31 529.04h1v1h-1zM150.2 521.93h1v1h-1zM142.1 510.04h1v1h-1zM166.39 517.24h1v1h-1zM168.62 526.83h1v1h-1zM145.43 524.52h1v1h-1zM178.42 505.44h1v1h-1zM160.38 514.78h1v1h-1zM178.48 519.34h1v1h-1zM167.43 503.78h1v1h-1zM179.88 512.01h1v1h-1zM151.03 516.27h1v1h-1zM154.3 522.36h1v1h-1zM186.87 508.35h1v1h-1zM142.67 516.75h1v1h-1zM143.16 511.02h1v1h-1zM157.6 520.75h1v1h-1zM146.13 508.52h1v1h-1zM157.03 523.01h1v1h-1zM145.75 511.29h1v1h-1zM178.24 506.61h1v1h-1zM184.25 520.24h1v1h-1zM172.76 508.11h1v1h-1zM175.39 507.57h1v1h-1zM156.86 527.93h1v1h-1zM175.36 513.14h1v1h-1zM174.22 505.07h1v1h-1zM144.77 503.29h1v1h-1zM184.44 518.41h1v1h-1zM141.87 527.18h1v1h-1zM150.41 527.1h1v1h-1zM184.03 513.47h1v1h-1zM170.26 512.13h1v1h-1zM164.99 517.2h1v1h-1zM158.44 503.14h1v1h-1zM157.52 520.22h1v1h-1zM172.09 519.91h1v1h-1zM159.47 529.23h1v1h-1zM167.41 519.1h1v1h-1zM159.12 525.87h1v1h-1zM180.58 503.93h1v1h-1zM151.61 520.41h1v1h-1zM183.02 513.07h1v1h-1zM183.53 518.22h1v1h-1zM161.44 509.66h1v1h-1zM164.81 526.07h1v1h-1zM143.78 530.27h1v1h-1zM165.28 523.97h1v1h-1zM170.82 524.94h1v1h-1zM179.84 514.92h1v1h-1zM157.54 515.41h1v1h-1zM152.86 528.6h1v1h-1zM177.67 513.51h1v1h-1zM150.05 521.37h1v1h-1zM187.54 514.28h1v1h-1zM174.58 503.13h1v1h-1zM170.57 520.7h1v1h-1zM185.31 504.47h1v1h-1zM178.8 513.82h1v1h-1zM157.64 519.9h1v1h-1zM171.66 524.28h1v1h-1zM182.04 508.96h1v1h-1zM159.63 518.16h1v1h-1zM186.18 510.69h1v1h-1zM160.06 515.21h1v1h-1zM174.35 512.07h1v1h-1zM180.55 522.71h1v1h-1zM190.37 511.39h1v1h-1zM175.47 502.7h1v1h-1zM145.69 517.56h1v1h-1zM149.71 504.94h1v1h-1zM186.78 517.03h1v1h-1zM176.7 504.54h1v1h-1zM159.36 518.46h1v1h-1zM170.84 514.21h1v1h-1zM161.81 528.42h1v1h-1zM185.46 512.79h1v1h-1zM160.64 527h1v1h-1zM189.87 509.33h1v1h-1zM146.5 516.25h1v1h-1zM177.02 508.94h1v1h-1zM168.81 509.51h1v1h-1zM185.08 505.19h1v1h-1zM180.37 509.55h1v1h-1zM145.29 507.26h1v1h-1zM148.65 529.96h1v1h-1zM148.91 524.8h1v1h-1zM172.61 515.37h1v1h-1zM172.53 519.16h1v1h-1zM167.79 524.38h1v1h-1zM174.94 505.46h1v1h-1zM188 513.06h1v1h-1zM188.47 511.39h1v1h-1zM145.12 530.36h1v1h-1zM151.41 520.67h1v1h-1zM171.99 505.3h1v1h-1zM159.55 526.73h1v1h-1zM184.65 512.75h1v1h-1zM179.15 512.6h1v1h-1zM159.65 521.62h1v1h-1zM186.69 513.3h1v1h-1zM167.92 511.34h1v1h-1zM183.89 511.38h1v1h-1zM177.51 506.42h1v1h-1zM158.19 524.82h1v1h-1zM185.13 506.81h1v1h-1zM169.24 509.06h1v1h-1zM176.97 518.6h1v1h-1zM178.34 516.27h1v1h-1zM150.15 510.56h1v1h-1zM160.81 514.28h1v1h-1zM165.43 511.52h1v1h-1zM165.2 523.54h1v1h-1zM145.78 514.86h1v1h-1zM159.52 503.25h1v1h-1zM148.89 522.09h1v1h-1zM168.71 522.4h1v1h-1zM188.09 515.63h1v1h-1zM173.96 526.36h1v1h-1zM162.8 505.33h1v1h-1zM152.49 522.93h1v1h-1zM169.64 524.53h1v1h-1zM171.16 512.98h1v1h-1zM166.92 503.4h1v1h-1zM184.48 520.42h1v1h-1zM147.42 507.24h1v1h-1zM190.66 512.09h1v1h-1zM186.4 512.57h1v1h-1zM159.4 514.72h1v1h-1zM183.29 507.38h1v1h-1zM154.79 512.55h1v1h-1zM165.33 526.58h1v1h-1zM159.58 516.48h1v1h-1zM184.76 506.95h1v1h-1zM183.31 521.15h1v1h-1zM156.98 523.52h1v1h-1zM142.96 529.63h1v1h-1zM152.12 527.56h1v1h-1zM166.01 516.79h1v1h-1zM159.53 526.31h1v1h-1zM185.71 507.1h1v1h-1zM183.08 513.08h1v1h-1zM169.12 510.21h1v1h-1zM155.22 521.85h1v1h-1zM153.68 509.51h1v1h-1zM176.8 503.13h1v1h-1zM170.42 525.09h1v1h-1zM168.12 516.36h1v1h-1zM181.26 522.07h1v1h-1zM160.06 520.14h1v1h-1zM145.74 520.33h1v1h-1zM151.99 503.17h1v1h-1zM181.52 508.82h1v1h-1zM153.31 512.5h1v1h-1zM142.06 520.99h1v1h-1zM173.39 521.53h1v1h-1zM168.38 521.88h1v1h-1zM160.79 508.06h1v1h-1zM152.27 518.23h1v1h-1zM183.96 518.7h1v1h-1zM155.92 504.35h1v1h-1zM172.6 505.76h1v1h-1zM183.51 506.12h1v1h-1zM181.23 506.83h1v1h-1zM189.61 506.31h1v1h-1zM174.6 512.15h1v1h-1zM155.73 518.89h1v1h-1zM188.84 514.17h1v1h-1zM174.94 516.18h1v1h-1zM156.86 511.87h1v1h-1z" fill="#26358e" fill-opacity="0.5"/>
<path d="M145.51 503.61h1v1h-1zM165.65 516.65h1v1h-1zM168.1 509.39h1v1h-1zM168.65 503.44h1v1h-1zM166.82 521.49h1v1h-1zM145.93 525.39h1v1h-1zM182.23 515.33h1v1h-1zM161.57 527.66h1v1h-1zM149.09 505.1h1v1h-1zM187.72 509.25h1v1h-1zM176.69 514.81h1v1h-1zM174.18 522.86h1v1h-1zM157.58 528.39h1v1h-1zM157.31 514.21h1v1h-1zM161.5 504.81h1v1h-1zM169.29 512.82h1v1h-1zM183.72 517.12h1v1h-1zM176.77 508.47h1v1h-1zM155.5 515.87h1v1h-1zM156.77 515.02h1v1h-1zM166.13 505.97h1v1h-1zM145.51 505.45h1v1h-1zM150.23 516.46h1v1h-1zM174.56 524.1h1v1h-1zM169.64 522.99h1v1h-1zM159.98 528.28h1v1h-1zM184.57 511.27h1v1h-1zM176.9 506.93h1v1h-1zM169.48 512.43h1v1h-1zM157.98 523.44h1v1h-1zM165.75 521.09h1v1h-1zM169.1 517.19h1v1h-1zM160.27 521.72h1v1h-1zM172.79 508.4h1v1h-1zM173.33 514.71h1v1h-1zM149.02 522.77h1v1h-1zM174.8 519.56h1v1h-1zM146.37 521.79h1v1h-1zM154.86 508.59h1v1h-1zM163.81 502.66h1v1h-1zM166.53 525.3h1v1h-1zM165.67 507.31h1v1h-1zM157.5 526.55h1v1h-1zM160.25 517.26h1v1h-1zM158.52 528.14h1v1h-1zM189.22 506.56h1v1h-1zM152.67 508.88h1v1h-1zM173.82 517.17h1v1h-1zM168.11 512.77h1v1h-1zM165.02 521.98h1v1h-1zM180.65 517.03h1v1h-1zM189.79 507.3h1v1h-1zM165.58 518.43h1v1h-1zM162.54 514.78h1v1h-1zM183.23 503.01h1v1h-1zM176.98 522.58h1v1h-1zM151.18 519.04h1v1h-1zM191.98 511.88h1v1h-1zM155.36 514.78h1v1h-1zM145.12 526.43h1v1h-1zM177.95 519.06h1v1h-1zM154.35 517.95h1v1h-1zM154.87 524.98h1v1h-1zM182.44 502.81h1v1h-1zM172.9 518.83h1v1h-1zM171.39 526.27h1v1h-1zM159.78 504.96h1v1h-1zM163.79 503.27h1v1h-1zM166.29 505.93h1v1h-1zM146.94 515.46h1v1h-1zM160.3 519.97h1v1h-1zM143.29 526.93h1v1h-1zM159.17 525.23h1v1h-1zM163.92 508.16h1v1h-1zM153.43 520.45h1v1h-1zM160.87 509.31h1v1h-1zM145.73 527.29h1v1h-1zM159.52 502.9h1v1h-1zM166.62 504.7h1v1h-1zM167.73 506.69h1v1h-1zM153.64 519.25h1v1h-1zM160.68 518.62h1v1h-1zM159.98 507.61h1v1h-1zM168.13 518.07h1v1h-1zM154.78 529.47h1v1h-1zM157.32 516.25h1v1h-1zM147.25 528.53h1v1h-1zM183.77 509.22h1v1h-1zM161.93 508.54h1v1h-1zM186.13 516.6h1v1h-1zM145.47 524.05h1v1h-1zM179.98 517.76h1v1h-1zM174.85 513.37h1v1h-1zM171.71 508.07h1v1h-1zM179.79 510.99h1v1h-1zM158.96 520.59h1v1h-1zM170.76 513.16h1v1h-1zM143.67 516.63h1v1h-1zM168 502.77h1v1h-1zM143.02 527.42h1v1h-1zM190.11 508.42h1v1h-1zM171.49 516.91h1v1h-1zM160.04 514.08h1v1h-1zM183.1 519.16h1v1h-1zM161.84 512.73h1v1h-1zM170.5 504.06h1v1h-1zM175.83 513.18h1v1h-1zM164.72 526.2h1v1h-1zM165.38 518.45h1v1h-1zM176.07 514.81h1v1h-1zM185.01 511.33h1v1h-1zM151.58 505.77h1v1h-1zM164.51 522.7h1v1h-1zM147.17 528.8h1v1h-1zM152.37 522.01h1v1h-1zM178.07 524.71h1v1h-1zM175.73 517.68h1v1h-1zM143.04 523.97h1v1h-1zM145.99 527.66h1v1h-1zM178.72 509.91h1v1h-1zM190.16 514.34h1v1h-1zM171.17 511.11h1v1h-1zM169.32 504.57h1v1h-1zM173.33 510.48h1v1h-1zM166.73 517.15h1v1h-1zM147.41 508.76h1v1h-1zM145.64 523.09h1v1h-1zM189.52 512.76h1v1h-1zM187.66 510.29h1v1h-1zM172.24 526.72h1v1h-1zM155.72 512.24h1v1h-1zM162.68 524.84h1v1h-1zM174.37 518.47h1v1h-1zM170.12 507.82h1v1h-1zM151.93 524.53h1v1h-1zM154.02 525.02h1v1h-1zM160.57 507.56h1v1h-1zM171.71 508.02h1v1h-1zM178.71 512.67h1v1h-1zM158.76 503.17h1v1h-1zM143.58 517.31h1v1h-1zM142.03 526.49h1v1h-1zM156.38 514.81h1v1h-1zM167.5 527.07h1v1h-1zM152.66 519h1v1h-1zM173.01 513.79h1v1h-1zM150.72 512.08h1v1h-1zM157.82 524.97h1v1h-1zM141.75 508.64h1v1h-1zM159.96 526.86h1v1h-1zM142.6 522.04h1v1h-1zM154.27 529.13h1v1h-1zM169.68 526.52h1v1h-1zM163.36 503.87h1v1h-1zM192.13 510.56h1v1h-1zM174.57 508.11h1v1h-1zM186.48 517.1h1v1h-1zM179.06 519.86h1v1h-1zM173.42 507.01h1v1h-1zM159.39 513.8h1v1h-1zM142.37 526.87h1v1h-1zM174.47 504.25h1v1h-1zM147.1 518.64h1v1h-1zM176.59 521.07h1v1h-1zM188.29 518.14h1v1h-1zM190.7 513.14h1v1h-1zM149.77 505.72h1v1h-1zM171.21 513.9h1v1h-1zM161.71 515.71h1v1h-1zM188.91 508.34h1v1h-1zM157.47 516.1h1v1h-1zM188.25 507.91h1v1h-1zM150.88 513.07h1v1h-1zM172.16 512.27h1v1h-1zM161.79 520.18h1v1h-1zM142.2 505.13h1v1h-1zM143.57 527.14h1v1h-1zM153.93 513.53h1v1h-1zM154.9 511.13h1v1h-1zM186.88 507.32h1v1h-1zM174.16 524.18h1v1h-1zM166.35 513.12h1v1h-1zM152.17 520.87h1v1h-1zM168.51 508.15h1v1h-1zM164.35 503.48h1v1h-1zM186.47 503.99h1v1h-1zM154.88 515.28h1v1h-1zM173.1 507.6h1v1h-1zM143.43 519.08h1v1h-1zM186.43 506.6h1v1h-1zM189.28 507.65h1v1h-1zM185.26 508.34h1v1h-1zM153.25 527.57h1v1h-1zM148.48 513.32h1v1h-1zM160.11 520.27h1v1h-1zM164.97 505.73h1v1h-1zM173.51 505.69h1v1h-1zM178.82 521.22h1v1h-1zM169.9 520.53h1v1h-1zM154.01 509.58h1v1h-1zM185.66 504.49h1v1h-1zM153.53 515.99h1v1h-1zM185.8 518.5h1v1h-1zM148.62 528.61h1v1h-1zM157.73 509.12h1v1h-1zM155.6 504.07h1v1h-1zM180.1 519.37h1v1h-1zM183.39 522.02h1v1h-1zM189.92 510.69h1v1h-1zM165.63 507.91h1v1h-1zM169.19 526.14h1v1h-1zM157.76 517.2h1v1h-1zM146.16 510.92h1v1h-1zM148.37 515.68h1v1h-1zM172.86 514.73h1v1h-1zM164.31 510.82h1v1h-1zM167.4 511.52h1v1h-1zM169.03 512.1h1v1h-1zM153.54 505.61h1v1h-1zM152.21 505.81h1v1h-1zM155.56 525.1h1v1h-1zM178.36 519.09h1v1h-1zM178.46 508.29h1v1h-1zM171.61 522.78h1v1h-1zM148.19 503.46h1v1h-1zM175.73 503.94h1v1h-1zM144.32 511.02h1v1h-1zM159.26 513.34h1v1h-1zM174.94 515.99h1v1h-1zM167.08 520.69h1v1h-1zM174.68 517.59h1v1h-1zM179.17 524.4h1v1h-1zM162.4 519.46h1v1h-1zM169.77 508.73h1v1h-1zM146.52 508.24h1v1h-1zM149.24 525.84h1v1h-1zM171.51 518.72h1v1h-1zM186.95 507.34h1v1h-1zM141.79 511.91h1v1h-1zM155.96 528.04h1v1h-1zM176.59 504.71h1v1h-1zM183.61 510.93h1v1h-1zM171.99 526.36h1v1h-1zM166.27 521.4h1v1h-1zM146.35 516.86h1v1h-1zM182.29 519.17h1v1h-1zM141.8 518.72h1v1h-1zM185.35 505.44h1v1h-1zM180.72 509.3h1v1h-1zM152.7 513.81h1v1h-1zM185.14 520.58h1v1h-1zM152.62 515.3h1v1h-1zM172.49 527.43h1v1h-1zM183.82 510.23h1v1h-1zM151.28 520.17h1v1h-1zM185.83 518.34h1v1h-1zM146.63 505.97h1v1h-1zM150.84 508.93h1v1h-1zM163.76 514.67h1v1h-1zM169.98 512.52h1v1h-1zM165.16 513.96h1v1h-1zM155.74 524.78h1v1h-1zM156.19 522.27h1v1h-1zM149.69 529.52h1v1h-1zM179.07 518.65h1v1h-1zM177.51 515.41h1v1h-1zM180.71 502.97h1v1h-1zM146.82 503.87h1v1h-1zM181.68 524.18h1v1h-1zM167.59 507.48h1v1h-1zM175.51 523.96h1v1h-1zM164.77 513.23h1v1h-1zM154.29 527.35h1v1h-1zM143.43 504.49h1v1h-1zM177.16 521.27h1v1h-1zM151 517.8h1v1h-1zM175.64 519.09h1v1h-1zM167.13 512.45h1v1h-1zM147.44 504.09h1v1h-1zM183.61 508.89h1v1h-1zM145.42 512.47h1v1h-1zM168.99 520.4h1v1h-1zM171.89 521.96h1v1h-1zM178.19 518.26h1v1h-1zM142.65 515.15h1v1h-1zM146.56 516.58h1v1h-1zM165.6 516.22h1v1h-1zM190.03 510.58h1v1h-1zM156.27 502.88h1v1h-1zM150.31 505.98h1v1h-1zM183.99 506.11h1v1h-1zM173.24 504.83h1v1h-1zM160.49 523.23h1v1h-1zM182.88 516.22h1v1h-1zM192.5 508.81h1v1h-1zM180.94 520.57h1v1h-1zM179.67 515.73h1v1h-1zM183.09 521.04h1v1h-1zM163.59 524.91h1v1h-1zM168.73 503.79h1v1h-1zM155.26 505.72h1v1h-1zM158.02 513.99h1v1h-1zM143.32 513.83h1v1h-1zM176.13 504.49h1v1h-1zM144.18 522.43h1v1h-1zM145.42 517.56h1v1h-1zM150.18 506.67h1v1h-1zM180.57 525.08h1v1h-1zM167.14 523.93h1v1h-1zM175.86 522.46h1v1h-1zM145.68 527.43h1v1h-1zM168.79 514.99h1v1h-1zM166.26 504.74h1v1h-1zM153.7 524.12h1v1h-1zM163.47 517.71h1v1h-1zM147.19 515.13h1v1h-1zM177.03 509.27h1v1h-1zM164.25 528.64h1v1h-1zM154.5 528.89h1v1h-1zM166.33 509.09h1v1h-1zM181.39 504.46h1v1h-1zM167.01 509.29h1v1h-1zM154.8 509.57h1v1h-1zM162.57 522.26h1v1h-1zM162.83 519.85h1v1h-1zM161.48 505.34h1v1h-1zM165.01 526.54h1v1h-1zM181.69 503.82h1v1h-1zM190.14 507.12h1v1h-1zM178.64 517.18h1v1h-1zM183.92 521.78h1v1h-1zM153.24 512.04h1v1h-1zM145.82 522.59h1v1h-1zM168.99 516.59h1v1h-1zM149.01 526.58h1v1h-1zM173.43 526.3h1v1h-1zM146.63 526.68h1v1h-1zM170.47 518.54h1v1h-1zM184.18 504.9h1v1h-1zM165.3 509.1h1v1h-1zM149.35 513.18h1v1h-1zM149.72 527.29h1v1h-1zM170.33 519.64h1v1h-1zM182.18 504.46h1v1h-1zM162.13 521.42h1v1h-1zM157.23 521.3h1v1h-1zM186.31 506.08h1v1h-1zM147.45 529.78h1v1h-1zM148.51 522.3h1v1h-1zM173.19 504.09h1v1h-1zM148.35 527.22h1v1h-1zM141.94 520.85h1v1h-1zM168.17 516.73h1v1h-1zM149.67 506.82h1v1h-1zM141.99 510.51h1v1h-1zM167.54 512.62h1v1h-1zM159.26 523.48h1v1h-1zM149.57 506.36h1v1h-1zM164.72 507.77h1v1h-1zM183.95 513.21h1v1h-1zM143.9 526.2h1v1h-1zM190.6 509.31h1v1h-1zM183.92 503.04h1v1h-1zM157.87 521.57h1v1h-1zM172.71 518.56h1v1h-1zM183.16 506.53h1v1h-1zM166.98 506.03h1v1h-1zM165.93 527.62h1v1h-1zM175.34 515.95h1v1h-1zM162.28 524.25h1v1h-1zM191.78 508.9h1v1h-1zM147.91 506.73h1v1h-1zM192.1 508.97h1v1h-1zM170.16 522.95h1v1h-1zM178.33 512.2h1v1h-1zM157.78 528.52h1v1h-1zM143.15 516.55h1v1h-1zM148.48 515.21h1v1h-1zM184.1 518.91h1v1h-1zM151.46 503.77h1v1h-1zM176.42 519.25h1v1h-1zM183.26 509.4h1v1h-1zM175.38 509.91h1v1h-1zM148.68 513.83h1v1h-1zM174.92 517.25h1v1h-1zM190.37 514.51h1v1h-1zM184.19 507.17h1v1h-1zM151.68 505.3h1v1h-1zM150.32 529.33h1v1h-1zM151.57 529.66h1v1h-1zM173.55 507.6h1v1h-1zM151.16 515.09h1v1h-1zM187.84 518.07h1v1h-1zM162.66 518.78h1v1h-1zM163.81 512.02h1v1h-1zM153.94 512.06h1v1h-1zM142.35 515.05h1v1h-1zM158.65 505.09h1v1h-1zM174.86 509.3h1v1h-1zM142.14 519.46h1v1h-1zM180.77 506.04h1v1h-1zM173.79 525.16h1v1h-1zM185.1 507.05h1v1h-1zM162.98 509.65h1v1h-1zM185.63 520.22h1v1h-1zM149.11 513.66h1v1h-1zM173.87 523.09h1v1h-1zM167.26 512.08h1v1h-1zM151.12 503.85h1v1h-1zM169.9 514.39h1v1h-1zM186.39 510.25h1v1h-1zM143.92 523.31h1v1h-1zM179.44 518.89h1v1h-1zM184.43 514.86h1v1h-1zM154.38 525.65h1v1h-1zM153.46 526.38h1v1h-1zM152.84 517h1v1h-1zM143.23 515.84h1v1h-1zM182.69 516.67h1v1h-1zM145.88 505.16h1v1h-1zM173.4 527.22h1v1h-1zM154.27 512.76h1v1h-1zM149.23 508.73h1v1h-1zM178.74 522.92h1v1h-1zM185.29 506.56h1v1h-1zM169.68 515.22h1v1h-1zM144.35 518.48h1v1h-1zM148.21 506.21h1v1h-1zM158.61 503.58h1v1h-1zM153.25 508.91h1v1h-1zM186.46 509.71h1v1h-1zM165.95 525.15h1v1h-1zM177.1 525.22h1v1h-1zM169.96 523.3h1v1h-1zM163.38 509.17h1v1h-1zM150.86 528.55h1v1h-1zM173.16 511.71h1v1h-1zM178.75 510.59h1v1h-1zM173.24 503.69h1v1h-1zM164.88 508.77h1v1h-1zM164.89 508.83h1v1h-1zM155.73 505.11h1v1h-1zM149.05 510.44h1v1h-1zM163.69 510.8h1v1h-1zM186.45 520.48h1v1h-1zM179.87 522.41h1v1h-1zM145.46 512.08h1v1h-1zM166.59 513.38h1v1h-1zM167.1 521.1h1v1h-1zM189.81 508.37h1v1h-1zM147.65 504.08h1v1h-1zM171.25 526.44h1v1h-1zM164.95 503.58h1v1h-1zM144.7 521h1v1h-1zM152.52 513.41h1v1h-1zM154.52 509.01h1v1h-1zM146.56 523.78h1v1h-1zM180.28 513.56h1v1h-1zM152.28 527.55h1v1h-1zM155.78 526.14h1v1h-1zM174.25 526.43h1v1h-1zM148.13 518.42h1v1h-1zM147.03 519.86h1v1h-1zM183.6 516.09h1v1h-1zM170.58 515.91h1v1h-1zM188.89 505.6h1v1h-1zM142.77 510.19h1v1h-1zM186.62 519.82h1v1h-1zM141.87 506.13h1v1h-1zM178.54 504.3h1v1h-1zM161.54 511.85h1v1h-1zM174.06 523.7h1v1h-1zM160.45 503.56h1v1h-1zM170.54 520.47h1v1h-1zM150.13 519.98h1v1h-1zM183.49 509.66h1v1h-1zM155.58 521.56h1v1h-1zM168.3 524.44h1v1h-1zM173.63 521.46h1v1h-1zM142.84 511.39h1v1h-1zM170.31 514.68h1v1h-1z" fill="#3a3a9e" fill-opacity="0.5"/>
<path d="M160.54 503.64h1v1h-1zM156.3 508.52h1v1h-1zM178.71 506.29h1v1h-1zM156.42 518.16h1v1h-1zM168.57 508.59h1v1h-1zM171.65 516.99h1v1h-1zM151.34 516.08h1v1h-1zM157.4 518.72h1v1h-1zM174.52 508.83h1v1h-1zM144.02 510.81h1v1h-1zM150.94 512.78h1v1h-1zM162.14 517.32h1v1h-1zM166.82 506.77h1v1h-1zM148.95 515.06h1v1h-1zM167.16 509.2h1v1h-1zM164.53 502.79h1v1h-1zM150.47 509.64h1v1h-1zM150.45 504.27h1v1h-1zM158.73 503.83h1v1h-1zM185.43 505.74h1v1h-1zM165.04 518h1v1h-1zM181.65 511.06h1v1h-1zM185.49 505.45h1v1h-1zM184.62 515.39h1v1h-1zM161.91 516.69h1v1h-1zM161.82 504.5h1v1h-1zM164.18 516.82h1v1h-1zM148.42 506.22h1v1h-1zM162.19 510.05h1v1h-1zM186.29 512.55h1v1h-1zM188.21 506.46h1v1h-1zM155.9 507.31h1v1h-1zM173.22 514.23h1v1h-1zM174.23 504.71h1v1h-1zM154.47 517.2h1v1h-1zM153.38 503.56h1v1h-1zM144.98 507h1v1h-1zM159.66 516.08h1v1h-1zM188.03 513.9h1v1h-1zM177.45 510.82h1v1h-1zM179.7 517.16h1v1h-1zM144.48 516.44h1v1h-1zM190.24 512.14h1v1h-1zM160.23 506.85h1v1h-1zM179.48 516.99h1v1h-1zM168.94 509.43h1v1h-1zM159.92 507.24h1v1h-1zM171.16 513.05h1v1h-1zM184.86 508.6h1v1h-1zM179.28 517.49h1v1h-1zM159.8 511.6h1v1h-1zM185.09 509.24h1v1h-1zM183.41 508.69h1v1h-1zM159.38 517.25h1v1h-1zM167.88 514.83h1v1h-1zM156.92 516.41h1v1h-1zM182.15 505.97h1v1h-1zM191.4 512h1v1h-1zM144.85 508.56h1v1h-1zM171.73 507.7h1v1h-1zM176.4 517.64h1v1h-1zM160.14 511.12h1v1h-1zM158.01 510.85h1v1h-1zM153.44 512.75h1v1h-1zM182.64 509.72h1v1h-1zM152.03 518.63h1v1h-1zM172.27 507.38h1v1h-1zM172.5 507.26h1v1h-1zM150.77 511.03h1v1h-1zM154.61 505.63h1v1h-1zM188.15 511.8h1v1h-1zM143.82 504.95h1v1h-1zM163.98 504.12h1v1h-1zM179.86 511.3h1v1h-1zM162.01 519.2h1v1h-1zM177.15 517.29h1v1h-1zM190.56 510.45h1v1h-1zM164.97 519.49h1v1h-1zM179.83 504.94h1v1h-1zM189.08 510.15h1v1h-1zM160.9 514.47h1v1h-1zM171.77 507.77h1v1h-1zM182.59 512.59h1v1h-1zM157.04 514.01h1v1h-1zM173.21 503.52h1v1h-1zM171.96 503.25h1v1h-1zM148.29 504.36h1v1h-1zM158.57 508.98h1v1h-1zM158.12 509.44h1v1h-1zM155.22 505.48h1v1h-1zM159.29 506.1h1v1h-1zM152.56 512.77h1v1h-1zM167.01 510.82h1v1h-1zM171.39 511.13h1v1h-1zM145.88 504.43h1v1h-1zM151.16 514.39h1v1h-1zM149.43 513.24h1v1h-1zM145.34 515.03h1v1h-1zM142.82 508.06h1v1h-1zM182.13 513.58h1v1h-1zM187.98 509.7h1v1h-1zM177.14 507.32h1v1h-1zM178.38 508.75h1v1h-1zM166.24 519.27h1v1h-1zM153.62 508.46h1v1h-1zM143.09 505.72h1v1h-1zM153.73 506.49h1v1h-1zM173.4 514.01h1v1h-1zM168.21 511.22h1v1h-1zM174.37 515.34h1v1h-1zM142.26 509.14h1v1h-1zM167.83 513.28h1v1h-1zM153.52 517.15h1v1h-1zM165.9 514.81h1v1h-1zM172.85 518.06h1v1h-1zM142.88 510.07h1v1h-1zM147.82 506.18h1v1h-1zM169.53 504.32h1v1h-1zM183.55 508.14h1v1h-1zM166.11 503.88h1v1h-1zM174.41 511.42h1v1h-1zM142.93 509.87h1v1h-1zM184.61 514.77h1v1h-1zM149.45 518.35h1v1h-1zM163.96 517.44h1v1h-1zM154.29 514.05h1v1h-1zM163.92 510.37h1v1h-1zM184.81 505.53h1v1h-1zM145.12 512.9h1v1h-1zM167.44 507.49h1v1h-1zM168.81 509.51h1v1h-1zM180.73 514.92h1v1h-1zM145.05 512.96h1v1h-1zM184.56 514.56h1v1h-1zM189.3 513.21h1v1h-1zM172.34 508.54h1v1h-1zM152.81 518.32h1v1h-1zM159.06 512.12h1v1h-1zM146.64 505.7h1v1h-1zM141.7 516.29h1v1h-1zM185.87 507.63h1v1h-1zM144.37 507.72h1v1h-1z" fill="#4aa8cc" fill-opacity="0.6"/>
<path d="M156.63 510.32h1v1h-1zM162.15 511.05h1v1h-1zM166.09 513.59h1v1h-1zM145.28 505.58h1v1h-1zM187.35 512.24h1v1h-1zM168.85 507.96h1v1h-1zM161.69 517.79h1v1h-1zM161.46 505.61h1v1h-1zM183.77 509.73h1v1h-1zM168.55 516.1h1v1h-1zM172.17 509.43h1v1h-1zM162.61 515.03h1v1h-1zM172.04 504.88h1v1h-1zM173.51 514.2h1v1h-1zM147.31 506.08h1v1h-1zM145.18 516.08h1v1h-1zM165.69 512.24h1v1h-1zM177.32 512.41h1v1h-1zM160.07 514.15h1v1h-1zM169.68 502.81h1v1h-1zM187.37 514.83h1v1h-1zM168.34 518.74h1v1h-1zM170.95 518.98h1v1h-1zM160.52 503.42h1v1h-1zM158.18 502.72h1v1h-1zM156.36 514.55h1v1h-1zM157.28 511.16h1v1h-1zM165.99 515.63h1v1h-1zM160.4 514.6h1v1h-1zM177.66 510.79h1v1h-1zM143.93 515.98h1v1h-1zM171.7 508.67h1v1h-1zM173.76 513.73h1v1h-1zM156.26 506.54h1v1h-1zM169.48 517.32h1v1h-1zM154.03 511.23h1v1h-1zM153.49 517h1v1h-1zM165.85 515.54h1v1h-1zM174.22 512.95h1v1h-1zM158.63 509.36h1v1h-1zM173.08 512.1h1v1h-1zM191.38 511.34h1v1h-1zM149.18 513.65h1v1h-1zM152.62 516.44h1v1h-1zM167.49 509.8h1v1h-1zM170.91 509.65h1v1h-1zM175.54 511.69h1v1h-1zM160.45 512.89h1v1h-1zM172.07 511.58h1v1h-1zM186.62 508.25h1v1h-1zM177.27 511.42h1v1h-1zM180.53 516.58h1v1h-1zM159.74 516.43h1v1h-1zM160.77 517.22h1v1h-1zM179.17 517.11h1v1h-1zM143.56 510.51h1v1h-1zM158.98 503.87h1v1h-1zM162.55 514.89h1v1h-1zM160.91 509.91h1v1h-1zM143.51 509.83h1v1h-1zM180.94 513.14h1v1h-1zM152 511.56h1v1h-1zM142.8 510.71h1v1h-1zM166.68 515.73h1v1h-1zM155.14 514.14h1v1h-1zM165.33 518.48h1v1h-1zM150.9 503.88h1v1h-1zM188.59 512.97h1v1h-1zM189.6 510.98h1v1h-1zM172.55 513.61h1v1h-1zM156.99 513.73h1v1h-1zM151.74 510.33h1v1h-1zM142.56 513.24h1v1h-1zM144.99 511.86h1v1h-1zM171.16 502.77h1v1h-1zM173.27 509.86h1v1h-1zM144.54 514.55h1v1h-1zM191.42 510.62h1v1h-1zM165.19 517.3h1v1h-1zM189.45 508.09h1v1h-1zM165.54 513.2h1v1h-1zM177.82 504.92h1v1h-1zM154.35 503.49h1v1h-1zM174.27 503.56h1v1h-1zM180.43 512.21h1v1h-1zM154.85 503.15h1v1h-1zM161.68 516.77h1v1h-1zM163.33 514.31h1v1h-1zM168 508.55h1v1h-1zM142.1 512.2h1v1h-1zM170.25 503.6h1v1h-1zM151.53 517.61h1v1h-1zM162.21 513.15h1v1h-1zM152.79 508.68h1v1h-1zM181.36 515.97h1v1h-1zM159.67 512.87h1v1h-1zM169.93 512.19h1v1h-1zM164.29 517.98h1v1h-1zM153.24 506.27h1v1h-1zM172.74 511.69h1v1h-1zM180.17 515.88h1v1h-1zM149.34 503.68h1v1h-1zM172.07 507.29h1v1h-1zM189.9 513.24h1v1h-1zM178.7 506.23h1v1h-1zM161.02 511.7h1v1h-1zM157.83 511.9h1v1h-1zM145.7 509.96h1v1h-1zM149.98 506.37h1v1h-1zM176.91 517.4h1v1h-1zM178.06 517.64h1v1h-1zM171.84 509.39h1v1h-1zM166.29 506.15h1v1h-1zM154.68 516.25h1v1h-1zM153.8 508.72h1v1h-1zM187.73 506.53h1v1h-1zM166.38 506.05h1v1h-1zM185.33 508.15h1v1h-1zM179.64 508.38h1v1h-1zM159.34 517.18h1v1h-1zM186.26 511.33h1v1h-1zM163.25 513.39h1v1h-1zM160.93 515.84h1v1h-1zM163.4 512.19h1v1h-1zM176.86 505.36h1v1h-1zM145.19 504.6h1v1h-1zM165.01 511.43h1v1h-1zM166.46 516.75h1v1h-1zM150.06 509.2h1v1h-1zM179.69 516.47h1v1h-1zM173.19 515.17h1v1h-1zM186.7 516h1v1h-1zM151.03 509.19h1v1h-1zM160.85 502.63h1v1h-1zM153.89 513.16h1v1h-1z" fill="#4070b8" fill-opacity="0.6"/>
<path d="M169.45 513.64h1v1h-1zM147.79 504.43h1v1h-1zM150.52 507.98h1v1h-1zM169.55 503.87h1v1h-1zM177.51 509.8h1v1h-1zM142.18 512.72h1v1h-1zM175.88 507.1h1v1h-1zM148.85 508.47h1v1h-1zM170.72 514.67h1v1h-1zM155.55 507.79h1v1h-1zM175.91 512.09h1v1h-1zM153.86 510.34h1v1h-1zM154.38 514.59h1v1h-1zM145.38 512.16h1v1h-1zM188.59 507.32h1v1h-1zM173.77 510.11h1v1h-1zM191.43 512.57h1v1h-1zM175.2 509.93h1v1h-1zM152.11 513.34h1v1h-1zM173.2 508.26h1v1h-1zM170.67 514.69h1v1h-1zM154.4 515.24h1v1h-1zM161.06 515.32h1v1h-1zM180 516.74h1v1h-1zM172.91 504.53h1v1h-1zM144.75 514.87h1v1h-1zM166.65 509.26h1v1h-1zM162.22 504.74h1v1h-1zM188.27 512.33h1v1h-1zM181.26 510.11h1v1h-1zM184.54 511.24h1v1h-1zM167.53 508.4h1v1h-1zM186.43 513.89h1v1h-1zM153.5 511.38h1v1h-1zM181.81 512.64h1v1h-1zM172.55 510.44h1v1h-1zM174.96 516.38h1v1h-1zM181.83 514.59h1v1h-1zM148.11 507.76h1v1h-1zM177.2 511.51h1v1h-1zM190.72 512.61h1v1h-1zM147.66 508.55h1v1h-1zM175.69 518.07h1v1h-1zM179.97 514.22h1v1h-1zM147.41 509.41h1v1h-1zM181.37 504.39h1v1h-1zM171.77 514.65h1v1h-1zM171.74 502.9h1v1h-1zM160.29 505.92h1v1h-1zM158.47 516.91h1v1h-1zM154.45 516.82h1v1h-1zM166.64 504.94h1v1h-1zM155.3 511.99h1v1h-1zM180.27 514.2h1v1h-1zM159.84 516.26h1v1h-1zM183.78 510.79h1v1h-1zM165.65 515.27h1v1h-1zM184.22 509.47h1v1h-1zM164.86 518.2h1v1h-1zM167.59 516.52h1v1h-1zM164.02 510.9h1v1h-1zM157.84 517.42h1v1h-1zM150.99 504.11h1v1h-1zM187.63 510.06h1v1h-1zM156.36 516.6h1v1h-1zM166.78 514.49h1v1h-1zM180 506.96h1v1h-1zM162.94 515.91h1v1h-1zM162.01 516.67h1v1h-1zM152.77 506.36h1v1h-1zM158.2 507.55h1v1h-1zM192.57 511.53h1v1h-1zM159.84 504.69h1v1h-1zM172.92 515.25h1v1h-1zM167.84 514.99h1v1h-1zM148.57 516.2h1v1h-1zM142.25 507.25h1v1h-1zM157.26 514.81h1v1h-1zM180.29 508.09h1v1h-1zM153.77 504.3h1v1h-1zM155.41 506.83h1v1h-1zM167.56 512.03h1v1h-1zM187.46 515.61h1v1h-1zM190.34 510.68h1v1h-1zM149.97 513.2h1v1h-1zM168.87 514.67h1v1h-1zM179.95 512.22h1v1h-1zM169.88 512h1v1h-1zM144.55 516.37h1v1h-1zM157.94 509.16h1v1h-1zM185.95 516.41h1v1h-1zM160.44 505.68h1v1h-1zM155.91 516.85h1v1h-1zM155.11 516.84h1v1h-1zM165.18 512.6h1v1h-1zM181.17 511.03h1v1h-1zM156.23 504.26h1v1h-1zM153.17 504.33h1v1h-1zM152.59 507.1h1v1h-1zM142.56 515.87h1v1h-1zM154.02 503.62h1v1h-1zM172.1 519.1h1v1h-1zM169.82 504.48h1v1h-1zM169.67 515.25h1v1h-1zM156.29 503.53h1v1h-1zM142.69 516.29h1v1h-1zM160.73 507.08h1v1h-1zM171.05 518.48h1v1h-1zM146.67 509.74h1v1h-1zM179.26 514.95h1v1h-1zM167.86 504.76h1v1h-1zM176.69 509.23h1v1h-1zM168.61 514.42h1v1h-1zM157.71 505.96h1v1h-1zM150.72 509.44h1v1h-1zM158.96 510.16h1v1h-1zM177.23 513.41h1v1h-1zM155.58 512.84h1v1h-1zM177.94 506.73h1v1h-1zM168.69 513.34h1v1h-1zM162.76 511.72h1v1h-1zM177.73 512.96h1v1h-1zM155.52 513.58h1v1h-1zM159.11 510.06h1v1h-1zM169.29 508.14h1v1h-1zM155.89 511.47h1v1h-1zM160.16 513.54h1v1h-1zM180.96 509.16h1v1h-1zM189.06 515.22h1v1h-1z" fill="#2f4fa0" fill-opacity="0.6"/>
<path d="M183.6 515.3h1v1h-1zM190.9 513.08h1v1h-1zM190.47 514.43h1v1h-1zM183.78 508.6h1v1h-1zM165.47 515.12h1v1h-1zM171.59 515.14h1v1h-1zM158.79 504.59h1v1h-1zM185.92 511.82h1v1h-1zM148.27 510.41h1v1h-1zM159.8 512.35h1v1h-1zM161.48 515.27h1v1h-1zM164.41 513.33h1v1h-1zM178.94 511.71h1v1h-1zM152.48 509.36h1v1h-1zM168.17 513.71h1v1h-1zM172.4 503.36h1v1h-1zM142.87 506.49h1v1h-1zM155.51 505.61h1v1h-1zM171.01 506.74h1v1h-1zM152.76 505.2h1v1h-1zM143.02 507.45h1v1h-1zM144.43 513.53h1v1h-1zM164.93 502.83h1v1h-1zM181.24 516.89h1v1h-1zM171.86 507.22h1v1h-1zM185.14 509.37h1v1h-1zM180.73 504.38h1v1h-1zM164.25 513.56h1v1h-1zM185.7 511.1h1v1h-1zM158.21 510.34h1v1h-1zM161.34 510.73h1v1h-1zM147.25 504.84h1v1h-1zM145.32 516.37h1v1h-1zM164.06 511.85h1v1h-1zM161.92 512.07h1v1h-1zM166.28 502.75h1v1h-1zM159.59 512h1v1h-1zM142.85 509.66h1v1h-1zM176.09 510.62h1v1h-1zM180.9 511.03h1v1h-1zM148.13 506.53h1v1h-1zM168.66 508.49h1v1h-1zM159.35 518.11h1v1h-1zM144.82 517.02h1v1h-1zM185.26 510.52h1v1h-1zM147 511.09h1v1h-1zM162.76 507.17h1v1h-1zM146.57 509.2h1v1h-1zM183.95 515.38h1v1h-1zM172.1 505.47h1v1h-1zM169.44 518.76h1v1h-1zM174.65 504.37h1v1h-1zM157.41 518.65h1v1h-1zM172.69 517.13h1v1h-1zM157.8 517.53h1v1h-1zM185.77 508.12h1v1h-1zM161.57 505.73h1v1h-1zM168.11 506.14h1v1h-1zM172.93 503.71h1v1h-1zM153.32 506.59h1v1h-1zM182.33 509.07h1v1h-1zM150.18 511.45h1v1h-1zM186.21 513.42h1v1h-1zM184.58 509.43h1v1h-1zM165.5 503.21h1v1h-1zM165.09 514.48h1v1h-1zM146.2 505.55h1v1h-1zM154.62 503.21h1v1h-1zM152.64 503.67h1v1h-1zM155.85 507.4h1v1h-1zM182.74 515.41h1v1h-1zM168.37 516.98h1v1h-1zM166.81 508.97h1v1h-1zM166.09 514.63h1v1h-1zM184.18 514.52h1v1h-1zM159.57 515.59h1v1h-1zM153.61 506.29h1v1h-1zM146.91 507.19h1v1h-1zM179.26 512.38h1v1h-1zM164.18 517.08h1v1h-1zM148.01 506.4h1v1h-1zM171.56 513.41h1v1h-1zM155.74 505.77h1v1h-1zM187.07 510.2h1v1h-1zM181.91 505.17h1v1h-1zM183.02 511.31h1v1h-1zM171.62 517.18h1v1h-1zM153.75 515.46h1v1h-1zM151.65 503.98h1v1h-1zM160.27 512.63h1v1h-1zM180.06 514.89h1v1h-1zM184.28 515.55h1v1h-1zM162.38 519.15h1v1h-1zM143.01 505.91h1v1h-1zM162.19 506.34h1v1h-1zM164.9 514.07h1v1h-1zM146.13 510.39h1v1h-1zM156.79 513.98h1v1h-1zM152.55 509.4h1v1h-1zM157.36 507.72h1v1h-1zM185.75 507.34h1v1h-1zM179.68 518.11h1v1h-1zM160.48 519.21h1v1h-1zM168.85 517.01h1v1h-1zM168.51 507.01h1v1h-1zM181.97 505.3h1v1h-1zM183.19 512.62h1v1h-1zM163.08 506.61h1v1h-1zM182.48 508.17h1v1h-1zM159.92 513.93h1v1h-1zM166.07 507.6h1v1h-1zM192.45 511.28h1v1h-1zM166.37 503.29h1v1h-1zM177.86 504.46h1v1h-1zM162.07 513.75h1v1h-1zM184.16 507.22h1v1h-1zM158.15 510.47h1v1h-1zM156.42 518.9h1v1h-1zM172.93 504.65h1v1h-1zM184.61 513.25h1v1h-1zM185.04 515.97h1v1h-1zM184.19 511.88h1v1h-1zM150.35 513.53h1v1h-1zM190.08 507.36h1v1h-1zM177.14 516.53h1v1h-1zM163.7 504.92h1v1h-1zM180.57 507.32h1v1h-1zM151.23 507.6h1v1h-1zM146.46 507.66h1v1h-1zM152.92 509.12h1v1h-1zM171.06 503.03h1v1h-1zM185.47 514.97h1v1h-1zM160.19 515.72h1v1h-1zM149.02 511.29h1v1h-1zM166.39 517.84h1v1h-1zM175.21 507.39h1v1h-1zM162.88 515.2h1v1h-1zM162.49 503.8h1v1h-1zM146.6 512.46h1v1h-1zM187.94 506.28h1v1h-1zM152.14 510.37h1v1h-1zM165.58 510.41h1v1h-1zM169.21 510.52h1v1h-1zM160.53 515.07h1v1h-1zM169.86 505.05h1v1h-1zM151.68 507.29h1v1h-1zM184.12 513.82h1v1h-1zM168.97 512.96h1v1h-1zM159.16 512.47h1v1h-1zM172.65 517.11h1v1h-1z" fill="#66bcc0" fill-opacity="0.6"/>
<path d="M179.49 516.3h1v1h-1zM146.09 514.95h1v1h-1zM169.1 515.3h1v1h-1zM168.4 511.65h1v1h-1zM179.64 504.42h1v1h-1zM158.42 513.2h1v1h-1zM154.03 515.9h1v1h-1zM164.49 517.46h1v1h-1zM144.41 510.36h1v1h-1zM156.53 508.14h1v1h-1zM147.96 516.32h1v1h-1zM156.97 518.26h1v1h-1zM173.79 515.71h1v1h-1zM167.68 509.37h1v1h-1zM168.03 510.3h1v1h-1zM146.4 512.12h1v1h-1zM156.52 506.33h1v1h-1zM161.29 509.03h1v1h-1zM145.23 515.33h1v1h-1zM159.79 517.71h1v1h-1zM182.05 507.48h1v1h-1zM161.57 511.62h1v1h-1zM144.37 508.6h1v1h-1zM167.73 507.77h1v1h-1zM152.04 509.44h1v1h-1zM176.23 506.55h1v1h-1zM180.26 513.02h1v1h-1zM145.97 516.7h1v1h-1zM159.48 507.02h1v1h-1zM170.85 513.35h1v1h-1zM162.2 518.7h1v1h-1zM168.37 508.58h1v1h-1zM185.95 507.68h1v1h-1zM153.65 511.83h1v1h-1zM153.54 505.24h1v1h-1zM183.16 507.22h1v1h-1zM155.78 514.68h1v1h-1zM159.73 505.89h1v1h-1zM177.19 510.85h1v1h-1zM151.15 505.73h1v1h-1zM189.5 511.26h1v1h-1zM157.74 505.83h1v1h-1zM189.71 508.87h1v1h-1zM149.4 517.17h1v1h-1zM176.46 506.05h1v1h-1zM150.33 508.11h1v1h-1zM167.78 507.19h1v1h-1zM178.39 508.55h1v1h-1zM182.42 516.51h1v1h-1zM161.62 513.71h1v1h-1zM152.91 503.21h1v1h-1zM158.2 515.4h1v1h-1zM154.74 515.13h1v1h-1zM155.19 514.97h1v1h-1zM169.89 513.96h1v1h-1zM189.82 513.83h1v1h-1zM151.21 506.52h1v1h-1zM178.32 516.93h1v1h-1zM148.2 516.43h1v1h-1zM170.21 516.59h1v1h-1zM154.12 516.94h1v1h-1zM176.35 512.21h1v1h-1zM152.21 513.79h1v1h-1zM159.06 510.58h1v1h-1zM188.74 512.7h1v1h-1zM171.14 510.9h1v1h-1zM148.48 509.78h1v1h-1zM156.02 506.85h1v1h-1zM173.09 511.12h1v1h-1zM176.67 514.04h1v1h-1zM165.46 509.46h1v1h-1zM168.75 503.26h1v1h-1zM150.19 515.95h1v1h-1zM179.42 514.62h1v1h-1zM166.23 509.17h1v1h-1zM148.57 510.55h1v1h-1zM166.2 506.45h1v1h-1zM175.15 518.4h1v1h-1zM182.31 507.67h1v1h-1zM148.05 506.54h1v1h-1zM143.86 511.01h1v1h-1zM174.01 516.83h1v1h-1zM164.06 514.74h1v1h-1zM180.66 505.99h1v1h-1zM147.41 505.43h1v1h-1zM151.47 518.58h1v1h-1zM177.29 507.23h1v1h-1zM144.63 510.81h1v1h-1zM159.22 517.53h1v1h-1zM165.21 508.75h1v1h-1zM169.12 517.85h1v1h-1zM163.53 513.71h1v1h-1zM173.14 505.96h1v1h-1zM147.15 507.42h1v1h-1zM182.68 514.67h1v1h-1zM170.1 514.73h1v1h-1zM147.54 516.93h1v1h-1zM151.37 510.03h1v1h-1zM184.27 505.34h1v1h-1zM161.93 509.81h1v1h-1zM161.53 514.59h1v1h-1zM179.15 517.51h1v1h-1zM185.22 512.8h1v1h-1zM190.11 514.69h1v1h-1zM163.76 507.4h1v1h-1zM145.13 508.09h1v1h-1zM159.76 512.26h1v1h-1zM141.79 507.19h1v1h-1zM182.01 516.32h1v1h-1zM176.88 513h1v1h-1zM162.97 515.73h1v1h-1zM145.48 516.2h1v1h-1zM189.74 507.6h1v1h-1zM161.4 516.15h1v1h-1zM169.17 506.3h1v1h-1zM175.79 505.76h1v1h-1zM162.65 508.07h1v1h-1zM179.77 517.93h1v1h-1zM192 510.49h1v1h-1zM174.7 508.42h1v1h-1zM166.76 510.05h1v1h-1zM161.87 508.62h1v1h-1zM179.19 505.19h1v1h-1zM165.97 505.85h1v1h-1zM153.33 518.4h1v1h-1zM151.87 507.19h1v1h-1zM159.17 507h1v1h-1zM177.4 508.98h1v1h-1zM152.73 506h1v1h-1zM142.93 512.02h1v1h-1zM144.26 515.23h1v1h-1zM172.55 509.61h1v1h-1zM187.3 508.67h1v1h-1zM185.8 507.37h1v1h-1zM158.85 515.47h1v1h-1zM153.08 503.74h1v1h-1zM174.77 506.07h1v1h-1zM162.77 516.14h1v1h-1zM186.15 515.02h1v1h-1zM167.72 504.54h1v1h-1zM151.52 510.75h1v1h-1zM188.28 507.78h1v1h-1zM151.15 512.01h1v1h-1zM148.66 516.72h1v1h-1zM176.56 516.76h1v1h-1zM171.15 512.41h1v1h-1zM170.2 509.76h1v1h-1zM147.68 505.88h1v1h-1zM178.19 504.37h1v1h-1z" fill="#3a64b0" fill-opacity="0.6"/>
<path d="M160.31 512.74h1v1h-1zM191.47 508.8h1v1h-1zM190.93 509.67h1v1h-1zM158.8 518.73h1v1h-1zM168.73 516.68h1v1h-1zM154.55 514.2h1v1h-1zM161.88 502.77h1v1h-1zM174.05 507.22h1v1h-1zM155.87 518.68h1v1h-1zM151.1 514.08h1v1h-1zM184.81 512.47h1v1h-1zM160.72 504.52h1v1h-1zM176.18 506.41h1v1h-1zM165.06 514.36h1v1h-1zM171.85 515.81h1v1h-1zM158.86 518.74h1v1h-1zM182.41 516.54h1v1h-1zM150.44 506.07h1v1h-1zM175.31 510.31h1v1h-1zM152.8 510.02h1v1h-1zM171.72 512.15h1v1h-1zM189.2 512.73h1v1h-1zM174.17 506.81h1v1h-1zM191.52 508.57h1v1h-1zM180.56 514.39h1v1h-1zM180.67 512.55h1v1h-1zM183.15 513.47h1v1h-1zM186.31 514.95h1v1h-1zM162.36 513.12h1v1h-1zM175.92 513.75h1v1h-1zM158.04 511.17h1v1h-1zM191.86 512.95h1v1h-1zM170.96 506.64h1v1h-1zM169.17 514.05h1v1h-1zM149.06 511.18h1v1h-1zM182.65 508.76h1v1h-1zM159.77 506.98h1v1h-1zM152.04 512.13h1v1h-1zM187.05 515.16h1v1h-1zM169.67 508.79h1v1h-1zM179.72 515.05h1v1h-1zM159 518.89h1v1h-1zM192.26 511.85h1v1h-1zM173.06 517.79h1v1h-1zM182.57 515.79h1v1h-1zM143.68 505.4h1v1h-1zM149.27 504.56h1v1h-1zM155.61 512.4h1v1h-1zM175.56 503.5h1v1h-1zM160.09 509.49h1v1h-1zM184.48 512.23h1v1h-1zM186.82 513.39h1v1h-1zM143.91 510.44h1v1h-1zM183.3 516.45h1v1h-1zM183.67 514.68h1v1h-1zM154.27 509.83h1v1h-1zM178.16 506.56h1v1h-1zM162.81 503.68h1v1h-1zM141.77 512.5h1v1h-1zM145.31 513.58h1v1h-1zM176.55 512.88h1v1h-1zM179.71 504.62h1v1h-1zM179.52 517.16h1v1h-1zM165.32 514.77h1v1h-1zM154.71 513.62h1v1h-1zM187.11 511.37h1v1h-1zM160.54 506.9h1v1h-1zM171.77 512.48h1v1h-1zM173.98 516.43h1v1h-1zM169.06 506.67h1v1h-1zM152.28 517.77h1v1h-1zM185.94 512.27h1v1h-1zM173.27 503.08h1v1h-1zM183.43 506.49h1v1h-1zM179.06 506.72h1v1h-1zM150.15 505.88h1v1h-1zM144 514.18h1v1h-1zM161.49 507.99h1v1h-1zM150.87 515.07h1v1h-1zM170.91 502.85h1v1h-1zM152.9 514.71h1v1h-1zM145.25 516.23h1v1h-1zM165.82 511.75h1v1h-1zM154.29 511.98h1v1h-1zM188.05 511.66h1v1h-1zM180.45 509.6h1v1h-1zM177.9 508.36h1v1h-1zM153.27 510.16h1v1h-1zM149.32 507.54h1v1h-1zM177.42 509.66h1v1h-1zM149.44 507.89h1v1h-1zM143.31 506.27h1v1h-1zM170.76 513.39h1v1h-1zM147.25 517.56h1v1h-1zM170.18 511.82h1v1h-1zM147.43 517.94h1v1h-1zM145.55 509.9h1v1h-1zM161.55 502.91h1v1h-1zM145.9 508.21h1v1h-1zM166.14 516.45h1v1h-1zM166.7 507.12h1v1h-1zM169.31 509.71h1v1h-1zM178.99 504.53h1v1h-1zM142.09 509.04h1v1h-1zM159.55 504.97h1v1h-1zM159.4 506.25h1v1h-1zM145.98 507.46h1v1h-1zM183.04 505h1v1h-1zM159.86 511.74h1v1h-1zM164.41 507.85h1v1h-1zM176.82 508.68h1v1h-1zM182.95 513.44h1v1h-1zM153.65 509.34h1v1h-1zM179.3 511.07h1v1h-1zM182.97 512.91h1v1h-1zM178.54 504.22h1v1h-1zM166.62 516.63h1v1h-1zM148.48 508.78h1v1h-1zM161.58 511.34h1v1h-1zM181.12 515.7h1v1h-1zM185.02 505.65h1v1h-1zM159.15 519.13h1v1h-1zM148.15 512.84h1v1h-1zM175.84 509.12h1v1h-1zM155.02 513.72h1v1h-1zM165.63 510.29h1v1h-1zM178.65 515.51h1v1h-1zM144.56 507.32h1v1h-1z" fill="#3a70b8" fill-opacity="0.6"/>
<path d="M171.87 506.03h1v1h-1zM147.82 510.21h1v1h-1zM144.74 514.78h1v1h-1zM164.13 506.83h1v1h-1zM167.26 517.75h1v1h-1zM167.64 503.75h1v1h-1zM162.96 507.6h1v1h-1zM152.26 515.4h1v1h-1zM189.98 513h1v1h-1zM188.95 513.21h1v1h-1zM166.23 514.55h1v1h-1zM170.38 517.17h1v1h-1zM167.73 508.34h1v1h-1zM170.77 512.94h1v1h-1zM143.33 511.6h1v1h-1zM155.12 514.95h1v1h-1zM158.1 507.16h1v1h-1zM161.55 518.14h1v1h-1zM165.59 516.96h1v1h-1zM146.77 516.16h1v1h-1zM162.6 518.92h1v1h-1zM162.96 513.18h1v1h-1zM168.3 504.8h1v1h-1zM183.15 514.27h1v1h-1zM151.98 517.67h1v1h-1zM144.59 509.29h1v1h-1zM155.33 515.29h1v1h-1zM142.77 513.16h1v1h-1zM166.58 517.05h1v1h-1zM149.52 505.91h1v1h-1zM146.95 505.33h1v1h-1zM175.02 511.56h1v1h-1zM179.81 505.86h1v1h-1zM179.49 504.69h1v1h-1zM166.66 511.3h1v1h-1zM147.66 506.29h1v1h-1zM165.23 503.82h1v1h-1zM164.97 516.57h1v1h-1zM170.62 513.48h1v1h-1zM165.94 507.12h1v1h-1zM151.05 510.63h1v1h-1zM146.94 515.41h1v1h-1zM153.99 507.13h1v1h-1zM167.4 510.11h1v1h-1zM182.4 508.11h1v1h-1zM158.94 513.19h1v1h-1zM156.07 517.68h1v1h-1zM179.74 505.73h1v1h-1zM157.37 516.56h1v1h-1zM183.78 512h1v1h-1zM159.03 511.43h1v1h-1zM161.95 505.79h1v1h-1zM172.44 503.38h1v1h-1zM173.87 517.96h1v1h-1zM154.39 510.77h1v1h-1zM185.51 506.22h1v1h-1zM186.53 508.05h1v1h-1zM173.39 517.12h1v1h-1zM162.02 518.52h1v1h-1zM151.34 506.8h1v1h-1zM144.94 506.6h1v1h-1zM142.32 511.98h1v1h-1zM185.72 513.67h1v1h-1zM153.58 508.34h1v1h-1zM161.83 504.13h1v1h-1zM161.56 513.38h1v1h-1zM181.31 512.24h1v1h-1zM171.27 512.09h1v1h-1zM161.68 509.63h1v1h-1zM188.1 512.68h1v1h-1zM162.66 511.52h1v1h-1zM141.82 508.92h1v1h-1zM157.24 518.23h1v1h-1zM180.76 507.14h1v1h-1zM186.13 513.1h1v1h-1zM174.48 512.95h1v1h-1zM168.71 513.93h1v1h-1zM161.74 503.43h1v1h-1zM186.88 508.65h1v1h-1zM166 509.98h1v1h-1zM183.23 505.66h1v1h-1zM169.45 510.67h1v1h-1zM173.72 512.28h1v1h-1zM185.13 505.79h1v1h-1zM151.2 504.85h1v1h-1zM167.87 512.45h1v1h-1zM184.78 511.1h1v1h-1zM164.59 515.38h1v1h-1zM185.2 507.37h1v1h-1zM187.97 508.03h1v1h-1zM141.97 512.51h1v1h-1zM160.61 518.44h1v1h-1zM161.03 505.56h1v1h-1zM146.4 508.76h1v1h-1zM167.23 505.56h1v1h-1zM176.58 512.88h1v1h-1zM185.97 506.9h1v1h-1zM173.39 504.3h1v1h-1zM165.52 504.29h1v1h-1zM180.84 511.85h1v1h-1zM143.76 505.59h1v1h-1zM185.73 514.96h1v1h-1zM190.39 510.48h1v1h-1zM170.21 514.47h1v1h-1zM175.98 509.15h1v1h-1zM153.62 504.53h1v1h-1zM170.45 510.94h1v1h-1zM150.8 512.96h1v1h-1zM161.37 505.49h1v1h-1zM159.5 514.09h1v1h-1zM154.44 506.48h1v1h-1zM164.56 515.83h1v1h-1zM157.57 509.33h1v1h-1zM178.26 505.42h1v1h-1zM184.78 506.2h1v1h-1zM162.77 517.71h1v1h-1zM170.35 507.98h1v1h-1zM173.68 503.2h1v1h-1zM170.27 504.94h1v1h-1zM188.4 512.3h1v1h-1zM143.8 512.84h1v1h-1zM170.1 515.3h1v1h-1zM174.98 510.79h1v1h-1zM168.4 502.75h1v1h-1zM180.45 516.4h1v1h-1zM175.44 512.08h1v1h-1z" fill="#5ab6c6" fill-opacity="0.6"/>
<path d="M168.12 504.4h1v1h-1zM167.2 519.2h1v1h-1zM170.51 504.71h1v1h-1zM178.69 507.26h1v1h-1zM186.63 507.59h1v1h-1zM190.56 513.16h1v1h-1zM144.13 508.55h1v1h-1zM161.19 519.34h1v1h-1zM154.36 510.59h1v1h-1zM160.61 508.7h1v1h-1zM160.99 509.59h1v1h-1zM170.8 512.68h1v1h-1zM172.2 506.14h1v1h-1zM152.24 509.68h1v1h-1zM153.61 510.18h1v1h-1zM177.77 516.21h1v1h-1zM192.58 510.42h1v1h-1zM183.16 513.96h1v1h-1zM180.47 510.04h1v1h-1zM188.36 512.05h1v1h-1zM149.28 516.5h1v1h-1zM178.65 509.32h1v1h-1zM172.21 509.1h1v1h-1zM165.65 503.13h1v1h-1zM173.55 510.67h1v1h-1zM190.98 512.19h1v1h-1zM156.46 506.62h1v1h-1zM190.94 511.76h1v1h-1zM183.4 513.33h1v1h-1zM173.3 513.1h1v1h-1zM160.81 512.47h1v1h-1zM155.88 511.95h1v1h-1zM167.15 504.34h1v1h-1zM158.95 507.79h1v1h-1zM185.06 507.16h1v1h-1zM143.2 513.64h1v1h-1zM170.06 513.23h1v1h-1zM152.97 513.5h1v1h-1zM185.31 505.73h1v1h-1zM187.65 508.15h1v1h-1zM155.99 516.04h1v1h-1zM170.17 509.31h1v1h-1zM174.07 511.4h1v1h-1zM157.75 516.28h1v1h-1zM154.83 515.89h1v1h-1zM171.1 513.52h1v1h-1zM144.69 505.32h1v1h-1zM180.08 504.75h1v1h-1zM162.24 514h1v1h-1zM191.64 509.87h1v1h-1zM171.71 512.57h1v1h-1zM167.2 513.24h1v1h-1zM162.75 512.17h1v1h-1zM148.08 510.05h1v1h-1zM162.2 518.66h1v1h-1zM175.66 504.28h1v1h-1zM154.95 511.63h1v1h-1zM148.52 512.33h1v1h-1zM169.12 504.47h1v1h-1zM161.67 508.95h1v1h-1zM145.69 507.34h1v1h-1zM161.12 507.37h1v1h-1zM163.39 504.22h1v1h-1zM179.11 511.2h1v1h-1zM177.04 507.32h1v1h-1zM190.75 507.82h1v1h-1zM164.06 508.07h1v1h-1zM142.41 516.49h1v1h-1zM159.82 508.03h1v1h-1zM184.1 506.2h1v1h-1zM177.52 511.31h1v1h-1zM176.14 508.48h1v1h-1zM173.34 505.02h1v1h-1zM174.26 505.54h1v1h-1zM178.22 511.15h1v1h-1zM163.51 509.1h1v1h-1zM184.06 513.69h1v1h-1zM173.82 503.98h1v1h-1zM172.67 507.74h1v1h-1zM155.85 512.16h1v1h-1zM164.6 504.64h1v1h-1zM164.95 507.58h1v1h-1zM171.94 503.27h1v1h-1zM166.75 515.59h1v1h-1zM153.61 511.22h1v1h-1zM175.53 517.32h1v1h-1zM183.87 508.93h1v1h-1zM149.79 510.82h1v1h-1zM152.36 516.04h1v1h-1zM163.93 510.86h1v1h-1zM174.64 506.04h1v1h-1zM149.38 504.2h1v1h-1zM166.51 503.47h1v1h-1zM166.27 518.07h1v1h-1zM150.59 509.15h1v1h-1zM162.7 504.15h1v1h-1zM171.01 506.5h1v1h-1zM168.09 509.45h1v1h-1zM186.7 507.5h1v1h-1zM145.62 504.75h1v1h-1zM162.8 503.43h1v1h-1zM169.56 508.56h1v1h-1zM142.3 509.01h1v1h-1zM168.47 508.45h1v1h-1zM162.05 506.47h1v1h-1zM156.63 517.01h1v1h-1zM170.74 516.81h1v1h-1zM150.58 510.3h1v1h-1zM177.39 512.68h1v1h-1zM169.33 504.66h1v1h-1zM183.86 508.59h1v1h-1zM162.68 510.86h1v1h-1zM173.75 503.17h1v1h-1zM167.98 504.75h1v1h-1zM148.12 510.39h1v1h-1zM151.4 506.3h1v1h-1zM189.86 512.55h1v1h-1zM173.74 510.32h1v1h-1zM189.48 514.93h1v1h-1zM181.06 506.34h1v1h-1zM168.62 514.47h1v1h-1zM187.46 510.65h1v1h-1zM181.1 507.98h1v1h-1zM152.37 517.44h1v1h-1zM152.05 505.33h1v1h-1zM157.87 508.81h1v1h-1zM152.17 504.8h1v1h-1zM170.97 510.98h1v1h-1zM147.51 509.04h1v1h-1zM189.68 508.01h1v1h-1zM142 508.83h1v1h-1zM172.05 516.44h1v1h-1zM163.16 504.84h1v1h-1zM170.99 511.5h1v1h-1zM169.83 512.72h1v1h-1zM161.19 510.66h1v1h-1zM157.12 508.41h1v1h-1zM166.54 516.88h1v1h-1zM172.49 510.08h1v1h-1zM190.76 510.64h1v1h-1zM152.94 506h1v1h-1zM168.6 503.12h1v1h-1zM172.6 513.09h1v1h-1zM151.49 517.21h1v1h-1zM142.38 514.85h1v1h-1zM182.64 517.3h1v1h-1zM171.32 504.02h1v1h-1z" fill="#3f8fc4" fill-opacity="0.6"/>
<path d="M177.98 507.9h1v1h-1zM162.96 518.38h1v1h-1zM145.38 516.03h1v1h-1zM160.34 517.67h1v1h-1zM187.18 511.78h1v1h-1zM167.41 509.49h1v1h-1zM170.1 508.41h1v1h-1zM156.85 506.69h1v1h-1zM175.17 517.82h1v1h-1zM183.03 513.82h1v1h-1zM155.49 513.88h1v1h-1zM154.35 504.42h1v1h-1zM151.14 508.91h1v1h-1zM157.51 506.2h1v1h-1zM146.6 512.26h1v1h-1zM169.99 503.02h1v1h-1zM155.6 516.87h1v1h-1zM157.28 504.35h1v1h-1zM161.07 503.4h1v1h-1zM178.91 516.68h1v1h-1zM161.93 503.04h1v1h-1zM168.53 509.28h1v1h-1zM181.12 511.45h1v1h-1zM158.17 505.82h1v1h-1zM168.03 511.67h1v1h-1zM164.74 503.22h1v1h-1zM158.67 503.6h1v1h-1zM151.49 506.09h1v1h-1zM158.16 516.15h1v1h-1zM178.9 513.49h1v1h-1zM184.69 509.29h1v1h-1zM163.15 510.98h1v1h-1zM181.03 515.56h1v1h-1zM159.95 514.94h1v1h-1zM160.35 505.37h1v1h-1zM149.56 516.04h1v1h-1zM185.88 507.47h1v1h-1zM147.65 516.11h1v1h-1zM173.68 517.66h1v1h-1zM183.34 513.42h1v1h-1zM159.16 505.58h1v1h-1zM157.67 518.53h1v1h-1zM159.41 515.54h1v1h-1zM143.55 511.5h1v1h-1zM160.63 510.39h1v1h-1zM166.5 515.1h1v1h-1zM161.08 505.03h1v1h-1zM173.99 513.02h1v1h-1zM152.98 512.71h1v1h-1zM157.22 503.05h1v1h-1zM182.72 513.59h1v1h-1zM180.83 517.52h1v1h-1zM185.71 514.25h1v1h-1zM155.02 509.43h1v1h-1zM173.85 518.63h1v1h-1zM184.95 515.54h1v1h-1zM156.76 509.36h1v1h-1zM153.86 504.37h1v1h-1zM182.99 510.31h1v1h-1zM150.26 511.34h1v1h-1zM155.96 512.12h1v1h-1zM155.49 506.3h1v1h-1zM168.3 514.05h1v1h-1zM154.32 507.37h1v1h-1zM187.01 510.66h1v1h-1zM161.2 510.82h1v1h-1zM165.18 518.8h1v1h-1zM147.02 506.55h1v1h-1zM173.84 503.96h1v1h-1zM179.37 511.75h1v1h-1zM160.99 515.6h1v1h-1zM169.41 510.51h1v1h-1zM187.98 511.14h1v1h-1zM169.19 513.02h1v1h-1zM158.17 514.04h1v1h-1zM182.35 514.44h1v1h-1zM173.5 509.33h1v1h-1zM187.9 513.87h1v1h-1zM174.43 518.72h1v1h-1zM189.7 508.32h1v1h-1zM169.63 503.4h1v1h-1zM178.75 505.73h1v1h-1zM166.04 503.88h1v1h-1zM170.69 517.18h1v1h-1zM159.63 514.11h1v1h-1zM190.49 509.73h1v1h-1zM163.61 508.45h1v1h-1zM173.68 507.23h1v1h-1zM188.68 509h1v1h-1zM158.15 512.69h1v1h-1zM187.47 514.71h1v1h-1zM187.1 509.87h1v1h-1zM163.93 515.56h1v1h-1zM176.58 505.34h1v1h-1zM150.42 517.17h1v1h-1zM155.99 517.27h1v1h-1zM180.68 517.53h1v1h-1zM152.64 512.44h1v1h-1zM168.47 514.04h1v1h-1zM155.94 512.27h1v1h-1zM147.12 515.35h1v1h-1zM185.3 506.35h1v1h-1zM151.39 505.93h1v1h-1zM174.15 504.31h1v1h-1zM180.97 505.38h1v1h-1zM159.87 518.98h1v1h-1zM171.19 504.76h1v1h-1zM146.16 509.51h1v1h-1zM162.43 505.63h1v1h-1zM181.87 509.12h1v1h-1zM149.88 506.8h1v1h-1zM156.58 508.05h1v1h-1zM154.32 517.96h1v1h-1zM181.04 507.65h1v1h-1zM154.21 510.89h1v1h-1zM186.2 513.01h1v1h-1zM174.01 507.26h1v1h-1zM143.37 509.92h1v1h-1zM177.12 517.36h1v1h-1zM159.07 506.05h1v1h-1zM180.75 514.64h1v1h-1zM172.48 517.23h1v1h-1zM181.62 517.14h1v1h-1zM143.28 515.96h1v1h-1zM153.2 514.93h1v1h-1zM155.72 512.99h1v1h-1zM172.45 508.76h1v1h-1zM160.99 507.59h1v1h-1zM155.27 504.8h1v1h-1zM146.09 517.18h1v1h-1zM162.12 511.59h1v1h-1zM188.52 507.71h1v1h-1zM152.19 505.28h1v1h-1zM165.74 513.01h1v1h-1zM173.13 514.69h1v1h-1z" fill="#3a3fa0" fill-opacity="0.6"/>
<path d="M166.04 512.99h1v1h-1zM164.11 508.92h1v1h-1zM159.14 514.64h1v1h-1zM165.51 505.76h1v1h-1zM153.14 505.81h1v1h-1zM155.79 513.55h1v1h-1zM149.39 515.51h1v1h-1zM177.38 510.82h1v1h-1zM156.71 507.67h1v1h-1zM152.45 512.98h1v1h-1zM186.94 513.5h1v1h-1zM152.99 508.73h1v1h-1zM160.74 503.47h1v1h-1zM185.27 505.68h1v1h-1zM173.82 518.2h1v1h-1zM187.46 514.31h1v1h-1zM180.25 508.47h1v1h-1zM167.23 503.41h1v1h-1zM149.76 516.36h1v1h-1zM161.12 514.04h1v1h-1zM189.9 512.56h1v1h-1zM166.69 519.25h1v1h-1zM165.11 504.81h1v1h-1zM167.96 516.49h1v1h-1zM177.89 509.28h1v1h-1zM153.28 507.7h1v1h-1zM153.47 517.98h1v1h-1zM192.89 510.62h1v1h-1zM174.22 509.22h1v1h-1zM179.17 506.2h1v1h-1zM169.76 503.56h1v1h-1zM143.44 506.12h1v1h-1zM169.53 518.97h1v1h-1zM151.77 504.16h1v1h-1zM149.81 513.13h1v1h-1zM169.55 515.11h1v1h-1zM163 511.6h1v1h-1zM163.67 516.57h1v1h-1zM142.67 509.74h1v1h-1zM183.56 516.11h1v1h-1zM147.4 517.66h1v1h-1zM163.27 504.48h1v1h-1zM150.28 513.76h1v1h-1zM176.15 515.97h1v1h-1zM141.85 515.37h1v1h-1zM157.07 512.19h1v1h-1zM152.06 515h1v1h-1zM158.77 516.8h1v1h-1zM151.13 507.12h1v1h-1zM182.79 510.69h1v1h-1zM159.89 518.06h1v1h-1zM181.69 515.9h1v1h-1zM169.64 508.49h1v1h-1zM172.99 515.7h1v1h-1zM182.41 504.62h1v1h-1zM163.65 509.25h1v1h-1zM160.23 511.39h1v1h-1zM155.57 504.88h1v1h-1zM183.23 516.93h1v1h-1zM165.63 518.11h1v1h-1zM186.75 506h1v1h-1zM166.4 503.77h1v1h-1zM149.77 511.52h1v1h-1zM177.37 506.32h1v1h-1zM187.73 506.36h1v1h-1zM170.18 506.15h1v1h-1zM176.98 518.46h1v1h-1zM192.73 510.42h1v1h-1zM147.15 517.05h1v1h-1zM143.35 508.88h1v1h-1zM161.6 510.61h1v1h-1zM151.97 504.31h1v1h-1zM186.21 508.71h1v1h-1zM154.66 504.02h1v1h-1zM176.49 509.11h1v1h-1zM168.85 508.14h1v1h-1zM177.62 512.93h1v1h-1zM156.46 505.55h1v1h-1zM151.21 510.26h1v1h-1zM173.61 516.65h1v1h-1zM153.01 506.97h1v1h-1zM173.89 503.67h1v1h-1zM150.51 514.76h1v1h-1zM154.39 516.19h1v1h-1zM186.5 507.18h1v1h-1zM177.05 515.73h1v1h-1zM173.18 514.87h1v1h-1zM146.33 506.99h1v1h-1zM177.41 506.03h1v1h-1zM168.01 517.82h1v1h-1zM174.25 509.34h1v1h-1zM176.92 516.4h1v1h-1zM158.41 509.62h1v1h-1zM163.47 502.97h1v1h-1zM182.74 504.71h1v1h-1zM176.17 513.17h1v1h-1zM190.62 511.44h1v1h-1zM170.04 515.68h1v1h-1zM175.84 516.51h1v1h-1zM142.25 510.13h1v1h-1zM171.23 515.89h1v1h-1zM155.52 513.45h1v1h-1zM173.45 509.29h1v1h-1zM145.73 512.55h1v1h-1zM168.3 519.26h1v1h-1zM171.93 505.61h1v1h-1zM172.09 512.86h1v1h-1zM179.35 507.83h1v1h-1zM164.78 513.7h1v1h-1zM167.91 512.94h1v1h-1zM165.88 517.35h1v1h-1zM185.22 505.56h1v1h-1zM168.44 515.8h1v1h-1zM171.16 509.83h1v1h-1zM157.27 516.55h1v1h-1zM146.09 505.78h1v1h-1zM176.01 510.79h1v1h-1zM165.66 512.86h1v1h-1zM160.85 516.28h1v1h-1zM150.5 516.06h1v1h-1zM187.63 509.92h1v1h-1zM172.75 514.31h1v1h-1zM150.92 505.16h1v1h-1zM142.56 508.23h1v1h-1zM161.71 506.67h1v1h-1zM177.34 516.5h1v1h-1zM183.58 506.07h1v1h-1zM169.53 503.8h1v1h-1zM165.68 505.97h1v1h-1zM173.1 504.79h1v1h-1zM174.51 513.86h1v1h-1zM155.03 503.57h1v1h-1zM162.12 512.2h1v1h-1zM178.1 518.38h1v1h-1zM167.75 505.93h1v1h-1zM167.11 512.91h1v1h-1zM147.79 505.1h1v1h-1zM147.04 505.12h1v1h-1zM163.39 505.67h1v1h-1zM191.79 508.67h1v1h-1zM174.29 518.02h1v1h-1zM159.14 506.93h1v1h-1zM161.86 505.59h1v1h-1zM170.12 504.18h1v1h-1zM184.52 514.16h1v1h-1zM166.35 509.56h1v1h-1zM164.42 509.19h1v1h-1zM175.05 515.84h1v1h-1zM179.76 504.78h1v1h-1zM152.81 512.98h1v1h-1zM159.58 515.79h1v1h-1zM179.66 515.75h1v1h-1zM166.29 508h1v1h-1zM167.07 515.71h1v1h-1zM144.58 505.67h1v1h-1zM149.32 504.99h1v1h-1zM155.03 512.55h1v1h-1zM150.04 509.07h1v1h-1zM165.72 510.43h1v1h-1zM178.48 509.71h1v1h-1z" fill="#3458a8" fill-opacity="0.6"/>
<path d="M162.47 510.29h1v1h-1zM163.09 506.26h1v1h-1zM157.94 512.33h1v1h-1zM160.79 507.88h1v1h-1zM161.44 513.72h1v1h-1zM160.65 509.31h1v1h-1zM175.5 514.74h1v1h-1zM170.58 509.55h1v1h-1zM175.08 506.84h1v1h-1zM189.12 511.11h1v1h-1zM186.26 512.53h1v1h-1zM179.75 508.12h1v1h-1zM168.27 514.42h1v1h-1zM174.05 509.6h1v1h-1zM169.04 510.04h1v1h-1zM170.28 512.85h1v1h-1zM170.47 509.51h1v1h-1zM170.96 509.18h1v1h-1zM176.89 510.31h1v1h-1zM174.14 510.38h1v1h-1zM184.04 512.86h1v1h-1zM168.63 506.33h1v1h-1zM174.55 511.52h1v1h-1zM173.78 505.32h1v1h-1zM177.1 507.65h1v1h-1zM172.25 512.18h1v1h-1zM173.38 510.85h1v1h-1zM170.16 507.49h1v1h-1zM170.5 507.53h1v1h-1zM188.58 509.14h1v1h-1zM164.72 511.75h1v1h-1zM180.79 513.24h1v1h-1zM173.14 509.55h1v1h-1zM167.9 510.79h1v1h-1zM164.07 510.91h1v1h-1zM179.5 506.47h1v1h-1zM172.84 509.76h1v1h-1zM168.97 505.91h1v1h-1zM155.31 508.86h1v1h-1zM172.51 513.93h1v1h-1zM166.87 507.12h1v1h-1zM166.84 513.59h1v1h-1zM167.49 514.66h1v1h-1zM179.63 509.6h1v1h-1zM160.61 513.72h1v1h-1zM161.69 510.69h1v1h-1zM157.27 508.76h1v1h-1zM173.83 506.43h1v1h-1zM179.41 514.5h1v1h-1zM169.63 512.22h1v1h-1zM167.08 509.04h1v1h-1zM168.65 508.64h1v1h-1zM173.94 505.11h1v1h-1zM158.01 513.05h1v1h-1zM170.36 509.03h1v1h-1zM184.28 507.45h1v1h-1zM176.87 509.66h1v1h-1zM165.27 509h1v1h-1zM170.95 510.78h1v1h-1zM163.13 512.56h1v1h-1zM177.86 513.49h1v1h-1zM159.45 506.71h1v1h-1zM181.89 509.6h1v1h-1zM172.19 514.92h1v1h-1zM171.9 509.88h1v1h-1zM162.55 510.61h1v1h-1zM163.23 513.9h1v1h-1zM175.41 505.73h1v1h-1zM162.84 512.9h1v1h-1zM158.19 510.37h1v1h-1zM172.09 512.64h1v1h-1zM159.65 507.11h1v1h-1zM177 514.42h1v1h-1zM181.7 512.92h1v1h-1zM175.34 508.85h1v1h-1zM183.73 508.77h1v1h-1zM156.06 511.37h1v1h-1zM183.55 506.18h1v1h-1zM173.92 507.81h1v1h-1zM176.53 510.07h1v1h-1zM173.23 507.68h1v1h-1zM165.66 513.19h1v1h-1zM183.64 508.31h1v1h-1zM181.25 512.5h1v1h-1zM155.78 508.34h1v1h-1zM164.6 512.02h1v1h-1zM164.77 506.6h1v1h-1zM177.52 514.64h1v1h-1zM172.66 509.56h1v1h-1zM163.06 511.11h1v1h-1zM161.25 511.95h1v1h-1zM166.99 506.48h1v1h-1zM171.46 505.62h1v1h-1zM188.89 508.92h1v1h-1zM159.14 507.08h1v1h-1zM182.33 508.85h1v1h-1zM167.48 512.77h1v1h-1zM187.34 508.35h1v1h-1zM165.2 513.29h1v1h-1zM180.47 507.86h1v1h-1zM174.12 506.75h1v1h-1zM164.09 506.6h1v1h-1zM187.35 512.36h1v1h-1zM183.58 513.11h1v1h-1zM178.06 511.55h1v1h-1zM154.97 510.72h1v1h-1zM155.77 511.64h1v1h-1zM174.6 511.99h1v1h-1zM172.39 506.58h1v1h-1zM161.59 512.58h1v1h-1zM178.13 508.7h1v1h-1zM165.87 508.63h1v1h-1zM180.98 511.2h1v1h-1zM180.07 512h1v1h-1zM182.56 510.78h1v1h-1zM162.91 513.33h1v1h-1zM180.54 513.05h1v1h-1zM172.93 512.1h1v1h-1zM188.94 509.84h1v1h-1zM174.28 512.45h1v1h-1zM169.59 506.04h1v1h-1zM166.17 507.5h1v1h-1zM178.93 511.14h1v1h-1zM173.22 508.1h1v1h-1zM180.24 509.6h1v1h-1zM178.79 513.39h1v1h-1zM156.56 508.47h1v1h-1zM171.14 512.55h1v1h-1zM178.89 512.86h1v1h-1zM178.25 505.38h1v1h-1zM156.28 507.67h1v1h-1zM170.24 508.86h1v1h-1zM169.66 509.45h1v1h-1zM186.24 511.5h1v1h-1zM184.68 509.02h1v1h-1zM179.67 511.28h1v1h-1zM179.19 506.17h1v1h-1zM179.23 510.85h1v1h-1zM163.46 508.13h1v1h-1zM166.5 507.7h1v1h-1zM160.24 507.56h1v1h-1zM167.47 513.11h1v1h-1zM169.36 511h1v1h-1zM179.11 507.28h1v1h-1z" fill="#4aa8cc" fill-opacity="0.6"/>
<path d="M177.82 510.7h1v1h-1zM182.13 512.86h1v1h-1zM163.91 513.08h1v1h-1zM168.06 512.32h1v1h-1zM167.77 510.21h1v1h-1zM171.34 513.81h1v1h-1zM165.07 512.18h1v1h-1zM167.61 510.38h1v1h-1zM175.49 510.1h1v1h-1zM164.18 511.01h1v1h-1zM182.55 511.98h1v1h-1zM169.94 505.28h1v1h-1zM162.45 513.18h1v1h-1zM176.09 508.05h1v1h-1zM167.87 505.15h1v1h-1zM160.46 510.7h1v1h-1zM184.47 510.13h1v1h-1zM188.56 511.93h1v1h-1zM171.21 508.1h1v1h-1zM183.83 510.09h1v1h-1zM175.89 505.74h1v1h-1zM164.34 511.07h1v1h-1zM173.4 513.13h1v1h-1zM165.97 509.33h1v1h-1zM177.15 513.72h1v1h-1zM157.08 510.84h1v1h-1zM164.63 511.64h1v1h-1zM167.94 511.62h1v1h-1zM176.07 507h1v1h-1zM162.02 512.81h1v1h-1zM160.9 510.98h1v1h-1zM165.89 506.35h1v1h-1zM184.26 510.36h1v1h-1zM165.82 513.29h1v1h-1zM165.99 507.57h1v1h-1zM168.44 514.9h1v1h-1zM181.84 509.76h1v1h-1zM181.07 511.22h1v1h-1zM174.62 506.07h1v1h-1zM180.44 507.12h1v1h-1zM169.87 510.09h1v1h-1zM176.85 512.15h1v1h-1zM187.84 508.85h1v1h-1zM167.09 508.34h1v1h-1zM178.64 509.69h1v1h-1zM167.65 511.77h1v1h-1zM177.71 507.39h1v1h-1zM169.53 505.7h1v1h-1zM168.05 506.63h1v1h-1zM159.48 509.34h1v1h-1zM167.03 509.21h1v1h-1zM182.89 509.61h1v1h-1zM170.35 513.78h1v1h-1zM179.52 512.39h1v1h-1zM184.73 511.93h1v1h-1zM172.09 508.64h1v1h-1zM161.33 506.79h1v1h-1zM170.35 506.8h1v1h-1zM164.9 509.34h1v1h-1zM165.67 510.62h1v1h-1zM156.47 511.21h1v1h-1zM155.69 512.04h1v1h-1zM181.07 509.4h1v1h-1zM162.71 513.99h1v1h-1zM176.68 506.8h1v1h-1zM188.18 507.83h1v1h-1zM183.53 507.31h1v1h-1zM172.06 509.83h1v1h-1zM163.09 511.7h1v1h-1zM156.69 511.24h1v1h-1zM166.11 509.77h1v1h-1zM170.83 506.87h1v1h-1zM177 512.06h1v1h-1zM155.01 510.3h1v1h-1zM156.67 512.61h1v1h-1zM157.4 507.17h1v1h-1zM159.42 511.9h1v1h-1zM175.51 505.97h1v1h-1zM174.15 514.92h1v1h-1zM172.43 512.89h1v1h-1zM181.73 507.01h1v1h-1zM185.34 510.15h1v1h-1zM177.29 505.96h1v1h-1zM166.49 509.87h1v1h-1zM161.81 510.8h1v1h-1zM171.87 512h1v1h-1zM186.87 511.72h1v1h-1zM174.62 512.22h1v1h-1zM186.13 508.41h1v1h-1zM171.08 508.68h1v1h-1zM171.97 506.16h1v1h-1zM158.79 507.7h1v1h-1zM188.89 509.83h1v1h-1zM156.58 509.23h1v1h-1zM179.43 509.49h1v1h-1zM161 512.91h1v1h-1zM186.31 511.44h1v1h-1zM173.44 508.88h1v1h-1zM169.31 508.59h1v1h-1zM166.09 508.18h1v1h-1zM165.18 506.89h1v1h-1zM171.38 514.97h1v1h-1zM161.64 511.54h1v1h-1zM165.29 509.74h1v1h-1zM165.53 506.17h1v1h-1zM184.14 507.59h1v1h-1zM173.77 514.6h1v1h-1zM183.83 507.45h1v1h-1zM185.7 506.95h1v1h-1zM175.13 507.47h1v1h-1zM165.01 513.21h1v1h-1zM159.36 509.09h1v1h-1zM183.2 506.15h1v1h-1zM168.14 510.3h1v1h-1zM175.23 510.16h1v1h-1zM172.42 509.73h1v1h-1zM161.35 508.7h1v1h-1zM165.87 514.7h1v1h-1zM172.83 512.29h1v1h-1zM160 511.96h1v1h-1zM162.87 511.06h1v1h-1zM171.6 514.18h1v1h-1zM173.81 508.96h1v1h-1zM179.32 507.01h1v1h-1zM168.88 508.16h1v1h-1zM178.71 511.27h1v1h-1zM178.19 505.56h1v1h-1zM155.28 508.76h1v1h-1zM183.81 513.04h1v1h-1zM171.34 513.16h1v1h-1zM172.43 511.18h1v1h-1zM166.99 508.56h1v1h-1zM160.05 507.33h1v1h-1zM172.15 512.72h1v1h-1zM176.2 505.41h1v1h-1zM178.45 509.51h1v1h-1zM156.57 510.38h1v1h-1zM176.34 505.28h1v1h-1zM168.46 510.63h1v1h-1zM183.76 511.53h1v1h-1zM169.12 510.44h1v1h-1zM176.22 513.88h1v1h-1zM177.91 511h1v1h-1zM163.79 508.41h1v1h-1zM155.15 511.26h1v1h-1z" fill="#66bcc0" fill-opacity="0.6"/>
<path d="M189.93 510.25h1v1h-1zM180.87 506.09h1v1h-1zM189.68 510.39h1v1h-1zM173.23 510.87h1v1h-1zM154.43 509.52h1v1h-1zM185.8 508.53h1v1h-1zM162.01 511.07h1v1h-1zM162.93 507.43h1v1h-1zM186.76 509.77h1v1h-1zM168.14 506.49h1v1h-1zM177.78 510.82h1v1h-1zM168.75 512.96h1v1h-1zM167 512.5h1v1h-1zM173.17 509.1h1v1h-1zM182.02 510.21h1v1h-1zM161.48 513.9h1v1h-1zM162.92 510.86h1v1h-1zM173.99 508.68h1v1h-1zM161.56 512.5h1v1h-1zM184.82 507.02h1v1h-1zM157.04 509.99h1v1h-1zM164.84 512.06h1v1h-1zM155.21 511.41h1v1h-1zM174.58 510.53h1v1h-1zM178.41 507.26h1v1h-1zM161.9 507.75h1v1h-1zM164.07 511.24h1v1h-1zM163.13 512.45h1v1h-1zM161.77 506.6h1v1h-1zM172.04 505.47h1v1h-1zM181.84 510.34h1v1h-1zM167.75 507.11h1v1h-1zM168.12 514.62h1v1h-1zM159.44 511.74h1v1h-1zM166.71 506.34h1v1h-1zM177.6 511.73h1v1h-1zM169.06 507.13h1v1h-1zM156.3 508.75h1v1h-1zM173.21 506.45h1v1h-1zM179.67 508.9h1v1h-1zM182.47 512.31h1v1h-1zM180.71 507.35h1v1h-1zM174.72 514.93h1v1h-1zM158.34 507.8h1v1h-1zM179.42 512.47h1v1h-1zM177.78 512.82h1v1h-1zM167.93 511.54h1v1h-1zM156.79 508.54h1v1h-1zM166.54 507.63h1v1h-1zM185.38 507.77h1v1h-1zM157.43 509.94h1v1h-1zM164.74 511.93h1v1h-1zM162.98 510.15h1v1h-1zM186.56 511.33h1v1h-1zM167.6 507.79h1v1h-1zM178.08 507.15h1v1h-1zM189.24 509.36h1v1h-1zM168.46 511.12h1v1h-1zM184.63 509.46h1v1h-1zM158.81 511.71h1v1h-1zM165.44 512.24h1v1h-1zM187.97 508.43h1v1h-1zM175.52 509.86h1v1h-1zM186.12 512.44h1v1h-1zM160.67 506.76h1v1h-1zM163.67 513.3h1v1h-1zM189 509.21h1v1h-1zM175.35 512.87h1v1h-1zM178.36 510.79h1v1h-1zM184.76 507.79h1v1h-1zM163.4 506.69h1v1h-1zM178.52 507.41h1v1h-1zM158.94 510.52h1v1h-1zM181.54 509.16h1v1h-1zM160.31 511.31h1v1h-1zM158.23 509.99h1v1h-1zM169.02 514.53h1v1h-1zM170.51 508.21h1v1h-1zM188.42 511.94h1v1h-1zM180.16 512.51h1v1h-1zM161.97 512.4h1v1h-1zM154.82 511.14h1v1h-1zM156.97 508.26h1v1h-1zM173.54 507.4h1v1h-1zM181.53 507.76h1v1h-1zM162.14 513.13h1v1h-1zM174.59 508.33h1v1h-1zM179.25 512.44h1v1h-1zM182.89 508.02h1v1h-1zM155.75 511.62h1v1h-1zM163.82 510.44h1v1h-1zM167.56 505.58h1v1h-1zM160.06 512.79h1v1h-1zM186.17 507.36h1v1h-1zM176.67 513.51h1v1h-1zM179.45 509.58h1v1h-1zM170.47 510.02h1v1h-1zM171.15 508.67h1v1h-1zM176.67 511.98h1v1h-1zM184.07 509.42h1v1h-1zM185.51 512.09h1v1h-1zM158.09 512.36h1v1h-1zM180.87 512.3h1v1h-1zM171.42 508.03h1v1h-1zM164.57 512.08h1v1h-1zM171.19 511.73h1v1h-1zM160.2 511.51h1v1h-1zM176.66 508.48h1v1h-1z" fill="#5ab6c6" fill-opacity="0.6"/>
<path d="M175.97 506.7h1v1h-1zM168.91 514.43h1v1h-1zM154.41 509.14h1v1h-1zM173.18 508.45h1v1h-1zM167.99 512.98h1v1h-1zM157.8 509.6h1v1h-1zM188.1 508.9h1v1h-1zM187.83 508.41h1v1h-1zM176.41 513.89h1v1h-1zM180.95 508.29h1v1h-1zM168.63 514.34h1v1h-1zM161.71 507.21h1v1h-1zM179.02 514.07h1v1h-1zM181.45 510.52h1v1h-1zM170.22 512h1v1h-1zM162.67 507.81h1v1h-1zM174.11 510.99h1v1h-1zM165.46 511.77h1v1h-1zM177.85 509.98h1v1h-1zM158.91 508.56h1v1h-1zM166.83 509.59h1v1h-1zM179.59 509.47h1v1h-1zM163.61 513.2h1v1h-1zM161.37 513.91h1v1h-1zM185.3 509.64h1v1h-1zM163.46 513.96h1v1h-1zM176.39 514.37h1v1h-1zM178.3 506.02h1v1h-1zM178.24 506.78h1v1h-1zM171.26 506.4h1v1h-1zM172.92 506.48h1v1h-1zM187.01 511.53h1v1h-1zM183.88 507.14h1v1h-1zM177.72 514.23h1v1h-1zM161.05 508.37h1v1h-1zM170.1 514.88h1v1h-1zM163.17 511.79h1v1h-1zM158.17 511.89h1v1h-1zM171.23 508.95h1v1h-1zM186.19 510.58h1v1h-1zM179.95 507.81h1v1h-1zM174.47 513.82h1v1h-1zM177.73 510.39h1v1h-1zM187.3 510.23h1v1h-1zM165.43 510.4h1v1h-1zM160.12 512.32h1v1h-1zM189.54 511.06h1v1h-1zM180.16 508.7h1v1h-1zM176.52 511.11h1v1h-1zM169.04 509.08h1v1h-1zM181.14 507.73h1v1h-1zM155.67 508.73h1v1h-1zM164.97 510.1h1v1h-1zM167.54 507.18h1v1h-1zM160.8 513.18h1v1h-1zM173.51 506.29h1v1h-1zM171.99 513.6h1v1h-1zM177.4 509.43h1v1h-1zM179.1 509.24h1v1h-1zM164.58 510.33h1v1h-1zM180.71 511.33h1v1h-1zM172.63 507.79h1v1h-1zM161.95 510.24h1v1h-1zM171.01 513.74h1v1h-1zM180.18 506.09h1v1h-1zM172.8 506.37h1v1h-1zM163.5 508.13h1v1h-1zM168.37 505.76h1v1h-1zM178.48 512.12h1v1h-1zM179.81 506.68h1v1h-1zM168.82 508.85h1v1h-1zM165.57 506.48h1v1h-1zM156.91 510.58h1v1h-1zM156.83 510.14h1v1h-1zM178.26 511.22h1v1h-1zM178.15 512.8h1v1h-1zM172.58 514.57h1v1h-1zM170.11 506.79h1v1h-1zM167.86 512.33h1v1h-1zM160.25 513.16h1v1h-1zM188.68 511.51h1v1h-1zM157.53 510.96h1v1h-1zM157.15 510.08h1v1h-1zM177.13 513.95h1v1h-1zM165.46 507.91h1v1h-1zM169.8 505.62h1v1h-1zM188.05 511.22h1v1h-1zM176.12 509.69h1v1h-1zM175.28 509.04h1v1h-1zM174.6 510.93h1v1h-1zM185.47 512.52h1v1h-1z" fill="#3f8fc4" fill-opacity="0.6"/>
<path d="M159.85 508.33h1v1h-1zM164.44 510.43h1v1h-1zM179.68 511.49h1v1h-1zM164.35 512.29h1v1h-1zM160.06 508.76h1v1h-1zM157.59 511.27h1v1h-1zM186.62 510.83h1v1h-1zM181.26 511.67h1v1h-1zM176.6 511.18h1v1h-1zM159.98 513.53h1v1h-1zM181.64 513.63h1v1h-1zM174.37 508.51h1v1h-1zM162.79 512.52h1v1h-1zM157.54 507.07h1v1h-1zM176.34 510.84h1v1h-1zM181.98 510.64h1v1h-1zM171.43 505.36h1v1h-1zM161.74 512.08h1v1h-1zM167.2 507.69h1v1h-1zM165.01 511.18h1v1h-1zM183.28 506.89h1v1h-1zM183.94 508.47h1v1h-1zM166.16 507.03h1v1h-1zM184.6 509.25h1v1h-1zM165.01 506.63h1v1h-1zM165.12 505.6h1v1h-1zM187.65 508.29h1v1h-1zM170.91 513.95h1v1h-1zM178.9 505.72h1v1h-1zM176.47 505.79h1v1h-1zM160.23 510.92h1v1h-1zM177.57 505.68h1v1h-1zM165.01 508.04h1v1h-1zM174.51 507.24h1v1h-1zM182.06 507.92h1v1h-1zM169.04 505.24h1v1h-1zM169.74 506.35h1v1h-1zM172.13 514.9h1v1h-1zM185.55 507.44h1v1h-1zM182.45 509.03h1v1h-1zM162.34 514.08h1v1h-1zM170.09 506.67h1v1h-1zM180.58 506.01h1v1h-1zM176.71 508.98h1v1h-1zM188.27 509.44h1v1h-1zM162.02 509.84h1v1h-1zM179.57 509.74h1v1h-1zM178.13 505.99h1v1h-1zM169.89 507.98h1v1h-1zM185.6 512.68h1v1h-1zM177.87 514.64h1v1h-1zM166.06 506.89h1v1h-1zM171.04 514.63h1v1h-1zM171.52 506.36h1v1h-1zM173.21 505.38h1v1h-1zM187.56 511.18h1v1h-1zM174.71 507.68h1v1h-1zM163.68 510.74h1v1h-1zM181.84 510.49h1v1h-1zM176.67 507.45h1v1h-1zM178.25 513.4h1v1h-1zM175.87 508.77h1v1h-1zM175.83 513.99h1v1h-1zM156.29 508.54h1v1h-1zM166.6 512.49h1v1h-1zM188.34 511.37h1v1h-1zM186.63 509.85h1v1h-1zM172.86 508.34h1v1h-1zM176.78 512.56h1v1h-1zM158.65 511.1h1v1h-1zM189.06 509.98h1v1h-1zM157.81 507.78h1v1h-1zM179.15 506.64h1v1h-1zM173.03 514.52h1v1h-1zM179.5 509.13h1v1h-1zM160.36 507.6h1v1h-1zM156.48 509.78h1v1h-1zM180.83 512.65h1v1h-1zM182.8 506.56h1v1h-1zM171.3 511.67h1v1h-1zM180.12 507.99h1v1h-1zM179.7 509.19h1v1h-1zM172.62 507.33h1v1h-1zM175.8 511.07h1v1h-1zM158.26 508.2h1v1h-1zM181.56 509.81h1v1h-1zM172.99 511.8h1v1h-1zM178.76 506.78h1v1h-1zM166.09 512.81h1v1h-1zM158.77 510.27h1v1h-1zM161.98 508.24h1v1h-1zM179.85 508.98h1v1h-1zM158.38 506.94h1v1h-1zM178.51 505.55h1v1h-1zM167.6 507.93h1v1h-1zM180.74 510.39h1v1h-1zM158.72 507.94h1v1h-1zM178.36 512.03h1v1h-1zM179.46 510.11h1v1h-1zM157.73 509.64h1v1h-1zM174.04 506.58h1v1h-1zM167.93 508.42h1v1h-1zM178.12 513.25h1v1h-1zM159.77 509.59h1v1h-1zM175.13 513.23h1v1h-1zM157.98 510.42h1v1h-1zM168.42 509.09h1v1h-1zM166.47 507.13h1v1h-1zM170.32 513.59h1v1h-1zM181.9 509.4h1v1h-1zM166.1 511.61h1v1h-1zM173.09 510.34h1v1h-1z" fill="#3a70b8" fill-opacity="0.6"/>
<path d="M153.28 536.26h1v1h-1zM143.25 557.54h1v1h-1zM168.06 531.21h1v1h-1zM143.56 536.94h1v1h-1zM174.27 548.19h1v1h-1zM162.29 531.66h1v1h-1zM146.12 570.96h1v1h-1zM171.44 541.72h1v1h-1zM157.28 526.47h1v1h-1zM171.99 541.33h1v1h-1zM162.1 547.47h1v1h-1zM145.49 538.21h1v1h-1zM142.64 545.31h1v1h-1zM172.37 553.58h1v1h-1zM161.04 549.52h1v1h-1zM151.07 535h1v1h-1zM154.32 532.87h1v1h-1zM142.23 530.58h1v1h-1zM158.6 529.61h1v1h-1zM154.74 539.45h1v1h-1zM156.14 534.54h1v1h-1zM142.64 550.93h1v1h-1zM149.8 544.93h1v1h-1zM163.99 532.94h1v1h-1zM186.86 557.56h1v1h-1zM150.67 544.97h1v1h-1zM160.42 537.43h1v1h-1zM170.13 565.96h1v1h-1zM150.23 556.86h1v1h-1zM157.16 528.56h1v1h-1zM160.81 527.85h1v1h-1zM152.43 538.95h1v1h-1zM178.25 541.73h1v1h-1zM164.03 528.25h1v1h-1zM146.67 558.17h1v1h-1zM156.3 529.3h1v1h-1zM159.04 555.59h1v1h-1zM176.11 550.29h1v1h-1zM170.4 550.44h1v1h-1zM142.13 536.37h1v1h-1zM172.8 564.28h1v1h-1zM156.3 538.69h1v1h-1zM153.7 546.6h1v1h-1zM147.43 552.63h1v1h-1zM172.4 533.45h1v1h-1zM160.8 536.4h1v1h-1zM160.66 562.45h1v1h-1zM150.29 545.25h1v1h-1zM158.73 533.12h1v1h-1zM148.41 557.75h1v1h-1zM204.64 558.73h1v1h-1zM153.62 536.95h1v1h-1zM148.51 541.23h1v1h-1zM162.58 542.34h1v1h-1zM162.49 542.51h1v1h-1zM148.43 538.81h1v1h-1zM145.58 537.17h1v1h-1zM156.91 539.3h1v1h-1zM153.43 532.06h1v1h-1zM160.93 581.58h1v1h-1zM153.61 528.85h1v1h-1zM153.22 530.32h1v1h-1zM148.64 530.49h1v1h-1zM161.34 545.96h1v1h-1zM170.23 533.16h1v1h-1zM156.08 528.71h1v1h-1zM183.19 532.38h1v1h-1zM153.92 534.36h1v1h-1zM153.47 531.43h1v1h-1zM170.14 558.93h1v1h-1zM192.22 527.25h1v1h-1zM144.63 545.86h1v1h-1zM147.15 538.57h1v1h-1zM173.35 532.99h1v1h-1zM153.09 532.31h1v1h-1zM155.82 526.73h1v1h-1zM151.26 550.37h1v1h-1zM148.76 546.56h1v1h-1zM162.12 535.66h1v1h-1zM143.68 546.82h1v1h-1zM148.32 538.16h1v1h-1zM181.57 559.78h1v1h-1zM154.44 538.03h1v1h-1zM150.09 531.19h1v1h-1zM156.35 561.92h1v1h-1zM158.99 538.88h1v1h-1zM151.83 550.13h1v1h-1zM211.6 545.48h1v1h-1zM145.13 574.3h1v1h-1zM152.2 544.24h1v1h-1zM152.75 545.29h1v1h-1zM148.54 554.27h1v1h-1zM143.41 527.35h1v1h-1zM157.38 532.89h1v1h-1zM166.75 568.96h1v1h-1zM154.82 532.94h1v1h-1zM163.55 532.48h1v1h-1zM164.65 527.09h1v1h-1zM200.59 534.22h1v1h-1zM156.8 535.8h1v1h-1zM170.99 540h1v1h-1zM157.16 526.21h1v1h-1zM160 544.18h1v1h-1zM166.25 549.57h1v1h-1zM151.81 537.88h1v1h-1zM142.48 544.95h1v1h-1zM150.61 533.69h1v1h-1zM146.15 541.86h1v1h-1zM150.16 529.11h1v1h-1zM143.6 553.49h1v1h-1zM164.44 536.97h1v1h-1zM192.14 548.27h1v1h-1zM147.36 536.96h1v1h-1zM147.9 534.52h1v1h-1zM167.58 541.88h1v1h-1zM153.38 528.57h1v1h-1zM144.5 532.23h1v1h-1zM160.42 534.07h1v1h-1zM164.7 533.43h1v1h-1zM178.24 569.93h1v1h-1zM151.67 563.53h1v1h-1zM149.44 537.43h1v1h-1zM142.29 534.61h1v1h-1zM152.05 532.47h1v1h-1zM147.47 542.35h1v1h-1zM142.09 536.82h1v1h-1zM152.66 526.08h1v1h-1zM151.26 534.54h1v1h-1zM159.67 541.04h1v1h-1zM175.57 544.92h1v1h-1zM171.57 544.69h1v1h-1zM162.08 532.11h1v1h-1zM178.85 526.73h1v1h-1zM156.48 532.66h1v1h-1zM157.71 542.51h1v1h-1zM145.18 532.89h1v1h-1zM141.81 556.66h1v1h-1zM174.9 535.94h1v1h-1zM157.21 528.94h1v1h-1zM149.48 531.89h1v1h-1zM154.95 542.18h1v1h-1zM156.64 547.3h1v1h-1zM160.49 527.77h1v1h-1zM157.14 531.85h1v1h-1zM147.06 545.26h1v1h-1zM153.37 534.57h1v1h-1zM156.2 528.34h1v1h-1zM144.85 536.97h1v1h-1zM145.85 551.14h1v1h-1zM152.05 542.48h1v1h-1zM155.8 542.74h1v1h-1z" fill="#4a4ab0" fill-opacity="0.45"/>
<path d="M166.17 543.45h1v1h-1zM147.57 553.71h1v1h-1zM143.74 532.72h1v1h-1zM182.95 544.62h1v1h-1zM183.95 542.11h1v1h-1zM146.11 570.52h1v1h-1zM148.18 545.89h1v1h-1zM173.51 527.85h1v1h-1zM155.56 545h1v1h-1zM181.26 539.3h1v1h-1zM187.64 555.48h1v1h-1zM179.02 527.73h1v1h-1zM152.75 530.33h1v1h-1zM164.38 537.84h1v1h-1zM141.82 530.14h1v1h-1zM149.85 550.03h1v1h-1zM146.12 528.97h1v1h-1zM183.59 541.14h1v1h-1zM146.13 552.73h1v1h-1zM196.68 550.26h1v1h-1zM147.53 558.74h1v1h-1zM198.92 540.8h1v1h-1zM142.32 539.13h1v1h-1zM159.68 529.89h1v1h-1zM148.54 544.78h1v1h-1zM157.33 535.1h1v1h-1zM148.68 531.8h1v1h-1zM144.91 530.67h1v1h-1zM151.57 535.14h1v1h-1zM174.82 537.24h1v1h-1zM154.77 566.39h1v1h-1zM153.22 529.15h1v1h-1zM160.99 527.92h1v1h-1zM146.11 569.43h1v1h-1zM167 547.04h1v1h-1zM155.38 534.07h1v1h-1zM154.97 540.13h1v1h-1zM181.88 527.91h1v1h-1zM145.79 528.23h1v1h-1zM156.51 557.63h1v1h-1zM159.75 527.48h1v1h-1zM155.32 533.68h1v1h-1zM152.47 530.64h1v1h-1zM144.42 549.61h1v1h-1zM144.76 532.69h1v1h-1zM145.53 530.34h1v1h-1zM165.48 531.08h1v1h-1zM159.83 555.8h1v1h-1zM159.65 527.98h1v1h-1zM142.9 542.86h1v1h-1zM151.23 531.02h1v1h-1zM150.32 543.55h1v1h-1zM153.79 530.65h1v1h-1zM164.76 536.59h1v1h-1zM156.37 534.87h1v1h-1zM147.15 536.61h1v1h-1zM172.94 526.3h1v1h-1zM150.45 539.22h1v1h-1zM162.37 535.08h1v1h-1zM160.11 527.58h1v1h-1zM166.19 543.19h1v1h-1zM147.58 562.89h1v1h-1zM174.44 537.19h1v1h-1zM144.3 540.99h1v1h-1zM145.98 541.58h1v1h-1zM183.94 551h1v1h-1zM155.2 536.5h1v1h-1zM146.34 547.45h1v1h-1zM142.81 551.52h1v1h-1zM163.57 551.29h1v1h-1zM150.09 539.58h1v1h-1zM151.01 541.09h1v1h-1zM149.74 549.9h1v1h-1zM158.43 528.83h1v1h-1zM150.83 533.45h1v1h-1zM163.94 546.33h1v1h-1zM188.17 541.2h1v1h-1zM154.71 533.71h1v1h-1zM148.24 539.68h1v1h-1zM170.82 547.15h1v1h-1zM145.45 546.01h1v1h-1zM148.18 547.26h1v1h-1zM154.3 545.03h1v1h-1zM143.72 580.51h1v1h-1zM182.2 531.02h1v1h-1zM156.1 546.16h1v1h-1zM194.22 527.37h1v1h-1zM146.77 549.65h1v1h-1zM185.41 532.95h1v1h-1zM163.79 526.7h1v1h-1zM169.4 527.32h1v1h-1zM172.94 530.83h1v1h-1zM146.76 534.1h1v1h-1zM176.73 551.04h1v1h-1zM146 576.7h1v1h-1zM149.49 536.58h1v1h-1zM160.04 534.85h1v1h-1zM158.81 557.73h1v1h-1zM146.24 553.23h1v1h-1zM158.74 538.04h1v1h-1zM142.33 531.42h1v1h-1zM147.28 544.24h1v1h-1zM160.08 542.84h1v1h-1zM155.66 534.45h1v1h-1zM142.58 531.5h1v1h-1zM158.82 527.6h1v1h-1zM150.92 555.02h1v1h-1zM159.61 527.91h1v1h-1zM161.19 537.25h1v1h-1zM167.19 556.52h1v1h-1zM199.29 535.17h1v1h-1zM157.08 535.4h1v1h-1zM156.45 534.43h1v1h-1zM174.24 541.28h1v1h-1zM169.07 549.66h1v1h-1zM159.43 541.82h1v1h-1zM146.4 537.55h1v1h-1zM158.53 529.22h1v1h-1zM148.14 526.76h1v1h-1zM148.75 547.94h1v1h-1zM166.46 534.77h1v1h-1zM153.46 529.59h1v1h-1zM151.86 536.49h1v1h-1zM179 564.78h1v1h-1zM170.86 546.35h1v1h-1zM166.41 530.74h1v1h-1zM141.82 526.61h1v1h-1zM169.68 548.33h1v1h-1zM165.66 546.53h1v1h-1zM166.46 568.74h1v1h-1zM150.43 543.84h1v1h-1zM159.4 529.73h1v1h-1zM172.04 538.24h1v1h-1zM144.28 535.91h1v1h-1zM147.94 528.6h1v1h-1zM146.11 544.75h1v1h-1zM157.1 540.98h1v1h-1zM157.63 528.73h1v1h-1zM172 526.17h1v1h-1zM157.63 531.97h1v1h-1zM187.05 527.87h1v1h-1zM143.71 545.06h1v1h-1zM163 528.34h1v1h-1zM156.24 526.23h1v1h-1zM144.93 540.37h1v1h-1zM170.55 544.23h1v1h-1zM164.56 553.39h1v1h-1zM164.65 551.14h1v1h-1zM149.06 537.59h1v1h-1zM163.93 540.5h1v1h-1zM161.38 554.83h1v1h-1zM169.35 542.68h1v1h-1zM150.53 558.5h1v1h-1zM154.72 534.57h1v1h-1zM183.01 526.22h1v1h-1zM177.26 552.87h1v1h-1zM171.83 526.3h1v1h-1zM149.4 562.32h1v1h-1zM145.97 528.24h1v1h-1zM153.18 583.1h1v1h-1zM162.37 543.51h1v1h-1zM166.86 526.82h1v1h-1zM149.83 528.77h1v1h-1zM142.24 527.95h1v1h-1zM145.02 530.21h1v1h-1zM148.56 530.64h1v1h-1zM165.92 526h1v1h-1zM166.02 533.37h1v1h-1zM151.32 535.22h1v1h-1zM152.85 529.65h1v1h-1zM161.72 534.16h1v1h-1zM176.58 552.96h1v1h-1zM143.31 532.8h1v1h-1zM145.97 533.61h1v1h-1zM148.63 561.67h1v1h-1zM159.34 541h1v1h-1zM163.26 527.23h1v1h-1zM155.29 535.3h1v1h-1zM164.37 560.04h1v1h-1z" fill="#5a5ab8" fill-opacity="0.45"/>
<path d="M178.53 549.27h1v1h-1zM162.68 537.46h1v1h-1zM146.41 532.95h1v1h-1zM142.76 531.17h1v1h-1zM153.89 538.9h1v1h-1zM166.59 542.34h1v1h-1zM163.66 562.48h1v1h-1zM150.92 535.34h1v1h-1zM142.17 539.58h1v1h-1zM160.37 526.28h1v1h-1zM165.42 534.45h1v1h-1zM157.11 532.01h1v1h-1zM143 570.2h1v1h-1zM152.36 537.61h1v1h-1zM162.42 542.22h1v1h-1zM180.58 561.54h1v1h-1zM153.12 535.31h1v1h-1zM179.82 552.78h1v1h-1zM155.28 533.17h1v1h-1zM149.61 568.12h1v1h-1zM142.23 561.59h1v1h-1zM142.07 551.38h1v1h-1zM170.83 528.36h1v1h-1zM157.34 531.69h1v1h-1zM155.34 528.64h1v1h-1zM185.76 533.1h1v1h-1zM147.38 531.76h1v1h-1zM163.92 527.02h1v1h-1zM158.14 562.98h1v1h-1zM168.27 541.7h1v1h-1zM158.85 553.82h1v1h-1zM144.12 534.53h1v1h-1zM166.1 545.66h1v1h-1zM162.42 542.81h1v1h-1zM142.53 527.21h1v1h-1zM172.63 531.68h1v1h-1zM175.25 532.02h1v1h-1zM154.26 535.53h1v1h-1zM161.07 533.87h1v1h-1zM174.16 541.93h1v1h-1zM144 532.22h1v1h-1zM194.3 526.09h1v1h-1zM153.77 527.61h1v1h-1zM164.44 555.19h1v1h-1zM159.66 564.51h1v1h-1zM142.48 553.25h1v1h-1zM162.85 560.55h1v1h-1zM151.86 551.52h1v1h-1zM148.76 552.01h1v1h-1zM145.77 549.2h1v1h-1zM145.64 535.27h1v1h-1zM143.92 535.73h1v1h-1zM147.48 526.98h1v1h-1zM145.77 552.28h1v1h-1zM165.71 543.47h1v1h-1zM156.96 534.87h1v1h-1zM150.02 545.79h1v1h-1zM169.52 532.13h1v1h-1zM143.59 567.99h1v1h-1zM147.68 528.53h1v1h-1zM148.38 549.56h1v1h-1zM156.91 542.91h1v1h-1zM163.59 530.58h1v1h-1zM159.77 543.19h1v1h-1zM184.22 544.73h1v1h-1zM165.71 529.98h1v1h-1zM150.52 533.72h1v1h-1zM195.87 535.16h1v1h-1zM171.08 533.57h1v1h-1zM160.33 562.25h1v1h-1zM155.55 527.73h1v1h-1zM143.34 546.29h1v1h-1zM161.79 527.16h1v1h-1zM161.51 539.91h1v1h-1zM149.68 532.17h1v1h-1zM144.01 548.19h1v1h-1zM158.36 564.73h1v1h-1zM148.13 537.02h1v1h-1zM154.16 539.78h1v1h-1zM156.39 549.77h1v1h-1zM172.4 538.64h1v1h-1zM154.13 539.85h1v1h-1zM161.04 563.37h1v1h-1zM158.32 543.91h1v1h-1zM165.05 540.97h1v1h-1zM164.5 556.9h1v1h-1zM152.18 531.04h1v1h-1zM157.78 528.84h1v1h-1zM157.64 528.1h1v1h-1zM174.69 531.64h1v1h-1zM166.08 541.3h1v1h-1zM169.58 552.61h1v1h-1zM180.94 548.48h1v1h-1zM145.63 542.86h1v1h-1zM142.15 549.73h1v1h-1zM157.54 538.56h1v1h-1zM149.39 534.05h1v1h-1zM172.24 535.37h1v1h-1zM157.75 556.39h1v1h-1zM151.94 538.02h1v1h-1zM174.23 541.53h1v1h-1zM163.16 555.06h1v1h-1zM168.97 527.62h1v1h-1zM169.69 532.26h1v1h-1zM193.99 532.92h1v1h-1zM148.43 547.24h1v1h-1zM169.72 544.39h1v1h-1zM166.22 558.88h1v1h-1zM146.32 527.15h1v1h-1zM144.07 542.19h1v1h-1zM167.65 533.2h1v1h-1zM166.71 531.84h1v1h-1zM147.58 547.91h1v1h-1zM166.72 553.8h1v1h-1zM147.71 532.11h1v1h-1zM146.61 540.02h1v1h-1zM180.44 526.3h1v1h-1zM153.76 530.72h1v1h-1zM203.44 528.11h1v1h-1zM160.56 526.55h1v1h-1zM149.18 531.57h1v1h-1zM185.74 557.91h1v1h-1zM143.13 572.31h1v1h-1zM182.83 535.94h1v1h-1zM185.41 528.18h1v1h-1zM159.74 532.98h1v1h-1zM160.71 534.22h1v1h-1zM146.1 530.26h1v1h-1zM155.94 534.24h1v1h-1zM150.31 559.94h1v1h-1zM159.93 529.44h1v1h-1zM171.87 568.91h1v1h-1zM147.27 548.08h1v1h-1zM158.61 530.5h1v1h-1zM145.05 546.16h1v1h-1zM157.23 526.78h1v1h-1zM154.27 558.52h1v1h-1zM170.2 540.97h1v1h-1zM157.6 537.34h1v1h-1zM163.87 545.78h1v1h-1zM171.33 562.7h1v1h-1zM143.86 539h1v1h-1zM144.17 526.86h1v1h-1zM168.71 551.67h1v1h-1zM155.63 535.93h1v1h-1zM166.3 538.35h1v1h-1zM142.85 539.31h1v1h-1zM167.16 543h1v1h-1zM175.84 539.26h1v1h-1zM151.21 536.61h1v1h-1zM151.36 527.07h1v1h-1zM142.58 539.51h1v1h-1zM161.04 531.13h1v1h-1zM147.28 531.08h1v1h-1zM144.02 532.81h1v1h-1zM148.88 527.41h1v1h-1zM142.03 537.46h1v1h-1zM161.09 528.15h1v1h-1zM165.31 543.13h1v1h-1zM155.23 563.82h1v1h-1zM164.79 530.03h1v1h-1zM170.7 544.72h1v1h-1zM149.96 538.4h1v1h-1z" fill="#30309a" fill-opacity="0.45"/>
<path d="M151.03 538.07h1v1h-1zM146.52 526.33h1v1h-1zM154.27 532.15h1v1h-1zM148.33 552.02h1v1h-1zM166.01 531.69h1v1h-1zM144.36 556.78h1v1h-1zM154.44 555.23h1v1h-1zM179.18 537.16h1v1h-1zM146.14 560.81h1v1h-1zM153.42 534.69h1v1h-1zM155.15 528.45h1v1h-1zM147.24 534.87h1v1h-1zM141.84 557.35h1v1h-1zM151.24 532.8h1v1h-1zM167.27 527.77h1v1h-1zM163.45 534.04h1v1h-1zM146 534.16h1v1h-1zM141.98 535.46h1v1h-1zM153.04 533.48h1v1h-1zM159.26 555.03h1v1h-1zM165.83 553.46h1v1h-1zM145.21 548.31h1v1h-1zM152.09 545.95h1v1h-1zM192.14 559.22h1v1h-1zM185.56 543.2h1v1h-1zM170.87 530.17h1v1h-1zM150.07 543.14h1v1h-1zM150.74 536.4h1v1h-1zM156.15 554.24h1v1h-1zM163.31 529.48h1v1h-1zM163.48 528.91h1v1h-1zM171.58 537.18h1v1h-1zM192.66 573.38h1v1h-1zM183.91 526.04h1v1h-1zM167.96 561.76h1v1h-1zM153.57 560.96h1v1h-1zM182.15 529.32h1v1h-1zM170.56 549.29h1v1h-1zM150.06 538.22h1v1h-1zM164.75 528.21h1v1h-1zM152.08 536.44h1v1h-1zM163.15 549.44h1v1h-1zM164.22 567.75h1v1h-1zM161.37 531.94h1v1h-1zM159.5 532.81h1v1h-1zM169.35 538.65h1v1h-1zM148.39 547.07h1v1h-1zM153.78 528.42h1v1h-1zM182.08 538.47h1v1h-1zM145.66 554.34h1v1h-1zM162.43 533.43h1v1h-1zM189.31 538.73h1v1h-1zM144.05 546.55h1v1h-1zM152.26 547.17h1v1h-1zM151.67 552.65h1v1h-1zM167.1 531.08h1v1h-1zM152.41 544.05h1v1h-1zM165.62 531.03h1v1h-1zM154.89 535.05h1v1h-1zM164.11 561.09h1v1h-1zM162.1 548.06h1v1h-1zM166.29 543.66h1v1h-1zM145.76 543.55h1v1h-1zM142.12 527.24h1v1h-1zM160.2 543h1v1h-1zM191.93 545.87h1v1h-1zM144.49 560.71h1v1h-1zM185.34 582.27h1v1h-1zM184.57 543.01h1v1h-1zM144.43 531h1v1h-1zM191.34 535.18h1v1h-1zM167.53 539.64h1v1h-1zM142.33 536.05h1v1h-1zM161.11 550.48h1v1h-1zM149.95 541.57h1v1h-1zM146.64 529.15h1v1h-1zM179.4 544.71h1v1h-1zM156.27 547.01h1v1h-1zM154.34 546.15h1v1h-1zM161.97 546.41h1v1h-1zM148.97 529.16h1v1h-1zM158.33 527.08h1v1h-1zM152.42 551.27h1v1h-1zM166.3 553.57h1v1h-1zM154.11 531.29h1v1h-1zM153.2 548.57h1v1h-1zM149.79 564.16h1v1h-1zM154.98 580.87h1v1h-1zM170.06 561.86h1v1h-1zM168.28 543.88h1v1h-1zM171.44 542.57h1v1h-1zM161.68 529.98h1v1h-1zM142.17 560.83h1v1h-1zM147.21 534.64h1v1h-1zM173.79 530.58h1v1h-1zM173.67 570.73h1v1h-1zM176.01 551.75h1v1h-1zM143.28 536.85h1v1h-1zM161.81 556.76h1v1h-1zM149.95 543.64h1v1h-1zM148.1 540.83h1v1h-1zM144.25 568.79h1v1h-1zM151.59 537.2h1v1h-1zM157.43 550.08h1v1h-1zM154.69 528.22h1v1h-1zM147.06 526.27h1v1h-1zM164.21 556.09h1v1h-1zM172.12 547.11h1v1h-1zM167.46 531.77h1v1h-1zM185.16 530h1v1h-1zM156.31 533.7h1v1h-1zM171.85 527.14h1v1h-1zM150.1 535.87h1v1h-1zM151.1 543.87h1v1h-1zM147.53 532.34h1v1h-1zM157.3 549.23h1v1h-1zM176.7 533.93h1v1h-1zM149.52 542.8h1v1h-1zM177.99 529.91h1v1h-1zM156.11 531.11h1v1h-1zM193.77 533.87h1v1h-1zM148.93 540.81h1v1h-1zM144.79 542.5h1v1h-1zM142.09 529.79h1v1h-1zM153.97 534.67h1v1h-1zM192.04 538.12h1v1h-1zM155.27 543.09h1v1h-1zM147.17 546.56h1v1h-1zM149.6 533.21h1v1h-1zM157.05 527.46h1v1h-1zM141.74 534.03h1v1h-1zM181.6 542.6h1v1h-1zM167.2 537.01h1v1h-1zM182.24 533.78h1v1h-1zM153.16 553.56h1v1h-1zM187.21 526.13h1v1h-1zM146.19 554.26h1v1h-1zM152.15 534.57h1v1h-1zM152.42 527.49h1v1h-1z" fill="#3a3aa0" fill-opacity="0.45"/>
<path d="M143.86 533.75h1v1h-1zM146.73 529.96h1v1h-1zM161.74 526.61h1v1h-1zM150.1 538.74h1v1h-1zM178.26 534.22h1v1h-1zM163.04 531.77h1v1h-1zM146.96 545.37h1v1h-1zM166.91 539.44h1v1h-1zM165.33 578.59h1v1h-1zM144.36 527.85h1v1h-1zM176.83 527.14h1v1h-1zM146.57 549.09h1v1h-1zM149.22 551.62h1v1h-1zM161.2 535.98h1v1h-1zM165.33 540.33h1v1h-1zM170 526.38h1v1h-1zM160.07 533.66h1v1h-1zM144.72 527.81h1v1h-1zM158.83 536.51h1v1h-1zM179.83 527.25h1v1h-1zM149.74 540.44h1v1h-1zM168.48 536.68h1v1h-1zM154.34 554.96h1v1h-1zM149.73 572.45h1v1h-1zM156.64 526.55h1v1h-1zM173.93 541.94h1v1h-1zM168.46 537.06h1v1h-1zM159.67 543.71h1v1h-1zM144.49 534.05h1v1h-1zM164.19 541.1h1v1h-1zM146.63 534.43h1v1h-1zM144.95 541.88h1v1h-1zM155.07 544.39h1v1h-1zM154.48 536.51h1v1h-1zM162.44 530.23h1v1h-1zM149.84 532.28h1v1h-1zM145.73 542.45h1v1h-1zM158.76 534.24h1v1h-1zM150.29 535.83h1v1h-1zM145.47 527.81h1v1h-1zM154.97 559.46h1v1h-1zM156.27 536.29h1v1h-1zM162.66 528.91h1v1h-1zM165.92 539.49h1v1h-1zM142.5 532.99h1v1h-1zM182.62 526.62h1v1h-1zM150.13 553.19h1v1h-1zM186.62 536.21h1v1h-1zM149.94 539.21h1v1h-1zM142.61 534.78h1v1h-1zM172.84 527.24h1v1h-1zM165.83 529.38h1v1h-1zM189.61 529.4h1v1h-1zM170.13 554.08h1v1h-1zM162.6 530.89h1v1h-1zM158.95 539.12h1v1h-1zM143.63 532.31h1v1h-1zM149.89 530.23h1v1h-1zM162.26 561h1v1h-1zM157.41 532.9h1v1h-1zM178.94 555.49h1v1h-1zM160.02 538.83h1v1h-1zM145.67 526.67h1v1h-1zM151.13 536.6h1v1h-1zM173.76 551.2h1v1h-1zM166.38 540.08h1v1h-1zM149.51 551.66h1v1h-1zM148.93 546.28h1v1h-1zM171.13 543.02h1v1h-1zM168.66 533.31h1v1h-1zM141.97 526.19h1v1h-1zM148.86 532.89h1v1h-1zM173.2 570.41h1v1h-1zM142.39 535.58h1v1h-1zM145.67 537.95h1v1h-1zM155.38 555.06h1v1h-1zM196.76 547.22h1v1h-1zM145.92 531.78h1v1h-1zM142.11 540.27h1v1h-1zM143.96 550.95h1v1h-1zM152.02 527.45h1v1h-1zM175.84 526.9h1v1h-1zM145.04 540.21h1v1h-1zM175.62 528.35h1v1h-1zM186.75 530.64h1v1h-1zM152.41 530.49h1v1h-1zM165.17 531.07h1v1h-1zM147.6 543.25h1v1h-1zM154.21 549.87h1v1h-1zM156.05 533.62h1v1h-1zM198.23 528.51h1v1h-1zM166.48 539.31h1v1h-1zM153.12 545.09h1v1h-1zM162.23 566.34h1v1h-1zM149.61 552.58h1v1h-1zM163.15 538.56h1v1h-1zM148.98 528.66h1v1h-1zM182.34 545.41h1v1h-1zM181.54 543.63h1v1h-1zM151.68 531.03h1v1h-1zM145.91 545.06h1v1h-1zM162.13 557.44h1v1h-1zM142.39 558.18h1v1h-1zM145.57 544.14h1v1h-1zM156.31 553.49h1v1h-1zM156.04 533.91h1v1h-1zM175.11 552.86h1v1h-1zM143.45 526.26h1v1h-1zM164.99 547.02h1v1h-1zM176.61 547.7h1v1h-1zM159.06 532.92h1v1h-1zM162.54 530.17h1v1h-1zM148.91 541.06h1v1h-1zM167.59 542.19h1v1h-1zM161.42 536.85h1v1h-1zM185.19 547.38h1v1h-1zM148.22 530.54h1v1h-1zM164.25 531.2h1v1h-1zM170.83 534.23h1v1h-1zM183.09 547.31h1v1h-1zM144.18 529.2h1v1h-1zM155.29 529.87h1v1h-1zM146.03 534.73h1v1h-1zM155.3 563.87h1v1h-1zM151.74 543.73h1v1h-1zM144.32 535.06h1v1h-1zM152.28 534.52h1v1h-1zM190.43 533.69h1v1h-1zM170.27 535.54h1v1h-1zM162.79 545.24h1v1h-1zM147.77 547.74h1v1h-1zM164.56 537.56h1v1h-1zM152.89 526.81h1v1h-1zM145.9 565.33h1v1h-1zM194.57 537.02h1v1h-1zM188.81 546.6h1v1h-1zM146.29 559.54h1v1h-1zM177.75 560.48h1v1h-1zM184.62 541.92h1v1h-1zM178.38 526.3h1v1h-1zM178.72 542.57h1v1h-1zM148.71 546.68h1v1h-1zM157.12 528.59h1v1h-1zM142.13 557.65h1v1h-1zM149.5 536.41h1v1h-1zM148.74 535.84h1v1h-1zM159.05 532.2h1v1h-1zM161.74 539.06h1v1h-1zM155.37 541.12h1v1h-1zM166.89 528.01h1v1h-1zM154.7 530.55h1v1h-1zM144.48 549.34h1v1h-1zM183.03 540.94h1v1h-1zM189.41 552.09h1v1h-1zM184.67 531.84h1v1h-1zM153.87 530.35h1v1h-1zM152.76 533.36h1v1h-1zM144.59 575.7h1v1h-1zM151.41 526.94h1v1h-1zM180.56 536.79h1v1h-1zM151.17 558.17h1v1h-1zM164.97 550.51h1v1h-1zM150.69 561.06h1v1h-1zM149.23 544.04h1v1h-1zM142.3 536.69h1v1h-1zM160.89 569.4h1v1h-1zM162.79 545.36h1v1h-1zM184.35 541.95h1v1h-1zM185.1 537.52h1v1h-1zM151.66 539.64h1v1h-1zM154.32 545.2h1v1h-1zM141.91 530.55h1v1h-1zM154.56 537.84h1v1h-1zM188.91 537.78h1v1h-1zM195.22 547.61h1v1h-1zM169.74 550.55h1v1h-1zM183.61 556.06h1v1h-1zM176.66 526.06h1v1h-1zM160.78 543.12h1v1h-1z" fill="#7070c4" fill-opacity="0.45"/>
<path d="M144.19 545.85h1v1h-1zM146.27 560.15h1v1h-1zM144.92 540.42h1v1h-1zM190.07 569.04h1v1h-1zM153 548.49h1v1h-1zM159.23 558.12h1v1h-1zM152.96 526.03h1v1h-1zM167.18 556.11h1v1h-1zM190.59 530.98h1v1h-1zM142.85 539.81h1v1h-1zM164.26 560.27h1v1h-1zM179.84 532.91h1v1h-1zM142.65 542.68h1v1h-1zM147.93 541.72h1v1h-1zM185.16 570.58h1v1h-1zM164.01 561.38h1v1h-1zM173.51 534h1v1h-1zM171.34 541.65h1v1h-1zM148.56 528.96h1v1h-1zM157.24 543.64h1v1h-1zM145.43 566.36h1v1h-1zM149.79 535.67h1v1h-1zM162.39 546.48h1v1h-1zM156.17 547.4h1v1h-1zM149.91 566.75h1v1h-1zM153.06 545.34h1v1h-1zM149.1 529.89h1v1h-1zM172 536.9h1v1h-1zM180.98 561.27h1v1h-1zM146.58 532.36h1v1h-1zM154.27 544.73h1v1h-1zM177.56 527.73h1v1h-1zM152.16 578.89h1v1h-1zM153.61 533.23h1v1h-1zM187.35 538.96h1v1h-1zM152.98 539.4h1v1h-1zM153.21 530.17h1v1h-1zM154.32 532.86h1v1h-1zM144.66 535.25h1v1h-1zM147.55 537.36h1v1h-1zM168.85 553.35h1v1h-1zM163.69 546.24h1v1h-1zM155.02 535.19h1v1h-1zM157.05 564.29h1v1h-1zM152.92 550.59h1v1h-1zM191.82 531.46h1v1h-1zM148.38 526.08h1v1h-1zM143.13 549.58h1v1h-1zM150.72 559.21h1v1h-1zM170.32 527.33h1v1h-1zM144.53 552.36h1v1h-1zM156.8 555.08h1v1h-1zM169.87 539.02h1v1h-1zM142.6 529.9h1v1h-1zM153.45 544.75h1v1h-1zM154.18 528.5h1v1h-1zM157.13 530.6h1v1h-1zM159.85 551.52h1v1h-1zM159.69 529.9h1v1h-1zM172.78 560.37h1v1h-1zM180.33 538.55h1v1h-1zM166.44 544.37h1v1h-1zM149.78 538.48h1v1h-1zM169.57 540.8h1v1h-1zM147.27 527.12h1v1h-1zM150.56 573.9h1v1h-1zM147.28 550.58h1v1h-1zM148.42 536.13h1v1h-1zM157.04 549.21h1v1h-1zM143.4 533.73h1v1h-1zM159.98 542.74h1v1h-1zM151.72 535.08h1v1h-1zM141.78 546.43h1v1h-1zM152.62 537.63h1v1h-1zM150.29 560.99h1v1h-1zM145.96 536.62h1v1h-1zM146.03 531.25h1v1h-1zM161.17 530.58h1v1h-1zM152.87 527.16h1v1h-1zM153.33 536.2h1v1h-1zM148 547.67h1v1h-1zM145.02 533.6h1v1h-1zM162.63 528.97h1v1h-1zM150.7 545.94h1v1h-1zM181.73 535.87h1v1h-1zM165.05 551.7h1v1h-1zM162.84 533.92h1v1h-1zM201.22 529.44h1v1h-1zM163.92 536.29h1v1h-1zM165.96 541.93h1v1h-1zM163.98 547.65h1v1h-1zM143.9 529.31h1v1h-1zM143.66 549.33h1v1h-1zM191.11 551.89h1v1h-1zM157.08 536.66h1v1h-1zM163.86 536.93h1v1h-1zM185.9 531.33h1v1h-1zM183.66 544.34h1v1h-1zM153.33 547.59h1v1h-1zM148.12 544.55h1v1h-1zM152.15 545.63h1v1h-1zM170.45 530.34h1v1h-1zM170.48 541.83h1v1h-1zM155.46 526.01h1v1h-1zM149.37 538.38h1v1h-1zM150.35 530.05h1v1h-1zM170.56 536.16h1v1h-1zM143.58 562.7h1v1h-1zM153.89 549.59h1v1h-1zM178.73 546.96h1v1h-1zM172.19 530.77h1v1h-1zM164.33 529.28h1v1h-1zM149.72 533.37h1v1h-1zM191.6 535h1v1h-1zM166.85 533.12h1v1h-1zM150.73 528.79h1v1h-1zM142.72 575.74h1v1h-1zM152.38 546.74h1v1h-1zM176.49 534.89h1v1h-1zM167.94 542.63h1v1h-1zM166.72 545.08h1v1h-1zM167.16 550.99h1v1h-1zM165.98 531h1v1h-1zM164.94 542.49h1v1h-1zM153.79 543.28h1v1h-1zM148.61 534.15h1v1h-1zM150.2 548.66h1v1h-1zM162.09 527.21h1v1h-1zM151.67 542.69h1v1h-1zM156.84 546.02h1v1h-1zM169.35 559.26h1v1h-1zM151.79 558.74h1v1h-1zM152.37 527.47h1v1h-1zM171.18 543.91h1v1h-1zM149.11 542.32h1v1h-1zM161.29 528.55h1v1h-1zM146.47 556.1h1v1h-1zM146.44 530.37h1v1h-1zM195.02 542.79h1v1h-1zM153.34 531.36h1v1h-1zM150.54 555.08h1v1h-1zM150.24 533.66h1v1h-1zM162.36 533.38h1v1h-1zM168.17 540.83h1v1h-1zM142.33 537.47h1v1h-1zM155.07 528.79h1v1h-1zM167.97 529.6h1v1h-1zM162.26 542.82h1v1h-1zM148.66 531.75h1v1h-1zM161.48 543.7h1v1h-1zM167.4 534.36h1v1h-1zM167.77 530.42h1v1h-1zM155.01 549.93h1v1h-1zM165.84 543.93h1v1h-1zM155.03 552.81h1v1h-1z" fill="#6464bc" fill-opacity="0.45"/>
<path d="M195.37 517.64h1v1h-1zM181.72 526.36h1v1h-1zM180.92 536.87h1v1h-1zM197.33 530.79h1v1h-1zM189.01 527.83h1v1h-1zM192.39 526.31h1v1h-1zM191.68 513.59h1v1h-1zM180.59 526.13h1v1h-1zM194.58 529.16h1v1h-1zM196.99 536.14h1v1h-1zM194.43 522.01h1v1h-1zM190.77 519.47h1v1h-1zM188.29 531.73h1v1h-1zM190.55 525.51h1v1h-1zM189.44 519.97h1v1h-1zM187.93 522.1h1v1h-1zM183.81 522.38h1v1h-1zM178.41 531.59h1v1h-1zM180.69 532.34h1v1h-1zM182.13 534.52h1v1h-1zM188.89 523.35h1v1h-1zM190.55 545.26h1v1h-1zM180.88 544.48h1v1h-1zM181.86 551.44h1v1h-1zM187.54 535.32h1v1h-1zM189.27 538.81h1v1h-1zM188.94 546.75h1v1h-1zM179.95 543.46h1v1h-1zM184.8 530.99h1v1h-1zM198.33 532.09h1v1h-1zM182.75 545.24h1v1h-1zM188.74 534.5h1v1h-1zM179.55 539.91h1v1h-1zM187.11 530.39h1v1h-1zM195.08 506.48h1v1h-1zM184.7 532.19h1v1h-1zM192.33 517.96h1v1h-1zM187.13 534.46h1v1h-1zM190.42 530.06h1v1h-1zM185.69 546.23h1v1h-1zM182.02 527.86h1v1h-1zM195.05 532.74h1v1h-1zM189.34 530.53h1v1h-1zM191.12 524.33h1v1h-1zM189.24 549.1h1v1h-1zM188.17 524.26h1v1h-1zM183.45 533.27h1v1h-1zM188.37 515.89h1v1h-1zM192.17 527.65h1v1h-1zM189.04 522.27h1v1h-1zM190.67 529.03h1v1h-1zM186.34 542.37h1v1h-1zM191.94 525.74h1v1h-1zM186 512.9h1v1h-1zM184.03 519.81h1v1h-1zM186.57 538.22h1v1h-1zM180.7 534.49h1v1h-1zM194.83 521.84h1v1h-1zM183.45 523.61h1v1h-1zM187.56 528.89h1v1h-1zM181.83 539.65h1v1h-1zM187.44 519.05h1v1h-1zM187.07 529.45h1v1h-1zM190.52 526.53h1v1h-1zM196.8 531.81h1v1h-1zM183.6 526.5h1v1h-1z" fill="#6464bc" fill-opacity="0.6"/>
<path d="M193.56 538.01h1v1h-1zM188.3 526.89h1v1h-1zM190.99 520.35h1v1h-1zM187.25 537.28h1v1h-1zM183.48 532.07h1v1h-1zM186.9 531.58h1v1h-1zM191.04 534.44h1v1h-1zM186.91 534.38h1v1h-1zM187.96 522.98h1v1h-1zM182.26 523.53h1v1h-1zM190.59 525.83h1v1h-1zM189.84 534.42h1v1h-1zM183.77 522.19h1v1h-1zM186.14 530.36h1v1h-1zM185.03 525.24h1v1h-1zM192.3 526.06h1v1h-1zM181.84 513.4h1v1h-1zM194.5 507h1v1h-1zM176.51 529.73h1v1h-1zM185.61 541.93h1v1h-1zM181.23 530.29h1v1h-1zM188.39 534.24h1v1h-1zM189.17 520.88h1v1h-1zM186.41 527.12h1v1h-1zM192.39 528.68h1v1h-1zM185.75 548.29h1v1h-1zM191.12 537.61h1v1h-1zM189.33 518.75h1v1h-1zM188.08 526.24h1v1h-1zM178.62 520.2h1v1h-1zM190.89 544.69h1v1h-1zM188.91 546.76h1v1h-1zM194.63 522h1v1h-1zM190.48 545.16h1v1h-1zM194.23 527.45h1v1h-1zM186.96 546.98h1v1h-1zM182.64 526.21h1v1h-1zM182.8 536.29h1v1h-1zM184.47 530.83h1v1h-1zM195.46 508.52h1v1h-1zM188.23 531.43h1v1h-1zM190.46 526.88h1v1h-1zM191.97 537.58h1v1h-1zM179.77 539.26h1v1h-1zM191.33 531.78h1v1h-1zM189.36 528.38h1v1h-1zM196.73 543.06h1v1h-1zM184.24 533.5h1v1h-1zM193.17 551.17h1v1h-1zM184.85 509.61h1v1h-1zM187.42 532h1v1h-1zM187.33 528.13h1v1h-1zM193.14 532.53h1v1h-1zM189.43 525h1v1h-1zM183.41 535.94h1v1h-1zM187.15 532.09h1v1h-1zM181.51 528.11h1v1h-1zM182.41 535.79h1v1h-1zM180.87 515.05h1v1h-1zM189.7 536.92h1v1h-1zM188.66 539.7h1v1h-1zM188.54 532.52h1v1h-1zM186.06 537.36h1v1h-1zM194.56 520.12h1v1h-1zM185.3 539.52h1v1h-1zM183.08 522.62h1v1h-1zM190.32 523.89h1v1h-1zM175.41 513.08h1v1h-1zM178.55 536.38h1v1h-1z" fill="#4a4ab0" fill-opacity="0.6"/>
<path d="M180.2 539.91h1v1h-1zM188.99 546.75h1v1h-1zM176.53 533.67h1v1h-1zM185.08 526.04h1v1h-1zM186.85 535.56h1v1h-1zM178.62 517.23h1v1h-1zM188.68 554.99h1v1h-1zM190.4 522.58h1v1h-1zM186.05 534.68h1v1h-1zM181.57 543.27h1v1h-1zM182.34 533.09h1v1h-1zM190.9 531.6h1v1h-1zM191.23 552.61h1v1h-1zM188.73 540.89h1v1h-1zM195.83 521.23h1v1h-1zM190.3 543.86h1v1h-1zM180.47 544.29h1v1h-1zM183.63 521.73h1v1h-1zM193.03 522.74h1v1h-1zM181.43 523.54h1v1h-1zM185.89 511.45h1v1h-1zM182.15 537.12h1v1h-1zM189.56 552.52h1v1h-1zM181.21 536.78h1v1h-1zM186.68 530.9h1v1h-1zM186.88 519.83h1v1h-1zM182.36 506.18h1v1h-1zM193.13 531.61h1v1h-1zM186.27 529.35h1v1h-1zM184.17 538.54h1v1h-1zM184.95 528.7h1v1h-1zM182.47 546.91h1v1h-1zM187.92 544.66h1v1h-1zM190.25 529.73h1v1h-1zM181.07 528.7h1v1h-1zM179.01 537.5h1v1h-1zM179.88 521.83h1v1h-1zM188.05 538.33h1v1h-1zM181.95 521.99h1v1h-1zM182.78 537.51h1v1h-1zM190.77 521.82h1v1h-1zM178.56 553.22h1v1h-1zM189.45 523.55h1v1h-1zM179.36 530.83h1v1h-1zM187.94 515.04h1v1h-1zM186.61 537.4h1v1h-1zM186.68 525.51h1v1h-1zM186.63 523.5h1v1h-1zM183.52 547.18h1v1h-1zM189.02 516.56h1v1h-1zM193.58 520.74h1v1h-1zM180.02 540.05h1v1h-1zM185.63 532.87h1v1h-1zM187.86 543.11h1v1h-1zM190.82 551.22h1v1h-1zM187.26 535.72h1v1h-1zM193.12 520.53h1v1h-1zM191.17 532.51h1v1h-1zM179.46 523.98h1v1h-1zM184.5 519.31h1v1h-1zM183.05 533.75h1v1h-1zM188.41 540.42h1v1h-1zM187.99 530.66h1v1h-1zM194.97 530.76h1v1h-1zM194.71 528.86h1v1h-1z" fill="#3a3aa0" fill-opacity="0.6"/>
<path d="M182.97 536.31h1v1h-1zM185.8 527.93h1v1h-1zM190.83 523.22h1v1h-1zM184.58 514.09h1v1h-1zM181.84 521.85h1v1h-1zM181.18 512.49h1v1h-1zM188.55 529.95h1v1h-1zM189.98 535.42h1v1h-1zM177.08 534.59h1v1h-1zM191.6 530.35h1v1h-1zM180.35 527.99h1v1h-1zM183.6 533.51h1v1h-1zM187.79 519.68h1v1h-1zM188.39 519.55h1v1h-1zM188.55 524.74h1v1h-1zM187.43 535.84h1v1h-1zM186.75 530.38h1v1h-1zM182.03 529.25h1v1h-1zM185.19 543.71h1v1h-1zM187.83 541.47h1v1h-1zM189.8 531.92h1v1h-1zM183.74 545.7h1v1h-1zM188.89 534.59h1v1h-1zM182.62 533.11h1v1h-1zM192.93 539.05h1v1h-1zM180.83 542.01h1v1h-1zM185.27 537.84h1v1h-1zM190.66 540.73h1v1h-1zM188.08 531.96h1v1h-1zM183.27 540.57h1v1h-1zM199.77 517.42h1v1h-1zM195.29 529.84h1v1h-1zM187.15 519.6h1v1h-1zM190.24 523.54h1v1h-1zM182.95 511.16h1v1h-1zM184.21 537.75h1v1h-1zM186.19 536.54h1v1h-1zM179.61 529.21h1v1h-1zM196.03 548.64h1v1h-1zM189.63 534.56h1v1h-1zM181.69 536.75h1v1h-1zM189.92 548.22h1v1h-1zM193.39 537.71h1v1h-1zM196.42 536.5h1v1h-1zM182.1 527.04h1v1h-1zM189.41 539.87h1v1h-1zM185.53 525.76h1v1h-1zM187.12 542.9h1v1h-1zM188.33 551.87h1v1h-1zM187.02 552.88h1v1h-1zM185.51 568.96h1v1h-1zM189.66 537.02h1v1h-1zM182.26 517.32h1v1h-1zM188.54 547.04h1v1h-1zM190.9 535.59h1v1h-1zM193.97 542.3h1v1h-1zM188.57 533.78h1v1h-1zM182.23 518.37h1v1h-1zM192.12 537.41h1v1h-1zM182.51 540.05h1v1h-1z" fill="#7070c4" fill-opacity="0.6"/>
<path d="M188.92 540.77h1v1h-1zM188.73 525.99h1v1h-1zM188.6 542.42h1v1h-1zM178.69 528.46h1v1h-1zM196.05 522.91h1v1h-1zM192.01 536.5h1v1h-1zM177.46 533.84h1v1h-1zM179.15 535.26h1v1h-1zM192.97 538.68h1v1h-1zM180.81 535.27h1v1h-1zM184.04 535.34h1v1h-1zM174.7 516.56h1v1h-1zM190.3 523.44h1v1h-1zM188.58 533.05h1v1h-1zM191.84 539.64h1v1h-1zM191.94 524.63h1v1h-1zM185.14 541.14h1v1h-1zM194.71 523.6h1v1h-1zM194.04 512.16h1v1h-1zM187.1 525.03h1v1h-1zM185.19 527.73h1v1h-1zM180.95 504.67h1v1h-1zM180.05 542.04h1v1h-1zM188.73 531.54h1v1h-1zM194.06 539.13h1v1h-1zM187.48 534.66h1v1h-1zM194.64 542.91h1v1h-1zM185.6 530.91h1v1h-1zM191.5 546.11h1v1h-1zM183.36 522.04h1v1h-1zM184.59 539.26h1v1h-1zM181.56 530.5h1v1h-1zM184.57 521.98h1v1h-1zM188.88 527.45h1v1h-1zM190.33 529.71h1v1h-1zM184.33 540.49h1v1h-1zM183.12 538.56h1v1h-1zM195.12 533.64h1v1h-1zM185.62 523.88h1v1h-1zM183.24 527.7h1v1h-1zM182.41 537.49h1v1h-1zM191.8 528.11h1v1h-1zM187.69 531.04h1v1h-1zM179.17 523.13h1v1h-1zM181.66 525.86h1v1h-1zM180.91 526.75h1v1h-1zM180.16 524.44h1v1h-1zM190.08 530.01h1v1h-1zM184.53 542.43h1v1h-1zM182.72 520.24h1v1h-1zM185.75 531.83h1v1h-1zM173.54 536.17h1v1h-1zM178.35 529.24h1v1h-1zM184.87 534.94h1v1h-1zM182.53 543.45h1v1h-1zM187.66 519.9h1v1h-1zM189.69 535.71h1v1h-1zM188.34 523.63h1v1h-1zM169.19 545.52h1v1h-1zM185.19 533.31h1v1h-1zM180.97 529.23h1v1h-1z" fill="#30309a" fill-opacity="0.6"/>
<path d="M186 540.26h1v1h-1zM184.94 519.01h1v1h-1zM177.97 546.64h1v1h-1zM187.31 524.72h1v1h-1zM193.89 544.56h1v1h-1zM187.71 523.19h1v1h-1zM182.22 545.43h1v1h-1zM184.73 530.87h1v1h-1zM185.31 525.7h1v1h-1zM185.57 520.09h1v1h-1zM186.26 525.89h1v1h-1zM193.25 524.01h1v1h-1zM175.73 531.8h1v1h-1zM186.81 538.18h1v1h-1zM184.98 530.79h1v1h-1zM191.9 519.93h1v1h-1zM181.78 530.81h1v1h-1zM182.85 538.52h1v1h-1zM196.4 513.94h1v1h-1zM178.87 528.8h1v1h-1zM187.33 526.51h1v1h-1zM184.97 518.16h1v1h-1zM181.35 523.77h1v1h-1zM176.95 531.01h1v1h-1zM181.47 533.01h1v1h-1zM188.28 537.59h1v1h-1zM187.33 508.8h1v1h-1zM178.1 538.46h1v1h-1zM183.15 527.04h1v1h-1zM187.63 546.94h1v1h-1zM183.69 530.65h1v1h-1zM182.62 520.98h1v1h-1zM182.84 543.44h1v1h-1zM183.65 543.89h1v1h-1zM188.26 536h1v1h-1zM186.22 537.53h1v1h-1zM182.4 548.73h1v1h-1zM186.6 532.06h1v1h-1zM186.92 536.55h1v1h-1zM187.9 533.19h1v1h-1zM181.24 529.73h1v1h-1zM186.8 523.43h1v1h-1zM182.58 563.05h1v1h-1zM187.03 530.92h1v1h-1zM186.52 529.48h1v1h-1zM185.93 532.3h1v1h-1zM195.23 515.16h1v1h-1zM181.27 547.71h1v1h-1zM186.07 538.34h1v1h-1zM185.76 516.17h1v1h-1zM191.97 531.52h1v1h-1zM183.05 528.81h1v1h-1zM183.14 521.31h1v1h-1zM190.34 530.68h1v1h-1zM191.22 505.18h1v1h-1zM192.06 529.18h1v1h-1zM188.79 525.01h1v1h-1zM184.16 529.38h1v1h-1zM183.89 535.67h1v1h-1z" fill="#5a5ab8" fill-opacity="0.6"/>
<ellipse cx="166" cy="510.5" rx="22" ry="6" fill="#4a90c0" fill-opacity="0.3" filter="url(#b2)"/>
<ellipse cx="174.5" cy="509.2" rx="14" ry="4" fill="#78c0b0" fill-opacity="0.7" filter="url(#b1)"/>
<ellipse cx="176.8" cy="508.9" rx="10" ry="3" fill="#a8c850" fill-opacity="0.9" filter="url(#b1)"/>
</g>
<rect x="142.7" y="486" width="98.4" height="97.5" fill="none" stroke="#111" stroke-width="1.2"/>
<line x1="140.1" y1="583.5" x2="142.7" y2="583.5" stroke="#1e1e1e" stroke-width="0.7"/>
<line x1="142.7" y1="583.5" x2="142.7" y2="586.1" stroke="#1e1e1e" stroke-width="0.7"/>
<line x1="141.3" y1="577.12" x2="142.7" y2="577.12" stroke="#1e1e1e" stroke-width="0.7"/>
<line x1="149.14" y1="583.5" x2="149.14" y2="584.9" stroke="#1e1e1e" stroke-width="0.7"/>
<line x1="141.3" y1="573.39" x2="142.7" y2="573.39" stroke="#1e1e1e" stroke-width="0.7"/>
<line x1="152.91" y1="583.5" x2="152.91" y2="584.9" stroke="#1e1e1e" stroke-width="0.7"/>
<line x1="141.3" y1="570.74" x2="142.7" y2="570.74" stroke="#1e1e1e" stroke-width="0.7"/>
<line x1="155.58" y1="583.5" x2="155.58" y2="584.9" stroke="#1e1e1e" stroke-width="0.7"/>
<line x1="141.3" y1="568.68" x2="142.7" y2="568.68" stroke="#1e1e1e" stroke-width="0.7"/>
<line x1="157.65" y1="583.5" x2="157.65" y2="584.9" stroke="#1e1e1e" stroke-width="0.7"/>
<line x1="141.3" y1="567.01" x2="142.7" y2="567.01" stroke="#1e1e1e" stroke-width="0.7"/>
<line x1="159.35" y1="583.5" x2="159.35" y2="584.9" stroke="#1e1e1e" stroke-width="0.7"/>
<line x1="141.3" y1="565.59" x2="142.7" y2="565.59" stroke="#1e1e1e" stroke-width="0.7"/>
<line x1="160.78" y1="583.5" x2="160.78" y2="584.9" stroke="#1e1e1e" stroke-width="0.7"/>
<line x1="141.3" y1="564.36" x2="142.7" y2="564.36" stroke="#1e1e1e" stroke-width="0.7"/>
<line x1="162.02" y1="583.5" x2="162.02" y2="584.9" stroke="#1e1e1e" stroke-width="0.7"/>
<line x1="141.3" y1="563.27" x2="142.7" y2="563.27" stroke="#1e1e1e" stroke-width="0.7"/>
<line x1="163.11" y1="583.5" x2="163.11" y2="584.9" stroke="#1e1e1e" stroke-width="0.7"/>
<line x1="140.1" y1="562.3" x2="142.7" y2="562.3" stroke="#1e1e1e" stroke-width="0.7"/>
<line x1="164.09" y1="583.5" x2="164.09" y2="586.1" stroke="#1e1e1e" stroke-width="0.7"/>
<line x1="141.3" y1="555.92" x2="142.7" y2="555.92" stroke="#1e1e1e" stroke-width="0.7"/>
<line x1="170.53" y1="583.5" x2="170.53" y2="584.9" stroke="#1e1e1e" stroke-width="0.7"/>
<line x1="141.3" y1="552.19" x2="142.7" y2="552.19" stroke="#1e1e1e" stroke-width="0.7"/>
<line x1="174.3" y1="583.5" x2="174.3" y2="584.9" stroke="#1e1e1e" stroke-width="0.7"/>
<line x1="141.3" y1="549.54" x2="142.7" y2="549.54" stroke="#1e1e1e" stroke-width="0.7"/>
<line x1="176.97" y1="583.5" x2="176.97" y2="584.9" stroke="#1e1e1e" stroke-width="0.7"/>
<line x1="141.3" y1="547.49" x2="142.7" y2="547.49" stroke="#1e1e1e" stroke-width="0.7"/>
<line x1="179.04" y1="583.5" x2="179.04" y2="584.9" stroke="#1e1e1e" stroke-width="0.7"/>
<line x1="141.3" y1="545.81" x2="142.7" y2="545.81" stroke="#1e1e1e" stroke-width="0.7"/>
<line x1="180.74" y1="583.5" x2="180.74" y2="584.9" stroke="#1e1e1e" stroke-width="0.7"/>
<line x1="141.3" y1="544.39" x2="142.7" y2="544.39" stroke="#1e1e1e" stroke-width="0.7"/>
<line x1="182.17" y1="583.5" x2="182.17" y2="584.9" stroke="#1e1e1e" stroke-width="0.7"/>
<line x1="141.3" y1="543.16" x2="142.7" y2="543.16" stroke="#1e1e1e" stroke-width="0.7"/>
<line x1="183.41" y1="583.5" x2="183.41" y2="584.9" stroke="#1e1e1e" stroke-width="0.7"/>
<line x1="141.3" y1="542.08" x2="142.7" y2="542.08" stroke="#1e1e1e" stroke-width="0.7"/>
<line x1="184.5" y1="583.5" x2="184.5" y2="584.9" stroke="#1e1e1e" stroke-width="0.7"/>
<line x1="140.1" y1="541.11" x2="142.7" y2="541.11" stroke="#1e1e1e" stroke-width="0.7"/>
<line x1="185.48" y1="583.5" x2="185.48" y2="586.1" stroke="#1e1e1e" stroke-width="0.7"/>
<line x1="141.3" y1="534.73" x2="142.7" y2="534.73" stroke="#1e1e1e" stroke-width="0.7"/>
<line x1="191.92" y1="583.5" x2="191.92" y2="584.9" stroke="#1e1e1e" stroke-width="0.7"/>
<line x1="141.3" y1="531" x2="142.7" y2="531" stroke="#1e1e1e" stroke-width="0.7"/>
<line x1="195.69" y1="583.5" x2="195.69" y2="584.9" stroke="#1e1e1e" stroke-width="0.7"/>
<line x1="141.3" y1="528.35" x2="142.7" y2="528.35" stroke="#1e1e1e" stroke-width="0.7"/>
<line x1="198.36" y1="583.5" x2="198.36" y2="584.9" stroke="#1e1e1e" stroke-width="0.7"/>
<line x1="141.3" y1="526.29" x2="142.7" y2="526.29" stroke="#1e1e1e" stroke-width="0.7"/>
<line x1="200.43" y1="583.5" x2="200.43" y2="584.9" stroke="#1e1e1e" stroke-width="0.7"/>
<line x1="141.3" y1="524.62" x2="142.7" y2="524.62" stroke="#1e1e1e" stroke-width="0.7"/>
<line x1="202.13" y1="583.5" x2="202.13" y2="584.9" stroke="#1e1e1e" stroke-width="0.7"/>
<line x1="141.3" y1="523.2" x2="142.7" y2="523.2" stroke="#1e1e1e" stroke-width="0.7"/>
<line x1="203.56" y1="583.5" x2="203.56" y2="584.9" stroke="#1e1e1e" stroke-width="0.7"/>
<line x1="141.3" y1="521.97" x2="142.7" y2="521.97" stroke="#1e1e1e" stroke-width="0.7"/>
<line x1="204.8" y1="583.5" x2="204.8" y2="584.9" stroke="#1e1e1e" stroke-width="0.7"/>
<line x1="141.3" y1="520.88" x2="142.7" y2="520.88" stroke="#1e1e1e" stroke-width="0.7"/>
<line x1="205.9" y1="583.5" x2="205.9" y2="584.9" stroke="#1e1e1e" stroke-width="0.7"/>
<line x1="140.1" y1="519.91" x2="142.7" y2="519.91" stroke="#1e1e1e" stroke-width="0.7"/>
<line x1="206.87" y1="583.5" x2="206.87" y2="586.1" stroke="#1e1e1e" stroke-width="0.7"/>
<line x1="141.3" y1="513.53" x2="142.7" y2="513.53" stroke="#1e1e1e" stroke-width="0.7"/>
<line x1="213.31" y1="583.5" x2="213.31" y2="584.9" stroke="#1e1e1e" stroke-width="0.7"/>
<line x1="141.3" y1="509.8" x2="142.7" y2="509.8" stroke="#1e1e1e" stroke-width="0.7"/>
<line x1="217.08" y1="583.5" x2="217.08" y2="584.9" stroke="#1e1e1e" stroke-width="0.7"/>
<line x1="141.3" y1="507.15" x2="142.7" y2="507.15" stroke="#1e1e1e" stroke-width="0.7"/>
<line x1="219.75" y1="583.5" x2="219.75" y2="584.9" stroke="#1e1e1e" stroke-width="0.7"/>
<line x1="141.3" y1="505.1" x2="142.7" y2="505.1" stroke="#1e1e1e" stroke-width="0.7"/>
<line x1="221.83" y1="583.5" x2="221.83" y2="584.9" stroke="#1e1e1e" stroke-width="0.7"/>
<line x1="141.3" y1="503.42" x2="142.7" y2="503.42" stroke="#1e1e1e" stroke-width="0.7"/>
<line x1="223.52" y1="583.5" x2="223.52" y2="584.9" stroke="#1e1e1e" stroke-width="0.7"/>
<line x1="141.3" y1="502" x2="142.7" y2="502" stroke="#1e1e1e" stroke-width="0.7"/>
<line x1="224.95" y1="583.5" x2="224.95" y2="584.9" stroke="#1e1e1e" stroke-width="0.7"/>
<line x1="141.3" y1="500.77" x2="142.7" y2="500.77" stroke="#1e1e1e" stroke-width="0.7"/>
<line x1="226.19" y1="583.5" x2="226.19" y2="584.9" stroke="#1e1e1e" stroke-width="0.7"/>
<line x1="141.3" y1="499.69" x2="142.7" y2="499.69" stroke="#1e1e1e" stroke-width="0.7"/>
<line x1="227.29" y1="583.5" x2="227.29" y2="584.9" stroke="#1e1e1e" stroke-width="0.7"/>
<line x1="140.1" y1="498.72" x2="142.7" y2="498.72" stroke="#1e1e1e" stroke-width="0.7"/>
<line x1="228.27" y1="583.5" x2="228.27" y2="586.1" stroke="#1e1e1e" stroke-width="0.7"/>
<line x1="141.3" y1="492.34" x2="142.7" y2="492.34" stroke="#1e1e1e" stroke-width="0.7"/>
<line x1="234.7" y1="583.5" x2="234.7" y2="584.9" stroke="#1e1e1e" stroke-width="0.7"/>
<line x1="141.3" y1="488.6" x2="142.7" y2="488.6" stroke="#1e1e1e" stroke-width="0.7"/>
<line x1="238.47" y1="583.5" x2="238.47" y2="584.9" stroke="#1e1e1e" stroke-width="0.7"/>
<rect x="59.8" y="520.6" width="32.8" height="51.8" fill="none" stroke="#e68ec0" stroke-width="0.95"/>
<rect x="180.9" y="518.8" width="32.8" height="51.6" fill="none" stroke="#e68ec0" stroke-width="0.95"/>
<text x="73.7" y="564.9" font-size="10.4" text-anchor="middle" textLength="26.4" lengthAdjust="spacingAndGlyphs" fill="#1e1e1e">0.826</text>
<text x="199.6" y="564.2" font-size="10.4" text-anchor="middle" textLength="21" lengthAdjust="spacingAndGlyphs" fill="#1e1e1e">2.32</text>
<line x1="11.3" y1="521.5" x2="11.3" y2="493" stroke="#1e1e1e" stroke-width="1"/>
<path d="M11.3,487 L7.9,495 L11.3,493.8 L14.7,495 Z" fill="#111"/>
<text transform="translate(14.3 555.5) rotate(-90)" font-size="8.4" fill="#1e1e1e" textLength="33" lengthAdjust="spacingAndGlyphs">huCD38</text>
<text x="33.8" y="597.7" font-size="8.4" text-anchor="start" textLength="33.5" lengthAdjust="spacingAndGlyphs" fill="#1e1e1e">huCD34</text>
<line x1="68.5" y1="595.5" x2="100" y2="595.5" stroke="#1e1e1e" stroke-width="1"/>
<path d="M106,595.5 L98,592.1 L99.2,595.5 L98,598.9 Z" fill="#111"/>
<line x1="133.9" y1="521.5" x2="133.9" y2="490.8" stroke="#1e1e1e" stroke-width="1"/>
<path d="M133.9,484.8 L130.5,492.8 L133.9,491.6 L137.3,492.8 Z" fill="#111"/>
<text transform="translate(136.9 555.5) rotate(-90)" font-size="8.4" fill="#1e1e1e" textLength="33" lengthAdjust="spacingAndGlyphs">huCD38</text>
<text x="154.6" y="597.3" font-size="8.4" text-anchor="start" textLength="33.5" lengthAdjust="spacingAndGlyphs" fill="#1e1e1e">huCD34</text>
<line x1="187.5" y1="594.8" x2="218.5" y2="594.8" stroke="#1e1e1e" stroke-width="1"/>
<path d="M224.5,594.8 L216.5,591.4 L217.7,594.8 L216.5,598.2 Z" fill="#111"/>
<line x1="301.2" y1="483.6" x2="345.7" y2="483.6" stroke="#333" stroke-width="0.9"/>
<text transform="translate(322.5 481.14) scale(0.86 1)" font-size="7.4" text-anchor="middle" fill="#1e1e1e">***</text>
<line x1="306.15" y1="554.27" x2="306.15" y2="551" stroke="#1e1e1e" stroke-width="1.1"/>
<line x1="298.3" y1="551" x2="314" y2="551" stroke="#1e1e1e" stroke-width="1.1"/>
<line x1="350.3" y1="507.58" x2="350.3" y2="499.6" stroke="#1e1e1e" stroke-width="1.1"/>
<line x1="342.3" y1="499.6" x2="358.5" y2="499.6" stroke="#1e1e1e" stroke-width="1.1"/>
<rect x="290.9" y="554.5" width="30.6" height="37" fill="#4a6088" stroke="#3b4f73" stroke-width="0.7"/>
<rect x="334.9" y="507.3" width="30.8" height="84.2" fill="#a0344a" stroke="#7d2536" stroke-width="0.7"/>
<line x1="284.2" y1="471.2" x2="284.2" y2="591.5" stroke="#1e1e1e" stroke-width="1.3" stroke-linecap="square"/>
<line x1="281" y1="591.5" x2="284.2" y2="591.5" stroke="#1e1e1e" stroke-width="1.3"/>
<text transform="translate(278 594.36) scale(0.86 1)" font-size="8.3" text-anchor="end" fill="#1e1e1e">0.0</text>
<line x1="281" y1="561.95" x2="284.2" y2="561.95" stroke="#1e1e1e" stroke-width="1.3"/>
<text transform="translate(278 564.81) scale(0.86 1)" font-size="8.3" text-anchor="end" fill="#1e1e1e">0.5</text>
<line x1="281" y1="532.4" x2="284.2" y2="532.4" stroke="#1e1e1e" stroke-width="1.3"/>
<text transform="translate(278 535.26) scale(0.86 1)" font-size="8.3" text-anchor="end" fill="#1e1e1e">1.0</text>
<line x1="281" y1="502.85" x2="284.2" y2="502.85" stroke="#1e1e1e" stroke-width="1.3"/>
<text transform="translate(278 505.71) scale(0.86 1)" font-size="8.3" text-anchor="end" fill="#1e1e1e">1.5</text>
<line x1="281" y1="473.3" x2="284.2" y2="473.3" stroke="#1e1e1e" stroke-width="1.3"/>
<text transform="translate(278 476.16) scale(0.86 1)" font-size="8.3" text-anchor="end" fill="#1e1e1e">2.0</text>
<line x1="284.2" y1="591.5" x2="371.6" y2="591.5" stroke="#1e1e1e" stroke-width="1.3" stroke-linecap="square"/>
<line x1="306.2" y1="591.5" x2="306.2" y2="594.7" stroke="#1e1e1e" stroke-width="1.3"/>
<line x1="350.3" y1="591.5" x2="350.3" y2="594.7" stroke="#1e1e1e" stroke-width="1.3"/>
<text x="306.3" y="605.26" font-size="8.3" text-anchor="middle" textLength="13.5" lengthAdjust="spacingAndGlyphs" fill="#1e1e1e">CTR</text>
<text x="350.3" y="605.26" font-size="8.3" text-anchor="middle" textLength="24.5" lengthAdjust="spacingAndGlyphs" fill="#1e1e1e">HMGA2</text>
<text transform="translate(261.6 531.7) rotate(-90)" font-size="9.3" text-anchor="middle" fill="#1e1e1e" textLength="70.5" lengthAdjust="spacingAndGlyphs">hCD34<tspan dy="-3.35" font-size="6.7">+</tspan><tspan dy="3.35">CD38<tspan dy="-3.35" font-size="6.7">-</tspan><tspan dy="3.35"> (%)</tspan></tspan></text>
<text transform="translate(381.9 466.2) scale(0.86 1)" font-size="11.6" text-anchor="start" fill="#1e1e1e">H</text>
<text x="442.3" y="462.56" font-size="8.3" fill="#1e1e1e" textLength="20.8" lengthAdjust="spacingAndGlyphs">2<tspan dy="-2.99" font-size="5.98">o</tspan><tspan dy="2.99"> BM</tspan></text>
<line x1="416" y1="474.3" x2="416" y2="560.3" stroke="#1e1e1e" stroke-width="1.3" stroke-linecap="square"/>
<line x1="412.8" y1="539.26" x2="416" y2="539.26" stroke="#1e1e1e" stroke-width="1.3"/>
<text transform="translate(410.4 542.12) scale(0.86 1)" font-size="8.3" text-anchor="end" fill="#1e1e1e">20</text>
<line x1="412.8" y1="517.72" x2="416" y2="517.72" stroke="#1e1e1e" stroke-width="1.3"/>
<text transform="translate(410.4 520.58) scale(0.86 1)" font-size="8.3" text-anchor="end" fill="#1e1e1e">40</text>
<line x1="412.8" y1="496.18" x2="416" y2="496.18" stroke="#1e1e1e" stroke-width="1.3"/>
<text transform="translate(410.4 499.04) scale(0.86 1)" font-size="8.3" text-anchor="end" fill="#1e1e1e">60</text>
<line x1="412.8" y1="474.64" x2="416" y2="474.64" stroke="#1e1e1e" stroke-width="1.3"/>
<text transform="translate(410.4 477.5) scale(0.86 1)" font-size="8.3" text-anchor="end" fill="#1e1e1e">80</text>
<line x1="412.8" y1="560.3" x2="416" y2="560.3" stroke="#1e1e1e" stroke-width="1.3"/>
<line x1="416" y1="570.3" x2="416" y2="591.8" stroke="#1e1e1e" stroke-width="1.3" stroke-linecap="square"/>
<line x1="412.8" y1="570.3" x2="416" y2="570.3" stroke="#1e1e1e" stroke-width="1.3"/>
<text transform="translate(410.4 573.16) scale(0.86 1)" font-size="8.3" text-anchor="end" fill="#1e1e1e">0.3</text>
<line x1="412.8" y1="591.8" x2="416" y2="591.8" stroke="#1e1e1e" stroke-width="1.3"/>
<text transform="translate(410.4 594.66) scale(0.86 1)" font-size="8.3" text-anchor="end" fill="#1e1e1e">0.0</text>
<line x1="416" y1="591.8" x2="489.1" y2="591.8" stroke="#1e1e1e" stroke-width="1.3" stroke-linecap="square"/>
<line x1="433.8" y1="591.8" x2="433.8" y2="595" stroke="#1e1e1e" stroke-width="1.3"/>
<line x1="470.1" y1="591.8" x2="470.1" y2="595" stroke="#1e1e1e" stroke-width="1.3"/>
<text x="433.8" y="605.96" font-size="8.3" text-anchor="middle" textLength="13.5" lengthAdjust="spacingAndGlyphs" fill="#1e1e1e">CTR</text>
<text x="470.1" y="605.96" font-size="8.3" text-anchor="middle" textLength="24.5" lengthAdjust="spacingAndGlyphs" fill="#1e1e1e">HMGA2</text>
<line x1="416" y1="584.4" x2="489" y2="584.4" stroke="#333" stroke-width="0.8" stroke-dasharray="1 1.1"/>
<text x="484.4" y="581.96" font-size="8.3" text-anchor="middle" textLength="9.5" lengthAdjust="spacingAndGlyphs" fill="#1e1e1e">0.1</text>
<text x="429.8" y="481.76" font-size="8.3" text-anchor="middle" textLength="19.2" lengthAdjust="spacingAndGlyphs" fill="#1e1e1e">11/16</text>
<text x="466.9" y="480.46" font-size="8.3" text-anchor="middle" textLength="19.2" lengthAdjust="spacingAndGlyphs" fill="#1e1e1e">17/17</text>
<line x1="435.2" y1="489.4" x2="467.3" y2="489.4" stroke="#333" stroke-width="0.9"/>
<text transform="translate(448 488.84) scale(0.86 1)" font-size="7.4" text-anchor="middle" fill="#1e1e1e">**</text>
<text transform="translate(394.4 531.9) rotate(-90)" font-size="9.3" text-anchor="middle" fill="#1e1e1e" textLength="83.6" lengthAdjust="spacingAndGlyphs">hCD45<tspan dy="-3.35" font-size="6.7">+</tspan><tspan dy="3.35">Zsgreen<tspan dy="-3.35" font-size="6.7">+</tspan><tspan dy="3.35"> (%)</tspan></tspan></text>
<line x1="430.4" y1="556.2" x2="438.1" y2="556.2" stroke="#1e1e1e" stroke-width="1.2"/>
<line x1="464.4" y1="540.6" x2="476.5" y2="540.6" stroke="#555" stroke-width="1.2"/>
<circle cx="424.7" cy="545.9" r="2.45" fill="#fff" stroke="#5a78a8" stroke-width="0.95"/>
<circle cx="430.4" cy="549.6" r="2.45" fill="#fff" stroke="#5a78a8" stroke-width="0.95"/>
<circle cx="436.5" cy="550.1" r="2.45" fill="#fff" stroke="#5a78a8" stroke-width="0.95"/>
<circle cx="442.7" cy="547.2" r="2.45" fill="#fff" stroke="#5a78a8" stroke-width="0.95"/>
<circle cx="425.5" cy="555.7" r="2.45" fill="#fff" stroke="#5a78a8" stroke-width="0.95"/>
<circle cx="429.3" cy="559.9" r="2.45" fill="#fff" stroke="#5a78a8" stroke-width="0.95"/>
<circle cx="433.2" cy="559.9" r="2.45" fill="#fff" stroke="#5a78a8" stroke-width="0.95"/>
<circle cx="437" cy="559.9" r="2.45" fill="#fff" stroke="#5a78a8" stroke-width="0.95"/>
<circle cx="441.5" cy="559.4" r="2.45" fill="#fff" stroke="#5a78a8" stroke-width="0.95"/>
<circle cx="429.3" cy="573.8" r="2.45" fill="#fff" stroke="#5a78a8" stroke-width="0.95"/>
<circle cx="438.1" cy="574.6" r="2.45" fill="#fff" stroke="#5a78a8" stroke-width="0.95"/>
<circle cx="425.5" cy="587.2" r="2.45" fill="#fff" stroke="#5a78a8" stroke-width="0.95"/>
<circle cx="429.6" cy="587.5" r="2.45" fill="#fff" stroke="#5a78a8" stroke-width="0.95"/>
<circle cx="433.7" cy="589.7" r="2.45" fill="#fff" stroke="#5a78a8" stroke-width="0.95"/>
<circle cx="437.8" cy="588" r="2.45" fill="#fff" stroke="#5a78a8" stroke-width="0.95"/>
<circle cx="441.9" cy="587.5" r="2.45" fill="#fff" stroke="#5a78a8" stroke-width="0.95"/>
<circle cx="470.2" cy="493.5" r="2.6" fill="#a0344a" stroke="#1a1a1a" stroke-width="0.8"/>
<circle cx="461.9" cy="516.7" r="2.6" fill="#a0344a" stroke="#1a1a1a" stroke-width="0.8"/>
<circle cx="466" cy="522.1" r="2.6" fill="#a0344a" stroke="#1a1a1a" stroke-width="0.8"/>
<circle cx="470.2" cy="526" r="2.6" fill="#a0344a" stroke="#1a1a1a" stroke-width="0.8"/>
<circle cx="474" cy="523.1" r="2.6" fill="#a0344a" stroke="#1a1a1a" stroke-width="0.8"/>
<circle cx="477.9" cy="520.2" r="2.6" fill="#a0344a" stroke="#1a1a1a" stroke-width="0.8"/>
<circle cx="470.2" cy="536.2" r="2.6" fill="#a0344a" stroke="#1a1a1a" stroke-width="0.8"/>
<circle cx="466.1" cy="548" r="2.6" fill="#a0344a" stroke="#1a1a1a" stroke-width="0.8"/>
<circle cx="474.2" cy="546" r="2.6" fill="#a0344a" stroke="#1a1a1a" stroke-width="0.8"/>
<circle cx="462.3" cy="554.8" r="2.6" fill="#a0344a" stroke="#1a1a1a" stroke-width="0.8"/>
<circle cx="477.8" cy="554.8" r="2.6" fill="#a0344a" stroke="#1a1a1a" stroke-width="0.8"/>
<circle cx="463.9" cy="559.1" r="2.6" fill="#a0344a" stroke="#1a1a1a" stroke-width="0.8"/>
<circle cx="467.2" cy="560.2" r="2.6" fill="#a0344a" stroke="#1a1a1a" stroke-width="0.8"/>
<circle cx="470.5" cy="560.2" r="2.6" fill="#a0344a" stroke="#1a1a1a" stroke-width="0.8"/>
<circle cx="474.1" cy="558.6" r="2.6" fill="#a0344a" stroke="#1a1a1a" stroke-width="0.8"/>
<circle cx="476" cy="557" r="2.6" fill="#a0344a" stroke="#1a1a1a" stroke-width="0.8"/>
<circle cx="470.2" cy="584.3" r="2.6" fill="#a0344a" stroke="#1a1a1a" stroke-width="0.8"/>
<rect x="0" y="0" width="520" height="1.7" fill="#555"/>
<rect x="0" y="612" width="520" height="2" fill="#555"/>
<rect x="0" y="0" width="1.1" height="614" fill="#111"/>
<rect x="518.9" y="0" width="1.1" height="614" fill="#111"/>
</svg></body></html>
